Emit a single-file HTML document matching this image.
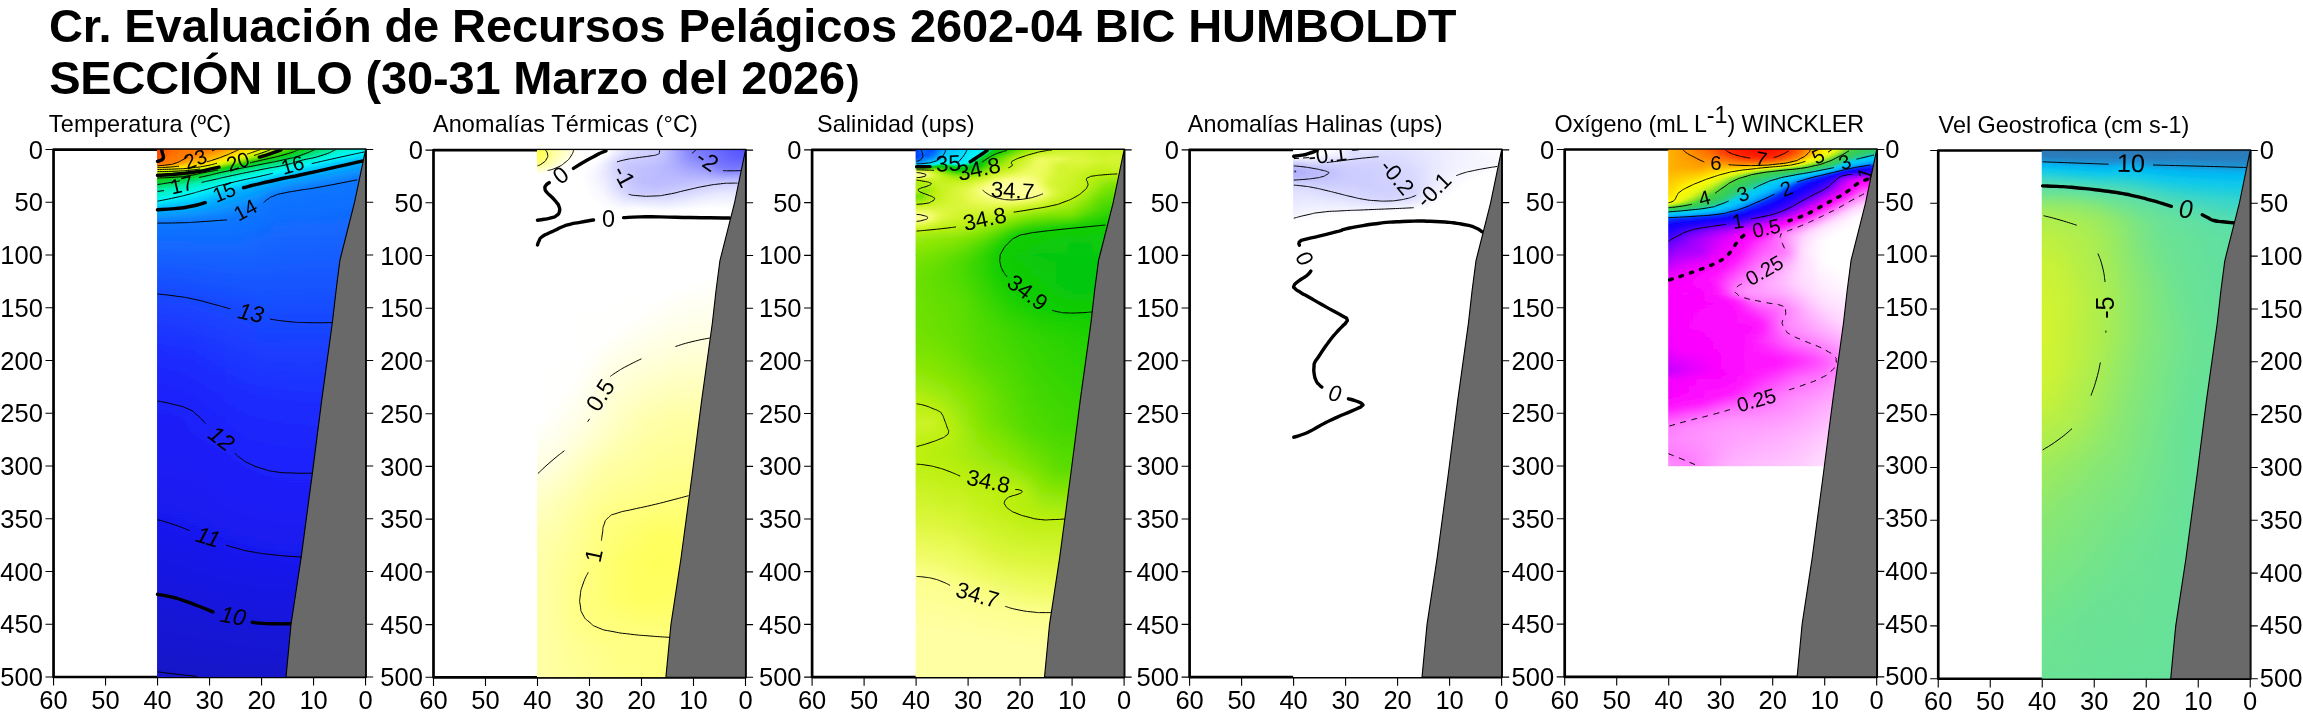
<!DOCTYPE html>
<html><head><meta charset="utf-8"><title>Sección Ilo</title>
<style>
html,body{margin:0;padding:0;background:#fff;}
svg{display:block;opacity:.9999;}
text{font-family:"Liberation Sans",sans-serif;fill:#000;}
.tl{font-size:25.5px;}
.lab{font-size:23.4px;}
.ttl{font-size:47px;font-weight:bold;}
.c0,.c1,.c2,.c3,.c4,.c5{text-anchor:middle;}
.c0{font-size:23px}.c1{font-size:23.4px}.c2{font-size:22.4px}.c3{font-size:22.4px}.c4{font-size:20.4px}.c5{font-size:25.3px}
.th{fill:none;stroke:#000;stroke-width:1;}
.tk{fill:none;stroke:#000;stroke-width:3.4;stroke-linecap:round;stroke-linejoin:round;}
</style></head>
<body>
<svg width="2303" height="718" viewBox="0 0 2303 718">
<rect width="2303" height="718" fill="#fff"/>

<text class="ttl" x="49.0" y="41.8" textLength="1407.5" lengthAdjust="spacing">Cr. Evaluación de Recursos Pelágicos 2602-04 BIC HUMBOLDT</text>
<text class="ttl" x="49.2" y="93.8"><tspan textLength="796" lengthAdjust="spacing">SECCIÓN ILO (30-31 Marzo del 2026</tspan><tspan font-size="40px" dx="1.2">)</tspan></text>
<text class="lab" x="48.8" y="132.3" textLength="182.3" lengthAdjust="spacing">Temperatura (ºC)</text>
<text class="lab" x="432.9" y="132.3" textLength="265.0" lengthAdjust="spacing">Anomalías Térmicas (°C)</text>
<text class="lab" x="817.0" y="132.3" textLength="157.5" lengthAdjust="spacing">Salinidad (ups)</text>
<text class="lab" x="1187.8" y="132.3" textLength="254.8" lengthAdjust="spacing">Anomalías Halinas (ups)</text>
<text class="lab" x="1938.6" y="133.0" textLength="250.6" lengthAdjust="spacing">Vel Geostrofica (cm s-1)</text>
<text class="lab" x="1554.6" y="132.2" textLength="309.5" lengthAdjust="spacing">Oxígeno (mL L<tspan dy="-9.5">-1</tspan><tspan dy="9.5">) WINCKLER</tspan></text>
<g id="p1">
<rect x="53.55" y="149.55" width="312.00" height="527.45" fill="#fff" stroke="#000" stroke-width="2.7" stroke-linejoin="round"/>
<defs><linearGradient id="g0a0" gradientUnits="userSpaceOnUse" x1="0" y1="149.55" x2="0" y2="238.80"><stop offset="0" stop-color="#ff3f00"/><stop offset=".112" stop-color="#ff4c00"/><stop offset=".146" stop-color="#ff6300"/><stop offset=".169" stop-color="#ff7800"/><stop offset=".18" stop-color="#ff8d00"/><stop offset=".191" stop-color="#ffb300"/><stop offset=".213" stop-color="#ffe800"/><stop offset=".225" stop-color="#f4f300"/><stop offset=".236" stop-color="#e1f400"/><stop offset=".281" stop-color="#8be300"/><stop offset=".315" stop-color="#19ca01"/><stop offset=".382" stop-color="#01d643"/><stop offset=".461" stop-color="#00efb2"/><stop offset=".573" stop-color="#00f9fa"/><stop offset=".674" stop-color="#00b2ff"/><stop offset=".82" stop-color="#0f76ff"/><stop offset="1" stop-color="#116cff"/></linearGradient><linearGradient id="g0a1" gradientUnits="userSpaceOnUse" x1="0" y1="149.55" x2="0" y2="238.80"><stop offset="0" stop-color="#ff3f00"/><stop offset=".112" stop-color="#ff4c00"/><stop offset=".146" stop-color="#ff6300"/><stop offset=".169" stop-color="#ff7800"/><stop offset=".18" stop-color="#ff8d00"/><stop offset=".191" stop-color="#ffb300"/><stop offset=".213" stop-color="#ffe800"/><stop offset=".225" stop-color="#f4f300"/><stop offset=".236" stop-color="#e1f400"/><stop offset=".281" stop-color="#8be300"/><stop offset=".315" stop-color="#19ca01"/><stop offset=".382" stop-color="#01d643"/><stop offset=".461" stop-color="#00efb2"/><stop offset=".573" stop-color="#00f9fa"/><stop offset=".674" stop-color="#00b2ff"/><stop offset=".82" stop-color="#0f76ff"/><stop offset="1" stop-color="#116cff"/></linearGradient><linearGradient id="g0a2" gradientUnits="userSpaceOnUse" x1="0" y1="149.55" x2="0" y2="238.80"><stop offset="0" stop-color="#ff3f00"/><stop offset=".112" stop-color="#ff4c00"/><stop offset=".146" stop-color="#ff6300"/><stop offset=".169" stop-color="#ff7800"/><stop offset=".18" stop-color="#ff8d00"/><stop offset=".191" stop-color="#ffb300"/><stop offset=".213" stop-color="#ffe800"/><stop offset=".225" stop-color="#f4f300"/><stop offset=".236" stop-color="#e1f400"/><stop offset=".281" stop-color="#8be300"/><stop offset=".315" stop-color="#19ca01"/><stop offset=".382" stop-color="#01d643"/><stop offset=".461" stop-color="#00efb2"/><stop offset=".573" stop-color="#00f9fa"/><stop offset=".674" stop-color="#00b2ff"/><stop offset=".82" stop-color="#0f76ff"/><stop offset="1" stop-color="#116cff"/></linearGradient><linearGradient id="g0a3" gradientUnits="userSpaceOnUse" x1="0" y1="149.55" x2="0" y2="238.80"><stop offset="0" stop-color="#ff4200"/><stop offset=".101" stop-color="#ff5100"/><stop offset=".169" stop-color="#ff7a00"/><stop offset=".18" stop-color="#ff9300"/><stop offset=".191" stop-color="#ffb700"/><stop offset=".202" stop-color="#ffd300"/><stop offset=".213" stop-color="#ffea00"/><stop offset=".236" stop-color="#dff400"/><stop offset=".281" stop-color="#89e200"/><stop offset=".303" stop-color="#38d100"/><stop offset=".315" stop-color="#18ca03"/><stop offset=".382" stop-color="#00d746"/><stop offset=".461" stop-color="#00f0b5"/><stop offset=".573" stop-color="#00f7fa"/><stop offset=".674" stop-color="#01b2ff"/><stop offset=".82" stop-color="#0f76ff"/><stop offset="1" stop-color="#116cff"/></linearGradient><linearGradient id="g0a4" gradientUnits="userSpaceOnUse" x1="0" y1="149.55" x2="0" y2="238.80"><stop offset="0" stop-color="#ff5000"/><stop offset=".09" stop-color="#ff6500"/><stop offset=".169" stop-color="#ff8100"/><stop offset=".191" stop-color="#ffc100"/><stop offset=".213" stop-color="#ffef00"/><stop offset=".236" stop-color="#dcf500"/><stop offset=".27" stop-color="#99e600"/><stop offset=".281" stop-color="#7fe000"/><stop offset=".303" stop-color="#2cce00"/><stop offset=".315" stop-color="#17cb06"/><stop offset=".371" stop-color="#02d642"/><stop offset=".449" stop-color="#00f0b2"/><stop offset=".562" stop-color="#00f8fa"/><stop offset=".663" stop-color="#00b5ff"/><stop offset=".82" stop-color="#0f76ff"/><stop offset="1" stop-color="#116cff"/></linearGradient><linearGradient id="g0a5" gradientUnits="userSpaceOnUse" x1="0" y1="149.55" x2="0" y2="238.80"><stop offset="0" stop-color="#ff5f00"/><stop offset=".157" stop-color="#ff7d00"/><stop offset=".169" stop-color="#ff8f00"/><stop offset=".191" stop-color="#ffc800"/><stop offset=".213" stop-color="#fef200"/><stop offset=".236" stop-color="#d8f500"/><stop offset=".27" stop-color="#94e500"/><stop offset=".281" stop-color="#74de00"/><stop offset=".303" stop-color="#20cb00"/><stop offset=".315" stop-color="#15cc0b"/><stop offset=".371" stop-color="#00d84b"/><stop offset=".438" stop-color="#00efaf"/><stop offset=".551" stop-color="#00f9fa"/><stop offset=".663" stop-color="#00b3ff"/><stop offset=".809" stop-color="#0e79ff"/><stop offset="1" stop-color="#116cff"/></linearGradient><linearGradient id="g0a6" gradientUnits="userSpaceOnUse" x1="0" y1="149.55" x2="0" y2="238.80"><stop offset="0" stop-color="#ff6700"/><stop offset=".157" stop-color="#ff8100"/><stop offset=".191" stop-color="#ffcd00"/><stop offset=".213" stop-color="#fbf200"/><stop offset=".236" stop-color="#d3f400"/><stop offset=".27" stop-color="#8ee400"/><stop offset=".303" stop-color="#18ca02"/><stop offset=".36" stop-color="#00d746"/><stop offset=".438" stop-color="#00f0b7"/><stop offset=".539" stop-color="#00f9f9"/><stop offset=".652" stop-color="#00b6ff"/><stop offset=".809" stop-color="#0e78ff"/><stop offset="1" stop-color="#116cff"/></linearGradient><linearGradient id="g0a7" gradientUnits="userSpaceOnUse" x1="0" y1="149.55" x2="0" y2="238.80"><stop offset="0" stop-color="#ff6b00"/><stop offset=".146" stop-color="#ff8000"/><stop offset=".202" stop-color="#ffe600"/><stop offset=".213" stop-color="#f7f300"/><stop offset=".236" stop-color="#cff300"/><stop offset=".27" stop-color="#87e200"/><stop offset=".292" stop-color="#31cf00"/><stop offset=".303" stop-color="#17cb07"/><stop offset=".348" stop-color="#02d641"/><stop offset=".427" stop-color="#00f0b6"/><stop offset=".528" stop-color="#00f9f9"/><stop offset=".652" stop-color="#00b4ff"/><stop offset=".809" stop-color="#0f78ff"/><stop offset="1" stop-color="#116cff"/></linearGradient><linearGradient id="g0a8" gradientUnits="userSpaceOnUse" x1="0" y1="149.55" x2="0" y2="238.80"><stop offset="0" stop-color="#ff7000"/><stop offset=".124" stop-color="#ff7e00"/><stop offset=".135" stop-color="#ff8600"/><stop offset=".202" stop-color="#ffea00"/><stop offset=".213" stop-color="#f4f300"/><stop offset=".225" stop-color="#e0f400"/><stop offset=".258" stop-color="#99e600"/><stop offset=".27" stop-color="#7bdf00"/><stop offset=".292" stop-color="#24cc00"/><stop offset=".303" stop-color="#15cc0c"/><stop offset=".348" stop-color="#00d84b"/><stop offset=".416" stop-color="#00f0b3"/><stop offset=".517" stop-color="#00faf8"/><stop offset=".652" stop-color="#01b2ff"/><stop offset=".809" stop-color="#0f77ff"/><stop offset="1" stop-color="#116cff"/></linearGradient><linearGradient id="g0a9" gradientUnits="userSpaceOnUse" x1="0" y1="149.55" x2="0" y2="238.80"><stop offset="0" stop-color="#ff7300"/><stop offset=".112" stop-color="#ff8200"/><stop offset=".169" stop-color="#ffc100"/><stop offset=".202" stop-color="#fe0"/><stop offset=".225" stop-color="#dcf500"/><stop offset=".258" stop-color="#8ce300"/><stop offset=".292" stop-color="#19ca01"/><stop offset=".337" stop-color="#01d746"/><stop offset=".404" stop-color="#00efb0"/><stop offset=".506" stop-color="#00faf7"/><stop offset=".64" stop-color="#00b5ff"/><stop offset=".809" stop-color="#0f76ff"/><stop offset="1" stop-color="#116cff"/></linearGradient><linearGradient id="g0a10" gradientUnits="userSpaceOnUse" x1="0" y1="149.55" x2="0" y2="238.80"><stop offset="0" stop-color="#ff7600"/><stop offset=".09" stop-color="#ff8000"/><stop offset=".169" stop-color="#ffc800"/><stop offset=".202" stop-color="#fff100"/><stop offset=".225" stop-color="#d8f500"/><stop offset=".258" stop-color="#7adf00"/><stop offset=".281" stop-color="#31cf00"/><stop offset=".292" stop-color="#17cb07"/><stop offset=".326" stop-color="#02d63f"/><stop offset=".393" stop-color="#00eeac"/><stop offset=".404" stop-color="#00f1b8"/><stop offset=".506" stop-color="#00f7fa"/><stop offset=".64" stop-color="#00b3ff"/><stop offset=".809" stop-color="#0f76ff"/><stop offset="1" stop-color="#116cff"/></linearGradient><linearGradient id="g0a11" gradientUnits="userSpaceOnUse" x1="0" y1="149.55" x2="0" y2="238.80"><stop offset="0" stop-color="#ff7800"/><stop offset=".079" stop-color="#ff8300"/><stop offset=".157" stop-color="#ffc300"/><stop offset=".202" stop-color="#fbf200"/><stop offset=".225" stop-color="#d0f300"/><stop offset=".281" stop-color="#1fcc01"/><stop offset=".292" stop-color="#13cd11"/><stop offset=".326" stop-color="#00d84c"/><stop offset=".393" stop-color="#00f0b7"/><stop offset=".494" stop-color="#00f7fa"/><stop offset=".629" stop-color="#00b5ff"/><stop offset=".809" stop-color="#0f76ff"/><stop offset="1" stop-color="#116cff"/></linearGradient><linearGradient id="g0a12" gradientUnits="userSpaceOnUse" x1="0" y1="149.55" x2="0" y2="238.80"><stop offset="0" stop-color="#ff7900"/><stop offset=".056" stop-color="#ff7e00"/><stop offset=".067" stop-color="#ff8400"/><stop offset=".157" stop-color="#ffc800"/><stop offset=".191" stop-color="#ffed00"/><stop offset=".213" stop-color="#dff400"/><stop offset=".225" stop-color="#c1f000"/><stop offset=".27" stop-color="#25cd00"/><stop offset=".281" stop-color="#14cc0d"/><stop offset=".315" stop-color="#00d748"/><stop offset=".382" stop-color="#00f0b7"/><stop offset=".483" stop-color="#00f7fa"/><stop offset=".618" stop-color="#00b5ff"/><stop offset=".798" stop-color="#0e78ff"/><stop offset="1" stop-color="#116cff"/></linearGradient><linearGradient id="g0a13" gradientUnits="userSpaceOnUse" x1="0" y1="149.55" x2="0" y2="238.80"><stop offset="0" stop-color="#ff7b00"/><stop offset=".045" stop-color="#ff7f00"/><stop offset=".056" stop-color="#ff8500"/><stop offset=".146" stop-color="#ffc300"/><stop offset=".191" stop-color="#fef100"/><stop offset=".213" stop-color="#d6f400"/><stop offset=".236" stop-color="#87e200"/><stop offset=".258" stop-color="#2ecf00"/><stop offset=".27" stop-color="#16cc0a"/><stop offset=".303" stop-color="#01d643"/><stop offset=".371" stop-color="#00f0b7"/><stop offset=".461" stop-color="#00f9f7"/><stop offset=".607" stop-color="#00b5ff"/><stop offset=".798" stop-color="#0f78ff"/><stop offset="1" stop-color="#116cff"/></linearGradient><linearGradient id="g0a14" gradientUnits="userSpaceOnUse" x1="0" y1="149.55" x2="0" y2="238.80"><stop offset="0" stop-color="#ff7c00"/><stop offset=".034" stop-color="#ff7f00"/><stop offset=".045" stop-color="#ff8600"/><stop offset=".146" stop-color="#ffc800"/><stop offset=".18" stop-color="#ffeb00"/><stop offset=".191" stop-color="#f7f300"/><stop offset=".202" stop-color="#e3f400"/><stop offset=".213" stop-color="#c6f100"/><stop offset=".247" stop-color="#39d100"/><stop offset=".258" stop-color="#17cb06"/><stop offset=".303" stop-color="#00da52"/><stop offset=".36" stop-color="#00f0b6"/><stop offset=".449" stop-color="#00f9f8"/><stop offset=".596" stop-color="#00b5ff"/><stop offset=".798" stop-color="#0f77ff"/><stop offset="1" stop-color="#116cff"/></linearGradient><linearGradient id="g0a15" gradientUnits="userSpaceOnUse" x1="0" y1="149.55" x2="0" y2="238.80"><stop offset="0" stop-color="#ff7d00"/><stop offset=".022" stop-color="#ff8000"/><stop offset=".124" stop-color="#ffc000"/><stop offset=".169" stop-color="#ffea00"/><stop offset=".18" stop-color="#f9f200"/><stop offset=".202" stop-color="#cef300"/><stop offset=".247" stop-color="#19cb04"/><stop offset=".292" stop-color="#00d94f"/><stop offset=".348" stop-color="#00f0b5"/><stop offset=".438" stop-color="#00f9f9"/><stop offset=".584" stop-color="#00b3ff"/><stop offset=".798" stop-color="#0f76ff"/><stop offset="1" stop-color="#116cff"/></linearGradient><linearGradient id="g0a16" gradientUnits="userSpaceOnUse" x1="0" y1="149.55" x2="0" y2="238.80"><stop offset="0" stop-color="#ff7e00"/><stop offset=".112" stop-color="#ffc300"/><stop offset=".157" stop-color="#ffed00"/><stop offset=".169" stop-color="#f6f300"/><stop offset=".191" stop-color="#cff300"/><stop offset=".213" stop-color="#7ce000"/><stop offset=".236" stop-color="#1ccb03"/><stop offset=".281" stop-color="#00d94d"/><stop offset=".337" stop-color="#00f0b4"/><stop offset=".427" stop-color="#00f9f9"/><stop offset=".562" stop-color="#00b5ff"/><stop offset=".787" stop-color="#0e78ff"/><stop offset="1" stop-color="#116cff"/></linearGradient><linearGradient id="g0a17" gradientUnits="userSpaceOnUse" x1="0" y1="149.55" x2="0" y2="238.80"><stop offset="0" stop-color="#ff8300"/><stop offset=".101" stop-color="#ffc600"/><stop offset=".146" stop-color="#feef00"/><stop offset=".157" stop-color="#f4f300"/><stop offset=".18" stop-color="#cff300"/><stop offset=".202" stop-color="#81e100"/><stop offset=".225" stop-color="#20cc01"/><stop offset=".236" stop-color="#13cd12"/><stop offset=".27" stop-color="#00d84b"/><stop offset=".326" stop-color="#00efb2"/><stop offset=".416" stop-color="#00f9f9"/><stop offset=".551" stop-color="#00b3ff"/><stop offset=".787" stop-color="#0f78ff"/><stop offset="1" stop-color="#116cff"/></linearGradient><linearGradient id="g0a18" gradientUnits="userSpaceOnUse" x1="0" y1="149.55" x2="0" y2="238.80"><stop offset="0" stop-color="#ff8d00"/><stop offset=".079" stop-color="#ffc100"/><stop offset=".135" stop-color="#fdf000"/><stop offset=".157" stop-color="#e3f400"/><stop offset=".169" stop-color="#cff300"/><stop offset=".191" stop-color="#86e200"/><stop offset=".213" stop-color="#25cd01"/><stop offset=".225" stop-color="#14cd0f"/><stop offset=".258" stop-color="#00d849"/><stop offset=".315" stop-color="#00efaf"/><stop offset=".404" stop-color="#00f8fa"/><stop offset=".528" stop-color="#00b5ff"/><stop offset=".787" stop-color="#0f77ff"/><stop offset="1" stop-color="#116cff"/></linearGradient><linearGradient id="g0a19" gradientUnits="userSpaceOnUse" x1="0" y1="149.55" x2="0" y2="238.80"><stop offset="0" stop-color="#ff9700"/><stop offset=".067" stop-color="#ffc400"/><stop offset=".124" stop-color="#fcf100"/><stop offset=".157" stop-color="#d0f300"/><stop offset=".18" stop-color="#8ae300"/><stop offset=".202" stop-color="#2ace00"/><stop offset=".213" stop-color="#14cc0d"/><stop offset=".247" stop-color="#01d748"/><stop offset=".303" stop-color="#00eead"/><stop offset=".393" stop-color="#00f8fa"/><stop offset=".506" stop-color="#00b7ff"/><stop offset=".528" stop-color="#01b0ff"/><stop offset=".787" stop-color="#0f76ff"/><stop offset="1" stop-color="#116cff"/></linearGradient><linearGradient id="g0a20" gradientUnits="userSpaceOnUse" x1="0" y1="149.55" x2="0" y2="238.80"><stop offset="0" stop-color="#ffa200"/><stop offset=".101" stop-color="#ffec00"/><stop offset=".112" stop-color="#faf200"/><stop offset=".135" stop-color="#e0f400"/><stop offset=".146" stop-color="#cdf200"/><stop offset=".169" stop-color="#8ee400"/><stop offset=".191" stop-color="#31cf00"/><stop offset=".202" stop-color="#15cc0a"/><stop offset=".236" stop-color="#01d746"/><stop offset=".292" stop-color="#0ea"/><stop offset=".303" stop-color="#00f1b9"/><stop offset=".382" stop-color="#00f7fa"/><stop offset=".506" stop-color="#01b1ff"/><stop offset=".787" stop-color="#0f76ff"/><stop offset="1" stop-color="#116cff"/></linearGradient><linearGradient id="g0a21" gradientUnits="userSpaceOnUse" x1="0" y1="149.55" x2="0" y2="238.80"><stop offset="0" stop-color="#ffaf00"/><stop offset=".09" stop-color="#fe0"/><stop offset=".101" stop-color="#f8f300"/><stop offset=".124" stop-color="#def500"/><stop offset=".135" stop-color="#c9f200"/><stop offset=".157" stop-color="#91e400"/><stop offset=".18" stop-color="#37d100"/><stop offset=".191" stop-color="#16cb07"/><stop offset=".225" stop-color="#01d643"/><stop offset=".292" stop-color="#00f1b8"/><stop offset=".371" stop-color="#00f7fa"/><stop offset=".483" stop-color="#00b3ff"/><stop offset=".775" stop-color="#0f76ff"/><stop offset="1" stop-color="#116cff"/></linearGradient><linearGradient id="g0a22" gradientUnits="userSpaceOnUse" x1="0" y1="149.55" x2="0" y2="238.80"><stop offset="0" stop-color="#ffbc00"/><stop offset=".079" stop-color="#fef000"/><stop offset=".09" stop-color="#f6f300"/><stop offset=".112" stop-color="#daf400"/><stop offset=".146" stop-color="#93e500"/><stop offset=".18" stop-color="#18cb05"/><stop offset=".213" stop-color="#03d63f"/><stop offset=".281" stop-color="#00f0b6"/><stop offset=".36" stop-color="#00f8fa"/><stop offset=".449" stop-color="#00baff"/><stop offset=".472" stop-color="#01b1ff"/><stop offset=".753" stop-color="#0f77ff"/><stop offset="1" stop-color="#116bff"/></linearGradient><linearGradient id="g0a23" gradientUnits="userSpaceOnUse" x1="0" y1="149.55" x2="0" y2="238.80"><stop offset="0" stop-color="#ffc900"/><stop offset=".067" stop-color="#fef100"/><stop offset=".09" stop-color="#e6f400"/><stop offset=".101" stop-color="#d7f400"/><stop offset=".135" stop-color="#94e500"/><stop offset=".146" stop-color="#72dd00"/><stop offset=".169" stop-color="#1acb03"/><stop offset=".213" stop-color="#00d94f"/><stop offset=".27" stop-color="#00f0b3"/><stop offset=".348" stop-color="#00f8fa"/><stop offset=".449" stop-color="#00b2ff"/><stop offset=".742" stop-color="#0f77ff"/><stop offset="1" stop-color="#116bff"/></linearGradient><linearGradient id="g0a24" gradientUnits="userSpaceOnUse" x1="0" y1="149.55" x2="0" y2="238.80"><stop offset="0" stop-color="#ffd200"/><stop offset=".056" stop-color="#fcf200"/><stop offset=".079" stop-color="#e3f400"/><stop offset=".09" stop-color="#d4f400"/><stop offset=".124" stop-color="#91e400"/><stop offset=".135" stop-color="#70dd00"/><stop offset=".157" stop-color="#1ecb02"/><stop offset=".202" stop-color="#00d84a"/><stop offset=".258" stop-color="#00efb0"/><stop offset=".337" stop-color="#00f9f9"/><stop offset=".416" stop-color="#0bf"/><stop offset=".438" stop-color="#01b1ff"/><stop offset=".73" stop-color="#0f77ff"/><stop offset="1" stop-color="#116bff"/></linearGradient><linearGradient id="g0a25" gradientUnits="userSpaceOnUse" x1="0" y1="149.55" x2="0" y2="238.80"><stop offset="0" stop-color="#ffdb00"/><stop offset=".045" stop-color="#faf200"/><stop offset=".067" stop-color="#e0f400"/><stop offset=".079" stop-color="#d0f300"/><stop offset=".112" stop-color="#8ee400"/><stop offset=".146" stop-color="#21cc01"/><stop offset=".157" stop-color="#14cd0f"/><stop offset=".191" stop-color="#01d746"/><stop offset=".247" stop-color="#00eead"/><stop offset=".326" stop-color="#00f9f9"/><stop offset=".404" stop-color="#00baff"/><stop offset=".427" stop-color="#01b1ff"/><stop offset=".708" stop-color="#0f77ff"/><stop offset="1" stop-color="#126aff"/></linearGradient><linearGradient id="g0a26" gradientUnits="userSpaceOnUse" x1="0" y1="149.55" x2="0" y2="238.80"><stop offset="0" stop-color="#ffe300"/><stop offset=".022" stop-color="#ffef00"/><stop offset=".034" stop-color="#f7f300"/><stop offset=".067" stop-color="#ccf200"/><stop offset=".101" stop-color="#8be300"/><stop offset=".135" stop-color="#24cc00"/><stop offset=".146" stop-color="#14cc0d"/><stop offset=".18" stop-color="#02d642"/><stop offset=".236" stop-color="#00eea9"/><stop offset=".247" stop-color="#00f1b9"/><stop offset=".315" stop-color="#00f9f8"/><stop offset=".404" stop-color="#00b3ff"/><stop offset=".674" stop-color="#0e78ff"/><stop offset="1" stop-color="#126aff"/></linearGradient><linearGradient id="g0a27" gradientUnits="userSpaceOnUse" x1="0" y1="149.55" x2="0" y2="238.80"><stop offset="0" stop-color="#ffeb00"/><stop offset=".011" stop-color="#fef100"/><stop offset=".022" stop-color="#f3f300"/><stop offset=".056" stop-color="#c7f100"/><stop offset=".09" stop-color="#88e200"/><stop offset=".124" stop-color="#27cd00"/><stop offset=".135" stop-color="#15cc0a"/><stop offset=".18" stop-color="#00da52"/><stop offset=".236" stop-color="#00f0b7"/><stop offset=".303" stop-color="#00f9f7"/><stop offset=".315" stop-color="#00f3fb"/><stop offset=".393" stop-color="#00b3ff"/><stop offset=".652" stop-color="#0f78ff"/><stop offset="1" stop-color="#1269ff"/></linearGradient><linearGradient id="g0a28" gradientUnits="userSpaceOnUse" x1="0" y1="149.55" x2="0" y2="238.80"><stop offset="0" stop-color="#fcf200"/><stop offset=".034" stop-color="#d6f400"/><stop offset=".067" stop-color="#9ae700"/><stop offset=".079" stop-color="#84e100"/><stop offset=".112" stop-color="#2ace00"/><stop offset=".124" stop-color="#16cb08"/><stop offset=".169" stop-color="#00d94e"/><stop offset=".225" stop-color="#00f0b5"/><stop offset=".292" stop-color="#00f9f6"/><stop offset=".303" stop-color="#00f4fa"/><stop offset=".382" stop-color="#00b3ff"/><stop offset=".618" stop-color="#0e78ff"/><stop offset="1" stop-color="#1268ff"/></linearGradient><linearGradient id="g0a29" gradientUnits="userSpaceOnUse" x1="0" y1="149.55" x2="0" y2="238.80"><stop offset="0" stop-color="#edf300"/><stop offset=".022" stop-color="#d1f300"/><stop offset=".056" stop-color="#93e500"/><stop offset=".101" stop-color="#2ace00"/><stop offset=".112" stop-color="#17cb06"/><stop offset=".157" stop-color="#00d84a"/><stop offset=".213" stop-color="#00efb2"/><stop offset=".281" stop-color="#00f9f5"/><stop offset=".292" stop-color="#00f4fa"/><stop offset=".371" stop-color="#00b3ff"/><stop offset=".584" stop-color="#0e79ff"/><stop offset="1" stop-color="#1267ff"/></linearGradient><linearGradient id="g0a30" gradientUnits="userSpaceOnUse" x1="0" y1="149.55" x2="0" y2="238.80"><stop offset="0" stop-color="#ddf500"/><stop offset=".034" stop-color="#a1e800"/><stop offset=".09" stop-color="#29cd00"/><stop offset=".101" stop-color="#17cb06"/><stop offset=".146" stop-color="#01d746"/><stop offset=".202" stop-color="#00efae"/><stop offset=".27" stop-color="#00f9f5"/><stop offset=".281" stop-color="#00f5fa"/><stop offset=".36" stop-color="#00b4ff"/><stop offset=".562" stop-color="#0f77ff"/><stop offset="1" stop-color="#1267ff"/></linearGradient><linearGradient id="g0a31" gradientUnits="userSpaceOnUse" x1="0" y1="149.55" x2="0" y2="238.80"><stop offset="0" stop-color="#c6f100"/><stop offset=".079" stop-color="#28cd00"/><stop offset=".09" stop-color="#17cb05"/><stop offset=".135" stop-color="#01d643"/><stop offset=".202" stop-color="#00f1b9"/><stop offset=".258" stop-color="#00f9f4"/><stop offset=".27" stop-color="#00f6fa"/><stop offset=".348" stop-color="#00b4ff"/><stop offset=".528" stop-color="#0f78ff"/><stop offset="1" stop-color="#1266ff"/></linearGradient><linearGradient id="g0a32" gradientUnits="userSpaceOnUse" x1="0" y1="149.55" x2="0" y2="238.80"><stop offset="0" stop-color="#a7ea00"/><stop offset=".067" stop-color="#28cd00"/><stop offset=".079" stop-color="#18cb04"/><stop offset=".124" stop-color="#02d640"/><stop offset=".191" stop-color="#00f0b7"/><stop offset=".247" stop-color="#00f9f4"/><stop offset=".258" stop-color="#00f6fa"/><stop offset=".337" stop-color="#00b5ff"/><stop offset=".517" stop-color="#0f76ff"/><stop offset="1" stop-color="#1366ff"/></linearGradient><linearGradient id="g0a33" gradientUnits="userSpaceOnUse" x1="0" y1="149.55" x2="0" y2="238.80"><stop offset="0" stop-color="#87e200"/><stop offset=".067" stop-color="#18cb04"/><stop offset=".124" stop-color="#00d94f"/><stop offset=".18" stop-color="#00f0b3"/><stop offset=".236" stop-color="#00f9f4"/><stop offset=".247" stop-color="#00f5fa"/><stop offset=".326" stop-color="#00b6ff"/><stop offset=".506" stop-color="#0f76ff"/><stop offset="1" stop-color="#1366ff"/></linearGradient><linearGradient id="g0a34" gradientUnits="userSpaceOnUse" x1="0" y1="149.55" x2="0" y2="238.80"><stop offset="0" stop-color="#6edd00"/><stop offset=".045" stop-color="#27cd00"/><stop offset=".056" stop-color="#19cb03"/><stop offset=".067" stop-color="#13cd11"/><stop offset=".112" stop-color="#00d84b"/><stop offset=".169" stop-color="#00efaf"/><stop offset=".225" stop-color="#00f9f4"/><stop offset=".236" stop-color="#00f5fa"/><stop offset=".315" stop-color="#00b7ff"/><stop offset=".494" stop-color="#0f76ff"/><stop offset="1" stop-color="#1366ff"/></linearGradient><linearGradient id="g0a35" gradientUnits="userSpaceOnUse" x1="0" y1="149.55" x2="0" y2="238.80"><stop offset="0" stop-color="#57d800"/><stop offset=".034" stop-color="#23cc00"/><stop offset=".045" stop-color="#17cb06"/><stop offset=".09" stop-color="#04d53c"/><stop offset=".157" stop-color="#00efaf"/><stop offset=".213" stop-color="#00f9f4"/><stop offset=".225" stop-color="#00f5fa"/><stop offset=".315" stop-color="#01b2ff"/><stop offset=".483" stop-color="#0f76ff"/><stop offset="1" stop-color="#1365ff"/></linearGradient><linearGradient id="g0a36" gradientUnits="userSpaceOnUse" x1="0" y1="149.55" x2="0" y2="238.80"><stop offset="0" stop-color="#3ed200"/><stop offset=".022" stop-color="#1dcb01"/><stop offset=".079" stop-color="#03d53d"/><stop offset=".09" stop-color="#00d84c"/><stop offset=".146" stop-color="#00efb2"/><stop offset=".202" stop-color="#00f9f4"/><stop offset=".213" stop-color="#00f5fa"/><stop offset=".303" stop-color="#00b3ff"/><stop offset=".472" stop-color="#0f76ff"/><stop offset="1" stop-color="#1365ff"/></linearGradient><linearGradient id="g0a37" gradientUnits="userSpaceOnUse" x1="0" y1="149.55" x2="0" y2="238.80"><stop offset="0" stop-color="#25cd00"/><stop offset=".011" stop-color="#18cb04"/><stop offset=".079" stop-color="#00d94e"/><stop offset=".135" stop-color="#00f0b4"/><stop offset=".191" stop-color="#00f9f5"/><stop offset=".202" stop-color="#00f5fa"/><stop offset=".292" stop-color="#00b4ff"/><stop offset=".461" stop-color="#0f76ff"/><stop offset="1" stop-color="#1365ff"/></linearGradient><linearGradient id="g0a38" gradientUnits="userSpaceOnUse" x1="0" y1="149.55" x2="0" y2="238.80"><stop offset="0" stop-color="#16cc08"/><stop offset=".067" stop-color="#00d950"/><stop offset=".124" stop-color="#00f0b6"/><stop offset=".18" stop-color="#00f9f5"/><stop offset=".191" stop-color="#00f5fa"/><stop offset=".281" stop-color="#00b5ff"/><stop offset=".449" stop-color="#0f78ff"/><stop offset="1" stop-color="#1365ff"/></linearGradient><linearGradient id="g0a39" gradientUnits="userSpaceOnUse" x1="0" y1="149.55" x2="0" y2="238.80"><stop offset="0" stop-color="#10cf18"/><stop offset=".045" stop-color="#01d747"/><stop offset=".112" stop-color="#00f0b6"/><stop offset=".169" stop-color="#00f9f5"/><stop offset=".18" stop-color="#00f6fa"/><stop offset=".27" stop-color="#00b6ff"/><stop offset=".449" stop-color="#0f76ff"/><stop offset="1" stop-color="#1365ff"/></linearGradient><linearGradient id="g0a40" gradientUnits="userSpaceOnUse" x1="0" y1="149.55" x2="0" y2="238.80"><stop offset="0" stop-color="#0ad22a"/><stop offset=".034" stop-color="#00d94f"/><stop offset=".101" stop-color="#00f0b6"/><stop offset=".157" stop-color="#00f9f4"/><stop offset=".169" stop-color="#00f6fa"/><stop offset=".258" stop-color="#00b6ff"/><stop offset=".438" stop-color="#0f76ff"/><stop offset="1" stop-color="#1365ff"/></linearGradient><linearGradient id="g0a41" gradientUnits="userSpaceOnUse" x1="0" y1="149.55" x2="0" y2="238.80"><stop offset="0" stop-color="#04d53c"/><stop offset=".09" stop-color="#00f0b5"/><stop offset=".157" stop-color="#00f7fa"/><stop offset=".258" stop-color="#01b2ff"/><stop offset=".427" stop-color="#0f77ff"/><stop offset="1" stop-color="#1365ff"/></linearGradient><linearGradient id="g0a42" gradientUnits="userSpaceOnUse" x1="0" y1="149.55" x2="0" y2="238.80"><stop offset="0" stop-color="#00d950"/><stop offset=".079" stop-color="#00f0b4"/><stop offset=".146" stop-color="#00f7fa"/><stop offset=".247" stop-color="#00b2ff"/><stop offset=".427" stop-color="#0f76ff"/><stop offset="1" stop-color="#1365ff"/></linearGradient><linearGradient id="g0a43" gradientUnits="userSpaceOnUse" x1="0" y1="149.55" x2="0" y2="238.80"><stop offset="0" stop-color="#00de63"/><stop offset=".067" stop-color="#00f0b4"/><stop offset=".135" stop-color="#00f8fa"/><stop offset=".236" stop-color="#00b3ff"/><stop offset=".416" stop-color="#0f76ff"/><stop offset="1" stop-color="#1364ff"/></linearGradient><linearGradient id="g0a44" gradientUnits="userSpaceOnUse" x1="0" y1="149.55" x2="0" y2="238.80"><stop offset="0" stop-color="#00e276"/><stop offset=".056" stop-color="#00f1b9"/><stop offset=".124" stop-color="#00f9f9"/><stop offset=".225" stop-color="#00b3ff"/><stop offset=".404" stop-color="#0f77ff"/><stop offset="1" stop-color="#1364ff"/></linearGradient><linearGradient id="g0a45" gradientUnits="userSpaceOnUse" x1="0" y1="149.55" x2="0" y2="238.80"><stop offset="0" stop-color="#00e78b"/><stop offset=".045" stop-color="#00f2bf"/><stop offset=".112" stop-color="#00f9f9"/><stop offset=".124" stop-color="#00f2fb"/><stop offset=".213" stop-color="#00b4ff"/><stop offset=".404" stop-color="#0f76ff"/><stop offset="1" stop-color="#1364ff"/></linearGradient><linearGradient id="g0a46" gradientUnits="userSpaceOnUse" x1="0" y1="149.55" x2="0" y2="238.80"><stop offset="0" stop-color="#00eca1"/><stop offset=".022" stop-color="#00f1ba"/><stop offset=".09" stop-color="#00f9f0"/><stop offset=".112" stop-color="#00f3fb"/><stop offset=".202" stop-color="#00b5ff"/><stop offset=".393" stop-color="#0f76ff"/><stop offset="1" stop-color="#1364ff"/></linearGradient><linearGradient id="g0a47" gradientUnits="userSpaceOnUse" x1="0" y1="149.55" x2="0" y2="238.80"><stop offset="0" stop-color="#00f0b6"/><stop offset=".09" stop-color="#00f9f8"/><stop offset=".101" stop-color="#00f3fa"/><stop offset=".191" stop-color="#00b5ff"/><stop offset=".382" stop-color="#0f76ff"/><stop offset="1" stop-color="#1364ff"/></linearGradient><linearGradient id="g0a48" gradientUnits="userSpaceOnUse" x1="0" y1="149.55" x2="0" y2="238.80"><stop offset="0" stop-color="#00f2c2"/><stop offset=".079" stop-color="#00faf8"/><stop offset=".09" stop-color="#00f4fa"/><stop offset=".18" stop-color="#00b6ff"/><stop offset=".371" stop-color="#0f77ff"/><stop offset="1" stop-color="#1364ff"/></linearGradient><linearGradient id="g0a49" gradientUnits="userSpaceOnUse" x1="0" y1="149.55" x2="0" y2="238.80"><stop offset="0" stop-color="#00f3cb"/><stop offset=".067" stop-color="#00faf7"/><stop offset=".079" stop-color="#00f5fa"/><stop offset=".18" stop-color="#01b2ff"/><stop offset=".371" stop-color="#0f76ff"/><stop offset="1" stop-color="#1363ff"/></linearGradient><linearGradient id="g0a50" gradientUnits="userSpaceOnUse" x1="0" y1="149.55" x2="0" y2="238.80"><stop offset="0" stop-color="#00f5d4"/><stop offset=".067" stop-color="#00f6fa"/><stop offset=".169" stop-color="#00b2ff"/><stop offset=".36" stop-color="#0f76ff"/><stop offset="1" stop-color="#1363ff"/></linearGradient><linearGradient id="g0a51" gradientUnits="userSpaceOnUse" x1="0" y1="149.55" x2="0" y2="238.80"><stop offset="0" stop-color="#00f6db"/><stop offset=".056" stop-color="#00f7fa"/><stop offset=".157" stop-color="#00b2ff"/><stop offset=".348" stop-color="#0f76ff"/><stop offset="1" stop-color="#1363ff"/></linearGradient><linearGradient id="g0a52" gradientUnits="userSpaceOnUse" x1="0" y1="149.55" x2="0" y2="238.80"><stop offset="0" stop-color="#00f7e2"/><stop offset=".045" stop-color="#00f8fa"/><stop offset=".146" stop-color="#00b3ff"/><stop offset=".337" stop-color="#0f77ff"/><stop offset="1" stop-color="#1363ff"/></linearGradient><linearGradient id="g0a53" gradientUnits="userSpaceOnUse" x1="0" y1="149.55" x2="0" y2="238.80"><stop offset="0" stop-color="#00f8e9"/><stop offset=".034" stop-color="#00f9fa"/><stop offset=".135" stop-color="#00b3ff"/><stop offset=".326" stop-color="#0f77ff"/><stop offset="1" stop-color="#1363ff"/></linearGradient><linearGradient id="g0a54" gradientUnits="userSpaceOnUse" x1="0" y1="149.55" x2="0" y2="238.80"><stop offset="0" stop-color="#00f8ef"/><stop offset=".022" stop-color="#00f9f9"/><stop offset=".124" stop-color="#00b4ff"/><stop offset=".326" stop-color="#0f76ff"/><stop offset="1" stop-color="#1363ff"/></linearGradient><linearGradient id="g0a55" gradientUnits="userSpaceOnUse" x1="0" y1="149.55" x2="0" y2="238.80"><stop offset="0" stop-color="#00f9f1"/><stop offset=".022" stop-color="#00f7fa"/><stop offset=".124" stop-color="#00b2ff"/><stop offset=".315" stop-color="#0f77ff"/><stop offset="1" stop-color="#1363ff"/></linearGradient><linearGradient id="g0a56" gradientUnits="userSpaceOnUse" x1="0" y1="149.55" x2="0" y2="238.80"><stop offset="0" stop-color="#00f9f1"/><stop offset=".022" stop-color="#00f7fa"/><stop offset=".124" stop-color="#00b2ff"/><stop offset=".315" stop-color="#0f77ff"/><stop offset="1" stop-color="#1363ff"/></linearGradient><linearGradient id="g0a57" gradientUnits="userSpaceOnUse" x1="0" y1="149.55" x2="0" y2="238.80"><stop offset="0" stop-color="#00f9f1"/><stop offset=".022" stop-color="#00f7fa"/><stop offset=".124" stop-color="#00b2ff"/><stop offset=".315" stop-color="#0f77ff"/><stop offset="1" stop-color="#1363ff"/></linearGradient><filter id="fb0a" x="-10%" y="-2%" width="120%" height="104%"><feGaussianBlur stdDeviation="2 0"/></filter><linearGradient id="g0b0" gradientUnits="userSpaceOnUse" x1="0" y1="238.80" x2="0" y2="677.00"><stop offset="0" stop-color="#116cff"/><stop offset=".126" stop-color="#1948ff"/><stop offset=".247" stop-color="#1d2dfe"/><stop offset=".371" stop-color="#1c20fa"/><stop offset=".643" stop-color="#1919ee"/><stop offset="1" stop-color="#1212c7"/></linearGradient><linearGradient id="g0b1" gradientUnits="userSpaceOnUse" x1="0" y1="238.80" x2="0" y2="677.00"><stop offset="0" stop-color="#116cff"/><stop offset=".126" stop-color="#1948ff"/><stop offset=".249" stop-color="#1d2dfe"/><stop offset=".371" stop-color="#1c20fa"/><stop offset=".645" stop-color="#1919ee"/><stop offset="1" stop-color="#1212c7"/></linearGradient><linearGradient id="g0b2" gradientUnits="userSpaceOnUse" x1="0" y1="238.80" x2="0" y2="677.00"><stop offset="0" stop-color="#116cff"/><stop offset=".13" stop-color="#1948ff"/><stop offset=".252" stop-color="#1d2efe"/><stop offset=".378" stop-color="#1c20fa"/><stop offset=".652" stop-color="#1919ee"/><stop offset="1" stop-color="#1212c7"/></linearGradient><linearGradient id="g0b3" gradientUnits="userSpaceOnUse" x1="0" y1="238.80" x2="0" y2="677.00"><stop offset="0" stop-color="#116cff"/><stop offset=".133" stop-color="#1948ff"/><stop offset=".256" stop-color="#1d2efe"/><stop offset=".382" stop-color="#1c20fa"/><stop offset=".661" stop-color="#1919ee"/><stop offset="1" stop-color="#1212c8"/></linearGradient><linearGradient id="g0b4" gradientUnits="userSpaceOnUse" x1="0" y1="238.80" x2="0" y2="677.00"><stop offset="0" stop-color="#116cff"/><stop offset=".137" stop-color="#1948ff"/><stop offset=".261" stop-color="#1d2efe"/><stop offset=".389" stop-color="#1c21fa"/><stop offset=".668" stop-color="#1919ee"/><stop offset="1" stop-color="#1212c8"/></linearGradient><linearGradient id="g0b5" gradientUnits="userSpaceOnUse" x1="0" y1="238.80" x2="0" y2="677.00"><stop offset="0" stop-color="#116cff"/><stop offset=".142" stop-color="#1948ff"/><stop offset=".272" stop-color="#1d2efe"/><stop offset=".405" stop-color="#1c21fa"/><stop offset=".677" stop-color="#1919ee"/><stop offset="1" stop-color="#1212c8"/></linearGradient><linearGradient id="g0b6" gradientUnits="userSpaceOnUse" x1="0" y1="238.80" x2="0" y2="677.00"><stop offset="0" stop-color="#116cff"/><stop offset=".149" stop-color="#1948ff"/><stop offset=".286" stop-color="#1d2efe"/><stop offset=".423" stop-color="#1c21fa"/><stop offset=".686" stop-color="#1919ee"/><stop offset="1" stop-color="#1212c9"/></linearGradient><linearGradient id="g0b7" gradientUnits="userSpaceOnUse" x1="0" y1="238.80" x2="0" y2="677.00"><stop offset="0" stop-color="#116cff"/><stop offset=".153" stop-color="#1948ff"/><stop offset=".311" stop-color="#1d2cfe"/><stop offset=".46" stop-color="#1c20fa"/><stop offset=".696" stop-color="#1919ee"/><stop offset="1" stop-color="#1212c9"/></linearGradient><linearGradient id="g0b8" gradientUnits="userSpaceOnUse" x1="0" y1="238.80" x2="0" y2="677.00"><stop offset="0" stop-color="#116cff"/><stop offset=".16" stop-color="#1948ff"/><stop offset=".325" stop-color="#1d2dfe"/><stop offset=".483" stop-color="#1c20fa"/><stop offset=".703" stop-color="#1919ee"/><stop offset="1" stop-color="#1212ca"/></linearGradient><linearGradient id="g0b9" gradientUnits="userSpaceOnUse" x1="0" y1="238.80" x2="0" y2="677.00"><stop offset="0" stop-color="#116bff"/><stop offset=".165" stop-color="#1948ff"/><stop offset=".336" stop-color="#1d2dfe"/><stop offset=".501" stop-color="#1c20fa"/><stop offset=".707" stop-color="#1919ee"/><stop offset="1" stop-color="#1212ca"/></linearGradient><linearGradient id="g0b10" gradientUnits="userSpaceOnUse" x1="0" y1="238.80" x2="0" y2="677.00"><stop offset="0" stop-color="#126aff"/><stop offset=".172" stop-color="#1948ff"/><stop offset=".346" stop-color="#1d2dfe"/><stop offset=".515" stop-color="#1c20fa"/><stop offset=".714" stop-color="#1919ee"/><stop offset="1" stop-color="#1212ca"/></linearGradient><linearGradient id="g0b11" gradientUnits="userSpaceOnUse" x1="0" y1="238.80" x2="0" y2="677.00"><stop offset="0" stop-color="#1268ff"/><stop offset=".352" stop-color="#1d2dfe"/><stop offset=".522" stop-color="#1c20fa"/><stop offset=".719" stop-color="#1919ee"/><stop offset="1" stop-color="#1212cb"/></linearGradient><linearGradient id="g0b12" gradientUnits="userSpaceOnUse" x1="0" y1="238.80" x2="0" y2="677.00"><stop offset="0" stop-color="#1266ff"/><stop offset=".357" stop-color="#1d2dfe"/><stop offset=".529" stop-color="#1c20fa"/><stop offset=".721" stop-color="#1919ee"/><stop offset="1" stop-color="#1212cb"/></linearGradient><linearGradient id="g0b13" gradientUnits="userSpaceOnUse" x1="0" y1="238.80" x2="0" y2="677.00"><stop offset="0" stop-color="#1366ff"/><stop offset=".359" stop-color="#1d2dfe"/><stop offset=".533" stop-color="#1c20fa"/><stop offset=".723" stop-color="#1919ee"/><stop offset="1" stop-color="#1212cb"/></linearGradient><linearGradient id="g0b14" gradientUnits="userSpaceOnUse" x1="0" y1="238.80" x2="0" y2="677.00"><stop offset="0" stop-color="#1365ff"/><stop offset=".362" stop-color="#1d2dfe"/><stop offset=".533" stop-color="#1c20fa"/><stop offset=".725" stop-color="#1919ee"/><stop offset="1" stop-color="#1212cb"/></linearGradient><linearGradient id="g0b15" gradientUnits="userSpaceOnUse" x1="0" y1="238.80" x2="0" y2="677.00"><stop offset="0" stop-color="#1365ff"/><stop offset=".364" stop-color="#1d2dfe"/><stop offset=".535" stop-color="#1c20fa"/><stop offset=".728" stop-color="#1919ee"/><stop offset="1" stop-color="#1212cb"/></linearGradient><linearGradient id="g0b16" gradientUnits="userSpaceOnUse" x1="0" y1="238.80" x2="0" y2="677.00"><stop offset="0" stop-color="#1365ff"/><stop offset=".364" stop-color="#1d2dfe"/><stop offset=".535" stop-color="#1c20fa"/><stop offset=".728" stop-color="#1919ee"/><stop offset="1" stop-color="#1212cb"/></linearGradient><linearGradient id="g0b17" gradientUnits="userSpaceOnUse" x1="0" y1="238.80" x2="0" y2="677.00"><stop offset="0" stop-color="#1364ff"/><stop offset=".364" stop-color="#1d2dfe"/><stop offset=".535" stop-color="#1c20fa"/><stop offset=".728" stop-color="#1919ee"/><stop offset="1" stop-color="#1212cc"/></linearGradient><linearGradient id="g0b18" gradientUnits="userSpaceOnUse" x1="0" y1="238.80" x2="0" y2="677.00"><stop offset="0" stop-color="#1364ff"/><stop offset=".364" stop-color="#1d2dfe"/><stop offset=".535" stop-color="#1c20fa"/><stop offset=".728" stop-color="#1919ee"/><stop offset="1" stop-color="#1212cc"/></linearGradient><linearGradient id="g0b19" gradientUnits="userSpaceOnUse" x1="0" y1="238.80" x2="0" y2="677.00"><stop offset="0" stop-color="#1364ff"/><stop offset=".364" stop-color="#1d2dfe"/><stop offset=".535" stop-color="#1c20fa"/><stop offset=".728" stop-color="#1919ee"/><stop offset="1" stop-color="#1212cc"/></linearGradient><linearGradient id="g0b20" gradientUnits="userSpaceOnUse" x1="0" y1="238.80" x2="0" y2="677.00"><stop offset="0" stop-color="#1363ff"/><stop offset=".364" stop-color="#1d2dfe"/><stop offset=".535" stop-color="#1c20fa"/><stop offset=".73" stop-color="#1919ee"/><stop offset="1" stop-color="#1212cc"/></linearGradient><linearGradient id="g0b21" gradientUnits="userSpaceOnUse" x1="0" y1="238.80" x2="0" y2="677.00"><stop offset="0" stop-color="#1363ff"/><stop offset=".364" stop-color="#1d2dfe"/><stop offset=".535" stop-color="#1c20fa"/><stop offset=".73" stop-color="#1919ee"/><stop offset="1" stop-color="#1212cc"/></linearGradient><linearGradient id="g0b22" gradientUnits="userSpaceOnUse" x1="0" y1="238.80" x2="0" y2="677.00"><stop offset="0" stop-color="#1363ff"/><stop offset=".364" stop-color="#1d2dfe"/><stop offset=".535" stop-color="#1c20fa"/><stop offset=".73" stop-color="#1919ee"/><stop offset="1" stop-color="#1212cc"/></linearGradient><linearGradient id="g0b23" gradientUnits="userSpaceOnUse" x1="0" y1="238.80" x2="0" y2="677.00"><stop offset="0" stop-color="#1363ff"/><stop offset=".364" stop-color="#1d2dfe"/><stop offset=".535" stop-color="#1c20fa"/><stop offset=".73" stop-color="#1919ee"/><stop offset="1" stop-color="#1212cc"/></linearGradient><filter id="fb0b" x="-10%" y="-2%" width="120%" height="104%"><feGaussianBlur stdDeviation="5 0"/></filter><clipPath id="fc0"><rect x="157.05" y="149.55" width="208.5" height="527.45"/></clipPath></defs><g clip-path="url(#fc0)"><g filter="url(#fb0a)"><rect x="145.6" y="149.55" width="4.6" height="90.05" fill="url(#g0a0)"/><rect x="149.6" y="149.55" width="4.6" height="90.05" fill="url(#g0a1)"/><rect x="153.6" y="149.55" width="4.6" height="90.05" fill="url(#g0a2)"/><rect x="157.6" y="149.55" width="4.6" height="90.05" fill="url(#g0a3)"/><rect x="161.6" y="149.55" width="4.6" height="90.05" fill="url(#g0a4)"/><rect x="165.6" y="149.55" width="4.6" height="90.05" fill="url(#g0a5)"/><rect x="169.6" y="149.55" width="4.6" height="90.05" fill="url(#g0a6)"/><rect x="173.6" y="149.55" width="4.6" height="90.05" fill="url(#g0a7)"/><rect x="177.6" y="149.55" width="4.6" height="90.05" fill="url(#g0a8)"/><rect x="181.6" y="149.55" width="4.6" height="90.05" fill="url(#g0a9)"/><rect x="185.6" y="149.55" width="4.6" height="90.05" fill="url(#g0a10)"/><rect x="189.6" y="149.55" width="4.6" height="90.05" fill="url(#g0a11)"/><rect x="193.6" y="149.55" width="4.6" height="90.05" fill="url(#g0a12)"/><rect x="197.6" y="149.55" width="4.6" height="90.05" fill="url(#g0a13)"/><rect x="201.6" y="149.55" width="4.6" height="90.05" fill="url(#g0a14)"/><rect x="205.6" y="149.55" width="4.6" height="90.05" fill="url(#g0a15)"/><rect x="209.6" y="149.55" width="4.6" height="90.05" fill="url(#g0a16)"/><rect x="213.6" y="149.55" width="4.6" height="90.05" fill="url(#g0a17)"/><rect x="217.6" y="149.55" width="4.6" height="90.05" fill="url(#g0a18)"/><rect x="221.6" y="149.55" width="4.6" height="90.05" fill="url(#g0a19)"/><rect x="225.6" y="149.55" width="4.6" height="90.05" fill="url(#g0a20)"/><rect x="229.6" y="149.55" width="4.6" height="90.05" fill="url(#g0a21)"/><rect x="233.6" y="149.55" width="4.6" height="90.05" fill="url(#g0a22)"/><rect x="237.6" y="149.55" width="4.6" height="90.05" fill="url(#g0a23)"/><rect x="241.6" y="149.55" width="4.6" height="90.05" fill="url(#g0a24)"/><rect x="245.6" y="149.55" width="4.6" height="90.05" fill="url(#g0a25)"/><rect x="249.6" y="149.55" width="4.6" height="90.05" fill="url(#g0a26)"/><rect x="253.6" y="149.55" width="4.6" height="90.05" fill="url(#g0a27)"/><rect x="257.6" y="149.55" width="4.6" height="90.05" fill="url(#g0a28)"/><rect x="261.6" y="149.55" width="4.6" height="90.05" fill="url(#g0a29)"/><rect x="265.6" y="149.55" width="4.6" height="90.05" fill="url(#g0a30)"/><rect x="269.6" y="149.55" width="4.6" height="90.05" fill="url(#g0a31)"/><rect x="273.6" y="149.55" width="4.6" height="90.05" fill="url(#g0a32)"/><rect x="277.6" y="149.55" width="4.6" height="90.05" fill="url(#g0a33)"/><rect x="281.6" y="149.55" width="4.6" height="90.05" fill="url(#g0a34)"/><rect x="285.6" y="149.55" width="4.6" height="90.05" fill="url(#g0a35)"/><rect x="289.6" y="149.55" width="4.6" height="90.05" fill="url(#g0a36)"/><rect x="293.6" y="149.55" width="4.6" height="90.05" fill="url(#g0a37)"/><rect x="297.6" y="149.55" width="4.6" height="90.05" fill="url(#g0a38)"/><rect x="301.6" y="149.55" width="4.6" height="90.05" fill="url(#g0a39)"/><rect x="305.6" y="149.55" width="4.6" height="90.05" fill="url(#g0a40)"/><rect x="309.6" y="149.55" width="4.6" height="90.05" fill="url(#g0a41)"/><rect x="313.6" y="149.55" width="4.6" height="90.05" fill="url(#g0a42)"/><rect x="317.6" y="149.55" width="4.6" height="90.05" fill="url(#g0a43)"/><rect x="321.6" y="149.55" width="4.6" height="90.05" fill="url(#g0a44)"/><rect x="325.6" y="149.55" width="4.6" height="90.05" fill="url(#g0a45)"/><rect x="329.6" y="149.55" width="4.6" height="90.05" fill="url(#g0a46)"/><rect x="333.6" y="149.55" width="4.6" height="90.05" fill="url(#g0a47)"/><rect x="337.6" y="149.55" width="4.6" height="90.05" fill="url(#g0a48)"/><rect x="341.6" y="149.55" width="4.6" height="90.05" fill="url(#g0a49)"/><rect x="345.6" y="149.55" width="4.6" height="90.05" fill="url(#g0a50)"/><rect x="349.6" y="149.55" width="4.6" height="90.05" fill="url(#g0a51)"/><rect x="353.6" y="149.55" width="4.6" height="90.05" fill="url(#g0a52)"/><rect x="357.6" y="149.55" width="4.6" height="90.05" fill="url(#g0a53)"/><rect x="361.6" y="149.55" width="4.6" height="90.05" fill="url(#g0a54)"/><rect x="365.6" y="149.55" width="4.6" height="90.05" fill="url(#g0a55)"/><rect x="369.6" y="149.55" width="4.6" height="90.05" fill="url(#g0a56)"/><rect x="373.6" y="149.55" width="4.6" height="90.05" fill="url(#g0a57)"/></g><g filter="url(#fb0b)"><rect x="145.6" y="238.80" width="10.6" height="438.20" fill="url(#g0b0)"/><rect x="155.6" y="238.80" width="10.6" height="438.20" fill="url(#g0b1)"/><rect x="165.6" y="238.80" width="10.6" height="438.20" fill="url(#g0b2)"/><rect x="175.6" y="238.80" width="10.6" height="438.20" fill="url(#g0b3)"/><rect x="185.6" y="238.80" width="10.6" height="438.20" fill="url(#g0b4)"/><rect x="195.6" y="238.80" width="10.6" height="438.20" fill="url(#g0b5)"/><rect x="205.6" y="238.80" width="10.6" height="438.20" fill="url(#g0b6)"/><rect x="215.6" y="238.80" width="10.6" height="438.20" fill="url(#g0b7)"/><rect x="225.6" y="238.80" width="10.6" height="438.20" fill="url(#g0b8)"/><rect x="235.6" y="238.80" width="10.6" height="438.20" fill="url(#g0b9)"/><rect x="245.6" y="238.80" width="10.6" height="438.20" fill="url(#g0b10)"/><rect x="255.6" y="238.80" width="10.6" height="438.20" fill="url(#g0b11)"/><rect x="265.6" y="238.80" width="10.6" height="438.20" fill="url(#g0b12)"/><rect x="275.6" y="238.80" width="10.6" height="438.20" fill="url(#g0b13)"/><rect x="285.6" y="238.80" width="10.6" height="438.20" fill="url(#g0b14)"/><rect x="295.6" y="238.80" width="10.6" height="438.20" fill="url(#g0b15)"/><rect x="305.6" y="238.80" width="10.6" height="438.20" fill="url(#g0b16)"/><rect x="315.6" y="238.80" width="10.6" height="438.20" fill="url(#g0b17)"/><rect x="325.6" y="238.80" width="10.6" height="438.20" fill="url(#g0b18)"/><rect x="335.6" y="238.80" width="10.6" height="438.20" fill="url(#g0b19)"/><rect x="345.6" y="238.80" width="10.6" height="438.20" fill="url(#g0b20)"/><rect x="355.6" y="238.80" width="10.6" height="438.20" fill="url(#g0b21)"/><rect x="365.6" y="238.80" width="10.6" height="438.20" fill="url(#g0b22)"/><rect x="375.6" y="238.80" width="2.6" height="438.20" fill="url(#g0b23)"/></g></g>
<clipPath id="cc0"><rect x="53.5" y="149.6" width="312.0" height="527.5"/></clipPath>
<g clip-path="url(#cc0)">
<path class="th" d="M157.5 165.8C161.0 165.5 162.2 165.6 168.0 164.8C173.8 164.0 170.0 165.0 175.0 163.3C180.0 161.6 178.7 161.9 183.0 159.6C187.3 157.3 186.3 157.5 188.0 156.5M212.0 150.8L215.5 149.5M157.5 167.6C161.0 167.5 160.8 167.7 168.0 167.2C175.2 166.7 175.3 166.5 179.0 166.2M207.0 161.8C209.7 161.0 209.0 161.3 215.0 159.3C221.0 157.3 219.3 157.9 225.0 155.7C230.7 153.5 227.3 154.8 232.0 152.7C236.7 150.6 236.7 150.6 239.1 149.5M157.5 169.5C163.3 169.3 164.2 169.5 175.0 169.0C185.8 168.5 180.0 169.0 190.0 168.0C200.0 167.0 196.0 167.6 205.0 166.0C214.0 164.4 213.0 164.1 217.0 163.2M247.0 154.2C249.3 153.4 249.4 153.4 254.0 151.8C258.6 150.2 258.5 150.3 260.7 149.5M157.5 171.6C163.3 171.5 164.2 171.7 175.0 171.2C185.8 170.7 181.7 170.9 190.0 170.2C198.3 169.5 196.7 169.4 200.0 169.0M254.0 155.5C257.0 154.5 257.3 154.5 263.0 152.5C268.7 150.5 268.3 150.5 271.0 149.5M157.5 178.0C163.3 177.7 164.2 178.0 175.0 177.2C185.8 176.4 180.0 177.1 190.0 175.5C200.0 173.9 195.7 174.2 205.0 172.4C214.3 170.6 213.7 170.8 218.0 170.0M250.0 162.8C253.3 162.0 248.3 163.3 260.0 160.5C271.7 157.7 272.0 158.2 285.0 154.5C298.0 150.8 294.3 151.2 299.0 149.5M157.5 184.5C161.7 183.9 162.5 183.8 170.0 182.6C177.5 181.4 176.7 181.4 180.0 180.8M200.0 177.2C201.7 176.9 195.0 178.4 205.0 176.2C215.0 174.0 211.7 174.4 230.0 170.5C248.3 166.6 241.7 168.3 260.0 164.6C278.3 160.9 271.7 162.5 285.0 159.5C298.3 156.5 290.0 158.8 300.0 155.5C310.0 152.2 310.0 151.5 315.0 149.5M157.5 191.4L164.0 190.6M201.6 182.4C206.1 181.4 205.5 181.5 215.0 179.4C224.5 177.3 215.0 179.2 230.0 176.0C245.0 172.8 241.7 173.5 260.0 169.8C278.3 166.1 271.7 168.0 285.0 165.0C298.3 162.0 288.2 163.8 300.0 160.7C311.8 157.6 308.5 159.5 320.5 155.8C332.5 152.1 330.8 151.6 336.0 149.5M157.5 201.2C163.3 200.0 164.2 200.0 175.0 197.6C185.8 195.2 180.0 196.6 190.0 194.0C200.0 191.4 191.7 193.5 205.0 189.8C218.3 186.1 211.7 187.5 230.0 183.0C248.3 178.5 245.8 179.5 260.0 176.3C274.2 173.1 268.5 174.3 272.7 173.3M311.7 163.6C321.1 161.5 322.4 161.1 340.0 157.2C357.6 153.3 356.3 153.7 364.4 151.9M157.5 223.1C165.0 223.0 165.8 223.2 180.0 222.8C194.2 222.4 184.4 222.8 200.0 221.8C215.6 220.8 217.9 220.5 226.9 219.9M263.7 202.7C265.1 201.5 264.7 201.2 268.0 199.0C271.3 196.8 268.7 197.9 273.7 196.0C278.7 194.1 274.2 195.1 283.0 193.2C291.8 191.3 287.7 192.3 300.0 190.2C312.3 188.1 300.9 190.5 320.0 187.0C339.1 183.5 344.9 182.2 357.3 179.8M157.5 294.0C163.3 294.7 162.9 294.3 175.0 296.0C187.1 297.7 181.6 296.6 193.9 299.2C206.2 301.8 199.8 300.6 212.0 303.8C224.2 307.0 224.3 307.2 230.4 308.9M269.9 319.1C275.9 319.9 275.3 320.3 288.0 321.5C300.7 322.7 293.2 322.2 307.9 322.6C322.6 323.0 324.0 322.6 332.0 322.6M157.5 401.0C162.3 402.0 161.8 401.4 172.0 404.0C182.2 406.6 179.7 405.2 188.0 408.9C196.3 412.6 191.1 410.1 197.0 415.0C202.9 419.9 202.7 420.7 205.6 423.5M234.8 453.3C236.9 455.0 236.1 455.1 241.0 458.5C245.9 461.9 242.4 460.3 249.4 463.6C256.4 466.9 253.2 465.8 262.0 468.5C270.8 471.2 265.7 470.3 275.7 471.8C285.7 473.3 279.9 472.5 292.0 473.0C304.1 473.5 305.3 473.1 312.0 473.2M157.5 519.7C162.3 521.1 161.3 520.4 172.0 524.0C182.7 527.6 183.7 528.3 189.5 530.5M226.0 545.1C230.0 546.3 229.2 546.3 238.0 548.6C246.8 550.9 240.0 549.8 252.3 551.9C264.6 554.0 258.6 553.3 275.0 555.0C291.4 556.7 292.7 556.4 301.5 557.1M157.5 671.8C163.3 672.5 161.9 672.5 175.0 674.0C188.1 675.5 189.5 675.6 196.8 676.4"/>
<path class="tk" d="M161.6 149.5C161.9 150.7 161.8 150.8 162.4 153.2C163.0 155.6 163.3 154.6 163.4 156.6C163.5 158.6 163.7 157.9 162.6 159.2C161.5 160.5 161.7 159.9 160.0 160.6C158.3 161.3 158.3 161.1 157.5 161.3M157.5 175.3C161.0 175.1 160.7 175.3 168.0 174.8C175.3 174.3 170.5 174.7 179.5 173.8C188.5 172.9 186.5 173.2 195.0 172.0C203.5 170.8 197.0 171.9 205.0 170.3C213.0 168.7 214.3 168.2 218.9 167.2M259.3 157.1C262.9 156.0 262.8 156.2 270.0 153.8C277.2 151.4 277.3 151.3 281.0 150.0M157.5 209.8C163.3 209.4 164.2 209.7 175.0 208.6C185.8 207.5 179.9 208.5 190.0 206.5C200.1 204.5 200.1 204.0 205.2 202.7M243.6 187.7C249.1 186.3 246.2 186.8 260.0 183.6C273.8 180.4 271.7 180.9 285.0 178.0C298.3 175.1 281.7 178.9 300.0 175.0C318.3 171.1 319.0 170.9 340.0 166.2C361.0 161.5 355.4 162.7 363.1 160.9M157.5 594.3C161.7 595.1 161.8 594.7 170.0 596.6C178.2 598.5 173.2 597.1 182.2 600.1C191.2 603.1 186.8 601.6 197.0 605.5C207.2 609.4 207.6 609.7 212.9 611.8M252.3 622.3C255.9 622.7 255.2 622.9 263.0 623.4C270.8 623.9 265.9 623.7 275.7 623.8C285.5 623.9 286.8 623.8 292.4 623.8"/>
<text class="c0" style="font-size:20.6px" transform="translate(195.3 158.8) rotate(-20)" y="7.4">23</text>
<text class="c0" style="font-size:20.6px" transform="translate(237.8 161.5) rotate(-18)" y="7.4">20</text>
<text class="c0" style="font-size:20.6px" transform="translate(181.6 184.6) rotate(-13)" y="7.4">17</text>
<text class="c0" style="font-size:20.6px" transform="translate(292.5 164.6) rotate(-16)" y="7.4">16</text>
<text class="c0" style="font-size:20.6px" transform="translate(224.0 191.8) rotate(-22)" y="7.4">15</text>
<text class="c0" style="font-size:20.6px" transform="translate(245.2 209.8) rotate(-28)" y="7.4">14</text>
<text class="c0" font-style="italic" transform="translate(250.9 312.6) rotate(12)" y="8.2">13</text>
<text class="c0" font-style="italic" transform="translate(221.6 438.2) rotate(37)" y="8.2">12</text>
<text class="c0" font-style="italic" transform="translate(208.3 536.6) rotate(17)" y="8.2">11</text>
<text class="c0" font-style="italic" transform="translate(233.2 615.6) rotate(10)" y="8.2">10</text>
</g>
<polygon points="365.6,149.6 354.4,203.0 341.2,255.2 339.9,260.3 336.1,290.3 332.4,322.3 321.7,400.4 312.4,473.1 301.1,557.9 291.0,624.5 286.0,677.0 365.6,677.0" fill="#696969" stroke="#000" stroke-width="1.1" stroke-linejoin="miter"/>
<path d="M45.5 149.55H53.5M365.6 149.55h7.6M45.5 202.30H53.5M365.6 202.30h7.6M45.5 255.04H53.5M365.6 255.04h7.6M45.5 307.79H53.5M365.6 307.79h7.6M45.5 360.53H53.5M365.6 360.53h7.6M45.5 413.28H53.5M365.6 413.28h7.6M45.5 466.02H53.5M365.6 466.02h7.6M45.5 518.77H53.5M365.6 518.77h7.6M45.5 571.51H53.5M365.6 571.51h7.6M45.5 624.26H53.5M365.6 624.26h7.6M45.5 677.00H53.5M365.6 677.00h7.6M53.55 677.0v8.6M105.55 677.0v8.6M157.55 677.0v8.6M209.55 677.0v8.6M261.55 677.0v8.6M313.55 677.0v8.6M365.55 677.0v8.6" stroke="#000" stroke-width="1.1" fill="none"/>
<text class="tl" x="42.9" y="158.7" text-anchor="end">0</text>
<text class="tl" x="42.9" y="211.4" text-anchor="end">50</text>
<text class="tl" x="42.9" y="264.1" text-anchor="end">100</text>
<text class="tl" x="42.9" y="316.9" text-anchor="end">150</text>
<text class="tl" x="42.9" y="369.6" text-anchor="end">200</text>
<text class="tl" x="42.9" y="422.4" text-anchor="end">250</text>
<text class="tl" x="42.9" y="475.1" text-anchor="end">300</text>
<text class="tl" x="42.9" y="527.9" text-anchor="end">350</text>
<text class="tl" x="42.9" y="580.6" text-anchor="end">400</text>
<text class="tl" x="42.9" y="633.4" text-anchor="end">450</text>
<text class="tl" x="42.9" y="686.1" text-anchor="end">500</text>
<text class="tl" x="53.5" y="709.0" text-anchor="middle">60</text>
<text class="tl" x="105.5" y="709.0" text-anchor="middle">50</text>
<text class="tl" x="157.6" y="709.0" text-anchor="middle">40</text>
<text class="tl" x="209.6" y="709.0" text-anchor="middle">30</text>
<text class="tl" x="261.6" y="709.0" text-anchor="middle">20</text>
<text class="tl" x="313.6" y="709.0" text-anchor="middle">10</text>
<text class="tl" x="365.6" y="709.0" text-anchor="middle">0</text>
</g>
<g id="p2">
<rect x="433.50" y="150.10" width="312.00" height="527.20" fill="#fff" stroke="#000" stroke-width="2.7" stroke-linejoin="round"/>
<defs><linearGradient id="g1a0" gradientUnits="userSpaceOnUse" x1="0" y1="150.10" x2="0" y2="255.34"><stop offset="0" stop-color="#ffff41"/><stop offset=".038" stop-color="#ffff48"/><stop offset=".076" stop-color="#ffff57"/><stop offset=".133" stop-color="#ffff80"/><stop offset=".21" stop-color="#ffffe4"/><stop offset=".229" stop-color="#fffff9"/><stop offset=".238" stop-color="#fff"/><stop offset="1" stop-color="#fff"/></linearGradient><linearGradient id="g1a1" gradientUnits="userSpaceOnUse" x1="0" y1="150.10" x2="0" y2="255.34"><stop offset="0" stop-color="#ffff41"/><stop offset=".038" stop-color="#ffff48"/><stop offset=".076" stop-color="#ffff57"/><stop offset=".133" stop-color="#ffff80"/><stop offset=".21" stop-color="#ffffe4"/><stop offset=".229" stop-color="#fffff9"/><stop offset=".238" stop-color="#fff"/><stop offset="1" stop-color="#fff"/></linearGradient><linearGradient id="g1a2" gradientUnits="userSpaceOnUse" x1="0" y1="150.10" x2="0" y2="255.34"><stop offset="0" stop-color="#ffff41"/><stop offset=".038" stop-color="#ffff48"/><stop offset=".076" stop-color="#ffff57"/><stop offset=".133" stop-color="#ffff80"/><stop offset=".21" stop-color="#ffffe4"/><stop offset=".229" stop-color="#fffff9"/><stop offset=".238" stop-color="#fff"/><stop offset="1" stop-color="#fff"/></linearGradient><linearGradient id="g1a3" gradientUnits="userSpaceOnUse" x1="0" y1="150.10" x2="0" y2="255.34"><stop offset="0" stop-color="#ffff46"/><stop offset=".029" stop-color="#ffff4a"/><stop offset=".067" stop-color="#ffff56"/><stop offset=".086" stop-color="#ffff60"/><stop offset=".124" stop-color="#ffff7b"/><stop offset=".143" stop-color="#ffff90"/><stop offset=".21" stop-color="#ffffe6"/><stop offset=".229" stop-color="#fffffa"/><stop offset=".238" stop-color="#fff"/><stop offset="1" stop-color="#fff"/></linearGradient><linearGradient id="g1a4" gradientUnits="userSpaceOnUse" x1="0" y1="150.10" x2="0" y2="255.34"><stop offset="0" stop-color="#ffff5d"/><stop offset=".057" stop-color="#ffff65"/><stop offset=".105" stop-color="#ffff7c"/><stop offset=".133" stop-color="#ffff95"/><stop offset=".2" stop-color="#ffffe1"/><stop offset=".229" stop-color="#fffffe"/><stop offset="1" stop-color="#fff"/></linearGradient><linearGradient id="g1a5" gradientUnits="userSpaceOnUse" x1="0" y1="150.10" x2="0" y2="255.34"><stop offset="0" stop-color="#ffff7c"/><stop offset=".057" stop-color="#ffff7f"/><stop offset=".095" stop-color="#ffff8e"/><stop offset=".143" stop-color="#ffffb2"/><stop offset=".219" stop-color="#fffffc"/><stop offset=".229" stop-color="#fff"/><stop offset="1" stop-color="#fff"/></linearGradient><linearGradient id="g1a6" gradientUnits="userSpaceOnUse" x1="0" y1="150.10" x2="0" y2="255.34"><stop offset="0" stop-color="#ffff94"/><stop offset=".057" stop-color="#ffff9a"/><stop offset=".105" stop-color="#ffffab"/><stop offset=".143" stop-color="#ffffc3"/><stop offset=".21" stop-color="#fffffb"/><stop offset=".219" stop-color="#fff"/><stop offset="1" stop-color="#fff"/></linearGradient><linearGradient id="g1a7" gradientUnits="userSpaceOnUse" x1="0" y1="150.10" x2="0" y2="255.34"><stop offset="0" stop-color="#ffffa5"/><stop offset=".048" stop-color="#ffa"/><stop offset=".095" stop-color="#ffffb9"/><stop offset=".133" stop-color="#ffc"/><stop offset=".2" stop-color="#fffffc"/><stop offset=".21" stop-color="#fff"/><stop offset="1" stop-color="#fff"/></linearGradient><linearGradient id="g1a8" gradientUnits="userSpaceOnUse" x1="0" y1="150.10" x2="0" y2="255.34"><stop offset="0" stop-color="#ffffb3"/><stop offset=".048" stop-color="#ffffb9"/><stop offset=".095" stop-color="#ffffc8"/><stop offset=".19" stop-color="#fffffe"/><stop offset="1" stop-color="#fff"/></linearGradient><linearGradient id="g1a9" gradientUnits="userSpaceOnUse" x1="0" y1="150.10" x2="0" y2="255.34"><stop offset="0" stop-color="#ffffc0"/><stop offset=".038" stop-color="#ffffc5"/><stop offset=".076" stop-color="#ffffd0"/><stop offset=".114" stop-color="#ffffe1"/><stop offset=".152" stop-color="#fffff8"/><stop offset=".171" stop-color="#fff"/><stop offset="1" stop-color="#fff"/></linearGradient><linearGradient id="g1a10" gradientUnits="userSpaceOnUse" x1="0" y1="150.10" x2="0" y2="255.34"><stop offset="0" stop-color="#ffffce"/><stop offset=".057" stop-color="#ffffd9"/><stop offset=".143" stop-color="#fff"/><stop offset="1" stop-color="#fff"/></linearGradient><linearGradient id="g1a11" gradientUnits="userSpaceOnUse" x1="0" y1="150.10" x2="0" y2="255.34"><stop offset="0" stop-color="#ffd"/><stop offset=".038" stop-color="#ffffe3"/><stop offset=".095" stop-color="#fffffb"/><stop offset=".114" stop-color="#fff"/><stop offset="1" stop-color="#fff"/></linearGradient><linearGradient id="g1a12" gradientUnits="userSpaceOnUse" x1="0" y1="150.10" x2="0" y2="255.34"><stop offset="0" stop-color="#ffffec"/><stop offset=".086" stop-color="#fff"/><stop offset="1" stop-color="#fff"/></linearGradient><linearGradient id="g1a13" gradientUnits="userSpaceOnUse" x1="0" y1="150.10" x2="0" y2="255.34"><stop offset="0" stop-color="#fffffb"/><stop offset=".048" stop-color="#fff"/><stop offset="1" stop-color="#fff"/></linearGradient><linearGradient id="g1a14" gradientUnits="userSpaceOnUse" x1="0" y1="150.10" x2="0" y2="255.34"><stop offset="0" stop-color="#fff"/><stop offset="1" stop-color="#fff"/></linearGradient><linearGradient id="g1a15" gradientUnits="userSpaceOnUse" x1="0" y1="150.10" x2="0" y2="255.34"><stop offset="0" stop-color="#fff"/><stop offset=".267" stop-color="#fbfbff"/><stop offset=".438" stop-color="#fff"/><stop offset="1" stop-color="#fff"/></linearGradient><linearGradient id="g1a16" gradientUnits="userSpaceOnUse" x1="0" y1="150.10" x2="0" y2="255.34"><stop offset="0" stop-color="#fff"/><stop offset=".133" stop-color="#fff"/><stop offset=".257" stop-color="#f8f8ff"/><stop offset=".476" stop-color="#fff"/><stop offset="1" stop-color="#fff"/></linearGradient><linearGradient id="g1a17" gradientUnits="userSpaceOnUse" x1="0" y1="150.10" x2="0" y2="255.34"><stop offset="0" stop-color="#fff"/><stop offset=".105" stop-color="#fff"/><stop offset=".181" stop-color="#f6f6ff"/><stop offset=".248" stop-color="#f4f4ff"/><stop offset=".505" stop-color="#fff"/><stop offset="1" stop-color="#fff"/></linearGradient><linearGradient id="g1a18" gradientUnits="userSpaceOnUse" x1="0" y1="150.10" x2="0" y2="255.34"><stop offset="0" stop-color="#fff"/><stop offset=".076" stop-color="#fff"/><stop offset=".162" stop-color="#f2f2ff"/><stop offset=".238" stop-color="#efefff"/><stop offset=".524" stop-color="#fff"/><stop offset="1" stop-color="#fff"/></linearGradient><linearGradient id="g1a19" gradientUnits="userSpaceOnUse" x1="0" y1="150.10" x2="0" y2="255.34"><stop offset="0" stop-color="#fff"/><stop offset=".048" stop-color="#fff"/><stop offset=".133" stop-color="#efefff"/><stop offset=".219" stop-color="#eaeaff"/><stop offset=".543" stop-color="#fff"/><stop offset="1" stop-color="#fff"/></linearGradient><linearGradient id="g1a20" gradientUnits="userSpaceOnUse" x1="0" y1="150.10" x2="0" y2="255.34"><stop offset="0" stop-color="#fff"/><stop offset=".038" stop-color="#fcfcff"/><stop offset=".133" stop-color="#e7e7ff"/><stop offset=".21" stop-color="#e3e3ff"/><stop offset=".305" stop-color="#e7e7ff"/><stop offset=".552" stop-color="#fff"/><stop offset="1" stop-color="#fff"/></linearGradient><linearGradient id="g1a21" gradientUnits="userSpaceOnUse" x1="0" y1="150.10" x2="0" y2="255.34"><stop offset="0" stop-color="#fafaff"/><stop offset=".029" stop-color="#f6f6ff"/><stop offset=".124" stop-color="#dfdfff"/><stop offset=".19" stop-color="#dbdbff"/><stop offset=".343" stop-color="#e4e4ff"/><stop offset=".562" stop-color="#fff"/><stop offset="1" stop-color="#fff"/></linearGradient><linearGradient id="g1a22" gradientUnits="userSpaceOnUse" x1="0" y1="150.10" x2="0" y2="255.34"><stop offset="0" stop-color="#f2f2ff"/><stop offset=".038" stop-color="#ececff"/><stop offset=".114" stop-color="#d7d7ff"/><stop offset=".171" stop-color="#d4d4ff"/><stop offset=".371" stop-color="#e0e0ff"/><stop offset=".571" stop-color="#fff"/><stop offset="1" stop-color="#fff"/></linearGradient><linearGradient id="g1a23" gradientUnits="userSpaceOnUse" x1="0" y1="150.10" x2="0" y2="255.34"><stop offset="0" stop-color="#eaeaff"/><stop offset=".029" stop-color="#e7e7ff"/><stop offset=".105" stop-color="#d2d2ff"/><stop offset=".171" stop-color="#ceceff"/><stop offset=".381" stop-color="#dadaff"/><stop offset=".571" stop-color="#fff"/><stop offset="1" stop-color="#fff"/></linearGradient><linearGradient id="g1a24" gradientUnits="userSpaceOnUse" x1="0" y1="150.10" x2="0" y2="255.34"><stop offset="0" stop-color="#e4e4ff"/><stop offset=".114" stop-color="#ccf"/><stop offset=".2" stop-color="#cacaff"/><stop offset=".4" stop-color="#d6d6ff"/><stop offset=".571" stop-color="#fff"/><stop offset="1" stop-color="#fff"/></linearGradient><linearGradient id="g1a25" gradientUnits="userSpaceOnUse" x1="0" y1="150.10" x2="0" y2="255.34"><stop offset="0" stop-color="#dfdfff"/><stop offset=".133" stop-color="#c8c8ff"/><stop offset=".257" stop-color="#c7c7ff"/><stop offset=".41" stop-color="#d2d2ff"/><stop offset=".571" stop-color="#fff"/><stop offset="1" stop-color="#fff"/></linearGradient><linearGradient id="g1a26" gradientUnits="userSpaceOnUse" x1="0" y1="150.10" x2="0" y2="255.34"><stop offset="0" stop-color="#dbdbff"/><stop offset=".152" stop-color="#c5c5ff"/><stop offset=".295" stop-color="#c5c5ff"/><stop offset=".41" stop-color="#cfcfff"/><stop offset=".514" stop-color="#f1f1ff"/><stop offset=".571" stop-color="#fff"/><stop offset="1" stop-color="#fff"/></linearGradient><linearGradient id="g1a27" gradientUnits="userSpaceOnUse" x1="0" y1="150.10" x2="0" y2="255.34"><stop offset="0" stop-color="#d8d8ff"/><stop offset=".162" stop-color="#c3c3ff"/><stop offset=".305" stop-color="#c2c2ff"/><stop offset=".41" stop-color="#ccf"/><stop offset=".524" stop-color="#f4f4ff"/><stop offset=".571" stop-color="#fff"/><stop offset="1" stop-color="#fff"/></linearGradient><linearGradient id="g1a28" gradientUnits="userSpaceOnUse" x1="0" y1="150.10" x2="0" y2="255.34"><stop offset="0" stop-color="#d5d5ff"/><stop offset=".171" stop-color="#c1c1ff"/><stop offset=".305" stop-color="#c0c0ff"/><stop offset=".41" stop-color="#cbcbff"/><stop offset=".562" stop-color="#fefeff"/><stop offset="1" stop-color="#fff"/></linearGradient><linearGradient id="g1a29" gradientUnits="userSpaceOnUse" x1="0" y1="150.10" x2="0" y2="255.34"><stop offset="0" stop-color="#d4d4ff"/><stop offset=".181" stop-color="#bfbfff"/><stop offset=".305" stop-color="#bebeff"/><stop offset=".41" stop-color="#cacaff"/><stop offset=".524" stop-color="#f3f3ff"/><stop offset=".571" stop-color="#fff"/><stop offset="1" stop-color="#fff"/></linearGradient><linearGradient id="g1a30" gradientUnits="userSpaceOnUse" x1="0" y1="150.10" x2="0" y2="255.34"><stop offset="0" stop-color="#d2d2ff"/><stop offset=".181" stop-color="#bebeff"/><stop offset=".305" stop-color="#bdbdff"/><stop offset=".41" stop-color="#cacaff"/><stop offset=".571" stop-color="#fff"/><stop offset="1" stop-color="#fff"/></linearGradient><linearGradient id="g1a31" gradientUnits="userSpaceOnUse" x1="0" y1="150.10" x2="0" y2="255.34"><stop offset="0" stop-color="#d1d1ff"/><stop offset=".171" stop-color="#bebeff"/><stop offset=".295" stop-color="#bcbcff"/><stop offset=".362" stop-color="#c2c2ff"/><stop offset=".41" stop-color="#cacaff"/><stop offset=".524" stop-color="#f1f1ff"/><stop offset=".581" stop-color="#fff"/><stop offset="1" stop-color="#fff"/></linearGradient><linearGradient id="g1a32" gradientUnits="userSpaceOnUse" x1="0" y1="150.10" x2="0" y2="255.34"><stop offset="0" stop-color="#cfcfff"/><stop offset=".171" stop-color="#bcbcff"/><stop offset=".286" stop-color="#bbf"/><stop offset=".352" stop-color="#c0c0ff"/><stop offset=".41" stop-color="#cacaff"/><stop offset=".505" stop-color="#eaeaff"/><stop offset=".581" stop-color="#fff"/><stop offset="1" stop-color="#fff"/></linearGradient><linearGradient id="g1a33" gradientUnits="userSpaceOnUse" x1="0" y1="150.10" x2="0" y2="255.34"><stop offset="0" stop-color="#cbcbff"/><stop offset=".162" stop-color="#babaff"/><stop offset=".276" stop-color="#babaff"/><stop offset=".343" stop-color="#c0c0ff"/><stop offset=".4" stop-color="#c9c9ff"/><stop offset=".581" stop-color="#fff"/><stop offset="1" stop-color="#fff"/></linearGradient><linearGradient id="g1a34" gradientUnits="userSpaceOnUse" x1="0" y1="150.10" x2="0" y2="255.34"><stop offset="0" stop-color="#c4c4ff"/><stop offset=".152" stop-color="#b8b8ff"/><stop offset=".267" stop-color="#b9b9ff"/><stop offset=".343" stop-color="#c0c0ff"/><stop offset=".4" stop-color="#cacaff"/><stop offset=".581" stop-color="#fff"/><stop offset="1" stop-color="#fff"/></linearGradient><linearGradient id="g1a35" gradientUnits="userSpaceOnUse" x1="0" y1="150.10" x2="0" y2="255.34"><stop offset="0" stop-color="#bbf"/><stop offset=".171" stop-color="#b4b4ff"/><stop offset=".314" stop-color="#bdbdff"/><stop offset=".41" stop-color="#ceceff"/><stop offset=".581" stop-color="#fff"/><stop offset="1" stop-color="#fff"/></linearGradient><linearGradient id="g1a36" gradientUnits="userSpaceOnUse" x1="0" y1="150.10" x2="0" y2="255.34"><stop offset="0" stop-color="#b2b2ff"/><stop offset=".162" stop-color="#b1b1ff"/><stop offset=".314" stop-color="#bebeff"/><stop offset=".41" stop-color="#cfcfff"/><stop offset=".581" stop-color="#fff"/><stop offset="1" stop-color="#fff"/></linearGradient><linearGradient id="g1a37" gradientUnits="userSpaceOnUse" x1="0" y1="150.10" x2="0" y2="255.34"><stop offset="0" stop-color="#a8a8ff"/><stop offset=".143" stop-color="#acacff"/><stop offset=".314" stop-color="#bebeff"/><stop offset=".4" stop-color="#cfcfff"/><stop offset=".495" stop-color="#ebebff"/><stop offset=".581" stop-color="#fff"/><stop offset="1" stop-color="#fff"/></linearGradient><linearGradient id="g1a38" gradientUnits="userSpaceOnUse" x1="0" y1="150.10" x2="0" y2="255.34"><stop offset="0" stop-color="#9e9eff"/><stop offset=".105" stop-color="#a3a3ff"/><stop offset=".314" stop-color="#bfbfff"/><stop offset=".4" stop-color="#d1d1ff"/><stop offset=".571" stop-color="#fefeff"/><stop offset="1" stop-color="#fff"/></linearGradient><linearGradient id="g1a39" gradientUnits="userSpaceOnUse" x1="0" y1="150.10" x2="0" y2="255.34"><stop offset="0" stop-color="#9494ff"/><stop offset=".086" stop-color="#9a9aff"/><stop offset=".314" stop-color="#c0c0ff"/><stop offset=".571" stop-color="#fff"/><stop offset="1" stop-color="#fff"/></linearGradient><linearGradient id="g1a40" gradientUnits="userSpaceOnUse" x1="0" y1="150.10" x2="0" y2="255.34"><stop offset="0" stop-color="#8a8aff"/><stop offset=".067" stop-color="#9090ff"/><stop offset=".305" stop-color="#bfbfff"/><stop offset=".571" stop-color="#fff"/><stop offset="1" stop-color="#fff"/></linearGradient><linearGradient id="g1a41" gradientUnits="userSpaceOnUse" x1="0" y1="150.10" x2="0" y2="255.34"><stop offset="0" stop-color="#8282ff"/><stop offset=".076" stop-color="#8b8bff"/><stop offset=".562" stop-color="#fefeff"/><stop offset="1" stop-color="#fff"/></linearGradient><linearGradient id="g1a42" gradientUnits="userSpaceOnUse" x1="0" y1="150.10" x2="0" y2="255.34"><stop offset="0" stop-color="#7d7dff"/><stop offset=".067" stop-color="#8484ff"/><stop offset=".457" stop-color="#e9e9ff"/><stop offset=".562" stop-color="#fff"/><stop offset="1" stop-color="#fff"/></linearGradient><linearGradient id="g1a43" gradientUnits="userSpaceOnUse" x1="0" y1="150.10" x2="0" y2="255.34"><stop offset="0" stop-color="#7a7aff"/><stop offset=".076" stop-color="#8282ff"/><stop offset=".448" stop-color="#e8e8ff"/><stop offset=".562" stop-color="#fff"/><stop offset="1" stop-color="#fff"/></linearGradient><linearGradient id="g1a44" gradientUnits="userSpaceOnUse" x1="0" y1="150.10" x2="0" y2="255.34"><stop offset="0" stop-color="#77f"/><stop offset=".086" stop-color="#8080ff"/><stop offset=".362" stop-color="#d4d4ff"/><stop offset=".448" stop-color="#eaeaff"/><stop offset=".552" stop-color="#fefeff"/><stop offset="1" stop-color="#fff"/></linearGradient><linearGradient id="g1a45" gradientUnits="userSpaceOnUse" x1="0" y1="150.10" x2="0" y2="255.34"><stop offset="0" stop-color="#7474ff"/><stop offset=".057" stop-color="#77f"/><stop offset=".105" stop-color="#7f7fff"/><stop offset=".352" stop-color="#d3d3ff"/><stop offset=".438" stop-color="#e9e9ff"/><stop offset=".552" stop-color="#fff"/><stop offset="1" stop-color="#fff"/></linearGradient><linearGradient id="g1a46" gradientUnits="userSpaceOnUse" x1="0" y1="150.10" x2="0" y2="255.34"><stop offset="0" stop-color="#7070ff"/><stop offset=".057" stop-color="#7474ff"/><stop offset=".124" stop-color="#7e7eff"/><stop offset=".181" stop-color="#9191ff"/><stop offset=".343" stop-color="#d2d2ff"/><stop offset=".438" stop-color="#ebebff"/><stop offset=".552" stop-color="#fff"/><stop offset="1" stop-color="#fff"/></linearGradient><linearGradient id="g1a47" gradientUnits="userSpaceOnUse" x1="0" y1="150.10" x2="0" y2="255.34"><stop offset="0" stop-color="#6c6cff"/><stop offset=".067" stop-color="#7171ff"/><stop offset=".143" stop-color="#7d7dff"/><stop offset=".19" stop-color="#8e8eff"/><stop offset=".286" stop-color="#bdbdff"/><stop offset=".343" stop-color="#d3d3ff"/><stop offset=".429" stop-color="#eaeaff"/><stop offset=".543" stop-color="#fefeff"/><stop offset="1" stop-color="#fff"/></linearGradient><linearGradient id="g1a48" gradientUnits="userSpaceOnUse" x1="0" y1="150.10" x2="0" y2="255.34"><stop offset="0" stop-color="#6868ff"/><stop offset=".076" stop-color="#6e6eff"/><stop offset=".162" stop-color="#7c7cff"/><stop offset=".2" stop-color="#8c8cff"/><stop offset=".286" stop-color="#bdbdff"/><stop offset=".333" stop-color="#d2d2ff"/><stop offset=".419" stop-color="#e9e9ff"/><stop offset=".543" stop-color="#fefeff"/><stop offset="1" stop-color="#fff"/></linearGradient><linearGradient id="g1a49" gradientUnits="userSpaceOnUse" x1="0" y1="150.10" x2="0" y2="255.34"><stop offset="0" stop-color="#6464ff"/><stop offset=".086" stop-color="#6b6bff"/><stop offset=".171" stop-color="#7b7bff"/><stop offset=".2" stop-color="#88f"/><stop offset=".286" stop-color="#bdbdff"/><stop offset=".333" stop-color="#d3d3ff"/><stop offset=".419" stop-color="#e9e9ff"/><stop offset=".524" stop-color="#fbfbff"/><stop offset=".552" stop-color="#fff"/><stop offset="1" stop-color="#fff"/></linearGradient><linearGradient id="g1a50" gradientUnits="userSpaceOnUse" x1="0" y1="150.10" x2="0" y2="255.34"><stop offset="0" stop-color="#6060ff"/><stop offset=".095" stop-color="#6a6aff"/><stop offset=".181" stop-color="#7c7cff"/><stop offset=".21" stop-color="#8b8bff"/><stop offset=".276" stop-color="#b8b8ff"/><stop offset=".324" stop-color="#d0d0ff"/><stop offset=".39" stop-color="#e3e3ff"/><stop offset=".467" stop-color="#f1f1ff"/><stop offset=".562" stop-color="#fff"/><stop offset="1" stop-color="#fff"/></linearGradient><linearGradient id="g1a51" gradientUnits="userSpaceOnUse" x1="0" y1="150.10" x2="0" y2="255.34"><stop offset="0" stop-color="#5c5cff"/><stop offset=".095" stop-color="#6767ff"/><stop offset=".181" stop-color="#7b7bff"/><stop offset=".21" stop-color="#8b8bff"/><stop offset=".276" stop-color="#b8b8ff"/><stop offset=".314" stop-color="#ccf"/><stop offset=".362" stop-color="#dcdcff"/><stop offset=".429" stop-color="#ebebff"/><stop offset=".562" stop-color="#fff"/><stop offset="1" stop-color="#fff"/></linearGradient><linearGradient id="g1a52" gradientUnits="userSpaceOnUse" x1="0" y1="150.10" x2="0" y2="255.34"><stop offset="0" stop-color="#5959ff"/><stop offset=".086" stop-color="#6464ff"/><stop offset=".181" stop-color="#7b7bff"/><stop offset=".276" stop-color="#b7b7ff"/><stop offset=".314" stop-color="#ccf"/><stop offset=".362" stop-color="#dbdbff"/><stop offset=".438" stop-color="#ebebff"/><stop offset=".571" stop-color="#fff"/><stop offset="1" stop-color="#fff"/></linearGradient><linearGradient id="g1a53" gradientUnits="userSpaceOnUse" x1="0" y1="150.10" x2="0" y2="255.34"><stop offset="0" stop-color="#5656ff"/><stop offset=".076" stop-color="#6161ff"/><stop offset=".181" stop-color="#7b7bff"/><stop offset=".276" stop-color="#b6b6ff"/><stop offset=".314" stop-color="#c9c9ff"/><stop offset=".362" stop-color="#d9d9ff"/><stop offset=".438" stop-color="#eaeaff"/><stop offset=".59" stop-color="#fff"/><stop offset="1" stop-color="#fff"/></linearGradient><linearGradient id="g1a54" gradientUnits="userSpaceOnUse" x1="0" y1="150.10" x2="0" y2="255.34"><stop offset="0" stop-color="#5454ff"/><stop offset=".067" stop-color="#5e5eff"/><stop offset=".181" stop-color="#7c7cff"/><stop offset=".267" stop-color="#afafff"/><stop offset=".314" stop-color="#c7c7ff"/><stop offset=".362" stop-color="#d6d6ff"/><stop offset=".448" stop-color="#eaeaff"/><stop offset=".6" stop-color="#fff"/><stop offset="1" stop-color="#fff"/></linearGradient><linearGradient id="g1a55" gradientUnits="userSpaceOnUse" x1="0" y1="150.10" x2="0" y2="255.34"><stop offset="0" stop-color="#5454ff"/><stop offset=".067" stop-color="#5e5eff"/><stop offset=".181" stop-color="#7c7cff"/><stop offset=".276" stop-color="#b3b3ff"/><stop offset=".324" stop-color="#cacaff"/><stop offset=".371" stop-color="#d8d8ff"/><stop offset=".457" stop-color="#ebebff"/><stop offset=".6" stop-color="#fff"/><stop offset="1" stop-color="#fff"/></linearGradient><linearGradient id="g1a56" gradientUnits="userSpaceOnUse" x1="0" y1="150.10" x2="0" y2="255.34"><stop offset="0" stop-color="#5454ff"/><stop offset=".067" stop-color="#5e5eff"/><stop offset=".181" stop-color="#7c7cff"/><stop offset=".276" stop-color="#b3b3ff"/><stop offset=".324" stop-color="#cacaff"/><stop offset=".371" stop-color="#d8d8ff"/><stop offset=".457" stop-color="#ebebff"/><stop offset=".6" stop-color="#fff"/><stop offset="1" stop-color="#fff"/></linearGradient><linearGradient id="g1a57" gradientUnits="userSpaceOnUse" x1="0" y1="150.10" x2="0" y2="255.34"><stop offset="0" stop-color="#5454ff"/><stop offset=".067" stop-color="#5e5eff"/><stop offset=".181" stop-color="#7c7cff"/><stop offset=".276" stop-color="#b3b3ff"/><stop offset=".324" stop-color="#cacaff"/><stop offset=".371" stop-color="#d8d8ff"/><stop offset=".457" stop-color="#ebebff"/><stop offset=".6" stop-color="#fff"/><stop offset="1" stop-color="#fff"/></linearGradient><filter id="fb1a" x="-10%" y="-2%" width="120%" height="104%"><feGaussianBlur stdDeviation="2 0"/></filter><linearGradient id="g1b0" gradientUnits="userSpaceOnUse" x1="0" y1="255.34" x2="0" y2="677.30"><stop offset="0" stop-color="#fff"/><stop offset=".394" stop-color="#fff"/><stop offset=".513" stop-color="#ffffe0"/><stop offset=".601" stop-color="#ffffbf"/><stop offset=".672" stop-color="#ffffaf"/><stop offset=".767" stop-color="#ffffa7"/><stop offset="1" stop-color="#ffffa6"/></linearGradient><linearGradient id="g1b1" gradientUnits="userSpaceOnUse" x1="0" y1="255.34" x2="0" y2="677.30"><stop offset="0" stop-color="#fff"/><stop offset=".394" stop-color="#fff"/><stop offset=".511" stop-color="#ffffe0"/><stop offset=".599" stop-color="#ffffbf"/><stop offset=".672" stop-color="#ffffaf"/><stop offset=".767" stop-color="#ffffa7"/><stop offset="1" stop-color="#ffffa6"/></linearGradient><linearGradient id="g1b2" gradientUnits="userSpaceOnUse" x1="0" y1="255.34" x2="0" y2="677.30"><stop offset="0" stop-color="#fff"/><stop offset=".385" stop-color="#fffffe"/><stop offset=".504" stop-color="#ffffdf"/><stop offset=".599" stop-color="#ffffbc"/><stop offset=".675" stop-color="#ffffab"/><stop offset=".767" stop-color="#ffffa3"/><stop offset="1" stop-color="#ffffa4"/></linearGradient><linearGradient id="g1b3" gradientUnits="userSpaceOnUse" x1="0" y1="255.34" x2="0" y2="677.30"><stop offset="0" stop-color="#fff"/><stop offset=".356" stop-color="#fffffe"/><stop offset=".458" stop-color="#ffffe8"/><stop offset=".589" stop-color="#ffffb9"/><stop offset=".677" stop-color="#ffffa6"/><stop offset=".77" stop-color="#ffff9e"/><stop offset="1" stop-color="#ffffa1"/></linearGradient><linearGradient id="g1b4" gradientUnits="userSpaceOnUse" x1="0" y1="255.34" x2="0" y2="677.30"><stop offset="0" stop-color="#fff"/><stop offset=".33" stop-color="#fffffe"/><stop offset=".456" stop-color="#ffffe4"/><stop offset=".587" stop-color="#ffffb4"/><stop offset=".679" stop-color="#ffffa0"/><stop offset=".762" stop-color="#ffff97"/><stop offset=".855" stop-color="#ffff96"/><stop offset="1" stop-color="#ffff9e"/></linearGradient><linearGradient id="g1b5" gradientUnits="userSpaceOnUse" x1="0" y1="255.34" x2="0" y2="677.30"><stop offset="0" stop-color="#fff"/><stop offset=".311" stop-color="#fffffe"/><stop offset=".449" stop-color="#ffffdf"/><stop offset=".539" stop-color="#ffffbd"/><stop offset=".608" stop-color="#ffffa7"/><stop offset=".724" stop-color="#ffff93"/><stop offset=".848" stop-color="#ffff8e"/><stop offset="1" stop-color="#ffff9b"/></linearGradient><linearGradient id="g1b6" gradientUnits="userSpaceOnUse" x1="0" y1="255.34" x2="0" y2="677.30"><stop offset="0" stop-color="#fff"/><stop offset=".252" stop-color="#fff"/><stop offset=".29" stop-color="#fffffb"/><stop offset=".416" stop-color="#ffffe2"/><stop offset=".527" stop-color="#ffffb9"/><stop offset=".62" stop-color="#ffff9d"/><stop offset=".781" stop-color="#ffff86"/><stop offset=".841" stop-color="#ffff85"/><stop offset=".929" stop-color="#ffff93"/><stop offset="1" stop-color="#ffff98"/></linearGradient><linearGradient id="g1b7" gradientUnits="userSpaceOnUse" x1="0" y1="255.34" x2="0" y2="677.30"><stop offset="0" stop-color="#fff"/><stop offset=".245" stop-color="#fffffd"/><stop offset=".394" stop-color="#ffffe1"/><stop offset=".449" stop-color="#ffffd0"/><stop offset=".515" stop-color="#ffffb5"/><stop offset=".608" stop-color="#ff9"/><stop offset=".727" stop-color="#ffff84"/><stop offset=".834" stop-color="#ffff7d"/><stop offset=".929" stop-color="#ffff90"/><stop offset="1" stop-color="#ffff95"/></linearGradient><linearGradient id="g1b8" gradientUnits="userSpaceOnUse" x1="0" y1="255.34" x2="0" y2="677.30"><stop offset="0" stop-color="#fff"/><stop offset=".221" stop-color="#fffffe"/><stop offset=".392" stop-color="#ffffdb"/><stop offset=".449" stop-color="#ffffc8"/><stop offset=".515" stop-color="#ffffac"/><stop offset=".627" stop-color="#ffff8d"/><stop offset=".72" stop-color="#ffff7e"/><stop offset=".827" stop-color="#ffff79"/><stop offset=".872" stop-color="#ffff7f"/><stop offset=".929" stop-color="#ffff8d"/><stop offset="1" stop-color="#ffff92"/></linearGradient><linearGradient id="g1b9" gradientUnits="userSpaceOnUse" x1="0" y1="255.34" x2="0" y2="677.30"><stop offset="0" stop-color="#fff"/><stop offset=".204" stop-color="#fffffe"/><stop offset=".285" stop-color="#ffffe8"/><stop offset=".401" stop-color="#ffffd1"/><stop offset=".454" stop-color="#ffffbf"/><stop offset=".508" stop-color="#ffffa7"/><stop offset=".565" stop-color="#ffff9a"/><stop offset=".627" stop-color="#ffff85"/><stop offset=".722" stop-color="#ff7"/><stop offset=".819" stop-color="#ffff74"/><stop offset=".929" stop-color="#ffff8a"/><stop offset="1" stop-color="#ffff8f"/></linearGradient><linearGradient id="g1b10" gradientUnits="userSpaceOnUse" x1="0" y1="255.34" x2="0" y2="677.30"><stop offset="0" stop-color="#fff"/><stop offset=".19" stop-color="#fffffe"/><stop offset=".285" stop-color="#ffffe2"/><stop offset=".411" stop-color="#ffffc6"/><stop offset=".506" stop-color="#ffffa4"/><stop offset=".57" stop-color="#ffff94"/><stop offset=".622" stop-color="#ffff80"/><stop offset=".724" stop-color="#ffff71"/><stop offset=".815" stop-color="#ffff6f"/><stop offset=".924" stop-color="#ff8"/><stop offset="1" stop-color="#ffff8c"/></linearGradient><linearGradient id="g1b11" gradientUnits="userSpaceOnUse" x1="0" y1="255.34" x2="0" y2="677.30"><stop offset="0" stop-color="#fff"/><stop offset=".176" stop-color="#fffffe"/><stop offset=".287" stop-color="#ffd"/><stop offset=".425" stop-color="#ffb"/><stop offset=".508" stop-color="#ffffa0"/><stop offset=".575" stop-color="#ffff8f"/><stop offset=".618" stop-color="#ffff7f"/><stop offset=".724" stop-color="#ffff6a"/><stop offset=".81" stop-color="#ffff6a"/><stop offset=".917" stop-color="#ffff85"/><stop offset="1" stop-color="#ffff89"/></linearGradient><linearGradient id="g1b12" gradientUnits="userSpaceOnUse" x1="0" y1="255.34" x2="0" y2="677.30"><stop offset="0" stop-color="#fff"/><stop offset=".164" stop-color="#fffffe"/><stop offset=".29" stop-color="#ffffd8"/><stop offset=".568" stop-color="#ffff8e"/><stop offset=".634" stop-color="#ffff78"/><stop offset=".722" stop-color="#ff6"/><stop offset=".81" stop-color="#ff6"/><stop offset=".914" stop-color="#ffff84"/><stop offset="1" stop-color="#ffff86"/></linearGradient><linearGradient id="g1b13" gradientUnits="userSpaceOnUse" x1="0" y1="255.34" x2="0" y2="677.30"><stop offset="0" stop-color="#fff"/><stop offset=".15" stop-color="#fffffe"/><stop offset=".387" stop-color="#ffffb8"/><stop offset=".57" stop-color="#ffff8c"/><stop offset=".651" stop-color="#ffff70"/><stop offset=".722" stop-color="#ffff62"/><stop offset=".812" stop-color="#ffff62"/><stop offset=".912" stop-color="#ffff83"/><stop offset="1" stop-color="#ffff84"/></linearGradient><linearGradient id="g1b14" gradientUnits="userSpaceOnUse" x1="0" y1="255.34" x2="0" y2="677.30"><stop offset="0" stop-color="#fff"/><stop offset=".135" stop-color="#fffffe"/><stop offset=".223" stop-color="#ffffe7"/><stop offset=".39" stop-color="#ffffb1"/><stop offset=".561" stop-color="#ffff8c"/><stop offset=".653" stop-color="#ffff6b"/><stop offset=".722" stop-color="#ffff5e"/><stop offset=".815" stop-color="#ffff5f"/><stop offset=".886" stop-color="#ffff7b"/><stop offset=".917" stop-color="#ffff83"/><stop offset="1" stop-color="#ffff82"/></linearGradient><linearGradient id="g1b15" gradientUnits="userSpaceOnUse" x1="0" y1="255.34" x2="0" y2="677.30"><stop offset="0" stop-color="#fff"/><stop offset=".109" stop-color="#fff"/><stop offset=".145" stop-color="#fffff8"/><stop offset=".235" stop-color="#ffffe0"/><stop offset=".39" stop-color="#ffffac"/><stop offset=".561" stop-color="#ffff8b"/><stop offset=".653" stop-color="#ffff67"/><stop offset=".717" stop-color="#ffff5c"/><stop offset=".812" stop-color="#ffff5f"/><stop offset=".888" stop-color="#ffff7b"/><stop offset=".917" stop-color="#ffff82"/><stop offset="1" stop-color="#ffff80"/></linearGradient><linearGradient id="g1b16" gradientUnits="userSpaceOnUse" x1="0" y1="255.34" x2="0" y2="677.30"><stop offset="0" stop-color="#fff"/><stop offset=".1" stop-color="#fff"/><stop offset=".169" stop-color="#fffff0"/><stop offset=".238" stop-color="#ffd"/><stop offset=".39" stop-color="#ffffa9"/><stop offset=".57" stop-color="#ffff86"/><stop offset=".648" stop-color="#ff6"/><stop offset=".667" stop-color="#ffff61"/><stop offset=".729" stop-color="#ffff5b"/><stop offset=".781" stop-color="#ffff5d"/><stop offset=".822" stop-color="#ffff63"/><stop offset=".912" stop-color="#ffff81"/><stop offset="1" stop-color="#ffff7e"/></linearGradient><linearGradient id="g1b17" gradientUnits="userSpaceOnUse" x1="0" y1="255.34" x2="0" y2="677.30"><stop offset="0" stop-color="#fff"/><stop offset=".09" stop-color="#fff"/><stop offset=".181" stop-color="#ffffeb"/><stop offset=".242" stop-color="#ffffda"/><stop offset=".385" stop-color="#ffffa8"/><stop offset=".561" stop-color="#ffff87"/><stop offset=".648" stop-color="#ffff65"/><stop offset=".667" stop-color="#ffff61"/><stop offset=".722" stop-color="#ffff5c"/><stop offset=".772" stop-color="#ffff5d"/><stop offset=".822" stop-color="#ffff64"/><stop offset=".912" stop-color="#ffff80"/><stop offset="1" stop-color="#ffff7e"/></linearGradient><linearGradient id="g1b18" gradientUnits="userSpaceOnUse" x1="0" y1="255.34" x2="0" y2="677.30"><stop offset="0" stop-color="#fff"/><stop offset=".081" stop-color="#fff"/><stop offset=".19" stop-color="#ffffe7"/><stop offset=".387" stop-color="#ffffa6"/><stop offset=".556" stop-color="#ffff87"/><stop offset=".646" stop-color="#ffff67"/><stop offset=".677" stop-color="#ffff60"/><stop offset=".727" stop-color="#ffff5c"/><stop offset=".772" stop-color="#ffff5e"/><stop offset=".822" stop-color="#ff6"/><stop offset=".907" stop-color="#ffff7f"/><stop offset="1" stop-color="#ffff7e"/></linearGradient><linearGradient id="g1b19" gradientUnits="userSpaceOnUse" x1="0" y1="255.34" x2="0" y2="677.30"><stop offset="0" stop-color="#fff"/><stop offset=".071" stop-color="#fff"/><stop offset=".195" stop-color="#ffffe4"/><stop offset=".39" stop-color="#ffffa4"/><stop offset=".546" stop-color="#ff8"/><stop offset=".646" stop-color="#ffff69"/><stop offset=".682" stop-color="#ffff61"/><stop offset=".772" stop-color="#ffff5f"/><stop offset=".819" stop-color="#ffff67"/><stop offset=".91" stop-color="#ffff7d"/><stop offset="1" stop-color="#ffff7e"/></linearGradient><linearGradient id="g1b20" gradientUnits="userSpaceOnUse" x1="0" y1="255.34" x2="0" y2="677.30"><stop offset="0" stop-color="#fff"/><stop offset=".067" stop-color="#fff"/><stop offset=".195" stop-color="#ffffe3"/><stop offset=".39" stop-color="#ffffa4"/><stop offset=".532" stop-color="#ffff8a"/><stop offset=".684" stop-color="#ffff63"/><stop offset=".772" stop-color="#ffff61"/><stop offset=".91" stop-color="#ffff7c"/><stop offset="1" stop-color="#ffff7e"/></linearGradient><linearGradient id="g1b21" gradientUnits="userSpaceOnUse" x1="0" y1="255.34" x2="0" y2="677.30"><stop offset="0" stop-color="#fff"/><stop offset=".059" stop-color="#fff"/><stop offset=".195" stop-color="#ffffe2"/><stop offset=".392" stop-color="#ffffa3"/><stop offset=".523" stop-color="#ffff8b"/><stop offset=".682" stop-color="#ffff65"/><stop offset=".772" stop-color="#ffff63"/><stop offset=".91" stop-color="#ffff7b"/><stop offset="1" stop-color="#ffff7f"/></linearGradient><linearGradient id="g1b22" gradientUnits="userSpaceOnUse" x1="0" y1="255.34" x2="0" y2="677.30"><stop offset="0" stop-color="#fff"/><stop offset=".057" stop-color="#fff"/><stop offset=".176" stop-color="#ffffe5"/><stop offset=".249" stop-color="#ffffd2"/><stop offset=".394" stop-color="#ffffa4"/><stop offset=".682" stop-color="#ffff67"/><stop offset=".772" stop-color="#ffff65"/><stop offset=".912" stop-color="#ffff7a"/><stop offset="1" stop-color="#ffff7f"/></linearGradient><linearGradient id="g1b23" gradientUnits="userSpaceOnUse" x1="0" y1="255.34" x2="0" y2="677.30"><stop offset="0" stop-color="#fff"/><stop offset=".055" stop-color="#fff"/><stop offset=".086" stop-color="#fffff6"/><stop offset=".169" stop-color="#ffffe7"/><stop offset=".247" stop-color="#ffffd3"/><stop offset=".397" stop-color="#ffffa5"/><stop offset=".677" stop-color="#ffff6a"/><stop offset=".772" stop-color="#ffff67"/><stop offset=".914" stop-color="#ffff7a"/><stop offset="1" stop-color="#ffff7f"/></linearGradient><linearGradient id="g1b24" gradientUnits="userSpaceOnUse" x1="0" y1="255.34" x2="0" y2="677.30"><stop offset="0" stop-color="#fff"/><stop offset=".057" stop-color="#fff"/><stop offset=".166" stop-color="#ffffe8"/><stop offset=".245" stop-color="#ffffd4"/><stop offset=".401" stop-color="#ffffa5"/><stop offset=".568" stop-color="#ffff80"/><stop offset=".672" stop-color="#ffff6d"/><stop offset=".772" stop-color="#ffff69"/><stop offset=".917" stop-color="#ffff7a"/><stop offset="1" stop-color="#ffff7f"/></linearGradient><linearGradient id="g1b25" gradientUnits="userSpaceOnUse" x1="0" y1="255.34" x2="0" y2="677.30"><stop offset="0" stop-color="#fff"/><stop offset=".067" stop-color="#fff"/><stop offset=".216" stop-color="#ffd"/><stop offset=".411" stop-color="#ffffa5"/><stop offset=".572" stop-color="#ffff80"/><stop offset=".667" stop-color="#ffff70"/><stop offset=".772" stop-color="#ffff6c"/><stop offset="1" stop-color="#ffff7f"/></linearGradient><linearGradient id="g1b26" gradientUnits="userSpaceOnUse" x1="0" y1="255.34" x2="0" y2="677.30"><stop offset="0" stop-color="#fff"/><stop offset=".083" stop-color="#fffffe"/><stop offset=".214" stop-color="#ffffdf"/><stop offset=".416" stop-color="#ffffa6"/><stop offset=".577" stop-color="#ffff80"/><stop offset=".66" stop-color="#ffff73"/><stop offset=".77" stop-color="#ffff6e"/><stop offset="1" stop-color="#ffff7f"/></linearGradient><linearGradient id="g1b27" gradientUnits="userSpaceOnUse" x1="0" y1="255.34" x2="0" y2="677.30"><stop offset="0" stop-color="#fff"/><stop offset=".09" stop-color="#fffffe"/><stop offset=".216" stop-color="#ffffe0"/><stop offset=".416" stop-color="#ffffa7"/><stop offset=".58" stop-color="#ffff80"/><stop offset=".656" stop-color="#ffff75"/><stop offset=".77" stop-color="#ffff6f"/><stop offset="1" stop-color="#ffff80"/></linearGradient><linearGradient id="g1b28" gradientUnits="userSpaceOnUse" x1="0" y1="255.34" x2="0" y2="677.30"><stop offset="0" stop-color="#fff"/><stop offset=".09" stop-color="#fff"/><stop offset=".216" stop-color="#ffffe0"/><stop offset=".416" stop-color="#ffffa7"/><stop offset=".582" stop-color="#ffff80"/><stop offset=".656" stop-color="#ffff75"/><stop offset=".77" stop-color="#ffff6f"/><stop offset="1" stop-color="#ffff80"/></linearGradient><filter id="fb1b" x="-10%" y="-2%" width="120%" height="104%"><feGaussianBlur stdDeviation="4 0"/></filter><clipPath id="fc1"><rect x="537.00" y="150.10" width="208.5" height="527.20"/></clipPath></defs><g clip-path="url(#fc1)"><g filter="url(#fb1a)"><rect x="525.5" y="150.10" width="4.6" height="106.04" fill="url(#g1a0)"/><rect x="529.5" y="150.10" width="4.6" height="106.04" fill="url(#g1a1)"/><rect x="533.5" y="150.10" width="4.6" height="106.04" fill="url(#g1a2)"/><rect x="537.5" y="150.10" width="4.6" height="106.04" fill="url(#g1a3)"/><rect x="541.5" y="150.10" width="4.6" height="106.04" fill="url(#g1a4)"/><rect x="545.5" y="150.10" width="4.6" height="106.04" fill="url(#g1a5)"/><rect x="549.5" y="150.10" width="4.6" height="106.04" fill="url(#g1a6)"/><rect x="553.5" y="150.10" width="4.6" height="106.04" fill="url(#g1a7)"/><rect x="557.5" y="150.10" width="4.6" height="106.04" fill="url(#g1a8)"/><rect x="561.5" y="150.10" width="4.6" height="106.04" fill="url(#g1a9)"/><rect x="565.5" y="150.10" width="4.6" height="106.04" fill="url(#g1a10)"/><rect x="569.5" y="150.10" width="4.6" height="106.04" fill="url(#g1a11)"/><rect x="573.5" y="150.10" width="4.6" height="106.04" fill="url(#g1a12)"/><rect x="577.5" y="150.10" width="4.6" height="106.04" fill="url(#g1a13)"/><rect x="581.5" y="150.10" width="4.6" height="106.04" fill="url(#g1a14)"/><rect x="585.5" y="150.10" width="4.6" height="106.04" fill="url(#g1a15)"/><rect x="589.5" y="150.10" width="4.6" height="106.04" fill="url(#g1a16)"/><rect x="593.5" y="150.10" width="4.6" height="106.04" fill="url(#g1a17)"/><rect x="597.5" y="150.10" width="4.6" height="106.04" fill="url(#g1a18)"/><rect x="601.5" y="150.10" width="4.6" height="106.04" fill="url(#g1a19)"/><rect x="605.5" y="150.10" width="4.6" height="106.04" fill="url(#g1a20)"/><rect x="609.5" y="150.10" width="4.6" height="106.04" fill="url(#g1a21)"/><rect x="613.5" y="150.10" width="4.6" height="106.04" fill="url(#g1a22)"/><rect x="617.5" y="150.10" width="4.6" height="106.04" fill="url(#g1a23)"/><rect x="621.5" y="150.10" width="4.6" height="106.04" fill="url(#g1a24)"/><rect x="625.5" y="150.10" width="4.6" height="106.04" fill="url(#g1a25)"/><rect x="629.5" y="150.10" width="4.6" height="106.04" fill="url(#g1a26)"/><rect x="633.5" y="150.10" width="4.6" height="106.04" fill="url(#g1a27)"/><rect x="637.5" y="150.10" width="4.6" height="106.04" fill="url(#g1a28)"/><rect x="641.5" y="150.10" width="4.6" height="106.04" fill="url(#g1a29)"/><rect x="645.5" y="150.10" width="4.6" height="106.04" fill="url(#g1a30)"/><rect x="649.5" y="150.10" width="4.6" height="106.04" fill="url(#g1a31)"/><rect x="653.5" y="150.10" width="4.6" height="106.04" fill="url(#g1a32)"/><rect x="657.5" y="150.10" width="4.6" height="106.04" fill="url(#g1a33)"/><rect x="661.5" y="150.10" width="4.6" height="106.04" fill="url(#g1a34)"/><rect x="665.5" y="150.10" width="4.6" height="106.04" fill="url(#g1a35)"/><rect x="669.5" y="150.10" width="4.6" height="106.04" fill="url(#g1a36)"/><rect x="673.5" y="150.10" width="4.6" height="106.04" fill="url(#g1a37)"/><rect x="677.5" y="150.10" width="4.6" height="106.04" fill="url(#g1a38)"/><rect x="681.5" y="150.10" width="4.6" height="106.04" fill="url(#g1a39)"/><rect x="685.5" y="150.10" width="4.6" height="106.04" fill="url(#g1a40)"/><rect x="689.5" y="150.10" width="4.6" height="106.04" fill="url(#g1a41)"/><rect x="693.5" y="150.10" width="4.6" height="106.04" fill="url(#g1a42)"/><rect x="697.5" y="150.10" width="4.6" height="106.04" fill="url(#g1a43)"/><rect x="701.5" y="150.10" width="4.6" height="106.04" fill="url(#g1a44)"/><rect x="705.5" y="150.10" width="4.6" height="106.04" fill="url(#g1a45)"/><rect x="709.5" y="150.10" width="4.6" height="106.04" fill="url(#g1a46)"/><rect x="713.5" y="150.10" width="4.6" height="106.04" fill="url(#g1a47)"/><rect x="717.5" y="150.10" width="4.6" height="106.04" fill="url(#g1a48)"/><rect x="721.5" y="150.10" width="4.6" height="106.04" fill="url(#g1a49)"/><rect x="725.5" y="150.10" width="4.6" height="106.04" fill="url(#g1a50)"/><rect x="729.5" y="150.10" width="4.6" height="106.04" fill="url(#g1a51)"/><rect x="733.5" y="150.10" width="4.6" height="106.04" fill="url(#g1a52)"/><rect x="737.5" y="150.10" width="4.6" height="106.04" fill="url(#g1a53)"/><rect x="741.5" y="150.10" width="4.6" height="106.04" fill="url(#g1a54)"/><rect x="745.5" y="150.10" width="4.6" height="106.04" fill="url(#g1a55)"/><rect x="749.5" y="150.10" width="4.6" height="106.04" fill="url(#g1a56)"/><rect x="753.5" y="150.10" width="4.6" height="106.04" fill="url(#g1a57)"/></g><g filter="url(#fb1b)"><rect x="525.5" y="255.34" width="8.6" height="421.96" fill="url(#g1b0)"/><rect x="533.5" y="255.34" width="8.6" height="421.96" fill="url(#g1b1)"/><rect x="541.5" y="255.34" width="8.6" height="421.96" fill="url(#g1b2)"/><rect x="549.5" y="255.34" width="8.6" height="421.96" fill="url(#g1b3)"/><rect x="557.5" y="255.34" width="8.6" height="421.96" fill="url(#g1b4)"/><rect x="565.5" y="255.34" width="8.6" height="421.96" fill="url(#g1b5)"/><rect x="573.5" y="255.34" width="8.6" height="421.96" fill="url(#g1b6)"/><rect x="581.5" y="255.34" width="8.6" height="421.96" fill="url(#g1b7)"/><rect x="589.5" y="255.34" width="8.6" height="421.96" fill="url(#g1b8)"/><rect x="597.5" y="255.34" width="8.6" height="421.96" fill="url(#g1b9)"/><rect x="605.5" y="255.34" width="8.6" height="421.96" fill="url(#g1b10)"/><rect x="613.5" y="255.34" width="8.6" height="421.96" fill="url(#g1b11)"/><rect x="621.5" y="255.34" width="8.6" height="421.96" fill="url(#g1b12)"/><rect x="629.5" y="255.34" width="8.6" height="421.96" fill="url(#g1b13)"/><rect x="637.5" y="255.34" width="8.6" height="421.96" fill="url(#g1b14)"/><rect x="645.5" y="255.34" width="8.6" height="421.96" fill="url(#g1b15)"/><rect x="653.5" y="255.34" width="8.6" height="421.96" fill="url(#g1b16)"/><rect x="661.5" y="255.34" width="8.6" height="421.96" fill="url(#g1b17)"/><rect x="669.5" y="255.34" width="8.6" height="421.96" fill="url(#g1b18)"/><rect x="677.5" y="255.34" width="8.6" height="421.96" fill="url(#g1b19)"/><rect x="685.5" y="255.34" width="8.6" height="421.96" fill="url(#g1b20)"/><rect x="693.5" y="255.34" width="8.6" height="421.96" fill="url(#g1b21)"/><rect x="701.5" y="255.34" width="8.6" height="421.96" fill="url(#g1b22)"/><rect x="709.5" y="255.34" width="8.6" height="421.96" fill="url(#g1b23)"/><rect x="717.5" y="255.34" width="8.6" height="421.96" fill="url(#g1b24)"/><rect x="725.5" y="255.34" width="8.6" height="421.96" fill="url(#g1b25)"/><rect x="733.5" y="255.34" width="8.6" height="421.96" fill="url(#g1b26)"/><rect x="741.5" y="255.34" width="8.6" height="421.96" fill="url(#g1b27)"/><rect x="749.5" y="255.34" width="8.6" height="421.96" fill="url(#g1b28)"/></g></g>
<clipPath id="cc1"><rect x="433.5" y="150.1" width="312.0" height="527.2"/></clipPath>
<g clip-path="url(#cc1)">
<path class="th" d="M545.0 149.5C545.8 151.0 547.0 150.8 547.5 154.0C548.0 157.2 548.2 155.9 546.5 159.0C544.8 162.1 545.5 160.9 542.5 163.2C539.5 165.5 539.2 165.0 537.5 165.9M573.8 149.5C572.9 151.7 573.9 151.7 571.0 156.0C568.1 160.3 569.7 158.7 565.0 162.5C560.3 166.3 562.8 164.8 557.0 167.5C551.2 170.2 550.7 169.6 547.6 170.6M658.9 149.5C659.1 150.3 660.0 150.4 659.5 152.0C659.0 153.6 660.7 153.1 657.5 154.4C654.3 155.7 656.8 154.9 650.0 156.0C643.2 157.1 645.0 156.6 637.0 157.8C629.0 159.0 632.7 158.2 626.0 159.6C619.3 161.0 620.0 161.1 617.0 161.9M628.6 194.3C631.7 194.8 629.6 195.1 638.0 195.7C646.4 196.3 643.7 196.5 653.7 196.0C663.7 195.5 656.9 196.3 668.0 194.3C679.1 192.3 675.0 192.7 687.0 190.0C699.0 187.3 692.8 188.4 704.0 186.3C715.2 184.2 711.9 184.8 720.6 183.8C729.3 182.8 724.4 183.4 730.0 183.2C735.6 183.0 735.0 183.1 737.5 183.1M696.5 149.5C695.8 150.2 695.8 150.2 694.3 151.5C692.8 152.8 692.8 152.8 692.0 153.4M723.0 170.6C725.7 170.7 725.0 170.8 731.0 170.8C737.0 170.8 737.7 170.7 741.0 170.6M688.6 495.7C682.4 497.3 682.3 497.4 670.0 500.6C657.7 503.8 663.9 502.3 651.6 505.2C639.3 508.1 644.4 506.7 633.0 509.3C621.6 511.9 625.5 510.4 617.3 513.1C609.1 515.8 612.9 513.6 608.5 517.5C604.1 521.4 606.0 519.5 604.0 524.7C602.0 529.9 603.4 527.7 602.5 533.0C601.6 538.3 601.8 538.1 601.4 540.6M588.2 572.3C586.5 576.2 585.7 576.1 583.0 584.0C580.3 591.9 581.1 588.8 580.2 596.1C579.3 603.4 579.5 599.8 580.4 606.0C581.3 612.2 580.0 609.3 582.9 614.6C585.8 619.9 583.7 617.4 589.0 621.8C594.3 626.2 590.7 624.6 598.7 627.9C606.7 631.2 602.4 629.5 613.0 631.6C623.6 633.7 618.2 632.7 630.5 634.2C642.8 635.7 636.8 634.9 650.0 636.0C663.2 637.1 663.4 636.9 670.1 637.4M709.8 338.0C703.9 339.2 703.5 338.9 692.0 341.7C680.5 344.5 680.9 344.9 675.4 346.5M641.4 358.8C636.6 361.2 635.1 361.7 627.0 366.0C618.9 370.3 622.6 368.3 617.0 371.8C611.4 375.3 612.5 374.9 610.3 376.4M589.6 418.8L587.6 421.8M564.4 450.7C559.9 454.3 559.8 453.9 551.0 461.5C542.2 469.1 542.3 469.5 537.9 473.5"/>
<path class="tk" d="M606.0 150.9C604.0 151.7 604.2 151.4 600.0 153.3C595.8 155.2 599.2 153.6 593.5 156.7C587.8 159.8 589.7 158.6 583.0 162.5C576.3 166.4 576.7 166.4 573.5 168.4M549.2 182.6C548.1 183.5 547.4 183.3 546.0 185.3C544.6 187.3 544.7 186.1 545.0 188.5C545.3 190.9 544.7 189.6 547.0 192.5C549.3 195.4 549.0 194.2 552.0 197.3C555.0 200.4 553.7 198.7 556.0 201.8C558.3 204.9 557.9 203.1 559.0 206.5C560.1 209.9 560.1 208.9 559.3 211.9C558.5 214.9 559.0 213.6 556.5 215.5C554.0 217.4 556.0 216.4 551.8 217.7C547.6 219.0 548.8 218.5 544.0 219.3C539.2 220.1 539.7 219.9 537.5 220.2M537.5 245.0C538.0 243.7 537.6 243.7 539.0 241.0C540.4 238.3 538.7 239.5 541.7 237.0C544.7 234.5 543.6 235.7 548.0 233.5C552.4 231.3 550.4 232.5 555.0 230.3C559.6 228.1 556.8 229.0 561.8 227.0C566.8 225.0 563.9 225.9 570.0 224.3C576.1 222.7 572.2 223.7 580.0 222.3C587.8 220.9 589.0 220.8 593.5 220.0M623.6 217.6C629.1 217.4 627.9 217.1 640.0 216.9C652.1 216.7 643.3 216.7 660.0 216.9C676.7 217.1 673.3 217.2 690.0 217.5C706.7 217.8 696.8 217.6 710.0 217.8C723.2 218.0 723.0 217.9 729.5 218.0"/>
<text class="c1" transform="translate(560.4 174.8) rotate(-37)" y="8.4">0</text>
<text class="c1" transform="translate(608.6 218.2) rotate(0)" y="8.4">0</text>
<text class="c1" transform="translate(624.3 176.2) rotate(62)" y="8.4">-1</text>
<text class="c1" transform="translate(707.6 160.2) rotate(35)" y="8.4">-2</text>
<text class="c1" transform="translate(600.0 395.0) rotate(-57)" y="8.4">0.5</text>
<text class="c1" transform="translate(593.5 555.5) rotate(-78)" y="8.4">1</text>
</g>
<polygon points="745.5,150.1 734.4,203.5 721.2,255.7 719.9,260.8 716.0,290.8 712.4,322.8 701.6,400.8 692.3,473.5 681.0,558.3 670.9,624.8 665.9,677.3 745.5,677.3" fill="#696969" stroke="#000" stroke-width="1.1" stroke-linejoin="miter"/>
<path d="M425.5 150.10H433.5M745.5 150.10h7.6M425.5 202.82H433.5M745.5 202.82h7.6M425.5 255.54H433.5M745.5 255.54h7.6M425.5 308.26H433.5M745.5 308.26h7.6M425.5 360.98H433.5M745.5 360.98h7.6M425.5 413.70H433.5M745.5 413.70h7.6M425.5 466.42H433.5M745.5 466.42h7.6M425.5 519.14H433.5M745.5 519.14h7.6M425.5 571.86H433.5M745.5 571.86h7.6M425.5 624.58H433.5M745.5 624.58h7.6M425.5 677.30H433.5M745.5 677.30h7.6M433.50 677.3v8.6M485.50 677.3v8.6M537.50 677.3v8.6M589.50 677.3v8.6M641.50 677.3v8.6M693.50 677.3v8.6M745.50 677.3v8.6" stroke="#000" stroke-width="1.1" fill="none"/>
<text class="tl" x="422.9" y="159.2" text-anchor="end">0</text>
<text class="tl" x="422.9" y="211.9" text-anchor="end">50</text>
<text class="tl" x="422.9" y="264.6" text-anchor="end">100</text>
<text class="tl" x="422.9" y="317.4" text-anchor="end">150</text>
<text class="tl" x="422.9" y="370.1" text-anchor="end">200</text>
<text class="tl" x="422.9" y="422.8" text-anchor="end">250</text>
<text class="tl" x="422.9" y="475.5" text-anchor="end">300</text>
<text class="tl" x="422.9" y="528.2" text-anchor="end">350</text>
<text class="tl" x="422.9" y="581.0" text-anchor="end">400</text>
<text class="tl" x="422.9" y="633.7" text-anchor="end">450</text>
<text class="tl" x="422.9" y="686.4" text-anchor="end">500</text>
<text class="tl" x="433.5" y="709.0" text-anchor="middle">60</text>
<text class="tl" x="485.5" y="709.0" text-anchor="middle">50</text>
<text class="tl" x="537.5" y="709.0" text-anchor="middle">40</text>
<text class="tl" x="589.5" y="709.0" text-anchor="middle">30</text>
<text class="tl" x="641.5" y="709.0" text-anchor="middle">20</text>
<text class="tl" x="693.5" y="709.0" text-anchor="middle">10</text>
<text class="tl" x="745.5" y="709.0" text-anchor="middle">0</text>
</g>
<g id="p3">
<rect x="812.10" y="149.90" width="312.00" height="527.20" fill="#fff" stroke="#000" stroke-width="2.7" stroke-linejoin="round"/>
<defs><linearGradient id="g2a0" gradientUnits="userSpaceOnUse" x1="0" y1="149.90" x2="0" y2="255.14"><stop offset="0" stop-color="#002cff"/><stop offset=".029" stop-color="#0038ff"/><stop offset=".067" stop-color="#002eff"/><stop offset=".076" stop-color="#0038ff"/><stop offset=".086" stop-color="#004aff"/><stop offset=".105" stop-color="#007dff"/><stop offset=".124" stop-color="#00a8ff"/><stop offset=".152" stop-color="#00f5fa"/><stop offset=".162" stop-color="#05ce13"/><stop offset=".171" stop-color="#1bd004"/><stop offset=".181" stop-color="#87e605"/><stop offset=".19" stop-color="#c6f21d"/><stop offset=".2" stop-color="#e1f844"/><stop offset=".21" stop-color="#f3fc6c"/><stop offset=".219" stop-color="#fcff8c"/><stop offset=".248" stop-color="#fcff8e"/><stop offset=".257" stop-color="#f6fd78"/><stop offset=".276" stop-color="#d5f531"/><stop offset=".286" stop-color="#c4f21b"/><stop offset=".295" stop-color="#b8ef0e"/><stop offset=".305" stop-color="#aced0c"/><stop offset=".324" stop-color="#a4eb0a"/><stop offset=".362" stop-color="#b3ee0d"/><stop offset=".381" stop-color="#b4ee0d"/><stop offset=".4" stop-color="#a5ec0b"/><stop offset=".429" stop-color="#7fe403"/><stop offset=".448" stop-color="#78e302"/><stop offset=".467" stop-color="#85e504"/><stop offset=".514" stop-color="#bdf011"/><stop offset=".562" stop-color="#dff73f"/><stop offset=".61" stop-color="#fbff89"/><stop offset=".648" stop-color="#fdff93"/><stop offset=".676" stop-color="#fbff88"/><stop offset=".695" stop-color="#f0fc64"/><stop offset=".724" stop-color="#dcf73b"/><stop offset=".771" stop-color="#bdf010"/><stop offset=".8" stop-color="#aced0c"/><stop offset=".857" stop-color="#98e908"/><stop offset="1" stop-color="#7be302"/></linearGradient><linearGradient id="g2a1" gradientUnits="userSpaceOnUse" x1="0" y1="149.90" x2="0" y2="255.14"><stop offset="0" stop-color="#002cff"/><stop offset=".029" stop-color="#0038ff"/><stop offset=".067" stop-color="#002eff"/><stop offset=".076" stop-color="#0038ff"/><stop offset=".086" stop-color="#004aff"/><stop offset=".105" stop-color="#007dff"/><stop offset=".124" stop-color="#00a8ff"/><stop offset=".152" stop-color="#00f5fa"/><stop offset=".162" stop-color="#05ce13"/><stop offset=".171" stop-color="#1bd004"/><stop offset=".181" stop-color="#87e605"/><stop offset=".19" stop-color="#c6f21d"/><stop offset=".2" stop-color="#e1f844"/><stop offset=".21" stop-color="#f3fc6c"/><stop offset=".219" stop-color="#fcff8c"/><stop offset=".248" stop-color="#fcff8e"/><stop offset=".257" stop-color="#f6fd78"/><stop offset=".276" stop-color="#d5f531"/><stop offset=".286" stop-color="#c4f21b"/><stop offset=".295" stop-color="#b8ef0e"/><stop offset=".305" stop-color="#aced0c"/><stop offset=".324" stop-color="#a4eb0a"/><stop offset=".362" stop-color="#b3ee0d"/><stop offset=".381" stop-color="#b4ee0d"/><stop offset=".4" stop-color="#a5ec0b"/><stop offset=".429" stop-color="#7fe403"/><stop offset=".448" stop-color="#78e302"/><stop offset=".467" stop-color="#85e504"/><stop offset=".514" stop-color="#bdf011"/><stop offset=".562" stop-color="#dff73f"/><stop offset=".61" stop-color="#fbff89"/><stop offset=".648" stop-color="#fdff93"/><stop offset=".676" stop-color="#fbff88"/><stop offset=".695" stop-color="#f0fc64"/><stop offset=".724" stop-color="#dcf73b"/><stop offset=".771" stop-color="#bdf010"/><stop offset=".8" stop-color="#aced0c"/><stop offset=".857" stop-color="#98e908"/><stop offset="1" stop-color="#7be302"/></linearGradient><linearGradient id="g2a2" gradientUnits="userSpaceOnUse" x1="0" y1="149.90" x2="0" y2="255.14"><stop offset="0" stop-color="#002cff"/><stop offset=".029" stop-color="#0038ff"/><stop offset=".067" stop-color="#002eff"/><stop offset=".076" stop-color="#0038ff"/><stop offset=".086" stop-color="#004aff"/><stop offset=".105" stop-color="#007dff"/><stop offset=".124" stop-color="#00a8ff"/><stop offset=".152" stop-color="#00f5fa"/><stop offset=".162" stop-color="#05ce13"/><stop offset=".171" stop-color="#1bd004"/><stop offset=".181" stop-color="#87e605"/><stop offset=".19" stop-color="#c6f21d"/><stop offset=".2" stop-color="#e1f844"/><stop offset=".21" stop-color="#f3fc6c"/><stop offset=".219" stop-color="#fcff8c"/><stop offset=".248" stop-color="#fcff8e"/><stop offset=".257" stop-color="#f6fd78"/><stop offset=".276" stop-color="#d5f531"/><stop offset=".286" stop-color="#c4f21b"/><stop offset=".295" stop-color="#b8ef0e"/><stop offset=".305" stop-color="#aced0c"/><stop offset=".324" stop-color="#a4eb0a"/><stop offset=".362" stop-color="#b3ee0d"/><stop offset=".381" stop-color="#b4ee0d"/><stop offset=".4" stop-color="#a5ec0b"/><stop offset=".429" stop-color="#7fe403"/><stop offset=".448" stop-color="#78e302"/><stop offset=".467" stop-color="#85e504"/><stop offset=".514" stop-color="#bdf011"/><stop offset=".562" stop-color="#dff73f"/><stop offset=".61" stop-color="#fbff89"/><stop offset=".648" stop-color="#fdff93"/><stop offset=".676" stop-color="#fbff88"/><stop offset=".695" stop-color="#f0fc64"/><stop offset=".724" stop-color="#dcf73b"/><stop offset=".771" stop-color="#bdf010"/><stop offset=".8" stop-color="#aced0c"/><stop offset=".857" stop-color="#98e908"/><stop offset="1" stop-color="#7be302"/></linearGradient><linearGradient id="g2a3" gradientUnits="userSpaceOnUse" x1="0" y1="149.90" x2="0" y2="255.14"><stop offset="0" stop-color="#003dff"/><stop offset=".029" stop-color="#04f"/><stop offset=".057" stop-color="#003bff"/><stop offset=".076" stop-color="#04f"/><stop offset=".095" stop-color="#006bff"/><stop offset=".124" stop-color="#09f"/><stop offset=".152" stop-color="#00f1fb"/><stop offset=".162" stop-color="#05cf14"/><stop offset=".171" stop-color="#17cf04"/><stop offset=".181" stop-color="#85e504"/><stop offset=".19" stop-color="#c5f21c"/><stop offset=".2" stop-color="#e0f843"/><stop offset=".21" stop-color="#f2fc6b"/><stop offset=".219" stop-color="#fcff8d"/><stop offset=".229" stop-color="#fdff92"/><stop offset=".248" stop-color="#fcff8f"/><stop offset=".257" stop-color="#f6fd78"/><stop offset=".276" stop-color="#d7f634"/><stop offset=".286" stop-color="#c7f21e"/><stop offset=".295" stop-color="#bcf010"/><stop offset=".305" stop-color="#afed0c"/><stop offset=".324" stop-color="#a5eb0a"/><stop offset=".362" stop-color="#b4ee0d"/><stop offset=".381" stop-color="#b4ee0d"/><stop offset=".4" stop-color="#a7ec0b"/><stop offset=".429" stop-color="#7ae302"/><stop offset=".438" stop-color="#73e101"/><stop offset=".448" stop-color="#73e201"/><stop offset=".467" stop-color="#84e504"/><stop offset=".514" stop-color="#bef011"/><stop offset=".562" stop-color="#dff740"/><stop offset=".61" stop-color="#fbff89"/><stop offset=".648" stop-color="#fdff93"/><stop offset=".676" stop-color="#faff87"/><stop offset=".695" stop-color="#f0fc64"/><stop offset=".724" stop-color="#dcf63b"/><stop offset=".771" stop-color="#bdf010"/><stop offset=".81" stop-color="#a7ec0b"/><stop offset=".857" stop-color="#97e908"/><stop offset="1" stop-color="#7be302"/></linearGradient><linearGradient id="g2a4" gradientUnits="userSpaceOnUse" x1="0" y1="149.90" x2="0" y2="255.14"><stop offset="0" stop-color="#0071ff"/><stop offset=".029" stop-color="#006aff"/><stop offset=".048" stop-color="#005bff"/><stop offset=".057" stop-color="#005aff"/><stop offset=".086" stop-color="#007bff"/><stop offset=".114" stop-color="#008aff"/><stop offset=".124" stop-color="#0098ff"/><stop offset=".133" stop-color="#00b1ff"/><stop offset=".152" stop-color="#00effb"/><stop offset=".162" stop-color="#05d016"/><stop offset=".171" stop-color="#0fce05"/><stop offset=".181" stop-color="#7ce302"/><stop offset=".19" stop-color="#c1f115"/><stop offset=".2" stop-color="#dbf63a"/><stop offset=".219" stop-color="#f9fe80"/><stop offset=".229" stop-color="#fcff8e"/><stop offset=".248" stop-color="#fbff89"/><stop offset=".276" stop-color="#daf638"/><stop offset=".295" stop-color="#c1f116"/><stop offset=".305" stop-color="#b7ef0e"/><stop offset=".324" stop-color="#aced0c"/><stop offset=".352" stop-color="#aced0c"/><stop offset=".381" stop-color="#9ae908"/><stop offset=".4" stop-color="#97e908"/><stop offset=".438" stop-color="#72e101"/><stop offset=".457" stop-color="#7de403"/><stop offset=".514" stop-color="#c0f114"/><stop offset=".562" stop-color="#e0f741"/><stop offset=".619" stop-color="#fcff8c"/><stop offset=".648" stop-color="#fdff90"/><stop offset=".667" stop-color="#fbff8a"/><stop offset=".724" stop-color="#daf638"/><stop offset=".771" stop-color="#bdf010"/><stop offset=".8" stop-color="#aaec0b"/><stop offset=".848" stop-color="#98e908"/><stop offset="1" stop-color="#79e302"/></linearGradient><linearGradient id="g2a5" gradientUnits="userSpaceOnUse" x1="0" y1="149.90" x2="0" y2="255.14"><stop offset="0" stop-color="#005dff"/><stop offset=".019" stop-color="#005fff"/><stop offset=".048" stop-color="#0053ff"/><stop offset=".057" stop-color="#05f"/><stop offset=".143" stop-color="#00e4fc"/><stop offset=".152" stop-color="#00f6e7"/><stop offset=".162" stop-color="#05cd12"/><stop offset=".171" stop-color="#11ce05"/><stop offset=".181" stop-color="#76e201"/><stop offset=".19" stop-color="#b8ef0f"/><stop offset=".2" stop-color="#d2f52e"/><stop offset=".219" stop-color="#effb62"/><stop offset=".229" stop-color="#f5fd73"/><stop offset=".238" stop-color="#f6fd77"/><stop offset=".248" stop-color="#f3fd6e"/><stop offset=".257" stop-color="#ecfb5c"/><stop offset=".286" stop-color="#ccf326"/><stop offset=".305" stop-color="#bdf011"/><stop offset=".314" stop-color="#b8ef0e"/><stop offset=".343" stop-color="#b1ee0d"/><stop offset=".381" stop-color="#8ae605"/><stop offset=".39" stop-color="#89e605"/><stop offset=".419" stop-color="#9ae908"/><stop offset=".448" stop-color="#98e908"/><stop offset=".467" stop-color="#9dea09"/><stop offset=".505" stop-color="#bdf010"/><stop offset=".562" stop-color="#dff741"/><stop offset=".59" stop-color="#eefb60"/><stop offset=".619" stop-color="#f9fe80"/><stop offset=".638" stop-color="#fbff8a"/><stop offset=".657" stop-color="#f9fe83"/><stop offset=".714" stop-color="#dcf73b"/><stop offset=".771" stop-color="#baf00f"/><stop offset=".8" stop-color="#a7ec0b"/><stop offset=".848" stop-color="#95e807"/><stop offset="1" stop-color="#78e201"/></linearGradient><linearGradient id="g2a6" gradientUnits="userSpaceOnUse" x1="0" y1="149.90" x2="0" y2="255.14"><stop offset="0" stop-color="#004aff"/><stop offset=".057" stop-color="#0067ff"/><stop offset=".076" stop-color="#007fff"/><stop offset=".143" stop-color="#00eefb"/><stop offset=".152" stop-color="#00ecaa"/><stop offset=".162" stop-color="#06cb10"/><stop offset=".171" stop-color="#0fce05"/><stop offset=".181" stop-color="#6be000"/><stop offset=".19" stop-color="#a8ec0b"/><stop offset=".2" stop-color="#c8f220"/><stop offset=".219" stop-color="#e1f845"/><stop offset=".229" stop-color="#e6f94f"/><stop offset=".248" stop-color="#e6f950"/><stop offset=".295" stop-color="#c6f21d"/><stop offset=".314" stop-color="#bef011"/><stop offset=".343" stop-color="#b7ef0e"/><stop offset=".381" stop-color="#a4eb0a"/><stop offset=".429" stop-color="#b6ef0e"/><stop offset=".457" stop-color="#b0ee0d"/><stop offset=".476" stop-color="#b4ee0d"/><stop offset=".514" stop-color="#c6f21d"/><stop offset=".581" stop-color="#e7f951"/><stop offset=".619" stop-color="#f3fd6e"/><stop offset=".638" stop-color="#f5fd74"/><stop offset=".657" stop-color="#f2fc6b"/><stop offset=".676" stop-color="#ebfb5a"/><stop offset=".705" stop-color="#ddf73c"/><stop offset=".762" stop-color="#bbf00f"/><stop offset=".8" stop-color="#a4eb0a"/><stop offset=".848" stop-color="#93e807"/><stop offset="1" stop-color="#75e201"/></linearGradient><linearGradient id="g2a7" gradientUnits="userSpaceOnUse" x1="0" y1="149.90" x2="0" y2="255.14"><stop offset="0" stop-color="#0059ff"/><stop offset=".029" stop-color="#006aff"/><stop offset=".067" stop-color="#008cff"/><stop offset=".133" stop-color="#00ebfb"/><stop offset=".143" stop-color="#00f3dc"/><stop offset=".152" stop-color="#04d427"/><stop offset=".162" stop-color="#07c708"/><stop offset=".171" stop-color="#26d203"/><stop offset=".181" stop-color="#72e100"/><stop offset=".19" stop-color="#a4eb0a"/><stop offset=".2" stop-color="#c1f116"/><stop offset=".219" stop-color="#d3f52f"/><stop offset=".238" stop-color="#daf638"/><stop offset=".257" stop-color="#d8f636"/><stop offset=".305" stop-color="#c5f21c"/><stop offset=".343" stop-color="#bef012"/><stop offset=".381" stop-color="#b9ef0f"/><stop offset=".467" stop-color="#bdf011"/><stop offset=".505" stop-color="#c6f21d"/><stop offset=".61" stop-color="#ebfa59"/><stop offset=".648" stop-color="#ebfb5a"/><stop offset=".686" stop-color="#e0f742"/><stop offset=".762" stop-color="#b7ef0e"/><stop offset=".8" stop-color="#a2eb0a"/><stop offset=".848" stop-color="#91e807"/><stop offset="1" stop-color="#73e201"/></linearGradient><linearGradient id="g2a8" gradientUnits="userSpaceOnUse" x1="0" y1="149.90" x2="0" y2="255.14"><stop offset="0" stop-color="#007dff"/><stop offset=".029" stop-color="#008bff"/><stop offset=".057" stop-color="#00a2ff"/><stop offset=".105" stop-color="#00d3fe"/><stop offset=".133" stop-color="#00f7f8"/><stop offset=".143" stop-color="#02e16c"/><stop offset=".152" stop-color="#05cd12"/><stop offset=".162" stop-color="#08c807"/><stop offset=".171" stop-color="#1fd103"/><stop offset=".181" stop-color="#58dc00"/><stop offset=".19" stop-color="#84e504"/><stop offset=".2" stop-color="#a2eb0a"/><stop offset=".21" stop-color="#b7ef10"/><stop offset=".219" stop-color="#c2f118"/><stop offset=".238" stop-color="#cbf324"/><stop offset=".267" stop-color="#cdf427"/><stop offset=".371" stop-color="#c2f117"/><stop offset=".467" stop-color="#c4f21a"/><stop offset=".571" stop-color="#dff740"/><stop offset=".619" stop-color="#e6f94e"/><stop offset=".657" stop-color="#e2f846"/><stop offset=".752" stop-color="#bbf00f"/><stop offset=".79" stop-color="#a4eb0a"/><stop offset=".848" stop-color="#8fe706"/><stop offset="1" stop-color="#71e100"/></linearGradient><linearGradient id="g2a9" gradientUnits="userSpaceOnUse" x1="0" y1="149.90" x2="0" y2="255.14"><stop offset="0" stop-color="#00a5ff"/><stop offset=".067" stop-color="#00c4ff"/><stop offset=".124" stop-color="#00f3fb"/><stop offset=".133" stop-color="#00f2cb"/><stop offset=".143" stop-color="#03d941"/><stop offset=".152" stop-color="#05cc11"/><stop offset=".162" stop-color="#07c708"/><stop offset=".171" stop-color="#0dcd05"/><stop offset=".181" stop-color="#33d502"/><stop offset=".19" stop-color="#5bdd00"/><stop offset=".2" stop-color="#7be302"/><stop offset=".21" stop-color="#91e807"/><stop offset=".229" stop-color="#b2ee0e"/><stop offset=".248" stop-color="#c1f116"/><stop offset=".286" stop-color="#c7f21f"/><stop offset=".467" stop-color="#caf322"/><stop offset=".59" stop-color="#dff741"/><stop offset=".619" stop-color="#e0f843"/><stop offset=".657" stop-color="#dcf63b"/><stop offset=".752" stop-color="#b8ef0e"/><stop offset=".79" stop-color="#a3eb0a"/><stop offset=".848" stop-color="#8de706"/><stop offset="1" stop-color="#6de000"/></linearGradient><linearGradient id="g2a10" gradientUnits="userSpaceOnUse" x1="0" y1="149.90" x2="0" y2="255.14"><stop offset="0" stop-color="#00bfff"/><stop offset=".076" stop-color="#00d4fd"/><stop offset=".124" stop-color="#00f5fa"/><stop offset=".133" stop-color="#00f0c0"/><stop offset=".143" stop-color="#03db4c"/><stop offset=".152" stop-color="#05ce14"/><stop offset=".162" stop-color="#06c80a"/><stop offset=".181" stop-color="#13ce04"/><stop offset=".19" stop-color="#35d502"/><stop offset=".21" stop-color="#71e101"/><stop offset=".219" stop-color="#85e504"/><stop offset=".248" stop-color="#b0ee0d"/><stop offset=".267" stop-color="#bef112"/><stop offset=".324" stop-color="#c9f321"/><stop offset=".467" stop-color="#cff429"/><stop offset=".581" stop-color="#dcf73b"/><stop offset=".648" stop-color="#d8f636"/><stop offset=".743" stop-color="#bbf00f"/><stop offset=".79" stop-color="#a1eb0a"/><stop offset=".848" stop-color="#8ce605"/><stop offset="1" stop-color="#6ae000"/></linearGradient><linearGradient id="g2a11" gradientUnits="userSpaceOnUse" x1="0" y1="149.90" x2="0" y2="255.14"><stop offset="0" stop-color="#00c0ff"/><stop offset=".086" stop-color="#00dcfd"/><stop offset=".124" stop-color="#00f4fb"/><stop offset=".133" stop-color="#00f6e4"/><stop offset=".143" stop-color="#01e379"/><stop offset=".152" stop-color="#05d21b"/><stop offset=".171" stop-color="#06c708"/><stop offset=".181" stop-color="#0aca06"/><stop offset=".19" stop-color="#16cf04"/><stop offset=".219" stop-color="#6ce000"/><stop offset=".238" stop-color="#8fe706"/><stop offset=".257" stop-color="#aaec0b"/><stop offset=".276" stop-color="#bdf010"/><stop offset=".343" stop-color="#cef427"/><stop offset=".571" stop-color="#daf638"/><stop offset=".638" stop-color="#d6f532"/><stop offset=".743" stop-color="#b9ef0e"/><stop offset=".848" stop-color="#8ae605"/><stop offset="1" stop-color="#66df00"/></linearGradient><linearGradient id="g2a12" gradientUnits="userSpaceOnUse" x1="0" y1="149.90" x2="0" y2="255.14"><stop offset="0" stop-color="#00c4ff"/><stop offset=".095" stop-color="#00defd"/><stop offset=".133" stop-color="#00f7fa"/><stop offset=".143" stop-color="#00edb4"/><stop offset=".152" stop-color="#03da48"/><stop offset=".162" stop-color="#05cf14"/><stop offset=".181" stop-color="#08c807"/><stop offset=".19" stop-color="#0bcc06"/><stop offset=".2" stop-color="#1ed103"/><stop offset=".219" stop-color="#56dc00"/><stop offset=".238" stop-color="#80e403"/><stop offset=".276" stop-color="#b8ef0e"/><stop offset=".314" stop-color="#caf322"/><stop offset=".362" stop-color="#d4f530"/><stop offset=".562" stop-color="#d9f637"/><stop offset=".648" stop-color="#d1f42c"/><stop offset=".733" stop-color="#bbf00f"/><stop offset=".848" stop-color="#87e605"/><stop offset="1" stop-color="#61de00"/></linearGradient><linearGradient id="g2a13" gradientUnits="userSpaceOnUse" x1="0" y1="149.90" x2="0" y2="255.14"><stop offset="0" stop-color="#00ccfe"/><stop offset=".105" stop-color="#00e0fc"/><stop offset=".133" stop-color="#00f4fb"/><stop offset=".143" stop-color="#00f3d5"/><stop offset=".152" stop-color="#02e067"/><stop offset=".162" stop-color="#05d117"/><stop offset=".181" stop-color="#06c608"/><stop offset=".2" stop-color="#11ce05"/><stop offset=".219" stop-color="#49d900"/><stop offset=".238" stop-color="#78e302"/><stop offset=".276" stop-color="#b4ef0e"/><stop offset=".314" stop-color="#ccf325"/><stop offset=".371" stop-color="#d9f637"/><stop offset=".552" stop-color="#d9f637"/><stop offset=".648" stop-color="#cef428"/><stop offset=".733" stop-color="#b7ef0e"/><stop offset=".848" stop-color="#84e504"/><stop offset="1" stop-color="#5cdd00"/></linearGradient><linearGradient id="g2a14" gradientUnits="userSpaceOnUse" x1="0" y1="149.90" x2="0" y2="255.14"><stop offset="0" stop-color="#00d4fd"/><stop offset=".095" stop-color="#00e4fc"/><stop offset=".133" stop-color="#00f8f9"/><stop offset=".143" stop-color="#00edb4"/><stop offset=".152" stop-color="#03dd55"/><stop offset=".162" stop-color="#05d016"/><stop offset=".181" stop-color="#06c608"/><stop offset=".2" stop-color="#0dcd05"/><stop offset=".238" stop-color="#75e201"/><stop offset=".276" stop-color="#b5ef0e"/><stop offset=".286" stop-color="#bff113"/><stop offset=".324" stop-color="#d2f52d"/><stop offset=".381" stop-color="#def73e"/><stop offset=".429" stop-color="#dff741"/><stop offset=".552" stop-color="#d9f638"/><stop offset=".667" stop-color="#c8f21f"/><stop offset=".714" stop-color="#bdf010"/><stop offset=".771" stop-color="#a0eb0a"/><stop offset=".867" stop-color="#7ae302"/><stop offset="1" stop-color="#57dc00"/></linearGradient><linearGradient id="g2a15" gradientUnits="userSpaceOnUse" x1="0" y1="149.90" x2="0" y2="255.14"><stop offset="0" stop-color="#00defd"/><stop offset=".076" stop-color="#00e7fc"/><stop offset=".114" stop-color="#00f4fb"/><stop offset=".124" stop-color="#00f7f2"/><stop offset=".133" stop-color="#00efbd"/><stop offset=".152" stop-color="#05d425"/><stop offset=".162" stop-color="#05ce13"/><stop offset=".181" stop-color="#07c708"/><stop offset=".2" stop-color="#12ce05"/><stop offset=".238" stop-color="#77e201"/><stop offset=".276" stop-color="#b8ef0e"/><stop offset=".324" stop-color="#d5f531"/><stop offset=".381" stop-color="#e2f847"/><stop offset=".438" stop-color="#e3f849"/><stop offset=".552" stop-color="#daf639"/><stop offset=".695" stop-color="#bff114"/><stop offset=".838" stop-color="#80e403"/><stop offset="1" stop-color="#51db00"/></linearGradient><linearGradient id="g2a16" gradientUnits="userSpaceOnUse" x1="0" y1="149.90" x2="0" y2="255.14"><stop offset="0" stop-color="#00e6fc"/><stop offset=".095" stop-color="#00f5fa"/><stop offset=".105" stop-color="#00f7f2"/><stop offset=".114" stop-color="#00f3d5"/><stop offset=".124" stop-color="#00eaa1"/><stop offset=".143" stop-color="#04d52b"/><stop offset=".152" stop-color="#05cf15"/><stop offset=".171" stop-color="#06c709"/><stop offset=".19" stop-color="#0bcc05"/><stop offset=".2" stop-color="#1ed103"/><stop offset=".229" stop-color="#6be000"/><stop offset=".257" stop-color="#a1eb0a"/><stop offset=".276" stop-color="#bef011"/><stop offset=".314" stop-color="#d4f530"/><stop offset=".352" stop-color="#e2f847"/><stop offset=".39" stop-color="#e8fa54"/><stop offset=".476" stop-color="#e5f94c"/><stop offset=".581" stop-color="#d6f533"/><stop offset=".695" stop-color="#bdf011"/><stop offset=".838" stop-color="#7be302"/><stop offset=".924" stop-color="#5cdd00"/><stop offset="1" stop-color="#4ad900"/></linearGradient><linearGradient id="g2a17" gradientUnits="userSpaceOnUse" x1="0" y1="149.90" x2="0" y2="255.14"><stop offset="0" stop-color="#00edfb"/><stop offset=".067" stop-color="#00f5fa"/><stop offset=".076" stop-color="#00f7f4"/><stop offset=".086" stop-color="#00f4dd"/><stop offset=".114" stop-color="#02df60"/><stop offset=".133" stop-color="#05d21f"/><stop offset=".162" stop-color="#06c70a"/><stop offset=".181" stop-color="#0bcb06"/><stop offset=".19" stop-color="#18cf04"/><stop offset=".229" stop-color="#79e302"/><stop offset=".267" stop-color="#bbf010"/><stop offset=".305" stop-color="#d4f531"/><stop offset=".343" stop-color="#e5f94d"/><stop offset=".39" stop-color="#eefb60"/><stop offset=".467" stop-color="#eafa56"/><stop offset=".686" stop-color="#bdf011"/><stop offset=".79" stop-color="#89e605"/><stop offset=".886" stop-color="#62de00"/><stop offset="1" stop-color="#43d800"/></linearGradient><linearGradient id="g2a18" gradientUnits="userSpaceOnUse" x1="0" y1="149.90" x2="0" y2="255.14"><stop offset="0" stop-color="#00f1fb"/><stop offset=".038" stop-color="#00f6fa"/><stop offset=".048" stop-color="#00f7f4"/><stop offset=".057" stop-color="#00f4de"/><stop offset=".067" stop-color="#00eeb8"/><stop offset=".086" stop-color="#03db4f"/><stop offset=".095" stop-color="#04d42b"/><stop offset=".105" stop-color="#05cf18"/><stop offset=".114" stop-color="#05cc11"/><stop offset=".152" stop-color="#07c808"/><stop offset=".171" stop-color="#0dcc05"/><stop offset=".181" stop-color="#1cd004"/><stop offset=".219" stop-color="#79e302"/><stop offset=".257" stop-color="#baf010"/><stop offset=".314" stop-color="#e0f741"/><stop offset=".343" stop-color="#ebfb5a"/><stop offset=".381" stop-color="#f4fd6f"/><stop offset=".429" stop-color="#f2fc6a"/><stop offset=".543" stop-color="#dff73f"/><stop offset=".686" stop-color="#baf00f"/><stop offset=".771" stop-color="#8ce706"/><stop offset=".876" stop-color="#5edd00"/><stop offset="1" stop-color="#3cd701"/></linearGradient><linearGradient id="g2a19" gradientUnits="userSpaceOnUse" x1="0" y1="149.90" x2="0" y2="255.14"><stop offset="0" stop-color="#00f5fa"/><stop offset=".019" stop-color="#00f7f6"/><stop offset=".029" stop-color="#00f5e5"/><stop offset=".038" stop-color="#00f0c0"/><stop offset=".057" stop-color="#03dc55"/><stop offset=".067" stop-color="#04d530"/><stop offset=".076" stop-color="#05d019"/><stop offset=".105" stop-color="#07c808"/><stop offset=".143" stop-color="#0fcc05"/><stop offset=".162" stop-color="#1fd103"/><stop offset=".2" stop-color="#6de000"/><stop offset=".248" stop-color="#bcf011"/><stop offset=".314" stop-color="#e6f94f"/><stop offset=".362" stop-color="#f7fe7b"/><stop offset=".381" stop-color="#fafe84"/><stop offset=".41" stop-color="#f8fe7f"/><stop offset=".495" stop-color="#eafa58"/><stop offset=".552" stop-color="#ddf73c"/><stop offset=".676" stop-color="#baf00f"/><stop offset=".762" stop-color="#8be605"/><stop offset=".876" stop-color="#55dc00"/><stop offset=".933" stop-color="#42d801"/><stop offset="1" stop-color="#34d502"/></linearGradient><linearGradient id="g2a20" gradientUnits="userSpaceOnUse" x1="0" y1="149.90" x2="0" y2="255.14"><stop offset="0" stop-color="#00f4db"/><stop offset=".01" stop-color="#00f0c0"/><stop offset=".029" stop-color="#03dc54"/><stop offset=".038" stop-color="#04d42b"/><stop offset=".048" stop-color="#05ce13"/><stop offset=".067" stop-color="#07c90a"/><stop offset=".095" stop-color="#09ca06"/><stop offset=".114" stop-color="#13ce05"/><stop offset=".152" stop-color="#42d801"/><stop offset=".181" stop-color="#6ce000"/><stop offset=".229" stop-color="#b4ee0d"/><stop offset=".248" stop-color="#c6f21c"/><stop offset=".305" stop-color="#e8fa54"/><stop offset=".352" stop-color="#fafe84"/><stop offset=".371" stop-color="#fcff8d"/><stop offset=".419" stop-color="#faff86"/><stop offset=".552" stop-color="#ddf73c"/><stop offset=".667" stop-color="#baf00f"/><stop offset=".8" stop-color="#71e100"/><stop offset=".867" stop-color="#50db00"/><stop offset=".933" stop-color="#39d601"/><stop offset="1" stop-color="#2cd302"/></linearGradient><linearGradient id="g2a21" gradientUnits="userSpaceOnUse" x1="0" y1="149.90" x2="0" y2="255.14"><stop offset="0" stop-color="#04d73c"/><stop offset=".019" stop-color="#05cf16"/><stop offset=".038" stop-color="#06c80a"/><stop offset=".067" stop-color="#0fcd05"/><stop offset=".114" stop-color="#3bd601"/><stop offset=".181" stop-color="#89e605"/><stop offset=".229" stop-color="#c2f117"/><stop offset=".305" stop-color="#f0fc63"/><stop offset=".333" stop-color="#fafe85"/><stop offset=".352" stop-color="#fcff8f"/><stop offset=".429" stop-color="#fcff8b"/><stop offset=".552" stop-color="#ddf73c"/><stop offset=".657" stop-color="#baf00f"/><stop offset=".781" stop-color="#72e101"/><stop offset=".857" stop-color="#4ad900"/><stop offset=".924" stop-color="#32d502"/><stop offset="1" stop-color="#23d203"/></linearGradient><linearGradient id="g2a22" gradientUnits="userSpaceOnUse" x1="0" y1="149.90" x2="0" y2="255.14"><stop offset="0" stop-color="#06c90c"/><stop offset=".038" stop-color="#0bcb06"/><stop offset=".048" stop-color="#12ce05"/><stop offset=".076" stop-color="#39d601"/><stop offset=".133" stop-color="#71e101"/><stop offset=".2" stop-color="#b6ef0e"/><stop offset=".257" stop-color="#dcf73c"/><stop offset=".314" stop-color="#fafe84"/><stop offset=".324" stop-color="#fcff8d"/><stop offset=".352" stop-color="#fdff94"/><stop offset=".4" stop-color="#fdff94"/><stop offset=".448" stop-color="#fbff89"/><stop offset=".543" stop-color="#dff741"/><stop offset=".648" stop-color="#baf00f"/><stop offset=".771" stop-color="#6fe100"/><stop offset=".857" stop-color="#3fd701"/><stop offset=".924" stop-color="#28d303"/><stop offset="1" stop-color="#1ad004"/></linearGradient><linearGradient id="g2a23" gradientUnits="userSpaceOnUse" x1="0" y1="149.90" x2="0" y2="255.14"><stop offset="0" stop-color="#09c907"/><stop offset=".029" stop-color="#10ce05"/><stop offset=".057" stop-color="#3cd701"/><stop offset=".086" stop-color="#5fde00"/><stop offset=".152" stop-color="#95e807"/><stop offset=".19" stop-color="#bbf010"/><stop offset=".248" stop-color="#ddf73e"/><stop offset=".276" stop-color="#eefb5f"/><stop offset=".305" stop-color="#fbff8a"/><stop offset=".352" stop-color="#feff9a"/><stop offset=".4" stop-color="#feff97"/><stop offset=".457" stop-color="#fbff8a"/><stop offset=".543" stop-color="#dff73f"/><stop offset=".638" stop-color="#b9ef0e"/><stop offset=".752" stop-color="#70e100"/><stop offset=".848" stop-color="#38d601"/><stop offset=".924" stop-color="#1dd004"/><stop offset="1" stop-color="#12ce05"/></linearGradient><linearGradient id="g2a24" gradientUnits="userSpaceOnUse" x1="0" y1="149.90" x2="0" y2="255.14"><stop offset="0" stop-color="#0bcc06"/><stop offset=".01" stop-color="#0dcd05"/><stop offset=".019" stop-color="#16cf04"/><stop offset=".057" stop-color="#53db00"/><stop offset=".086" stop-color="#75e201"/><stop offset=".181" stop-color="#bdf011"/><stop offset=".238" stop-color="#def73e"/><stop offset=".276" stop-color="#f3fc6b"/><stop offset=".295" stop-color="#fbff89"/><stop offset=".333" stop-color="#feff9a"/><stop offset=".362" stop-color="#feff9e"/><stop offset=".457" stop-color="#fcff8e"/><stop offset=".543" stop-color="#ddf73d"/><stop offset=".629" stop-color="#b9ef0e"/><stop offset=".743" stop-color="#6ce000"/><stop offset=".848" stop-color="#2cd302"/><stop offset=".924" stop-color="#13ce04"/><stop offset="1" stop-color="#0ccd05"/></linearGradient><linearGradient id="g2a25" gradientUnits="userSpaceOnUse" x1="0" y1="149.90" x2="0" y2="255.14"><stop offset="0" stop-color="#13ce04"/><stop offset=".01" stop-color="#1dd004"/><stop offset=".067" stop-color="#76e201"/><stop offset=".105" stop-color="#97e908"/><stop offset=".162" stop-color="#b7ef0e"/><stop offset=".181" stop-color="#c2f118"/><stop offset=".229" stop-color="#ddf73d"/><stop offset=".267" stop-color="#f1fc68"/><stop offset=".286" stop-color="#fafe85"/><stop offset=".295" stop-color="#fcff8e"/><stop offset=".324" stop-color="#feff98"/><stop offset=".381" stop-color="#ffff9f"/><stop offset=".467" stop-color="#fcff8c"/><stop offset=".533" stop-color="#e0f842"/><stop offset=".581" stop-color="#c9f321"/><stop offset=".619" stop-color="#b7ef0e"/><stop offset=".724" stop-color="#6fe100"/><stop offset=".79" stop-color="#3fd701"/><stop offset=".848" stop-color="#20d103"/><stop offset=".905" stop-color="#0ecd05"/><stop offset="1" stop-color="#0bcc06"/></linearGradient><linearGradient id="g2a26" gradientUnits="userSpaceOnUse" x1="0" y1="149.90" x2="0" y2="255.14"><stop offset="0" stop-color="#2ed402"/><stop offset=".01" stop-color="#37d601"/><stop offset=".057" stop-color="#7fe403"/><stop offset=".105" stop-color="#aced0c"/><stop offset=".152" stop-color="#bbf010"/><stop offset=".181" stop-color="#c8f21f"/><stop offset=".219" stop-color="#ddf73c"/><stop offset=".257" stop-color="#f0fc64"/><stop offset=".286" stop-color="#fcff8b"/><stop offset=".295" stop-color="#fcff8f"/><stop offset=".362" stop-color="#ffffa0"/><stop offset=".429" stop-color="#feff99"/><stop offset=".467" stop-color="#fcff8d"/><stop offset=".533" stop-color="#def73e"/><stop offset=".6" stop-color="#bcf010"/><stop offset=".714" stop-color="#6ce000"/><stop offset=".781" stop-color="#3ad601"/><stop offset=".838" stop-color="#19d004"/><stop offset=".876" stop-color="#0ccd05"/><stop offset="1" stop-color="#0acb06"/></linearGradient><linearGradient id="g2a27" gradientUnits="userSpaceOnUse" x1="0" y1="149.90" x2="0" y2="255.14"><stop offset="0" stop-color="#4bda00"/><stop offset=".076" stop-color="#a9ec0b"/><stop offset=".105" stop-color="#bdf012"/><stop offset=".152" stop-color="#c5f21b"/><stop offset=".2" stop-color="#d9f637"/><stop offset=".248" stop-color="#effb61"/><stop offset=".276" stop-color="#fafe85"/><stop offset=".295" stop-color="#fdff91"/><stop offset=".381" stop-color="#ffffa1"/><stop offset=".467" stop-color="#fcff8d"/><stop offset=".495" stop-color="#f1fc65"/><stop offset=".533" stop-color="#dbf63b"/><stop offset=".59" stop-color="#bbf00f"/><stop offset=".695" stop-color="#71e100"/><stop offset=".781" stop-color="#2fd402"/><stop offset=".829" stop-color="#12ce04"/><stop offset=".857" stop-color="#0ccd05"/><stop offset="1" stop-color="#0aca06"/></linearGradient><linearGradient id="g2a28" gradientUnits="userSpaceOnUse" x1="0" y1="149.90" x2="0" y2="255.14"><stop offset="0" stop-color="#66df00"/><stop offset=".076" stop-color="#b9ef0f"/><stop offset=".095" stop-color="#c2f118"/><stop offset=".19" stop-color="#dcf63b"/><stop offset=".238" stop-color="#eefb5f"/><stop offset=".286" stop-color="#fcff8e"/><stop offset=".343" stop-color="#feff9d"/><stop offset=".381" stop-color="#ffffa0"/><stop offset=".467" stop-color="#fcff8c"/><stop offset=".524" stop-color="#dff73f"/><stop offset=".571" stop-color="#c2f118"/><stop offset=".59" stop-color="#b5ef0e"/><stop offset=".686" stop-color="#70e100"/><stop offset=".771" stop-color="#2cd302"/><stop offset=".819" stop-color="#0ecd05"/><stop offset="1" stop-color="#09c907"/></linearGradient><linearGradient id="g2a29" gradientUnits="userSpaceOnUse" x1="0" y1="149.90" x2="0" y2="255.14"><stop offset="0" stop-color="#7ae302"/><stop offset=".067" stop-color="#bef012"/><stop offset=".105" stop-color="#cdf326"/><stop offset=".19" stop-color="#e2f846"/><stop offset=".238" stop-color="#f0fc65"/><stop offset=".286" stop-color="#fcff8e"/><stop offset=".371" stop-color="#feff9e"/><stop offset=".457" stop-color="#fcff8e"/><stop offset=".467" stop-color="#faff87"/><stop offset=".486" stop-color="#f2fc69"/><stop offset=".524" stop-color="#dcf73b"/><stop offset=".581" stop-color="#b8ef0e"/><stop offset=".619" stop-color="#97e908"/><stop offset=".676" stop-color="#6fe100"/><stop offset=".762" stop-color="#2bd302"/><stop offset=".81" stop-color="#0dcd05"/><stop offset="1" stop-color="#08c907"/></linearGradient><linearGradient id="g2a30" gradientUnits="userSpaceOnUse" x1="0" y1="149.90" x2="0" y2="255.14"><stop offset="0" stop-color="#8ae605"/><stop offset=".048" stop-color="#bbf010"/><stop offset=".086" stop-color="#cef428"/><stop offset=".219" stop-color="#edfb5d"/><stop offset=".286" stop-color="#fcff8d"/><stop offset=".371" stop-color="#feff9d"/><stop offset=".457" stop-color="#fcff8c"/><stop offset=".514" stop-color="#def73f"/><stop offset=".562" stop-color="#c1f116"/><stop offset=".581" stop-color="#b2ee0d"/><stop offset=".667" stop-color="#70e100"/><stop offset=".752" stop-color="#2bd302"/><stop offset=".8" stop-color="#0ccd05"/><stop offset="1" stop-color="#08c807"/></linearGradient><linearGradient id="g2a31" gradientUnits="userSpaceOnUse" x1="0" y1="149.90" x2="0" y2="255.14"><stop offset="0" stop-color="#98e908"/><stop offset=".038" stop-color="#bdf012"/><stop offset=".076" stop-color="#d3f52f"/><stop offset=".114" stop-color="#e0f842"/><stop offset=".229" stop-color="#f0fc64"/><stop offset=".305" stop-color="#fcff8e"/><stop offset=".371" stop-color="#feff99"/><stop offset=".448" stop-color="#fcff8d"/><stop offset=".514" stop-color="#dbf639"/><stop offset=".571" stop-color="#b6ef0e"/><stop offset=".657" stop-color="#72e100"/><stop offset=".733" stop-color="#34d502"/><stop offset=".79" stop-color="#0ccd05"/><stop offset="1" stop-color="#07c707"/></linearGradient><linearGradient id="g2a32" gradientUnits="userSpaceOnUse" x1="0" y1="149.90" x2="0" y2="255.14"><stop offset="0" stop-color="#a4eb0a"/><stop offset=".029" stop-color="#bef012"/><stop offset=".076" stop-color="#ddf73e"/><stop offset=".105" stop-color="#e7f950"/><stop offset=".238" stop-color="#f0fc64"/><stop offset=".333" stop-color="#fcff8f"/><stop offset=".39" stop-color="#fdff94"/><stop offset=".438" stop-color="#fcff8c"/><stop offset=".505" stop-color="#dcf73c"/><stop offset=".562" stop-color="#baf00f"/><stop offset=".6" stop-color="#97e908"/><stop offset=".657" stop-color="#6de000"/><stop offset=".724" stop-color="#36d502"/><stop offset=".781" stop-color="#0ecd05"/><stop offset="1" stop-color="#07c708"/></linearGradient><linearGradient id="g2a33" gradientUnits="userSpaceOnUse" x1="0" y1="149.90" x2="0" y2="255.14"><stop offset="0" stop-color="#b0ee0d"/><stop offset=".019" stop-color="#bff113"/><stop offset=".067" stop-color="#e1f845"/><stop offset=".095" stop-color="#eefb5f"/><stop offset=".238" stop-color="#edfb5e"/><stop offset=".295" stop-color="#f2fc6a"/><stop offset=".371" stop-color="#fcff8c"/><stop offset=".4" stop-color="#fcff8f"/><stop offset=".429" stop-color="#fbff8a"/><stop offset=".495" stop-color="#ddf73d"/><stop offset=".543" stop-color="#c1f116"/><stop offset=".562" stop-color="#b3ee0d"/><stop offset=".648" stop-color="#71e100"/><stop offset=".733" stop-color="#2bd302"/><stop offset=".781" stop-color="#0ccd05"/><stop offset="1" stop-color="#06c608"/></linearGradient><linearGradient id="g2a34" gradientUnits="userSpaceOnUse" x1="0" y1="149.90" x2="0" y2="255.14"><stop offset="0" stop-color="#b9ef0e"/><stop offset=".019" stop-color="#c3f219"/><stop offset=".076" stop-color="#eafa58"/><stop offset=".095" stop-color="#f0fc65"/><stop offset=".2" stop-color="#e9fa56"/><stop offset=".286" stop-color="#eafa56"/><stop offset=".333" stop-color="#eefb60"/><stop offset=".4" stop-color="#fafe85"/><stop offset=".419" stop-color="#f9fe83"/><stop offset=".486" stop-color="#ddf73d"/><stop offset=".552" stop-color="#b6ef0e"/><stop offset=".648" stop-color="#6de000"/><stop offset=".771" stop-color="#0dcd05"/><stop offset="1" stop-color="#06c608"/></linearGradient><linearGradient id="g2a35" gradientUnits="userSpaceOnUse" x1="0" y1="149.90" x2="0" y2="255.14"><stop offset="0" stop-color="#bef012"/><stop offset=".019" stop-color="#c7f21e"/><stop offset=".067" stop-color="#e4f94a"/><stop offset=".095" stop-color="#ecfb5c"/><stop offset=".314" stop-color="#e1f845"/><stop offset=".343" stop-color="#e4f94c"/><stop offset=".4" stop-color="#f1fc68"/><stop offset=".419" stop-color="#f1fc67"/><stop offset=".467" stop-color="#e0f843"/><stop offset=".543" stop-color="#b9ef0e"/><stop offset=".648" stop-color="#6ae000"/><stop offset=".724" stop-color="#2bd302"/><stop offset=".771" stop-color="#0ccd05"/><stop offset="1" stop-color="#06c609"/></linearGradient><linearGradient id="g2a36" gradientUnits="userSpaceOnUse" x1="0" y1="149.90" x2="0" y2="255.14"><stop offset="0" stop-color="#c1f116"/><stop offset=".057" stop-color="#dff740"/><stop offset=".095" stop-color="#e9fa55"/><stop offset=".324" stop-color="#d7f635"/><stop offset=".39" stop-color="#e5f94d"/><stop offset=".429" stop-color="#e4f94a"/><stop offset=".533" stop-color="#baf00f"/><stop offset=".638" stop-color="#70e100"/><stop offset=".762" stop-color="#0ecd05"/><stop offset="1" stop-color="#06c709"/></linearGradient><linearGradient id="g2a37" gradientUnits="userSpaceOnUse" x1="0" y1="149.90" x2="0" y2="255.14"><stop offset="0" stop-color="#c4f21a"/><stop offset=".067" stop-color="#e3f849"/><stop offset=".095" stop-color="#e8fa52"/><stop offset=".152" stop-color="#def73e"/><stop offset=".314" stop-color="#d3f52f"/><stop offset=".4" stop-color="#dcf73c"/><stop offset=".438" stop-color="#d9f636"/><stop offset=".533" stop-color="#b3ee0d"/><stop offset=".638" stop-color="#6fe100"/><stop offset=".714" stop-color="#2ed402"/><stop offset=".762" stop-color="#0ccd05"/><stop offset="1" stop-color="#06c70a"/></linearGradient><linearGradient id="g2a38" gradientUnits="userSpaceOnUse" x1="0" y1="149.90" x2="0" y2="255.14"><stop offset="0" stop-color="#c9f320"/><stop offset=".086" stop-color="#e9fa55"/><stop offset=".105" stop-color="#e6f94f"/><stop offset=".133" stop-color="#daf638"/><stop offset=".152" stop-color="#d6f533"/><stop offset=".324" stop-color="#d1f42c"/><stop offset=".4" stop-color="#d5f531"/><stop offset=".438" stop-color="#d1f42c"/><stop offset=".505" stop-color="#bef011"/><stop offset=".61" stop-color="#81e403"/><stop offset=".638" stop-color="#6ee100"/><stop offset=".752" stop-color="#0fce05"/><stop offset="1" stop-color="#06c80a"/></linearGradient><linearGradient id="g2a39" gradientUnits="userSpaceOnUse" x1="0" y1="149.90" x2="0" y2="255.14"><stop offset="0" stop-color="#ccf325"/><stop offset=".086" stop-color="#e7f951"/><stop offset=".105" stop-color="#e4f84a"/><stop offset=".133" stop-color="#d7f634"/><stop offset=".152" stop-color="#d3f52f"/><stop offset=".39" stop-color="#cff42a"/><stop offset=".448" stop-color="#c9f321"/><stop offset=".495" stop-color="#bdf010"/><stop offset=".619" stop-color="#7be302"/><stop offset=".752" stop-color="#0ccd05"/><stop offset="1" stop-color="#06c80b"/></linearGradient><linearGradient id="g2a40" gradientUnits="userSpaceOnUse" x1="0" y1="149.90" x2="0" y2="255.14"><stop offset="0" stop-color="#cef427"/><stop offset=".086" stop-color="#e2f847"/><stop offset=".162" stop-color="#d4f530"/><stop offset=".39" stop-color="#cbf324"/><stop offset=".457" stop-color="#c2f117"/><stop offset=".486" stop-color="#bbf00f"/><stop offset=".619" stop-color="#7be302"/><stop offset=".714" stop-color="#26d203"/><stop offset=".752" stop-color="#0ccd05"/><stop offset="1" stop-color="#06c80b"/></linearGradient><linearGradient id="g2a41" gradientUnits="userSpaceOnUse" x1="0" y1="149.90" x2="0" y2="255.14"><stop offset="0" stop-color="#cef428"/><stop offset=".086" stop-color="#dff740"/><stop offset=".19" stop-color="#d2f42d"/><stop offset=".381" stop-color="#c8f220"/><stop offset=".457" stop-color="#bef012"/><stop offset=".619" stop-color="#7ae302"/><stop offset=".743" stop-color="#0ecd05"/><stop offset=".895" stop-color="#06c608"/><stop offset="1" stop-color="#06c90c"/></linearGradient><linearGradient id="g2a42" gradientUnits="userSpaceOnUse" x1="0" y1="149.90" x2="0" y2="255.14"><stop offset="0" stop-color="#cff429"/><stop offset=".057" stop-color="#dbf639"/><stop offset=".095" stop-color="#ddf73d"/><stop offset=".219" stop-color="#cef427"/><stop offset=".362" stop-color="#c6f21d"/><stop offset=".438" stop-color="#bef011"/><stop offset=".619" stop-color="#72e100"/><stop offset=".743" stop-color="#0ccd05"/><stop offset=".895" stop-color="#06c608"/><stop offset="1" stop-color="#06c90c"/></linearGradient><linearGradient id="g2a43" gradientUnits="userSpaceOnUse" x1="0" y1="149.90" x2="0" y2="255.14"><stop offset="0" stop-color="#cff429"/><stop offset=".067" stop-color="#dbf63a"/><stop offset=".105" stop-color="#dcf73c"/><stop offset=".238" stop-color="#c9f321"/><stop offset=".419" stop-color="#bcf010"/><stop offset=".61" stop-color="#6de000"/><stop offset=".714" stop-color="#1cd004"/><stop offset=".743" stop-color="#0ccd05"/><stop offset=".895" stop-color="#06c608"/><stop offset="1" stop-color="#06c90c"/></linearGradient><linearGradient id="g2a44" gradientUnits="userSpaceOnUse" x1="0" y1="149.90" x2="0" y2="255.14"><stop offset="0" stop-color="#cff429"/><stop offset=".105" stop-color="#ddf73c"/><stop offset=".248" stop-color="#c5f21b"/><stop offset=".39" stop-color="#bcf010"/><stop offset=".59" stop-color="#6ce000"/><stop offset=".733" stop-color="#0ccd05"/><stop offset=".895" stop-color="#06c608"/><stop offset="1" stop-color="#06c90d"/></linearGradient><linearGradient id="g2a45" gradientUnits="userSpaceOnUse" x1="0" y1="149.90" x2="0" y2="255.14"><stop offset="0" stop-color="#cef428"/><stop offset=".105" stop-color="#dcf73b"/><stop offset=".257" stop-color="#bff113"/><stop offset=".362" stop-color="#baf00f"/><stop offset=".571" stop-color="#6ae000"/><stop offset=".733" stop-color="#0ccd05"/><stop offset=".895" stop-color="#06c608"/><stop offset="1" stop-color="#06c90d"/></linearGradient><linearGradient id="g2a46" gradientUnits="userSpaceOnUse" x1="0" y1="149.90" x2="0" y2="255.14"><stop offset="0" stop-color="#cdf427"/><stop offset=".105" stop-color="#d8f636"/><stop offset=".257" stop-color="#bbf00f"/><stop offset=".362" stop-color="#aded0c"/><stop offset=".581" stop-color="#5add00"/><stop offset=".724" stop-color="#0dcd05"/><stop offset=".905" stop-color="#06c608"/><stop offset="1" stop-color="#06c90c"/></linearGradient><linearGradient id="g2a47" gradientUnits="userSpaceOnUse" x1="0" y1="149.90" x2="0" y2="255.14"><stop offset="0" stop-color="#ccf326"/><stop offset=".067" stop-color="#d4f531"/><stop offset=".114" stop-color="#d4f530"/><stop offset=".248" stop-color="#baf00f"/><stop offset=".352" stop-color="#a2eb0a"/><stop offset=".581" stop-color="#50db00"/><stop offset=".724" stop-color="#0ccd05"/><stop offset="1" stop-color="#06c80b"/></linearGradient><linearGradient id="g2a48" gradientUnits="userSpaceOnUse" x1="0" y1="149.90" x2="0" y2="255.14"><stop offset="0" stop-color="#cbf324"/><stop offset=".105" stop-color="#d3f52e"/><stop offset=".238" stop-color="#bbf00f"/><stop offset=".39" stop-color="#8ae605"/><stop offset=".457" stop-color="#6de000"/><stop offset=".59" stop-color="#44d800"/><stop offset=".714" stop-color="#0ecd05"/><stop offset="1" stop-color="#06c80b"/></linearGradient><linearGradient id="g2a49" gradientUnits="userSpaceOnUse" x1="0" y1="149.90" x2="0" y2="255.14"><stop offset="0" stop-color="#caf323"/><stop offset=".105" stop-color="#d2f42d"/><stop offset=".229" stop-color="#bdf010"/><stop offset=".314" stop-color="#98e908"/><stop offset=".438" stop-color="#6de000"/><stop offset=".476" stop-color="#5add00"/><stop offset=".581" stop-color="#40d701"/><stop offset=".714" stop-color="#0ccd05"/><stop offset="1" stop-color="#06c70a"/></linearGradient><linearGradient id="g2a50" gradientUnits="userSpaceOnUse" x1="0" y1="149.90" x2="0" y2="255.14"><stop offset="0" stop-color="#caf322"/><stop offset=".105" stop-color="#d2f52e"/><stop offset=".229" stop-color="#bcf00f"/><stop offset=".333" stop-color="#88e605"/><stop offset=".524" stop-color="#4ad900"/><stop offset=".714" stop-color="#0ccd05"/><stop offset="1" stop-color="#06c709"/></linearGradient><linearGradient id="g2a51" gradientUnits="userSpaceOnUse" x1="0" y1="149.90" x2="0" y2="255.14"><stop offset="0" stop-color="#caf322"/><stop offset=".095" stop-color="#d4f530"/><stop offset=".152" stop-color="#cdf427"/><stop offset=".219" stop-color="#bef012"/><stop offset=".333" stop-color="#81e403"/><stop offset=".514" stop-color="#48d900"/><stop offset=".714" stop-color="#0ccd05"/><stop offset="1" stop-color="#06c608"/></linearGradient><linearGradient id="g2a52" gradientUnits="userSpaceOnUse" x1="0" y1="149.90" x2="0" y2="255.14"><stop offset="0" stop-color="#caf323"/><stop offset=".076" stop-color="#d6f533"/><stop offset=".133" stop-color="#d2f52e"/><stop offset=".181" stop-color="#c9f320"/><stop offset=".229" stop-color="#baf00f"/><stop offset=".324" stop-color="#84e504"/><stop offset=".381" stop-color="#72e100"/><stop offset=".714" stop-color="#0ccd05"/><stop offset="1" stop-color="#06c608"/></linearGradient><linearGradient id="g2a53" gradientUnits="userSpaceOnUse" x1="0" y1="149.90" x2="0" y2="255.14"><stop offset="0" stop-color="#caf323"/><stop offset=".076" stop-color="#d4f531"/><stop offset=".162" stop-color="#cff429"/><stop offset=".229" stop-color="#baf00f"/><stop offset=".305" stop-color="#8fe706"/><stop offset=".352" stop-color="#7be302"/><stop offset=".486" stop-color="#4eda00"/><stop offset=".714" stop-color="#0ccd05"/><stop offset="1" stop-color="#07c708"/></linearGradient><linearGradient id="g2a54" gradientUnits="userSpaceOnUse" x1="0" y1="149.90" x2="0" y2="255.14"><stop offset="0" stop-color="#c9f321"/><stop offset=".086" stop-color="#d3f52e"/><stop offset=".162" stop-color="#cef428"/><stop offset=".229" stop-color="#baf00f"/><stop offset=".305" stop-color="#90e706"/><stop offset=".371" stop-color="#75e201"/><stop offset=".495" stop-color="#4bda00"/><stop offset=".714" stop-color="#0dcd05"/><stop offset="1" stop-color="#07c708"/></linearGradient><linearGradient id="g2a55" gradientUnits="userSpaceOnUse" x1="0" y1="149.90" x2="0" y2="255.14"><stop offset="0" stop-color="#c9f321"/><stop offset=".105" stop-color="#d2f52e"/><stop offset=".171" stop-color="#cbf324"/><stop offset=".229" stop-color="#baf00f"/><stop offset=".314" stop-color="#8ce605"/><stop offset=".381" stop-color="#72e100"/><stop offset=".495" stop-color="#4bda00"/><stop offset=".714" stop-color="#0dcd05"/><stop offset="1" stop-color="#07c707"/></linearGradient><linearGradient id="g2a56" gradientUnits="userSpaceOnUse" x1="0" y1="149.90" x2="0" y2="255.14"><stop offset="0" stop-color="#c9f321"/><stop offset=".105" stop-color="#d2f52e"/><stop offset=".171" stop-color="#cbf324"/><stop offset=".229" stop-color="#baf00f"/><stop offset=".314" stop-color="#8ce605"/><stop offset=".381" stop-color="#72e100"/><stop offset=".495" stop-color="#4bda00"/><stop offset=".714" stop-color="#0dcd05"/><stop offset="1" stop-color="#07c707"/></linearGradient><linearGradient id="g2a57" gradientUnits="userSpaceOnUse" x1="0" y1="149.90" x2="0" y2="255.14"><stop offset="0" stop-color="#c9f321"/><stop offset=".105" stop-color="#d2f52e"/><stop offset=".171" stop-color="#cbf324"/><stop offset=".229" stop-color="#baf00f"/><stop offset=".314" stop-color="#8ce605"/><stop offset=".381" stop-color="#72e100"/><stop offset=".495" stop-color="#4bda00"/><stop offset=".714" stop-color="#0dcd05"/><stop offset="1" stop-color="#07c707"/></linearGradient><filter id="fb2a" x="-10%" y="-2%" width="120%" height="104%"><feGaussianBlur stdDeviation="2 0"/></filter><linearGradient id="g2b0" gradientUnits="userSpaceOnUse" x1="0" y1="255.14" x2="0" y2="677.10"><stop offset="0" stop-color="#7be302"/><stop offset=".059" stop-color="#69e000"/><stop offset=".162" stop-color="#6fe100"/><stop offset=".209" stop-color="#77e201"/><stop offset=".254" stop-color="#85e504"/><stop offset=".304" stop-color="#9dea09"/><stop offset=".352" stop-color="#bbf00f"/><stop offset=".392" stop-color="#c9f321"/><stop offset=".409" stop-color="#caf322"/><stop offset=".454" stop-color="#bcf00f"/><stop offset=".496" stop-color="#bcf00f"/><stop offset=".634" stop-color="#def73e"/><stop offset=".71" stop-color="#f1fc66"/><stop offset=".762" stop-color="#fcff8c"/><stop offset=".888" stop-color="#ffffa2"/><stop offset="1" stop-color="#ffffa3"/></linearGradient><linearGradient id="g2b1" gradientUnits="userSpaceOnUse" x1="0" y1="255.14" x2="0" y2="677.10"><stop offset="0" stop-color="#7be302"/><stop offset=".059" stop-color="#69e000"/><stop offset=".162" stop-color="#6fe100"/><stop offset=".209" stop-color="#76e201"/><stop offset=".257" stop-color="#86e504"/><stop offset=".306" stop-color="#9eea09"/><stop offset=".352" stop-color="#bbf00f"/><stop offset=".392" stop-color="#c9f321"/><stop offset=".409" stop-color="#caf322"/><stop offset=".454" stop-color="#bcf00f"/><stop offset=".496" stop-color="#bcf00f"/><stop offset=".634" stop-color="#def73e"/><stop offset=".71" stop-color="#f1fc66"/><stop offset=".762" stop-color="#fcff8c"/><stop offset=".886" stop-color="#ffffa2"/><stop offset="1" stop-color="#ffffa3"/></linearGradient><linearGradient id="g2b2" gradientUnits="userSpaceOnUse" x1="0" y1="255.14" x2="0" y2="677.10"><stop offset="0" stop-color="#78e302"/><stop offset=".033" stop-color="#6ae000"/><stop offset=".057" stop-color="#66df00"/><stop offset=".173" stop-color="#6ee100"/><stop offset=".216" stop-color="#76e201"/><stop offset=".266" stop-color="#87e605"/><stop offset=".311" stop-color="#9dea09"/><stop offset=".354" stop-color="#baf00f"/><stop offset=".397" stop-color="#cbf324"/><stop offset=".406" stop-color="#cbf324"/><stop offset=".449" stop-color="#bcf00f"/><stop offset=".499" stop-color="#bcf00f"/><stop offset=".637" stop-color="#def73e"/><stop offset=".713" stop-color="#f1fc66"/><stop offset=".765" stop-color="#fcff8c"/><stop offset=".886" stop-color="#ffffa2"/><stop offset="1" stop-color="#ffffa3"/></linearGradient><linearGradient id="g2b3" gradientUnits="userSpaceOnUse" x1="0" y1="255.14" x2="0" y2="677.10"><stop offset="0" stop-color="#74e201"/><stop offset=".031" stop-color="#66df00"/><stop offset=".055" stop-color="#62de00"/><stop offset=".188" stop-color="#6de000"/><stop offset=".276" stop-color="#87e605"/><stop offset=".321" stop-color="#9eea09"/><stop offset=".359" stop-color="#b9ef0e"/><stop offset=".394" stop-color="#c9f322"/><stop offset=".406" stop-color="#c9f321"/><stop offset=".444" stop-color="#bcf00f"/><stop offset=".47" stop-color="#b7ef0e"/><stop offset=".501" stop-color="#bcf00f"/><stop offset=".641" stop-color="#def73e"/><stop offset=".717" stop-color="#f1fc67"/><stop offset=".77" stop-color="#fcff8c"/><stop offset=".886" stop-color="#ffffa2"/><stop offset="1" stop-color="#ffffa3"/></linearGradient><linearGradient id="g2b4" gradientUnits="userSpaceOnUse" x1="0" y1="255.14" x2="0" y2="677.10"><stop offset="0" stop-color="#6fe100"/><stop offset=".026" stop-color="#62de00"/><stop offset=".052" stop-color="#5ddd00"/><stop offset=".192" stop-color="#6ae000"/><stop offset=".28" stop-color="#84e504"/><stop offset=".325" stop-color="#9bea09"/><stop offset=".366" stop-color="#b6ef0e"/><stop offset=".392" stop-color="#c2f117"/><stop offset=".416" stop-color="#c1f116"/><stop offset=".463" stop-color="#b5ef0e"/><stop offset=".506" stop-color="#bcf00f"/><stop offset=".575" stop-color="#caf323"/><stop offset=".644" stop-color="#def73d"/><stop offset=".722" stop-color="#f1fc67"/><stop offset=".774" stop-color="#fcff8c"/><stop offset=".888" stop-color="#ffffa2"/><stop offset="1" stop-color="#ffffa3"/></linearGradient><linearGradient id="g2b5" gradientUnits="userSpaceOnUse" x1="0" y1="255.14" x2="0" y2="677.10"><stop offset="0" stop-color="#68df00"/><stop offset=".024" stop-color="#5bdd00"/><stop offset=".05" stop-color="#57dc00"/><stop offset=".109" stop-color="#61de00"/><stop offset=".197" stop-color="#67df00"/><stop offset=".278" stop-color="#7ee403"/><stop offset=".399" stop-color="#b9ef0f"/><stop offset=".42" stop-color="#bbf00f"/><stop offset=".468" stop-color="#b1ee0d"/><stop offset=".513" stop-color="#bcf00f"/><stop offset=".587" stop-color="#ccf325"/><stop offset=".648" stop-color="#def73d"/><stop offset=".727" stop-color="#f1fc66"/><stop offset=".784" stop-color="#fcff8c"/><stop offset=".891" stop-color="#ffffa2"/><stop offset="1" stop-color="#ffffa3"/></linearGradient><linearGradient id="g2b6" gradientUnits="userSpaceOnUse" x1="0" y1="255.14" x2="0" y2="677.10"><stop offset="0" stop-color="#5edd00"/><stop offset=".021" stop-color="#53db00"/><stop offset=".048" stop-color="#50db00"/><stop offset=".107" stop-color="#5ddd00"/><stop offset=".209" stop-color="#64df00"/><stop offset=".273" stop-color="#77e201"/><stop offset=".399" stop-color="#abed0c"/><stop offset=".42" stop-color="#afed0c"/><stop offset=".473" stop-color="#aded0c"/><stop offset=".52" stop-color="#bcf00f"/><stop offset=".644" stop-color="#daf639"/><stop offset=".677" stop-color="#e5f94d"/><stop offset=".734" stop-color="#f0fc65"/><stop offset=".791" stop-color="#fcff8c"/><stop offset=".895" stop-color="#ffffa2"/><stop offset="1" stop-color="#ffffa3"/></linearGradient><linearGradient id="g2b7" gradientUnits="userSpaceOnUse" x1="0" y1="255.14" x2="0" y2="677.10"><stop offset="0" stop-color="#54db00"/><stop offset=".021" stop-color="#49d900"/><stop offset=".048" stop-color="#47d900"/><stop offset=".107" stop-color="#57dc00"/><stop offset=".228" stop-color="#62de00"/><stop offset=".368" stop-color="#94e807"/><stop offset=".418" stop-color="#a2eb0a"/><stop offset=".477" stop-color="#a9ec0b"/><stop offset=".527" stop-color="#bcf00f"/><stop offset=".646" stop-color="#d8f636"/><stop offset=".741" stop-color="#f0fc64"/><stop offset=".798" stop-color="#fcff8c"/><stop offset=".898" stop-color="#ffffa2"/><stop offset="1" stop-color="#ffffa3"/></linearGradient><linearGradient id="g2b8" gradientUnits="userSpaceOnUse" x1="0" y1="255.14" x2="0" y2="677.10"><stop offset="0" stop-color="#47d900"/><stop offset=".021" stop-color="#3dd701"/><stop offset=".045" stop-color="#3cd701"/><stop offset=".112" stop-color="#4fda00"/><stop offset=".242" stop-color="#5edd00"/><stop offset=".34" stop-color="#81e403"/><stop offset=".48" stop-color="#a5eb0a"/><stop offset=".534" stop-color="#bbf00f"/><stop offset=".615" stop-color="#ccf326"/><stop offset=".705" stop-color="#e5f94d"/><stop offset=".753" stop-color="#f1fc66"/><stop offset=".805" stop-color="#fcff8c"/><stop offset=".903" stop-color="#ffffa2"/><stop offset="1" stop-color="#ffffa3"/></linearGradient><linearGradient id="g2b9" gradientUnits="userSpaceOnUse" x1="0" y1="255.14" x2="0" y2="677.10"><stop offset="0" stop-color="#38d601"/><stop offset=".019" stop-color="#31d402"/><stop offset=".04" stop-color="#30d402"/><stop offset=".128" stop-color="#49d900"/><stop offset=".247" stop-color="#58dc00"/><stop offset=".318" stop-color="#73e201"/><stop offset=".394" stop-color="#81e403"/><stop offset=".482" stop-color="#a0ea09"/><stop offset=".542" stop-color="#bbf00f"/><stop offset=".61" stop-color="#c8f320"/><stop offset=".696" stop-color="#e0f741"/><stop offset=".76" stop-color="#f1fc65"/><stop offset=".812" stop-color="#fcff8c"/><stop offset=".905" stop-color="#ffffa2"/><stop offset="1" stop-color="#ffffa3"/></linearGradient><linearGradient id="g2b10" gradientUnits="userSpaceOnUse" x1="0" y1="255.14" x2="0" y2="677.10"><stop offset="0" stop-color="#27d203"/><stop offset=".04" stop-color="#24d203"/><stop offset=".147" stop-color="#45d800"/><stop offset=".247" stop-color="#53db00"/><stop offset=".33" stop-color="#6ee100"/><stop offset=".392" stop-color="#76e201"/><stop offset=".482" stop-color="#99e908"/><stop offset=".549" stop-color="#bcf00f"/><stop offset=".608" stop-color="#c5f21b"/><stop offset=".703" stop-color="#def73e"/><stop offset=".77" stop-color="#f1fc67"/><stop offset=".819" stop-color="#fcff8c"/><stop offset=".91" stop-color="#ffffa2"/><stop offset="1" stop-color="#ffffa3"/></linearGradient><linearGradient id="g2b11" gradientUnits="userSpaceOnUse" x1="0" y1="255.14" x2="0" y2="677.10"><stop offset="0" stop-color="#16cf04"/><stop offset=".038" stop-color="#17cf04"/><stop offset=".173" stop-color="#46d900"/><stop offset=".247" stop-color="#4fda00"/><stop offset=".33" stop-color="#65df00"/><stop offset=".392" stop-color="#6ee100"/><stop offset=".477" stop-color="#91e706"/><stop offset=".553" stop-color="#bbf00f"/><stop offset=".591" stop-color="#bff113"/><stop offset=".71" stop-color="#ddf73c"/><stop offset=".827" stop-color="#fcff8c"/><stop offset=".912" stop-color="#ffffa2"/><stop offset="1" stop-color="#ffffa3"/></linearGradient><linearGradient id="g2b12" gradientUnits="userSpaceOnUse" x1="0" y1="255.14" x2="0" y2="677.10"><stop offset="0" stop-color="#0bcc05"/><stop offset=".048" stop-color="#0fce05"/><stop offset=".176" stop-color="#40d701"/><stop offset=".394" stop-color="#67df00"/><stop offset=".482" stop-color="#8ce706"/><stop offset=".553" stop-color="#baf00f"/><stop offset=".596" stop-color="#bdf010"/><stop offset=".717" stop-color="#ddf73d"/><stop offset=".834" stop-color="#fcff8c"/><stop offset=".914" stop-color="#ffffa2"/><stop offset="1" stop-color="#ffffa4"/></linearGradient><linearGradient id="g2b13" gradientUnits="userSpaceOnUse" x1="0" y1="255.14" x2="0" y2="677.10"><stop offset="0" stop-color="#0acb06"/><stop offset=".069" stop-color="#0dcd05"/><stop offset=".178" stop-color="#3bd601"/><stop offset=".401" stop-color="#61de00"/><stop offset=".494" stop-color="#8be605"/><stop offset=".556" stop-color="#bbf00f"/><stop offset=".606" stop-color="#bcf00f"/><stop offset=".722" stop-color="#ddf73d"/><stop offset=".838" stop-color="#fcff8c"/><stop offset=".919" stop-color="#ffffa2"/><stop offset="1" stop-color="#ffffa4"/></linearGradient><linearGradient id="g2b14" gradientUnits="userSpaceOnUse" x1="0" y1="255.14" x2="0" y2="677.10"><stop offset="0" stop-color="#09c907"/><stop offset=".088" stop-color="#0ccd05"/><stop offset=".147" stop-color="#2ad302"/><stop offset=".185" stop-color="#37d601"/><stop offset=".409" stop-color="#5bdd00"/><stop offset=".504" stop-color="#89e605"/><stop offset=".558" stop-color="#baf00f"/><stop offset=".591" stop-color="#b6ef0e"/><stop offset=".613" stop-color="#bbf00f"/><stop offset=".727" stop-color="#def73e"/><stop offset=".793" stop-color="#f1fc67"/><stop offset=".843" stop-color="#fcff8c"/><stop offset=".924" stop-color="#ffffa2"/><stop offset="1" stop-color="#ffffa3"/></linearGradient><linearGradient id="g2b15" gradientUnits="userSpaceOnUse" x1="0" y1="255.14" x2="0" y2="677.10"><stop offset="0" stop-color="#08c807"/><stop offset=".102" stop-color="#0ccd05"/><stop offset=".154" stop-color="#28d303"/><stop offset=".192" stop-color="#34d502"/><stop offset=".413" stop-color="#54db00"/><stop offset=".504" stop-color="#81e403"/><stop offset=".561" stop-color="#aced0c"/><stop offset=".62" stop-color="#bbf00f"/><stop offset=".729" stop-color="#def73e"/><stop offset=".796" stop-color="#f1fc66"/><stop offset=".846" stop-color="#fcff8c"/><stop offset=".926" stop-color="#ffffa2"/><stop offset="1" stop-color="#ffffa3"/></linearGradient><linearGradient id="g2b16" gradientUnits="userSpaceOnUse" x1="0" y1="255.14" x2="0" y2="677.10"><stop offset="0" stop-color="#07c708"/><stop offset=".114" stop-color="#0ccd05"/><stop offset=".159" stop-color="#25d203"/><stop offset=".197" stop-color="#32d502"/><stop offset=".413" stop-color="#4eda00"/><stop offset=".492" stop-color="#72e100"/><stop offset=".575" stop-color="#a4eb0a"/><stop offset=".625" stop-color="#bcf00f"/><stop offset=".732" stop-color="#def73e"/><stop offset=".8" stop-color="#f1fc67"/><stop offset=".848" stop-color="#fcff8c"/><stop offset=".931" stop-color="#ffffa2"/><stop offset="1" stop-color="#ffffa3"/></linearGradient><linearGradient id="g2b17" gradientUnits="userSpaceOnUse" x1="0" y1="255.14" x2="0" y2="677.10"><stop offset="0" stop-color="#06c608"/><stop offset=".121" stop-color="#0ccd05"/><stop offset=".162" stop-color="#22d103"/><stop offset=".2" stop-color="#2fd402"/><stop offset=".416" stop-color="#4bda00"/><stop offset=".504" stop-color="#6fe100"/><stop offset=".556" stop-color="#8be605"/><stop offset=".627" stop-color="#bcf00f"/><stop offset=".734" stop-color="#def73e"/><stop offset=".803" stop-color="#f1fc67"/><stop offset=".848" stop-color="#fcff8c"/><stop offset=".936" stop-color="#ffffa2"/><stop offset="1" stop-color="#ffffa3"/></linearGradient><linearGradient id="g2b18" gradientUnits="userSpaceOnUse" x1="0" y1="255.14" x2="0" y2="677.10"><stop offset="0" stop-color="#06c70a"/><stop offset=".128" stop-color="#0ccd05"/><stop offset=".164" stop-color="#20d103"/><stop offset=".202" stop-color="#2cd302"/><stop offset=".423" stop-color="#4ad900"/><stop offset=".508" stop-color="#66df00"/><stop offset=".627" stop-color="#bcf00f"/><stop offset=".736" stop-color="#def73e"/><stop offset=".805" stop-color="#f1fc67"/><stop offset=".85" stop-color="#fcff8c"/><stop offset=".941" stop-color="#ffffa2"/><stop offset="1" stop-color="#ffffa3"/></linearGradient><linearGradient id="g2b19" gradientUnits="userSpaceOnUse" x1="0" y1="255.14" x2="0" y2="677.10"><stop offset="0" stop-color="#06c80b"/><stop offset=".067" stop-color="#06c608"/><stop offset=".133" stop-color="#0ccd05"/><stop offset=".164" stop-color="#1ed104"/><stop offset=".202" stop-color="#2ad303"/><stop offset=".409" stop-color="#43d800"/><stop offset=".508" stop-color="#5ddd00"/><stop offset=".558" stop-color="#86e504"/><stop offset=".627" stop-color="#bcf00f"/><stop offset=".739" stop-color="#def73e"/><stop offset=".805" stop-color="#f1fc65"/><stop offset=".853" stop-color="#fcff8c"/><stop offset=".945" stop-color="#ffffa1"/><stop offset="1" stop-color="#ffffa3"/></linearGradient><linearGradient id="g2b20" gradientUnits="userSpaceOnUse" x1="0" y1="255.14" x2="0" y2="677.10"><stop offset="0" stop-color="#06c90c"/><stop offset=".078" stop-color="#06c608"/><stop offset=".135" stop-color="#0ccd05"/><stop offset=".164" stop-color="#1cd004"/><stop offset=".202" stop-color="#27d203"/><stop offset=".406" stop-color="#41d801"/><stop offset=".506" stop-color="#5bdd00"/><stop offset=".553" stop-color="#80e403"/><stop offset=".627" stop-color="#bcf00f"/><stop offset=".741" stop-color="#def73e"/><stop offset=".808" stop-color="#f1fc65"/><stop offset=".855" stop-color="#fcff8c"/><stop offset=".952" stop-color="#ffffa2"/><stop offset="1" stop-color="#ffffa3"/></linearGradient><linearGradient id="g2b21" gradientUnits="userSpaceOnUse" x1="0" y1="255.14" x2="0" y2="677.10"><stop offset="0" stop-color="#06c90c"/><stop offset=".09" stop-color="#06c608"/><stop offset=".135" stop-color="#0ccd05"/><stop offset=".164" stop-color="#1ad004"/><stop offset=".202" stop-color="#25d203"/><stop offset=".401" stop-color="#3ed701"/><stop offset=".499" stop-color="#59dc00"/><stop offset=".556" stop-color="#81e403"/><stop offset=".629" stop-color="#bcf00f"/><stop offset=".743" stop-color="#def73e"/><stop offset=".81" stop-color="#f1fc65"/><stop offset=".857" stop-color="#fcff8c"/><stop offset=".96" stop-color="#ffffa1"/><stop offset="1" stop-color="#ffffa3"/></linearGradient><linearGradient id="g2b22" gradientUnits="userSpaceOnUse" x1="0" y1="255.14" x2="0" y2="677.10"><stop offset="0" stop-color="#06c90d"/><stop offset=".09" stop-color="#06c608"/><stop offset=".135" stop-color="#0ccd05"/><stop offset=".202" stop-color="#23d203"/><stop offset=".342" stop-color="#31d402"/><stop offset=".401" stop-color="#3dd701"/><stop offset=".496" stop-color="#5add00"/><stop offset=".565" stop-color="#88e605"/><stop offset=".632" stop-color="#bcf00f"/><stop offset=".743" stop-color="#def73d"/><stop offset=".812" stop-color="#f1fc65"/><stop offset=".862" stop-color="#fcff8c"/><stop offset=".962" stop-color="#ffffa1"/><stop offset="1" stop-color="#ffffa2"/></linearGradient><linearGradient id="g2b23" gradientUnits="userSpaceOnUse" x1="0" y1="255.14" x2="0" y2="677.10"><stop offset="0" stop-color="#06c90c"/><stop offset=".083" stop-color="#06c608"/><stop offset=".135" stop-color="#0ccd05"/><stop offset=".2" stop-color="#20d103"/><stop offset=".344" stop-color="#30d402"/><stop offset=".437" stop-color="#46d900"/><stop offset=".508" stop-color="#62de00"/><stop offset=".632" stop-color="#baf00f"/><stop offset=".748" stop-color="#def73f"/><stop offset=".817" stop-color="#f1fc66"/><stop offset=".865" stop-color="#fcff8c"/><stop offset="1" stop-color="#ffffa2"/></linearGradient><linearGradient id="g2b24" gradientUnits="userSpaceOnUse" x1="0" y1="255.14" x2="0" y2="677.10"><stop offset="0" stop-color="#06c80a"/><stop offset=".074" stop-color="#06c608"/><stop offset=".138" stop-color="#0ccd05"/><stop offset=".202" stop-color="#1fd103"/><stop offset=".344" stop-color="#30d402"/><stop offset=".428" stop-color="#44d800"/><stop offset=".504" stop-color="#62de00"/><stop offset=".634" stop-color="#bbf00f"/><stop offset=".751" stop-color="#def73f"/><stop offset=".819" stop-color="#f1fc66"/><stop offset=".869" stop-color="#fcff8c"/><stop offset="1" stop-color="#ffffa2"/></linearGradient><linearGradient id="g2b25" gradientUnits="userSpaceOnUse" x1="0" y1="255.14" x2="0" y2="677.10"><stop offset="0" stop-color="#06c609"/><stop offset=".145" stop-color="#0ccd05"/><stop offset=".204" stop-color="#1ed103"/><stop offset=".344" stop-color="#31d402"/><stop offset=".418" stop-color="#42d800"/><stop offset=".501" stop-color="#63de00"/><stop offset=".637" stop-color="#bcf00f"/><stop offset=".751" stop-color="#def73e"/><stop offset=".822" stop-color="#f1fc66"/><stop offset=".872" stop-color="#fcff8b"/><stop offset="1" stop-color="#ffffa2"/></linearGradient><linearGradient id="g2b26" gradientUnits="userSpaceOnUse" x1="0" y1="255.14" x2="0" y2="677.10"><stop offset="0" stop-color="#06c708"/><stop offset=".15" stop-color="#0ccd05"/><stop offset=".209" stop-color="#1ed103"/><stop offset=".342" stop-color="#32d502"/><stop offset=".411" stop-color="#42d801"/><stop offset=".496" stop-color="#63de00"/><stop offset=".637" stop-color="#bbf00f"/><stop offset=".753" stop-color="#def73e"/><stop offset=".824" stop-color="#f1fc65"/><stop offset=".876" stop-color="#fcff8c"/><stop offset="1" stop-color="#ffffa0"/></linearGradient><linearGradient id="g2b27" gradientUnits="userSpaceOnUse" x1="0" y1="255.14" x2="0" y2="677.10"><stop offset="0" stop-color="#07c708"/><stop offset=".152" stop-color="#0ccd05"/><stop offset=".209" stop-color="#1ed104"/><stop offset=".404" stop-color="#41d801"/><stop offset=".492" stop-color="#62de00"/><stop offset=".558" stop-color="#88e605"/><stop offset=".637" stop-color="#bbf00f"/><stop offset=".755" stop-color="#def73f"/><stop offset=".827" stop-color="#f1fc65"/><stop offset=".881" stop-color="#fcff8c"/><stop offset="1" stop-color="#ffffa0"/></linearGradient><linearGradient id="g2b28" gradientUnits="userSpaceOnUse" x1="0" y1="255.14" x2="0" y2="677.10"><stop offset="0" stop-color="#07c707"/><stop offset=".152" stop-color="#0ccd05"/><stop offset=".211" stop-color="#1ed103"/><stop offset=".404" stop-color="#41d801"/><stop offset=".492" stop-color="#63de00"/><stop offset=".558" stop-color="#88e605"/><stop offset=".637" stop-color="#bbf00f"/><stop offset=".755" stop-color="#def73e"/><stop offset=".827" stop-color="#f1fc65"/><stop offset=".881" stop-color="#fcff8c"/><stop offset="1" stop-color="#ffff9f"/></linearGradient><filter id="fb2b" x="-10%" y="-2%" width="120%" height="104%"><feGaussianBlur stdDeviation="4 0"/></filter><clipPath id="fc2"><rect x="915.60" y="149.90" width="208.5" height="527.20"/></clipPath></defs><g clip-path="url(#fc2)"><g filter="url(#fb2a)"><rect x="904.1" y="149.90" width="4.6" height="106.04" fill="url(#g2a0)"/><rect x="908.1" y="149.90" width="4.6" height="106.04" fill="url(#g2a1)"/><rect x="912.1" y="149.90" width="4.6" height="106.04" fill="url(#g2a2)"/><rect x="916.1" y="149.90" width="4.6" height="106.04" fill="url(#g2a3)"/><rect x="920.1" y="149.90" width="4.6" height="106.04" fill="url(#g2a4)"/><rect x="924.1" y="149.90" width="4.6" height="106.04" fill="url(#g2a5)"/><rect x="928.1" y="149.90" width="4.6" height="106.04" fill="url(#g2a6)"/><rect x="932.1" y="149.90" width="4.6" height="106.04" fill="url(#g2a7)"/><rect x="936.1" y="149.90" width="4.6" height="106.04" fill="url(#g2a8)"/><rect x="940.1" y="149.90" width="4.6" height="106.04" fill="url(#g2a9)"/><rect x="944.1" y="149.90" width="4.6" height="106.04" fill="url(#g2a10)"/><rect x="948.1" y="149.90" width="4.6" height="106.04" fill="url(#g2a11)"/><rect x="952.1" y="149.90" width="4.6" height="106.04" fill="url(#g2a12)"/><rect x="956.1" y="149.90" width="4.6" height="106.04" fill="url(#g2a13)"/><rect x="960.1" y="149.90" width="4.6" height="106.04" fill="url(#g2a14)"/><rect x="964.1" y="149.90" width="4.6" height="106.04" fill="url(#g2a15)"/><rect x="968.1" y="149.90" width="4.6" height="106.04" fill="url(#g2a16)"/><rect x="972.1" y="149.90" width="4.6" height="106.04" fill="url(#g2a17)"/><rect x="976.1" y="149.90" width="4.6" height="106.04" fill="url(#g2a18)"/><rect x="980.1" y="149.90" width="4.6" height="106.04" fill="url(#g2a19)"/><rect x="984.1" y="149.90" width="4.6" height="106.04" fill="url(#g2a20)"/><rect x="988.1" y="149.90" width="4.6" height="106.04" fill="url(#g2a21)"/><rect x="992.1" y="149.90" width="4.6" height="106.04" fill="url(#g2a22)"/><rect x="996.1" y="149.90" width="4.6" height="106.04" fill="url(#g2a23)"/><rect x="1000.1" y="149.90" width="4.6" height="106.04" fill="url(#g2a24)"/><rect x="1004.1" y="149.90" width="4.6" height="106.04" fill="url(#g2a25)"/><rect x="1008.1" y="149.90" width="4.6" height="106.04" fill="url(#g2a26)"/><rect x="1012.1" y="149.90" width="4.6" height="106.04" fill="url(#g2a27)"/><rect x="1016.1" y="149.90" width="4.6" height="106.04" fill="url(#g2a28)"/><rect x="1020.1" y="149.90" width="4.6" height="106.04" fill="url(#g2a29)"/><rect x="1024.1" y="149.90" width="4.6" height="106.04" fill="url(#g2a30)"/><rect x="1028.1" y="149.90" width="4.6" height="106.04" fill="url(#g2a31)"/><rect x="1032.1" y="149.90" width="4.6" height="106.04" fill="url(#g2a32)"/><rect x="1036.1" y="149.90" width="4.6" height="106.04" fill="url(#g2a33)"/><rect x="1040.1" y="149.90" width="4.6" height="106.04" fill="url(#g2a34)"/><rect x="1044.1" y="149.90" width="4.6" height="106.04" fill="url(#g2a35)"/><rect x="1048.1" y="149.90" width="4.6" height="106.04" fill="url(#g2a36)"/><rect x="1052.1" y="149.90" width="4.6" height="106.04" fill="url(#g2a37)"/><rect x="1056.1" y="149.90" width="4.6" height="106.04" fill="url(#g2a38)"/><rect x="1060.1" y="149.90" width="4.6" height="106.04" fill="url(#g2a39)"/><rect x="1064.1" y="149.90" width="4.6" height="106.04" fill="url(#g2a40)"/><rect x="1068.1" y="149.90" width="4.6" height="106.04" fill="url(#g2a41)"/><rect x="1072.1" y="149.90" width="4.6" height="106.04" fill="url(#g2a42)"/><rect x="1076.1" y="149.90" width="4.6" height="106.04" fill="url(#g2a43)"/><rect x="1080.1" y="149.90" width="4.6" height="106.04" fill="url(#g2a44)"/><rect x="1084.1" y="149.90" width="4.6" height="106.04" fill="url(#g2a45)"/><rect x="1088.1" y="149.90" width="4.6" height="106.04" fill="url(#g2a46)"/><rect x="1092.1" y="149.90" width="4.6" height="106.04" fill="url(#g2a47)"/><rect x="1096.1" y="149.90" width="4.6" height="106.04" fill="url(#g2a48)"/><rect x="1100.1" y="149.90" width="4.6" height="106.04" fill="url(#g2a49)"/><rect x="1104.1" y="149.90" width="4.6" height="106.04" fill="url(#g2a50)"/><rect x="1108.1" y="149.90" width="4.6" height="106.04" fill="url(#g2a51)"/><rect x="1112.1" y="149.90" width="4.6" height="106.04" fill="url(#g2a52)"/><rect x="1116.1" y="149.90" width="4.6" height="106.04" fill="url(#g2a53)"/><rect x="1120.1" y="149.90" width="4.6" height="106.04" fill="url(#g2a54)"/><rect x="1124.1" y="149.90" width="4.6" height="106.04" fill="url(#g2a55)"/><rect x="1128.1" y="149.90" width="4.6" height="106.04" fill="url(#g2a56)"/><rect x="1132.1" y="149.90" width="4.6" height="106.04" fill="url(#g2a57)"/></g><g filter="url(#fb2b)"><rect x="904.1" y="255.14" width="8.6" height="421.96" fill="url(#g2b0)"/><rect x="912.1" y="255.14" width="8.6" height="421.96" fill="url(#g2b1)"/><rect x="920.1" y="255.14" width="8.6" height="421.96" fill="url(#g2b2)"/><rect x="928.1" y="255.14" width="8.6" height="421.96" fill="url(#g2b3)"/><rect x="936.1" y="255.14" width="8.6" height="421.96" fill="url(#g2b4)"/><rect x="944.1" y="255.14" width="8.6" height="421.96" fill="url(#g2b5)"/><rect x="952.1" y="255.14" width="8.6" height="421.96" fill="url(#g2b6)"/><rect x="960.1" y="255.14" width="8.6" height="421.96" fill="url(#g2b7)"/><rect x="968.1" y="255.14" width="8.6" height="421.96" fill="url(#g2b8)"/><rect x="976.1" y="255.14" width="8.6" height="421.96" fill="url(#g2b9)"/><rect x="984.1" y="255.14" width="8.6" height="421.96" fill="url(#g2b10)"/><rect x="992.1" y="255.14" width="8.6" height="421.96" fill="url(#g2b11)"/><rect x="1000.1" y="255.14" width="8.6" height="421.96" fill="url(#g2b12)"/><rect x="1008.1" y="255.14" width="8.6" height="421.96" fill="url(#g2b13)"/><rect x="1016.1" y="255.14" width="8.6" height="421.96" fill="url(#g2b14)"/><rect x="1024.1" y="255.14" width="8.6" height="421.96" fill="url(#g2b15)"/><rect x="1032.1" y="255.14" width="8.6" height="421.96" fill="url(#g2b16)"/><rect x="1040.1" y="255.14" width="8.6" height="421.96" fill="url(#g2b17)"/><rect x="1048.1" y="255.14" width="8.6" height="421.96" fill="url(#g2b18)"/><rect x="1056.1" y="255.14" width="8.6" height="421.96" fill="url(#g2b19)"/><rect x="1064.1" y="255.14" width="8.6" height="421.96" fill="url(#g2b20)"/><rect x="1072.1" y="255.14" width="8.6" height="421.96" fill="url(#g2b21)"/><rect x="1080.1" y="255.14" width="8.6" height="421.96" fill="url(#g2b22)"/><rect x="1088.1" y="255.14" width="8.6" height="421.96" fill="url(#g2b23)"/><rect x="1096.1" y="255.14" width="8.6" height="421.96" fill="url(#g2b24)"/><rect x="1104.1" y="255.14" width="8.6" height="421.96" fill="url(#g2b25)"/><rect x="1112.1" y="255.14" width="8.6" height="421.96" fill="url(#g2b26)"/><rect x="1120.1" y="255.14" width="8.6" height="421.96" fill="url(#g2b27)"/><rect x="1128.1" y="255.14" width="8.6" height="421.96" fill="url(#g2b28)"/></g></g>
<clipPath id="cc2"><rect x="812.1" y="149.9" width="312.0" height="527.2"/></clipPath>
<g clip-path="url(#cc2)">
<path class="th" d="M921.0 150.0C921.5 151.3 922.2 151.3 922.5 154.0C922.8 156.7 923.2 155.8 922.0 158.0C920.8 160.2 920.8 159.4 919.0 160.5C917.2 161.6 917.4 161.0 916.6 161.3M916.6 163.8C919.4 163.6 919.4 164.0 925.0 163.3C930.6 162.6 928.4 163.4 933.4 161.8C938.4 160.2 936.5 161.1 940.0 158.5C943.5 155.9 942.2 156.8 944.0 154.0C945.8 151.2 945.0 151.3 945.5 150.0M966.9 150.0C966.1 151.5 966.5 151.5 964.5 154.5C962.5 157.5 963.2 156.4 961.0 159.0C958.8 161.6 959.0 161.2 958.0 162.3M1007.0 150.4C1004.7 151.1 1004.5 151.0 1000.0 152.5C995.5 154.0 997.9 152.9 993.6 155.0C989.3 157.1 990.9 156.4 987.0 158.8C983.1 161.2 983.7 161.1 982.0 162.2M1052.0 150.0C1049.0 150.4 1049.1 150.1 1043.0 151.2C1036.9 152.3 1040.7 151.5 1033.7 153.4C1026.7 155.3 1028.4 154.8 1022.0 157.0C1015.6 159.2 1018.0 158.2 1014.5 160.0C1011.0 161.8 1012.2 160.8 1011.5 162.5C1010.8 164.2 1012.6 163.6 1012.3 165.0C1012.0 166.4 1011.8 165.9 1010.5 166.8C1009.2 167.7 1009.0 167.5 1008.3 167.8M916.6 169.8C919.4 169.9 919.2 169.8 925.0 170.0C930.8 170.2 931.0 170.2 934.0 170.3M916.6 172.6C918.4 172.8 918.9 172.5 922.0 173.3C925.1 174.1 925.9 173.9 925.9 175.1C925.9 176.3 925.1 176.2 922.0 177.0C918.9 177.8 918.4 177.4 916.6 177.6M916.6 180.1C919.1 180.5 919.7 180.5 924.0 181.3C928.3 182.1 927.2 181.6 929.5 182.6C931.8 183.6 931.7 183.0 930.9 184.2C930.1 185.4 930.5 184.8 927.0 186.2C923.5 187.6 923.4 187.0 920.5 188.3C917.6 189.6 918.2 188.8 918.4 190.1C918.6 191.4 917.8 190.7 921.0 192.3C924.2 193.9 923.9 193.3 928.0 195.0C932.1 196.7 931.2 195.9 933.3 197.3C935.4 198.7 934.9 197.9 934.3 199.3C933.7 200.7 934.0 200.2 931.5 201.5C929.0 202.8 931.7 202.4 926.7 203.3C921.7 204.2 920.0 204.0 916.6 204.3M916.6 214.4C918.7 214.7 919.3 214.3 923.0 215.4C926.7 216.5 927.6 216.1 927.6 217.7C927.6 219.3 926.7 219.0 923.0 220.2C919.3 221.4 918.7 221.0 916.6 221.4M982.7 190.1C984.3 191.3 983.9 191.6 987.5 193.8C991.1 196.0 989.1 195.1 993.6 196.8C998.1 198.5 996.0 197.8 1001.0 198.8C1006.0 199.8 1002.9 199.5 1008.6 199.8C1014.3 200.1 1011.9 200.0 1018.0 199.6C1024.1 199.2 1021.2 199.5 1027.0 198.5C1032.8 197.5 1030.2 198.1 1035.5 196.5C1040.8 194.9 1040.4 194.7 1042.9 193.8M916.6 231.1C921.1 230.7 920.5 230.8 930.0 229.9C939.5 229.0 936.3 229.3 945.0 228.3C953.7 227.3 952.3 227.4 956.0 226.9M1013.7 212.2C1019.1 211.3 1017.8 211.7 1030.0 209.6C1042.2 207.5 1039.1 208.5 1050.4 206.0C1061.7 203.5 1055.6 205.1 1064.0 202.0C1072.4 198.9 1069.2 200.3 1075.5 196.8C1081.8 193.3 1079.1 194.8 1083.0 191.5C1086.9 188.2 1085.7 189.8 1087.2 186.8C1088.7 183.8 1087.9 185.0 1087.6 182.5C1087.3 180.0 1085.9 181.1 1086.4 179.3C1086.9 177.5 1086.5 178.3 1089.0 177.2C1091.5 176.1 1088.6 176.7 1093.9 175.9C1099.2 175.1 1097.2 175.4 1105.0 174.7C1112.8 174.0 1113.2 174.2 1117.3 173.9M1105.5 225.0C1098.7 225.7 1100.2 225.5 1085.0 227.0C1069.8 228.5 1074.9 227.9 1060.0 229.5C1045.1 231.1 1051.4 230.3 1040.4 231.7C1029.4 233.1 1034.8 232.1 1027.0 233.8C1019.2 235.5 1023.3 233.5 1017.0 236.7C1010.7 239.9 1013.0 238.5 1008.0 243.5C1003.0 248.5 1004.6 247.0 1001.9 251.8C999.2 256.6 1000.5 254.1 1000.0 258.0C999.5 261.9 999.5 259.4 1000.3 263.4C1001.1 267.4 1000.3 265.5 1002.5 270.0C1004.7 274.5 1005.5 274.5 1007.0 276.8M1052.0 310.2C1054.3 310.8 1054.0 311.1 1059.0 312.0C1064.0 312.9 1060.0 312.6 1067.0 312.9C1074.0 313.2 1071.6 313.1 1080.0 312.8C1088.4 312.5 1088.1 312.2 1092.2 311.9M916.6 403.8C919.4 404.4 919.4 403.9 925.0 405.6C930.6 407.3 928.9 407.0 933.4 408.8C937.9 410.6 935.7 409.3 938.5 411.0C941.3 412.7 939.8 410.9 941.8 413.9C943.8 416.9 942.8 415.6 944.5 420.0C946.2 424.4 945.7 422.9 947.0 427.0C948.3 431.1 949.0 429.2 948.5 432.2C948.0 435.2 948.3 433.8 945.5 436.0C942.7 438.2 945.6 436.6 940.1 438.9C934.6 441.2 936.8 440.4 929.0 443.0C921.2 445.6 920.7 445.4 916.6 446.6M916.6 464.1C920.1 464.5 920.3 464.2 927.0 465.3C933.7 466.4 929.8 465.5 936.8 467.4C943.8 469.3 940.2 468.1 948.0 471.0C955.8 473.9 956.1 474.4 960.2 476.1M1015.3 489.5C1016.7 489.7 1017.3 489.2 1019.5 490.0C1021.7 490.8 1022.5 490.4 1022.0 491.8C1021.5 493.2 1021.7 492.7 1018.0 494.2C1014.3 495.7 1014.7 494.9 1011.0 496.3C1007.3 497.7 1009.1 496.7 1007.0 498.5C1004.9 500.3 1005.2 499.6 1004.6 501.8C1004.0 504.0 1003.7 502.6 1005.3 505.2C1006.9 507.8 1005.6 506.8 1009.5 509.6C1013.4 512.4 1010.8 511.0 1017.0 513.5C1023.2 516.0 1020.2 515.0 1028.0 517.0C1035.8 519.0 1032.1 518.6 1040.4 519.5C1048.7 520.4 1044.6 519.8 1053.0 519.6C1061.4 519.4 1061.4 519.1 1065.6 518.9M916.6 576.4C919.4 576.7 919.4 576.4 925.0 577.2C930.6 578.0 927.7 577.2 933.4 578.7C939.1 580.2 936.4 579.4 942.0 581.6C947.6 583.8 947.4 584.1 950.1 585.4M1005.3 606.4C1009.5 607.5 1008.5 607.9 1018.0 609.8C1027.5 611.7 1025.4 611.2 1033.7 612.1C1042.0 613.0 1036.6 612.5 1043.0 612.6C1049.4 612.7 1049.7 612.5 1053.0 612.5"/>
<path class="tk" d="M916.6 166.7C918.7 166.7 918.5 166.8 923.0 166.8C927.5 166.8 927.7 166.7 930.0 166.6M970.2 161.7C972.1 160.5 972.1 160.6 976.0 158.0C979.9 155.4 978.3 156.5 982.0 154.0C985.7 151.5 985.3 151.6 987.0 150.4"/>
<text class="c2" transform="translate(948.3 163.0) rotate(-3)" y="8.0">35</text>
<text class="c2" transform="translate(978.8 168.6) rotate(-12)" y="8.0">34.8</text>
<text class="c2" transform="translate(1012.6 190.2) rotate(3)" y="8.0">34.7</text>
<text class="c2" transform="translate(984.6 218.6) rotate(-12)" y="8.0">34.8</text>
<text class="c2" transform="translate(1027.8 292.2) rotate(37)" y="8.0">34.9</text>
<text class="c2" transform="translate(988.5 481.0) rotate(12)" y="8.0">34.8</text>
<text class="c2" transform="translate(977.6 594.6) rotate(16)" y="8.0">34.7</text>
</g>
<polygon points="1124.1,149.9 1113.0,203.3 1099.8,255.5 1098.5,260.6 1094.6,290.6 1091.0,322.6 1080.2,400.6 1070.9,473.3 1059.6,558.1 1049.5,624.6 1044.5,677.1 1124.1,677.1" fill="#696969" stroke="#000" stroke-width="1.1" stroke-linejoin="miter"/>
<path d="M804.1 149.90H812.1M1124.1 149.90h7.6M804.1 202.62H812.1M1124.1 202.62h7.6M804.1 255.34H812.1M1124.1 255.34h7.6M804.1 308.06H812.1M1124.1 308.06h7.6M804.1 360.78H812.1M1124.1 360.78h7.6M804.1 413.50H812.1M1124.1 413.50h7.6M804.1 466.22H812.1M1124.1 466.22h7.6M804.1 518.94H812.1M1124.1 518.94h7.6M804.1 571.66H812.1M1124.1 571.66h7.6M804.1 624.38H812.1M1124.1 624.38h7.6M804.1 677.10H812.1M1124.1 677.10h7.6M812.10 677.1v8.6M864.10 677.1v8.6M916.10 677.1v8.6M968.10 677.1v8.6M1020.10 677.1v8.6M1072.10 677.1v8.6M1124.10 677.1v8.6" stroke="#000" stroke-width="1.1" fill="none"/>
<text class="tl" x="801.5" y="159.0" text-anchor="end">0</text>
<text class="tl" x="801.5" y="211.7" text-anchor="end">50</text>
<text class="tl" x="801.5" y="264.4" text-anchor="end">100</text>
<text class="tl" x="801.5" y="317.2" text-anchor="end">150</text>
<text class="tl" x="801.5" y="369.9" text-anchor="end">200</text>
<text class="tl" x="801.5" y="422.6" text-anchor="end">250</text>
<text class="tl" x="801.5" y="475.3" text-anchor="end">300</text>
<text class="tl" x="801.5" y="528.0" text-anchor="end">350</text>
<text class="tl" x="801.5" y="580.8" text-anchor="end">400</text>
<text class="tl" x="801.5" y="633.5" text-anchor="end">450</text>
<text class="tl" x="801.5" y="686.2" text-anchor="end">500</text>
<text class="tl" x="812.1" y="709.0" text-anchor="middle">60</text>
<text class="tl" x="864.1" y="709.0" text-anchor="middle">50</text>
<text class="tl" x="916.1" y="709.0" text-anchor="middle">40</text>
<text class="tl" x="968.1" y="709.0" text-anchor="middle">30</text>
<text class="tl" x="1020.1" y="709.0" text-anchor="middle">20</text>
<text class="tl" x="1072.1" y="709.0" text-anchor="middle">10</text>
<text class="tl" x="1124.1" y="709.0" text-anchor="middle">0</text>
</g>
<g id="p4">
<rect x="1189.60" y="149.90" width="312.00" height="527.20" fill="#fff" stroke="#000" stroke-width="2.7" stroke-linejoin="round"/>
<defs><linearGradient id="g3a0" gradientUnits="userSpaceOnUse" x1="0" y1="149.90" x2="0" y2="255.14"><stop offset="0" stop-color="#fff"/><stop offset=".067" stop-color="#fff"/><stop offset=".114" stop-color="#d7d7ff"/><stop offset=".143" stop-color="#c5c5fe"/><stop offset=".181" stop-color="#b5b5fc"/><stop offset=".21" stop-color="#b1b1fc"/><stop offset=".257" stop-color="#b8b8fd"/><stop offset=".333" stop-color="#d5d5ff"/><stop offset=".371" stop-color="#ddf"/><stop offset=".619" stop-color="#f4f4ff"/><stop offset=".695" stop-color="#fefeff"/><stop offset="1" stop-color="#fff"/></linearGradient><linearGradient id="g3a1" gradientUnits="userSpaceOnUse" x1="0" y1="149.90" x2="0" y2="255.14"><stop offset="0" stop-color="#fff"/><stop offset=".067" stop-color="#fff"/><stop offset=".114" stop-color="#d7d7ff"/><stop offset=".143" stop-color="#c5c5fe"/><stop offset=".181" stop-color="#b5b5fc"/><stop offset=".21" stop-color="#b1b1fc"/><stop offset=".257" stop-color="#b8b8fd"/><stop offset=".333" stop-color="#d5d5ff"/><stop offset=".371" stop-color="#ddf"/><stop offset=".619" stop-color="#f4f4ff"/><stop offset=".695" stop-color="#fefeff"/><stop offset="1" stop-color="#fff"/></linearGradient><linearGradient id="g3a2" gradientUnits="userSpaceOnUse" x1="0" y1="149.90" x2="0" y2="255.14"><stop offset="0" stop-color="#fff"/><stop offset=".067" stop-color="#fff"/><stop offset=".114" stop-color="#d7d7ff"/><stop offset=".143" stop-color="#c5c5fe"/><stop offset=".181" stop-color="#b5b5fc"/><stop offset=".21" stop-color="#b1b1fc"/><stop offset=".257" stop-color="#b8b8fd"/><stop offset=".333" stop-color="#d5d5ff"/><stop offset=".371" stop-color="#ddf"/><stop offset=".619" stop-color="#f4f4ff"/><stop offset=".695" stop-color="#fefeff"/><stop offset="1" stop-color="#fff"/></linearGradient><linearGradient id="g3a3" gradientUnits="userSpaceOnUse" x1="0" y1="149.90" x2="0" y2="255.14"><stop offset="0" stop-color="#fff"/><stop offset=".067" stop-color="#fff"/><stop offset=".114" stop-color="#d7d7ff"/><stop offset=".143" stop-color="#c5c5fe"/><stop offset=".181" stop-color="#b5b5fc"/><stop offset=".21" stop-color="#b1b1fc"/><stop offset=".257" stop-color="#b8b8fd"/><stop offset=".333" stop-color="#d5d5ff"/><stop offset=".371" stop-color="#ddf"/><stop offset=".619" stop-color="#f4f4ff"/><stop offset=".695" stop-color="#fefeff"/><stop offset="1" stop-color="#fff"/></linearGradient><linearGradient id="g3a4" gradientUnits="userSpaceOnUse" x1="0" y1="149.90" x2="0" y2="255.14"><stop offset="0" stop-color="#fff"/><stop offset=".067" stop-color="#fdfdff"/><stop offset=".114" stop-color="#d7d7ff"/><stop offset=".143" stop-color="#c6c6fe"/><stop offset=".181" stop-color="#b6b6fc"/><stop offset=".21" stop-color="#b1b1fc"/><stop offset=".257" stop-color="#b8b8fd"/><stop offset=".333" stop-color="#d4d4ff"/><stop offset=".371" stop-color="#ddf"/><stop offset=".6" stop-color="#f3f3ff"/><stop offset=".695" stop-color="#fff"/><stop offset="1" stop-color="#fff"/></linearGradient><linearGradient id="g3a5" gradientUnits="userSpaceOnUse" x1="0" y1="149.90" x2="0" y2="255.14"><stop offset="0" stop-color="#fff"/><stop offset=".057" stop-color="#fff"/><stop offset=".067" stop-color="#fcfcff"/><stop offset=".114" stop-color="#dadaff"/><stop offset=".152" stop-color="#c4c4fd"/><stop offset=".19" stop-color="#b6b6fc"/><stop offset=".219" stop-color="#b3b3fc"/><stop offset=".257" stop-color="#b9b9fd"/><stop offset=".333" stop-color="#d3d3ff"/><stop offset=".371" stop-color="#ddf"/><stop offset=".686" stop-color="#fff"/><stop offset="1" stop-color="#fff"/></linearGradient><linearGradient id="g3a6" gradientUnits="userSpaceOnUse" x1="0" y1="149.90" x2="0" y2="255.14"><stop offset="0" stop-color="#fff"/><stop offset=".057" stop-color="#fff"/><stop offset=".162" stop-color="#c3c3fd"/><stop offset=".19" stop-color="#b9b9fd"/><stop offset=".219" stop-color="#b6b6fc"/><stop offset=".257" stop-color="#bbbbfd"/><stop offset=".333" stop-color="#d3d3ff"/><stop offset=".381" stop-color="#ddf"/><stop offset=".676" stop-color="#fefeff"/><stop offset="1" stop-color="#fff"/></linearGradient><linearGradient id="g3a7" gradientUnits="userSpaceOnUse" x1="0" y1="149.90" x2="0" y2="255.14"><stop offset="0" stop-color="#fff"/><stop offset=".057" stop-color="#fff"/><stop offset=".162" stop-color="#c5c5fe"/><stop offset=".19" stop-color="#bbbbfd"/><stop offset=".219" stop-color="#b8b8fd"/><stop offset=".257" stop-color="#bdbdfd"/><stop offset=".343" stop-color="#d4d4ff"/><stop offset=".39" stop-color="#dedeff"/><stop offset=".667" stop-color="#fefeff"/><stop offset="1" stop-color="#fff"/></linearGradient><linearGradient id="g3a8" gradientUnits="userSpaceOnUse" x1="0" y1="149.90" x2="0" y2="255.14"><stop offset="0" stop-color="#fff"/><stop offset=".048" stop-color="#fff"/><stop offset=".162" stop-color="#c6c6fe"/><stop offset=".19" stop-color="#bdbdfd"/><stop offset=".219" stop-color="#babafd"/><stop offset=".267" stop-color="#c0c0fd"/><stop offset=".39" stop-color="#dcdcff"/><stop offset=".667" stop-color="#fff"/><stop offset="1" stop-color="#fff"/></linearGradient><linearGradient id="g3a9" gradientUnits="userSpaceOnUse" x1="0" y1="149.90" x2="0" y2="255.14"><stop offset="0" stop-color="#fff"/><stop offset=".038" stop-color="#fff"/><stop offset=".048" stop-color="#fcfcff"/><stop offset=".162" stop-color="#c7c7fe"/><stop offset=".19" stop-color="#bfbffd"/><stop offset=".219" stop-color="#bcbcfd"/><stop offset=".267" stop-color="#c1c1fd"/><stop offset=".41" stop-color="#dedeff"/><stop offset=".657" stop-color="#fff"/><stop offset="1" stop-color="#fff"/></linearGradient><linearGradient id="g3a10" gradientUnits="userSpaceOnUse" x1="0" y1="149.90" x2="0" y2="255.14"><stop offset="0" stop-color="#fff"/><stop offset=".038" stop-color="#fbfbff"/><stop offset=".152" stop-color="#cbcbfe"/><stop offset=".19" stop-color="#c1c1fd"/><stop offset=".219" stop-color="#bebefd"/><stop offset=".267" stop-color="#c2c2fd"/><stop offset=".41" stop-color="#ddf"/><stop offset=".648" stop-color="#fff"/><stop offset="1" stop-color="#fff"/></linearGradient><linearGradient id="g3a11" gradientUnits="userSpaceOnUse" x1="0" y1="149.90" x2="0" y2="255.14"><stop offset="0" stop-color="#fff"/><stop offset=".019" stop-color="#fdfdff"/><stop offset=".048" stop-color="#f5f5ff"/><stop offset=".124" stop-color="#d5d5ff"/><stop offset=".162" stop-color="#c9c9fe"/><stop offset=".219" stop-color="#c0c0fd"/><stop offset=".276" stop-color="#c5c5fe"/><stop offset=".638" stop-color="#fefeff"/><stop offset="1" stop-color="#fff"/></linearGradient><linearGradient id="g3a12" gradientUnits="userSpaceOnUse" x1="0" y1="149.90" x2="0" y2="255.14"><stop offset="0" stop-color="#fcfcff"/><stop offset=".048" stop-color="#f3f3ff"/><stop offset=".114" stop-color="#d8d8ff"/><stop offset=".152" stop-color="#ccccfe"/><stop offset=".19" stop-color="#c5c5fe"/><stop offset=".229" stop-color="#c2c2fd"/><stop offset=".305" stop-color="#cacafe"/><stop offset=".638" stop-color="#fff"/><stop offset="1" stop-color="#fff"/></linearGradient><linearGradient id="g3a13" gradientUnits="userSpaceOnUse" x1="0" y1="149.90" x2="0" y2="255.14"><stop offset="0" stop-color="#fafaff"/><stop offset=".048" stop-color="#f1f1ff"/><stop offset=".114" stop-color="#d7d7ff"/><stop offset=".143" stop-color="#cfcffe"/><stop offset=".19" stop-color="#c7c7fe"/><stop offset=".229" stop-color="#c5c5fe"/><stop offset=".295" stop-color="#cacafe"/><stop offset=".4" stop-color="#d7d7ff"/><stop offset=".629" stop-color="#fff"/><stop offset="1" stop-color="#fff"/></linearGradient><linearGradient id="g3a14" gradientUnits="userSpaceOnUse" x1="0" y1="149.90" x2="0" y2="255.14"><stop offset="0" stop-color="#f7f7ff"/><stop offset=".048" stop-color="#f0f0ff"/><stop offset=".105" stop-color="#d9d9ff"/><stop offset=".143" stop-color="#cfcffe"/><stop offset=".181" stop-color="#cacafe"/><stop offset=".229" stop-color="#c8c8fe"/><stop offset=".305" stop-color="#ccccfe"/><stop offset=".41" stop-color="#d8d8ff"/><stop offset=".629" stop-color="#fff"/><stop offset="1" stop-color="#fff"/></linearGradient><linearGradient id="g3a15" gradientUnits="userSpaceOnUse" x1="0" y1="149.90" x2="0" y2="255.14"><stop offset="0" stop-color="#f0f0ff"/><stop offset=".057" stop-color="#ebebff"/><stop offset=".105" stop-color="#d8d8ff"/><stop offset=".143" stop-color="#d0d0fe"/><stop offset=".19" stop-color="#cbcbfe"/><stop offset=".248" stop-color="#cacafe"/><stop offset=".324" stop-color="#cecefe"/><stop offset=".419" stop-color="#d8d8ff"/><stop offset=".619" stop-color="#fefeff"/><stop offset="1" stop-color="#fff"/></linearGradient><linearGradient id="g3a16" gradientUnits="userSpaceOnUse" x1="0" y1="149.90" x2="0" y2="255.14"><stop offset="0" stop-color="#e7e7ff"/><stop offset=".057" stop-color="#e5e5ff"/><stop offset=".105" stop-color="#d7d7ff"/><stop offset=".152" stop-color="#cecefe"/><stop offset=".257" stop-color="#cbcbfe"/><stop offset=".343" stop-color="#cfcffe"/><stop offset=".429" stop-color="#d8d8ff"/><stop offset=".619" stop-color="#fff"/><stop offset="1" stop-color="#fff"/></linearGradient><linearGradient id="g3a17" gradientUnits="userSpaceOnUse" x1="0" y1="149.90" x2="0" y2="255.14"><stop offset="0" stop-color="#dedeff"/><stop offset=".057" stop-color="#dfdfff"/><stop offset=".124" stop-color="#d2d2ff"/><stop offset=".171" stop-color="#cdcdfe"/><stop offset=".286" stop-color="#ccccfe"/><stop offset=".438" stop-color="#d8d8ff"/><stop offset=".619" stop-color="#fff"/><stop offset="1" stop-color="#fff"/></linearGradient><linearGradient id="g3a18" gradientUnits="userSpaceOnUse" x1="0" y1="149.90" x2="0" y2="255.14"><stop offset="0" stop-color="#dcdcff"/><stop offset=".048" stop-color="#ddf"/><stop offset=".181" stop-color="#cdcdfe"/><stop offset=".314" stop-color="#cecefe"/><stop offset=".448" stop-color="#d9d9ff"/><stop offset=".61" stop-color="#fff"/><stop offset="1" stop-color="#fff"/></linearGradient><linearGradient id="g3a19" gradientUnits="userSpaceOnUse" x1="0" y1="149.90" x2="0" y2="255.14"><stop offset="0" stop-color="#e3e3ff"/><stop offset=".162" stop-color="#cfcffe"/><stop offset=".324" stop-color="#cecefe"/><stop offset=".448" stop-color="#d7d7ff"/><stop offset=".61" stop-color="#fff"/><stop offset="1" stop-color="#fff"/></linearGradient><linearGradient id="g3a20" gradientUnits="userSpaceOnUse" x1="0" y1="149.90" x2="0" y2="255.14"><stop offset="0" stop-color="#e9e9ff"/><stop offset=".086" stop-color="#d7d7ff"/><stop offset=".133" stop-color="#d2d2ff"/><stop offset=".21" stop-color="#cecefe"/><stop offset=".324" stop-color="#cecefe"/><stop offset=".4" stop-color="#d1d1fe"/><stop offset=".457" stop-color="#d8d8ff"/><stop offset=".61" stop-color="#fff"/><stop offset="1" stop-color="#fff"/></linearGradient><linearGradient id="g3a21" gradientUnits="userSpaceOnUse" x1="0" y1="149.90" x2="0" y2="255.14"><stop offset="0" stop-color="#e8e8ff"/><stop offset=".076" stop-color="#d8d8ff"/><stop offset=".133" stop-color="#d2d2ff"/><stop offset=".219" stop-color="#cecefe"/><stop offset=".343" stop-color="#cecefe"/><stop offset=".457" stop-color="#d7d7ff"/><stop offset=".6" stop-color="#fff"/><stop offset="1" stop-color="#fff"/></linearGradient><linearGradient id="g3a22" gradientUnits="userSpaceOnUse" x1="0" y1="149.90" x2="0" y2="255.14"><stop offset="0" stop-color="#e5e5ff"/><stop offset=".076" stop-color="#d8d8ff"/><stop offset=".143" stop-color="#d1d1fe"/><stop offset=".238" stop-color="#cecefe"/><stop offset=".352" stop-color="#cfcffe"/><stop offset=".419" stop-color="#d2d2ff"/><stop offset=".467" stop-color="#d8d8ff"/><stop offset=".6" stop-color="#fff"/><stop offset="1" stop-color="#fff"/></linearGradient><linearGradient id="g3a23" gradientUnits="userSpaceOnUse" x1="0" y1="149.90" x2="0" y2="255.14"><stop offset="0" stop-color="#e2e2ff"/><stop offset=".086" stop-color="#d6d6ff"/><stop offset=".152" stop-color="#d1d1fe"/><stop offset=".371" stop-color="#cfcffe"/><stop offset=".467" stop-color="#d7d7ff"/><stop offset=".6" stop-color="#fff"/><stop offset="1" stop-color="#fff"/></linearGradient><linearGradient id="g3a24" gradientUnits="userSpaceOnUse" x1="0" y1="149.90" x2="0" y2="255.14"><stop offset="0" stop-color="#e1e1ff"/><stop offset=".086" stop-color="#d6d6ff"/><stop offset=".162" stop-color="#d1d1fe"/><stop offset=".381" stop-color="#cfcffe"/><stop offset=".467" stop-color="#d7d7ff"/><stop offset=".571" stop-color="#f8f8ff"/><stop offset=".6" stop-color="#fff"/><stop offset="1" stop-color="#fff"/></linearGradient><linearGradient id="g3a25" gradientUnits="userSpaceOnUse" x1="0" y1="149.90" x2="0" y2="255.14"><stop offset="0" stop-color="#e0e0ff"/><stop offset=".086" stop-color="#d7d7ff"/><stop offset=".171" stop-color="#d2d2ff"/><stop offset=".39" stop-color="#d0d0fe"/><stop offset=".438" stop-color="#d3d3ff"/><stop offset=".476" stop-color="#d9d9ff"/><stop offset=".59" stop-color="#fefeff"/><stop offset="1" stop-color="#fff"/></linearGradient><linearGradient id="g3a26" gradientUnits="userSpaceOnUse" x1="0" y1="149.90" x2="0" y2="255.14"><stop offset="0" stop-color="#e0e0ff"/><stop offset=".171" stop-color="#d3d3ff"/><stop offset=".39" stop-color="#d0d0fe"/><stop offset=".438" stop-color="#d3d3ff"/><stop offset=".476" stop-color="#d9d9ff"/><stop offset=".59" stop-color="#fff"/><stop offset="1" stop-color="#fff"/></linearGradient><linearGradient id="g3a27" gradientUnits="userSpaceOnUse" x1="0" y1="149.90" x2="0" y2="255.14"><stop offset="0" stop-color="#e0e0ff"/><stop offset=".181" stop-color="#d3d3ff"/><stop offset=".4" stop-color="#d0d0fe"/><stop offset=".448" stop-color="#d4d4ff"/><stop offset=".476" stop-color="#d9d9ff"/><stop offset=".59" stop-color="#fff"/><stop offset="1" stop-color="#fff"/></linearGradient><linearGradient id="g3a28" gradientUnits="userSpaceOnUse" x1="0" y1="149.90" x2="0" y2="255.14"><stop offset="0" stop-color="#e1e1ff"/><stop offset=".181" stop-color="#d4d4ff"/><stop offset=".4" stop-color="#d1d1fe"/><stop offset=".467" stop-color="#d8d8ff"/><stop offset=".543" stop-color="#f2f2ff"/><stop offset=".59" stop-color="#fff"/><stop offset="1" stop-color="#fff"/></linearGradient><linearGradient id="g3a29" gradientUnits="userSpaceOnUse" x1="0" y1="149.90" x2="0" y2="255.14"><stop offset="0" stop-color="#e1e1ff"/><stop offset=".181" stop-color="#d5d5ff"/><stop offset=".4" stop-color="#d2d2ff"/><stop offset=".467" stop-color="#d9d9ff"/><stop offset=".543" stop-color="#f3f3ff"/><stop offset=".59" stop-color="#fff"/><stop offset="1" stop-color="#fff"/></linearGradient><linearGradient id="g3a30" gradientUnits="userSpaceOnUse" x1="0" y1="149.90" x2="0" y2="255.14"><stop offset="0" stop-color="#e2e2ff"/><stop offset=".181" stop-color="#d7d7ff"/><stop offset=".4" stop-color="#d3d3ff"/><stop offset=".457" stop-color="#d8d8ff"/><stop offset=".543" stop-color="#f4f4ff"/><stop offset=".59" stop-color="#fff"/><stop offset="1" stop-color="#fff"/></linearGradient><linearGradient id="g3a31" gradientUnits="userSpaceOnUse" x1="0" y1="149.90" x2="0" y2="255.14"><stop offset="0" stop-color="#e3e3ff"/><stop offset=".19" stop-color="#d8d8ff"/><stop offset=".4" stop-color="#d4d4ff"/><stop offset=".457" stop-color="#dadaff"/><stop offset=".581" stop-color="#fff"/><stop offset="1" stop-color="#fff"/></linearGradient><linearGradient id="g3a32" gradientUnits="userSpaceOnUse" x1="0" y1="149.90" x2="0" y2="255.14"><stop offset="0" stop-color="#e4e4ff"/><stop offset=".21" stop-color="#d9d9ff"/><stop offset=".4" stop-color="#d6d6ff"/><stop offset=".457" stop-color="#dcdcff"/><stop offset=".581" stop-color="#fff"/><stop offset="1" stop-color="#fff"/></linearGradient><linearGradient id="g3a33" gradientUnits="userSpaceOnUse" x1="0" y1="149.90" x2="0" y2="255.14"><stop offset="0" stop-color="#e5e5ff"/><stop offset=".2" stop-color="#dcdcff"/><stop offset=".4" stop-color="#d8d8ff"/><stop offset=".448" stop-color="#dedeff"/><stop offset=".581" stop-color="#fff"/><stop offset="1" stop-color="#fff"/></linearGradient><linearGradient id="g3a34" gradientUnits="userSpaceOnUse" x1="0" y1="149.90" x2="0" y2="255.14"><stop offset="0" stop-color="#e6e6ff"/><stop offset=".19" stop-color="#dedeff"/><stop offset=".381" stop-color="#dcdcff"/><stop offset=".448" stop-color="#e2e2ff"/><stop offset=".571" stop-color="#fff"/><stop offset="1" stop-color="#fff"/></linearGradient><linearGradient id="g3a35" gradientUnits="userSpaceOnUse" x1="0" y1="149.90" x2="0" y2="255.14"><stop offset="0" stop-color="#e7e7ff"/><stop offset=".181" stop-color="#e1e1ff"/><stop offset=".352" stop-color="#e0e0ff"/><stop offset=".429" stop-color="#e5e5ff"/><stop offset=".571" stop-color="#fff"/><stop offset="1" stop-color="#fff"/></linearGradient><linearGradient id="g3a36" gradientUnits="userSpaceOnUse" x1="0" y1="149.90" x2="0" y2="255.14"><stop offset="0" stop-color="#e8e8ff"/><stop offset=".171" stop-color="#e3e3ff"/><stop offset=".324" stop-color="#e3e3ff"/><stop offset=".429" stop-color="#eaeaff"/><stop offset=".562" stop-color="#fff"/><stop offset="1" stop-color="#fff"/></linearGradient><linearGradient id="g3a37" gradientUnits="userSpaceOnUse" x1="0" y1="149.90" x2="0" y2="255.14"><stop offset="0" stop-color="#e9e9ff"/><stop offset=".171" stop-color="#e6e6ff"/><stop offset=".333" stop-color="#e8e8ff"/><stop offset=".419" stop-color="#eef"/><stop offset=".543" stop-color="#fff"/><stop offset="1" stop-color="#fff"/></linearGradient><linearGradient id="g3a38" gradientUnits="userSpaceOnUse" x1="0" y1="149.90" x2="0" y2="255.14"><stop offset="0" stop-color="#eaeaff"/><stop offset=".162" stop-color="#e8e8ff"/><stop offset=".314" stop-color="#ebebff"/><stop offset=".4" stop-color="#f0f0ff"/><stop offset=".524" stop-color="#fff"/><stop offset="1" stop-color="#fff"/></linearGradient><linearGradient id="g3a39" gradientUnits="userSpaceOnUse" x1="0" y1="149.90" x2="0" y2="255.14"><stop offset="0" stop-color="#ececff"/><stop offset=".143" stop-color="#eaeaff"/><stop offset=".295" stop-color="#ededff"/><stop offset=".381" stop-color="#f2f2ff"/><stop offset=".495" stop-color="#fff"/><stop offset="1" stop-color="#fff"/></linearGradient><linearGradient id="g3a40" gradientUnits="userSpaceOnUse" x1="0" y1="149.90" x2="0" y2="255.14"><stop offset="0" stop-color="#ededff"/><stop offset=".133" stop-color="#ececff"/><stop offset=".276" stop-color="#efefff"/><stop offset=".371" stop-color="#f5f5ff"/><stop offset=".476" stop-color="#fff"/><stop offset="1" stop-color="#fff"/></linearGradient><linearGradient id="g3a41" gradientUnits="userSpaceOnUse" x1="0" y1="149.90" x2="0" y2="255.14"><stop offset="0" stop-color="#eef"/><stop offset=".2" stop-color="#efefff"/><stop offset=".333" stop-color="#f5f5ff"/><stop offset=".457" stop-color="#fff"/><stop offset="1" stop-color="#fff"/></linearGradient><linearGradient id="g3a42" gradientUnits="userSpaceOnUse" x1="0" y1="149.90" x2="0" y2="255.14"><stop offset="0" stop-color="#efefff"/><stop offset=".171" stop-color="#f0f0ff"/><stop offset=".429" stop-color="#fff"/><stop offset="1" stop-color="#fff"/></linearGradient><linearGradient id="g3a43" gradientUnits="userSpaceOnUse" x1="0" y1="149.90" x2="0" y2="255.14"><stop offset="0" stop-color="#f0f0ff"/><stop offset=".162" stop-color="#f1f1ff"/><stop offset=".41" stop-color="#fff"/><stop offset="1" stop-color="#fff"/></linearGradient><linearGradient id="g3a44" gradientUnits="userSpaceOnUse" x1="0" y1="149.90" x2="0" y2="255.14"><stop offset="0" stop-color="#f1f1ff"/><stop offset=".152" stop-color="#f2f2ff"/><stop offset=".371" stop-color="#fff"/><stop offset="1" stop-color="#fff"/></linearGradient><linearGradient id="g3a45" gradientUnits="userSpaceOnUse" x1="0" y1="149.90" x2="0" y2="255.14"><stop offset="0" stop-color="#f2f2ff"/><stop offset=".152" stop-color="#f3f3ff"/><stop offset=".343" stop-color="#fff"/><stop offset="1" stop-color="#fff"/></linearGradient><linearGradient id="g3a46" gradientUnits="userSpaceOnUse" x1="0" y1="149.90" x2="0" y2="255.14"><stop offset="0" stop-color="#f3f3ff"/><stop offset=".162" stop-color="#f4f4ff"/><stop offset=".314" stop-color="#fff"/><stop offset="1" stop-color="#fff"/></linearGradient><linearGradient id="g3a47" gradientUnits="userSpaceOnUse" x1="0" y1="149.90" x2="0" y2="255.14"><stop offset="0" stop-color="#f4f4ff"/><stop offset=".162" stop-color="#f5f5ff"/><stop offset=".295" stop-color="#fff"/><stop offset="1" stop-color="#fff"/></linearGradient><linearGradient id="g3a48" gradientUnits="userSpaceOnUse" x1="0" y1="149.90" x2="0" y2="255.14"><stop offset="0" stop-color="#f5f5ff"/><stop offset=".152" stop-color="#f5f5ff"/><stop offset=".276" stop-color="#fff"/><stop offset="1" stop-color="#fff"/></linearGradient><linearGradient id="g3a49" gradientUnits="userSpaceOnUse" x1="0" y1="149.90" x2="0" y2="255.14"><stop offset="0" stop-color="#f7f7ff"/><stop offset=".152" stop-color="#f5f5ff"/><stop offset=".257" stop-color="#fff"/><stop offset="1" stop-color="#fff"/></linearGradient><linearGradient id="g3a50" gradientUnits="userSpaceOnUse" x1="0" y1="149.90" x2="0" y2="255.14"><stop offset="0" stop-color="#f8f8ff"/><stop offset=".152" stop-color="#f6f6ff"/><stop offset=".248" stop-color="#fff"/><stop offset="1" stop-color="#fff"/></linearGradient><linearGradient id="g3a51" gradientUnits="userSpaceOnUse" x1="0" y1="149.90" x2="0" y2="255.14"><stop offset="0" stop-color="#f9f9ff"/><stop offset=".143" stop-color="#f6f6ff"/><stop offset=".238" stop-color="#fff"/><stop offset="1" stop-color="#fff"/></linearGradient><linearGradient id="g3a52" gradientUnits="userSpaceOnUse" x1="0" y1="149.90" x2="0" y2="255.14"><stop offset="0" stop-color="#fafaff"/><stop offset=".133" stop-color="#f6f6ff"/><stop offset=".229" stop-color="#fff"/><stop offset="1" stop-color="#fff"/></linearGradient><linearGradient id="g3a53" gradientUnits="userSpaceOnUse" x1="0" y1="149.90" x2="0" y2="255.14"><stop offset="0" stop-color="#fbfbff"/><stop offset=".133" stop-color="#f7f7ff"/><stop offset=".229" stop-color="#fff"/><stop offset="1" stop-color="#fff"/></linearGradient><linearGradient id="g3a54" gradientUnits="userSpaceOnUse" x1="0" y1="149.90" x2="0" y2="255.14"><stop offset="0" stop-color="#fcfcff"/><stop offset=".133" stop-color="#f8f8ff"/><stop offset=".229" stop-color="#fff"/><stop offset="1" stop-color="#fff"/></linearGradient><linearGradient id="g3a55" gradientUnits="userSpaceOnUse" x1="0" y1="149.90" x2="0" y2="255.14"><stop offset="0" stop-color="#fcfcff"/><stop offset=".133" stop-color="#f8f8ff"/><stop offset=".229" stop-color="#fff"/><stop offset="1" stop-color="#fff"/></linearGradient><linearGradient id="g3a56" gradientUnits="userSpaceOnUse" x1="0" y1="149.90" x2="0" y2="255.14"><stop offset="0" stop-color="#fcfcff"/><stop offset=".133" stop-color="#f8f8ff"/><stop offset=".229" stop-color="#fff"/><stop offset="1" stop-color="#fff"/></linearGradient><linearGradient id="g3a57" gradientUnits="userSpaceOnUse" x1="0" y1="149.90" x2="0" y2="255.14"><stop offset="0" stop-color="#fcfcff"/><stop offset=".133" stop-color="#f8f8ff"/><stop offset=".229" stop-color="#fff"/><stop offset="1" stop-color="#fff"/></linearGradient><filter id="fb3a" x="-10%" y="-2%" width="120%" height="104%"><feGaussianBlur stdDeviation="2 0"/></filter><linearGradient id="g3b0" gradientUnits="userSpaceOnUse" x1="0" y1="255.14" x2="0" y2="677.10"><stop offset="0" stop-color="#fff"/><stop offset="1" stop-color="#fff"/></linearGradient><linearGradient id="g3b1" gradientUnits="userSpaceOnUse" x1="0" y1="255.14" x2="0" y2="677.10"><stop offset="0" stop-color="#fff"/><stop offset="1" stop-color="#fff"/></linearGradient><linearGradient id="g3b2" gradientUnits="userSpaceOnUse" x1="0" y1="255.14" x2="0" y2="677.10"><stop offset="0" stop-color="#fff"/><stop offset="1" stop-color="#fff"/></linearGradient><linearGradient id="g3b3" gradientUnits="userSpaceOnUse" x1="0" y1="255.14" x2="0" y2="677.10"><stop offset="0" stop-color="#fff"/><stop offset="1" stop-color="#fff"/></linearGradient><filter id="fb3b" x="-10%" y="-2%" width="120%" height="104%"><feGaussianBlur stdDeviation="0.1 0"/></filter><clipPath id="fc3"><rect x="1293.10" y="149.90" width="208.5" height="527.20"/></clipPath></defs><g clip-path="url(#fc3)"><g filter="url(#fb3a)"><rect x="1281.6" y="149.90" width="4.6" height="106.04" fill="url(#g3a0)"/><rect x="1285.6" y="149.90" width="4.6" height="106.04" fill="url(#g3a1)"/><rect x="1289.6" y="149.90" width="4.6" height="106.04" fill="url(#g3a2)"/><rect x="1293.6" y="149.90" width="4.6" height="106.04" fill="url(#g3a3)"/><rect x="1297.6" y="149.90" width="4.6" height="106.04" fill="url(#g3a4)"/><rect x="1301.6" y="149.90" width="4.6" height="106.04" fill="url(#g3a5)"/><rect x="1305.6" y="149.90" width="4.6" height="106.04" fill="url(#g3a6)"/><rect x="1309.6" y="149.90" width="4.6" height="106.04" fill="url(#g3a7)"/><rect x="1313.6" y="149.90" width="4.6" height="106.04" fill="url(#g3a8)"/><rect x="1317.6" y="149.90" width="4.6" height="106.04" fill="url(#g3a9)"/><rect x="1321.6" y="149.90" width="4.6" height="106.04" fill="url(#g3a10)"/><rect x="1325.6" y="149.90" width="4.6" height="106.04" fill="url(#g3a11)"/><rect x="1329.6" y="149.90" width="4.6" height="106.04" fill="url(#g3a12)"/><rect x="1333.6" y="149.90" width="4.6" height="106.04" fill="url(#g3a13)"/><rect x="1337.6" y="149.90" width="4.6" height="106.04" fill="url(#g3a14)"/><rect x="1341.6" y="149.90" width="4.6" height="106.04" fill="url(#g3a15)"/><rect x="1345.6" y="149.90" width="4.6" height="106.04" fill="url(#g3a16)"/><rect x="1349.6" y="149.90" width="4.6" height="106.04" fill="url(#g3a17)"/><rect x="1353.6" y="149.90" width="4.6" height="106.04" fill="url(#g3a18)"/><rect x="1357.6" y="149.90" width="4.6" height="106.04" fill="url(#g3a19)"/><rect x="1361.6" y="149.90" width="4.6" height="106.04" fill="url(#g3a20)"/><rect x="1365.6" y="149.90" width="4.6" height="106.04" fill="url(#g3a21)"/><rect x="1369.6" y="149.90" width="4.6" height="106.04" fill="url(#g3a22)"/><rect x="1373.6" y="149.90" width="4.6" height="106.04" fill="url(#g3a23)"/><rect x="1377.6" y="149.90" width="4.6" height="106.04" fill="url(#g3a24)"/><rect x="1381.6" y="149.90" width="4.6" height="106.04" fill="url(#g3a25)"/><rect x="1385.6" y="149.90" width="4.6" height="106.04" fill="url(#g3a26)"/><rect x="1389.6" y="149.90" width="4.6" height="106.04" fill="url(#g3a27)"/><rect x="1393.6" y="149.90" width="4.6" height="106.04" fill="url(#g3a28)"/><rect x="1397.6" y="149.90" width="4.6" height="106.04" fill="url(#g3a29)"/><rect x="1401.6" y="149.90" width="4.6" height="106.04" fill="url(#g3a30)"/><rect x="1405.6" y="149.90" width="4.6" height="106.04" fill="url(#g3a31)"/><rect x="1409.6" y="149.90" width="4.6" height="106.04" fill="url(#g3a32)"/><rect x="1413.6" y="149.90" width="4.6" height="106.04" fill="url(#g3a33)"/><rect x="1417.6" y="149.90" width="4.6" height="106.04" fill="url(#g3a34)"/><rect x="1421.6" y="149.90" width="4.6" height="106.04" fill="url(#g3a35)"/><rect x="1425.6" y="149.90" width="4.6" height="106.04" fill="url(#g3a36)"/><rect x="1429.6" y="149.90" width="4.6" height="106.04" fill="url(#g3a37)"/><rect x="1433.6" y="149.90" width="4.6" height="106.04" fill="url(#g3a38)"/><rect x="1437.6" y="149.90" width="4.6" height="106.04" fill="url(#g3a39)"/><rect x="1441.6" y="149.90" width="4.6" height="106.04" fill="url(#g3a40)"/><rect x="1445.6" y="149.90" width="4.6" height="106.04" fill="url(#g3a41)"/><rect x="1449.6" y="149.90" width="4.6" height="106.04" fill="url(#g3a42)"/><rect x="1453.6" y="149.90" width="4.6" height="106.04" fill="url(#g3a43)"/><rect x="1457.6" y="149.90" width="4.6" height="106.04" fill="url(#g3a44)"/><rect x="1461.6" y="149.90" width="4.6" height="106.04" fill="url(#g3a45)"/><rect x="1465.6" y="149.90" width="4.6" height="106.04" fill="url(#g3a46)"/><rect x="1469.6" y="149.90" width="4.6" height="106.04" fill="url(#g3a47)"/><rect x="1473.6" y="149.90" width="4.6" height="106.04" fill="url(#g3a48)"/><rect x="1477.6" y="149.90" width="4.6" height="106.04" fill="url(#g3a49)"/><rect x="1481.6" y="149.90" width="4.6" height="106.04" fill="url(#g3a50)"/><rect x="1485.6" y="149.90" width="4.6" height="106.04" fill="url(#g3a51)"/><rect x="1489.6" y="149.90" width="4.6" height="106.04" fill="url(#g3a52)"/><rect x="1493.6" y="149.90" width="4.6" height="106.04" fill="url(#g3a53)"/><rect x="1497.6" y="149.90" width="4.6" height="106.04" fill="url(#g3a54)"/><rect x="1501.6" y="149.90" width="4.6" height="106.04" fill="url(#g3a55)"/><rect x="1505.6" y="149.90" width="4.6" height="106.04" fill="url(#g3a56)"/><rect x="1509.6" y="149.90" width="4.6" height="106.04" fill="url(#g3a57)"/></g><g filter="url(#fb3b)"><rect x="1281.6" y="255.14" width="60.6" height="421.96" fill="url(#g3b0)"/><rect x="1341.6" y="255.14" width="60.6" height="421.96" fill="url(#g3b1)"/><rect x="1401.6" y="255.14" width="60.6" height="421.96" fill="url(#g3b2)"/><rect x="1461.6" y="255.14" width="52.6" height="421.96" fill="url(#g3b3)"/></g></g>
<clipPath id="cc3"><rect x="1189.6" y="149.9" width="312.0" height="527.2"/></clipPath>
<g clip-path="url(#cc3)">
<path class="th" d="M1326.8 162.6C1331.2 162.0 1330.6 162.1 1340.0 160.9C1349.4 159.7 1345.7 160.1 1355.0 159.0C1364.3 157.9 1360.1 158.4 1368.0 157.6C1375.9 156.8 1375.1 157.0 1378.6 156.7M1351.9 150.6C1352.9 150.5 1352.8 150.4 1355.0 150.2C1357.2 150.0 1357.4 150.1 1358.6 150.0M1293.8 165.9C1296.9 166.2 1296.5 166.0 1303.0 166.8C1309.5 167.6 1307.1 167.3 1313.4 168.4C1319.7 169.5 1317.3 169.1 1322.0 170.2C1326.7 171.3 1325.3 170.8 1327.5 171.8C1329.7 172.8 1329.0 172.1 1328.5 173.2C1328.0 174.3 1328.2 173.8 1326.0 175.0C1323.8 176.2 1325.8 175.7 1321.8 176.8C1317.8 177.9 1319.6 177.5 1314.0 178.3C1308.4 179.1 1311.7 178.7 1305.0 179.3C1298.3 179.9 1297.5 179.8 1293.8 180.1M1294.5 171.0C1295.0 171.1 1296.0 171.1 1296.0 171.4C1296.0 171.7 1295.0 171.8 1294.5 172.0M1293.8 185.1C1296.9 185.4 1296.5 185.2 1303.0 186.0C1309.5 186.8 1305.7 186.1 1313.4 187.6C1321.1 189.1 1317.6 188.4 1326.0 190.4C1334.4 192.4 1330.2 191.4 1338.5 193.5C1346.8 195.6 1342.6 194.7 1351.0 196.6C1359.4 198.5 1355.3 197.9 1363.6 199.3C1371.9 200.7 1367.7 200.1 1376.0 200.7C1384.3 201.3 1381.3 201.2 1388.6 201.0C1395.9 200.8 1391.9 201.0 1398.0 200.2C1404.1 199.4 1402.2 199.6 1407.0 198.5C1411.8 197.4 1409.4 197.9 1412.5 196.8C1415.6 195.7 1415.0 195.7 1416.2 195.2M1293.8 218.2C1298.2 217.1 1297.7 216.9 1307.0 214.9C1316.3 212.9 1310.1 213.6 1321.8 212.2C1333.5 210.8 1328.1 211.6 1342.0 210.8C1355.9 210.0 1347.6 210.6 1363.6 209.9C1379.6 209.2 1373.3 209.5 1390.0 208.8C1406.7 208.1 1405.8 208.1 1413.7 207.7M1456.3 175.6C1458.9 174.7 1458.7 174.5 1464.0 172.9C1469.3 171.3 1465.2 172.4 1472.2 170.9C1479.2 169.4 1476.6 169.9 1485.0 168.4C1493.4 166.9 1493.2 167.1 1497.3 166.4M1293.8 158.6L1299.0 158.3M1303.0 158.0L1309.0 157.6"/>
<path class="tk" d="M1293.8 156.2C1296.5 155.9 1296.9 156.1 1302.0 155.2C1307.1 154.3 1304.3 154.8 1309.0 153.4C1313.7 152.0 1313.7 151.7 1316.0 150.9M1482.2 231.9C1480.1 230.6 1481.0 230.2 1476.0 228.0C1471.0 225.8 1473.5 226.7 1467.2 225.2C1460.9 223.7 1463.7 224.4 1457.0 223.4C1450.3 222.4 1456.1 222.9 1447.1 222.2C1438.1 221.5 1441.1 221.7 1430.0 221.3C1418.9 220.9 1424.7 220.9 1413.7 221.1C1402.7 221.3 1408.1 221.1 1397.0 221.8C1385.9 222.5 1391.6 221.8 1380.3 223.1C1369.0 224.4 1374.1 223.8 1363.0 225.6C1351.9 227.4 1355.6 226.6 1346.9 228.6C1338.2 230.6 1345.8 229.3 1336.8 231.7C1327.8 234.1 1330.6 233.2 1320.0 235.8C1309.4 238.4 1311.5 237.7 1305.0 239.4C1298.5 241.1 1302.5 239.8 1300.5 241.0C1298.5 242.2 1299.4 241.6 1299.0 243.0C1298.6 244.4 1299.3 244.5 1299.4 245.2M1310.8 271.1C1310.0 272.1 1310.4 272.1 1308.5 274.0C1306.6 275.9 1308.5 274.3 1305.0 276.8C1301.5 279.3 1301.7 278.5 1298.0 281.5C1294.3 284.5 1294.8 283.3 1294.0 285.8C1293.2 288.3 1293.2 286.7 1295.5 289.0C1297.8 291.3 1296.2 289.8 1301.0 292.7C1305.8 295.6 1303.7 294.2 1310.0 297.8C1316.3 301.4 1312.3 299.2 1320.0 303.5C1327.7 307.8 1325.3 306.6 1333.0 310.8C1340.7 315.0 1338.4 313.5 1343.0 316.2C1347.6 318.9 1345.8 316.9 1346.8 319.0C1347.8 321.1 1347.7 319.9 1346.0 322.5C1344.3 325.1 1345.1 323.4 1341.8 326.9C1338.5 330.4 1339.9 328.5 1336.0 333.0C1332.1 337.5 1334.0 335.1 1330.0 340.3C1326.0 345.5 1327.9 342.9 1324.0 348.5C1320.1 354.1 1321.4 352.5 1318.4 357.0C1315.4 361.5 1316.5 358.7 1315.0 362.0C1313.5 365.3 1314.3 363.0 1314.0 367.0C1313.7 371.0 1313.5 369.5 1314.2 374.0C1314.9 378.5 1314.6 377.1 1316.0 380.4C1317.4 383.7 1316.6 381.8 1318.5 384.0C1320.4 386.2 1320.7 386.0 1321.8 387.0M1348.5 398.8C1351.0 399.5 1351.5 399.3 1356.0 401.0C1360.5 402.7 1360.1 402.0 1361.9 403.8C1363.7 405.6 1363.2 404.6 1361.5 406.3C1359.8 408.0 1362.7 406.1 1356.9 408.8C1351.1 411.5 1353.0 410.4 1344.0 414.3C1335.0 418.2 1338.3 416.5 1330.0 420.5C1321.7 424.5 1325.7 422.7 1319.0 426.3C1312.3 429.9 1316.0 428.3 1310.0 431.2C1304.0 434.1 1306.4 433.0 1301.0 435.0C1295.6 437.0 1296.2 436.5 1293.8 437.2"/>
<text class="c3" transform="translate(1327.5 154.3) rotate(-7)" y="8.0">-0.1</text>
<text class="c3" transform="translate(1397.4 176.8) rotate(50)" y="8.0">-0.2</text>
<text class="c3" transform="translate(1433.6 189.6) rotate(-45)" y="8.0">-0.1</text>
<text class="c3" font-style="italic" transform="translate(1304.7 257.9) rotate(55)" y="8.0">0</text>
<text class="c3" font-style="italic" transform="translate(1334.9 393.0) rotate(9)" y="8.0">0</text>
</g>
<polygon points="1501.6,149.9 1490.5,203.3 1477.3,255.5 1476.0,260.6 1472.1,290.6 1468.5,322.6 1457.7,400.6 1448.4,473.3 1437.1,558.1 1427.0,624.6 1422.0,677.1 1501.6,677.1" fill="#696969" stroke="#000" stroke-width="1.1" stroke-linejoin="miter"/>
<path d="M1181.6 149.90H1189.6M1501.6 149.90h7.6M1181.6 202.62H1189.6M1501.6 202.62h7.6M1181.6 255.34H1189.6M1501.6 255.34h7.6M1181.6 308.06H1189.6M1501.6 308.06h7.6M1181.6 360.78H1189.6M1501.6 360.78h7.6M1181.6 413.50H1189.6M1501.6 413.50h7.6M1181.6 466.22H1189.6M1501.6 466.22h7.6M1181.6 518.94H1189.6M1501.6 518.94h7.6M1181.6 571.66H1189.6M1501.6 571.66h7.6M1181.6 624.38H1189.6M1501.6 624.38h7.6M1181.6 677.10H1189.6M1501.6 677.10h7.6M1189.60 677.1v8.6M1241.60 677.1v8.6M1293.60 677.1v8.6M1345.60 677.1v8.6M1397.60 677.1v8.6M1449.60 677.1v8.6M1501.60 677.1v8.6" stroke="#000" stroke-width="1.1" fill="none"/>
<text class="tl" x="1179.0" y="159.0" text-anchor="end">0</text>
<text class="tl" x="1179.0" y="211.7" text-anchor="end">50</text>
<text class="tl" x="1179.0" y="264.4" text-anchor="end">100</text>
<text class="tl" x="1179.0" y="317.2" text-anchor="end">150</text>
<text class="tl" x="1179.0" y="369.9" text-anchor="end">200</text>
<text class="tl" x="1179.0" y="422.6" text-anchor="end">250</text>
<text class="tl" x="1179.0" y="475.3" text-anchor="end">300</text>
<text class="tl" x="1179.0" y="528.0" text-anchor="end">350</text>
<text class="tl" x="1179.0" y="580.8" text-anchor="end">400</text>
<text class="tl" x="1179.0" y="633.5" text-anchor="end">450</text>
<text class="tl" x="1179.0" y="686.2" text-anchor="end">500</text>
<text class="tl" x="1189.6" y="709.0" text-anchor="middle">60</text>
<text class="tl" x="1241.6" y="709.0" text-anchor="middle">50</text>
<text class="tl" x="1293.6" y="709.0" text-anchor="middle">40</text>
<text class="tl" x="1345.6" y="709.0" text-anchor="middle">30</text>
<text class="tl" x="1397.6" y="709.0" text-anchor="middle">20</text>
<text class="tl" x="1449.6" y="709.0" text-anchor="middle">10</text>
<text class="tl" x="1501.6" y="709.0" text-anchor="middle">0</text>
</g>
<g id="p5">
<rect x="1564.70" y="149.50" width="312.00" height="527.40" fill="#fff" stroke="#000" stroke-width="2.7" stroke-linejoin="round"/>
<defs><linearGradient id="g4a0" gradientUnits="userSpaceOnUse" x1="0" y1="149.50" x2="0" y2="292.37"><stop offset="0" stop-color="#ffb000"/><stop offset=".092" stop-color="#ffae00"/><stop offset=".148" stop-color="#ffb500"/><stop offset=".324" stop-color="#ffe400"/><stop offset=".366" stop-color="#fdfa02"/><stop offset=".38" stop-color="#eaf80f"/><stop offset=".387" stop-color="#cff318"/><stop offset=".401" stop-color="#65da32"/><stop offset=".408" stop-color="#41d144"/><stop offset=".423" stop-color="#30cd65"/><stop offset=".43" stop-color="#2bcd80"/><stop offset=".437" stop-color="#11cdc2"/><stop offset=".444" stop-color="#00ccf1"/><stop offset=".458" stop-color="#00bfff"/><stop offset=".472" stop-color="#09f"/><stop offset=".486" stop-color="#003dff"/><stop offset=".507" stop-color="#081dff"/><stop offset=".535" stop-color="#1000ff"/><stop offset=".577" stop-color="#2400ff"/><stop offset=".662" stop-color="#6700ff"/><stop offset=".866" stop-color="#e300ff"/><stop offset=".915" stop-color="#f900ff"/><stop offset="1" stop-color="#fa01ff"/></linearGradient><linearGradient id="g4a1" gradientUnits="userSpaceOnUse" x1="0" y1="149.50" x2="0" y2="292.37"><stop offset="0" stop-color="#ffb000"/><stop offset=".092" stop-color="#ffae00"/><stop offset=".148" stop-color="#ffb500"/><stop offset=".324" stop-color="#ffe400"/><stop offset=".366" stop-color="#fdfa02"/><stop offset=".38" stop-color="#eaf80f"/><stop offset=".387" stop-color="#cff318"/><stop offset=".401" stop-color="#65da32"/><stop offset=".408" stop-color="#41d144"/><stop offset=".423" stop-color="#30cd65"/><stop offset=".43" stop-color="#2bcd80"/><stop offset=".437" stop-color="#11cdc2"/><stop offset=".444" stop-color="#00ccf1"/><stop offset=".458" stop-color="#00bfff"/><stop offset=".472" stop-color="#09f"/><stop offset=".486" stop-color="#003dff"/><stop offset=".507" stop-color="#081dff"/><stop offset=".535" stop-color="#1000ff"/><stop offset=".577" stop-color="#2400ff"/><stop offset=".662" stop-color="#6700ff"/><stop offset=".866" stop-color="#e300ff"/><stop offset=".915" stop-color="#f900ff"/><stop offset="1" stop-color="#fa01ff"/></linearGradient><linearGradient id="g4a2" gradientUnits="userSpaceOnUse" x1="0" y1="149.50" x2="0" y2="292.37"><stop offset="0" stop-color="#ffb000"/><stop offset=".092" stop-color="#ffae00"/><stop offset=".148" stop-color="#ffb500"/><stop offset=".324" stop-color="#ffe400"/><stop offset=".366" stop-color="#fdfa02"/><stop offset=".38" stop-color="#eaf80f"/><stop offset=".387" stop-color="#cff318"/><stop offset=".401" stop-color="#65da32"/><stop offset=".408" stop-color="#41d144"/><stop offset=".423" stop-color="#30cd65"/><stop offset=".43" stop-color="#2bcd80"/><stop offset=".437" stop-color="#11cdc2"/><stop offset=".444" stop-color="#00ccf1"/><stop offset=".458" stop-color="#00bfff"/><stop offset=".472" stop-color="#09f"/><stop offset=".486" stop-color="#003dff"/><stop offset=".507" stop-color="#081dff"/><stop offset=".535" stop-color="#1000ff"/><stop offset=".577" stop-color="#2400ff"/><stop offset=".662" stop-color="#6700ff"/><stop offset=".866" stop-color="#e300ff"/><stop offset=".915" stop-color="#f900ff"/><stop offset="1" stop-color="#fa01ff"/></linearGradient><linearGradient id="g4a3" gradientUnits="userSpaceOnUse" x1="0" y1="149.50" x2="0" y2="292.37"><stop offset="0" stop-color="#ffae00"/><stop offset=".141" stop-color="#ffb300"/><stop offset=".331" stop-color="#ffe800"/><stop offset=".359" stop-color="#fff800"/><stop offset=".38" stop-color="#e8f811"/><stop offset=".387" stop-color="#c9f21a"/><stop offset=".401" stop-color="#5fd834"/><stop offset=".408" stop-color="#40d145"/><stop offset=".423" stop-color="#30cd67"/><stop offset=".43" stop-color="#2acd82"/><stop offset=".437" stop-color="#0ecdc9"/><stop offset=".444" stop-color="#00cbf1"/><stop offset=".458" stop-color="#00bdff"/><stop offset=".472" stop-color="#0098ff"/><stop offset=".486" stop-color="#003bff"/><stop offset=".528" stop-color="#0f02ff"/><stop offset=".57" stop-color="#20f"/><stop offset=".662" stop-color="#6a00ff"/><stop offset=".859" stop-color="#e200ff"/><stop offset=".915" stop-color="#fa00ff"/><stop offset="1" stop-color="#fa02ff"/></linearGradient><linearGradient id="g4a4" gradientUnits="userSpaceOnUse" x1="0" y1="149.50" x2="0" y2="292.37"><stop offset="0" stop-color="#ffa700"/><stop offset=".134" stop-color="#ffb000"/><stop offset=".352" stop-color="#fcf903"/><stop offset=".373" stop-color="#e9f810"/><stop offset=".38" stop-color="#d5f417"/><stop offset=".394" stop-color="#7ee02a"/><stop offset=".401" stop-color="#47d23d"/><stop offset=".415" stop-color="#34ce59"/><stop offset=".43" stop-color="#28cd8b"/><stop offset=".437" stop-color="#03cde4"/><stop offset=".444" stop-color="#00cbf4"/><stop offset=".451" stop-color="#00c8fd"/><stop offset=".472" stop-color="#008bff"/><stop offset=".479" stop-color="#0056ff"/><stop offset=".486" stop-color="#0235ff"/><stop offset=".521" stop-color="#0f01ff"/><stop offset=".563" stop-color="#2700ff"/><stop offset=".655" stop-color="#7300ff"/><stop offset=".845" stop-color="#e100ff"/><stop offset=".908" stop-color="#fa01ff"/><stop offset="1" stop-color="#fb05ff"/></linearGradient><linearGradient id="g4a5" gradientUnits="userSpaceOnUse" x1="0" y1="149.50" x2="0" y2="292.37"><stop offset="0" stop-color="#ffa000"/><stop offset=".12" stop-color="#fa0"/><stop offset=".183" stop-color="#ffc000"/><stop offset=".296" stop-color="#fff500"/><stop offset=".352" stop-color="#f1f90b"/><stop offset=".366" stop-color="#e4f813"/><stop offset=".373" stop-color="#cff318"/><stop offset=".387" stop-color="#8be326"/><stop offset=".394" stop-color="#5ad735"/><stop offset=".401" stop-color="#41d144"/><stop offset=".415" stop-color="#31cd61"/><stop offset=".423" stop-color="#2ccd7b"/><stop offset=".43" stop-color="#1ccda9"/><stop offset=".437" stop-color="#0ce"/><stop offset=".451" stop-color="#00c6ff"/><stop offset=".465" stop-color="#00a0ff"/><stop offset=".472" stop-color="#007dff"/><stop offset=".479" stop-color="#0048ff"/><stop offset=".486" stop-color="#0330ff"/><stop offset=".514" stop-color="#0f02ff"/><stop offset=".549" stop-color="#2400ff"/><stop offset=".648" stop-color="#7c00ff"/><stop offset=".831" stop-color="#e000ff"/><stop offset=".894" stop-color="#f900ff"/><stop offset="1" stop-color="#fb06ff"/></linearGradient><linearGradient id="g4a6" gradientUnits="userSpaceOnUse" x1="0" y1="149.50" x2="0" y2="292.37"><stop offset="0" stop-color="#f90"/><stop offset=".12" stop-color="#ffa800"/><stop offset=".282" stop-color="#fff800"/><stop offset=".345" stop-color="#eaf80f"/><stop offset=".359" stop-color="#d9f516"/><stop offset=".366" stop-color="#c4f01b"/><stop offset=".38" stop-color="#8be326"/><stop offset=".394" stop-color="#44d140"/><stop offset=".408" stop-color="#35ce58"/><stop offset=".423" stop-color="#2acd84"/><stop offset=".43" stop-color="#0fcdc8"/><stop offset=".437" stop-color="#00ccf1"/><stop offset=".451" stop-color="#00c1ff"/><stop offset=".465" stop-color="#009cff"/><stop offset=".479" stop-color="#003dff"/><stop offset=".5" stop-color="#0b11ff"/><stop offset=".514" stop-color="#10f"/><stop offset=".542" stop-color="#2500ff"/><stop offset=".634" stop-color="#7e00ff"/><stop offset=".739" stop-color="#b000ff"/><stop offset=".824" stop-color="#e200ff"/><stop offset=".887" stop-color="#fa00ff"/><stop offset="1" stop-color="#fb07ff"/></linearGradient><linearGradient id="g4a7" gradientUnits="userSpaceOnUse" x1="0" y1="149.50" x2="0" y2="292.37"><stop offset="0" stop-color="#ff9100"/><stop offset=".134" stop-color="#ffac00"/><stop offset=".268" stop-color="#fef901"/><stop offset=".338" stop-color="#e4f813"/><stop offset=".359" stop-color="#b8ee1d"/><stop offset=".373" stop-color="#8ae327"/><stop offset=".387" stop-color="#46d23e"/><stop offset=".408" stop-color="#31cd61"/><stop offset=".423" stop-color="#24cd95"/><stop offset=".43" stop-color="#02cde7"/><stop offset=".437" stop-color="#00cbf4"/><stop offset=".444" stop-color="#00c9fc"/><stop offset=".465" stop-color="#0098ff"/><stop offset=".479" stop-color="#0138ff"/><stop offset=".507" stop-color="#0f01ff"/><stop offset=".535" stop-color="#2300ff"/><stop offset=".599" stop-color="#6d00ff"/><stop offset=".627" stop-color="#8500ff"/><stop offset=".732" stop-color="#b100ff"/><stop offset=".81" stop-color="#df00ff"/><stop offset=".88" stop-color="#fa01ff"/><stop offset="1" stop-color="#fb07ff"/></linearGradient><linearGradient id="g4a8" gradientUnits="userSpaceOnUse" x1="0" y1="149.50" x2="0" y2="292.37"><stop offset="0" stop-color="#ff8a00"/><stop offset=".134" stop-color="#ffab00"/><stop offset=".254" stop-color="#fef901"/><stop offset=".324" stop-color="#e0f715"/><stop offset=".338" stop-color="#c9f21a"/><stop offset=".359" stop-color="#99e623"/><stop offset=".366" stop-color="#85e228"/><stop offset=".38" stop-color="#4bd33b"/><stop offset=".401" stop-color="#34cd59"/><stop offset=".408" stop-color="#2fcd6c"/><stop offset=".415" stop-color="#2acd82"/><stop offset=".43" stop-color="#0ce"/><stop offset=".444" stop-color="#00c8fe"/><stop offset=".458" stop-color="#00a4ff"/><stop offset=".465" stop-color="#008dff"/><stop offset=".472" stop-color="#05f"/><stop offset=".479" stop-color="#0234ff"/><stop offset=".507" stop-color="#10f"/><stop offset=".528" stop-color="#2100ff"/><stop offset=".599" stop-color="#7a00ff"/><stop offset=".641" stop-color="#9700ff"/><stop offset=".725" stop-color="#b000ff"/><stop offset=".803" stop-color="#e000ff"/><stop offset=".866" stop-color="#fa00ff"/><stop offset="1" stop-color="#fb06ff"/></linearGradient><linearGradient id="g4a9" gradientUnits="userSpaceOnUse" x1="0" y1="149.50" x2="0" y2="292.37"><stop offset="0" stop-color="#ff8200"/><stop offset=".127" stop-color="#ffa600"/><stop offset=".246" stop-color="#fcfa02"/><stop offset=".303" stop-color="#e3f813"/><stop offset=".324" stop-color="#c3f01b"/><stop offset=".352" stop-color="#88e227"/><stop offset=".373" stop-color="#47d23e"/><stop offset=".401" stop-color="#30cd65"/><stop offset=".415" stop-color="#25cd93"/><stop offset=".423" stop-color="#06cdde"/><stop offset=".43" stop-color="#00cbf2"/><stop offset=".444" stop-color="#00c2ff"/><stop offset=".458" stop-color="#009fff"/><stop offset=".465" stop-color="#007dff"/><stop offset=".472" stop-color="#0047ff"/><stop offset=".479" stop-color="#032fff"/><stop offset=".5" stop-color="#0e04ff"/><stop offset=".507" stop-color="#1300ff"/><stop offset=".528" stop-color="#2600ff"/><stop offset=".592" stop-color="#7e00ff"/><stop offset=".634" stop-color="#9d00ff"/><stop offset=".718" stop-color="#af00ff"/><stop offset=".796" stop-color="#e000ff"/><stop offset=".852" stop-color="#f800ff"/><stop offset=".915" stop-color="#fc08ff"/><stop offset="1" stop-color="#fb05ff"/></linearGradient><linearGradient id="g4a10" gradientUnits="userSpaceOnUse" x1="0" y1="149.50" x2="0" y2="292.37"><stop offset="0" stop-color="#ff7900"/><stop offset=".127" stop-color="#ffa400"/><stop offset=".232" stop-color="#fdfa01"/><stop offset=".289" stop-color="#e1f714"/><stop offset=".317" stop-color="#b2ec1e"/><stop offset=".338" stop-color="#86e228"/><stop offset=".359" stop-color="#4ad33c"/><stop offset=".394" stop-color="#30cd64"/><stop offset=".408" stop-color="#29cd87"/><stop offset=".423" stop-color="#0ce"/><stop offset=".437" stop-color="#00c9fd"/><stop offset=".458" stop-color="#09f"/><stop offset=".472" stop-color="#003aff"/><stop offset=".5" stop-color="#0f01ff"/><stop offset=".521" stop-color="#2100ff"/><stop offset=".585" stop-color="#8100ff"/><stop offset=".627" stop-color="#a300ff"/><stop offset=".662" stop-color="#ad00ff"/><stop offset=".718" stop-color="#b000ff"/><stop offset=".789" stop-color="#e100ff"/><stop offset=".845" stop-color="#f900ff"/><stop offset=".915" stop-color="#fc0aff"/><stop offset="1" stop-color="#fb04ff"/></linearGradient><linearGradient id="g4a11" gradientUnits="userSpaceOnUse" x1="0" y1="149.50" x2="0" y2="292.37"><stop offset="0" stop-color="#ff7000"/><stop offset=".127" stop-color="#ffa700"/><stop offset=".218" stop-color="#fef901"/><stop offset=".275" stop-color="#dff715"/><stop offset=".324" stop-color="#84e128"/><stop offset=".345" stop-color="#4cd33b"/><stop offset=".387" stop-color="#30cd63"/><stop offset=".401" stop-color="#2acd81"/><stop offset=".408" stop-color="#1fcda2"/><stop offset=".415" stop-color="#03cde3"/><stop offset=".423" stop-color="#00cbf1"/><stop offset=".437" stop-color="#00c6ff"/><stop offset=".451" stop-color="#00a4ff"/><stop offset=".458" stop-color="#008fff"/><stop offset=".465" stop-color="#0059ff"/><stop offset=".472" stop-color="#0235ff"/><stop offset=".5" stop-color="#1200ff"/><stop offset=".521" stop-color="#2500ff"/><stop offset=".585" stop-color="#8b00ff"/><stop offset=".627" stop-color="#ac00ff"/><stop offset=".662" stop-color="#b600ff"/><stop offset=".718" stop-color="#b900ff"/><stop offset=".782" stop-color="#e100ff"/><stop offset=".838" stop-color="#fa01ff"/><stop offset=".908" stop-color="#fc0cff"/><stop offset="1" stop-color="#fb06ff"/></linearGradient><linearGradient id="g4a12" gradientUnits="userSpaceOnUse" x1="0" y1="149.50" x2="0" y2="292.37"><stop offset="0" stop-color="#ff6700"/><stop offset=".12" stop-color="#ffa700"/><stop offset=".211" stop-color="#fdfa02"/><stop offset=".261" stop-color="#ddf615"/><stop offset=".31" stop-color="#83e128"/><stop offset=".331" stop-color="#4dd43a"/><stop offset=".338" stop-color="#44d13f"/><stop offset=".373" stop-color="#33cd5a"/><stop offset=".387" stop-color="#2ecd71"/><stop offset=".401" stop-color="#26cd90"/><stop offset=".408" stop-color="#0fcdc7"/><stop offset=".415" stop-color="#0ce"/><stop offset=".43" stop-color="#00c9fb"/><stop offset=".451" stop-color="#009fff"/><stop offset=".458" stop-color="#007dff"/><stop offset=".465" stop-color="#0048ff"/><stop offset=".472" stop-color="#0330ff"/><stop offset=".493" stop-color="#0e04ff"/><stop offset=".5" stop-color="#1400ff"/><stop offset=".521" stop-color="#2c00ff"/><stop offset=".577" stop-color="#8b00ff"/><stop offset=".627" stop-color="#b500ff"/><stop offset=".718" stop-color="#c600ff"/><stop offset=".824" stop-color="#f900ff"/><stop offset=".908" stop-color="#fd10ff"/><stop offset="1" stop-color="#fc09ff"/></linearGradient><linearGradient id="g4a13" gradientUnits="userSpaceOnUse" x1="0" y1="149.50" x2="0" y2="292.37"><stop offset="0" stop-color="#ff5c00"/><stop offset=".106" stop-color="#ff9f00"/><stop offset=".197" stop-color="#fef901"/><stop offset=".239" stop-color="#e4f813"/><stop offset=".296" stop-color="#81e129"/><stop offset=".317" stop-color="#4ed43a"/><stop offset=".324" stop-color="#44d23f"/><stop offset=".366" stop-color="#32cd5d"/><stop offset=".387" stop-color="#2bcd7e"/><stop offset=".394" stop-color="#27cd8e"/><stop offset=".408" stop-color="#01cde9"/><stop offset=".415" stop-color="#00cbf2"/><stop offset=".43" stop-color="#00c7fe"/><stop offset=".451" stop-color="#09f"/><stop offset=".465" stop-color="#003bff"/><stop offset=".493" stop-color="#1000ff"/><stop offset=".514" stop-color="#2400ff"/><stop offset=".577" stop-color="#9400ff"/><stop offset=".627" stop-color="#be00ff"/><stop offset=".718" stop-color="#d300ff"/><stop offset=".817" stop-color="#fa01ff"/><stop offset=".901" stop-color="#fe13ff"/><stop offset="1" stop-color="#fd0dff"/></linearGradient><linearGradient id="g4a14" gradientUnits="userSpaceOnUse" x1="0" y1="149.50" x2="0" y2="292.37"><stop offset="0" stop-color="#ff5000"/><stop offset=".092" stop-color="#ff9200"/><stop offset=".19" stop-color="#fdfa02"/><stop offset=".225" stop-color="#e4f813"/><stop offset=".282" stop-color="#7bdf2b"/><stop offset=".303" stop-color="#4dd43a"/><stop offset=".31" stop-color="#45d23f"/><stop offset=".352" stop-color="#33cd5a"/><stop offset=".38" stop-color="#2acd81"/><stop offset=".387" stop-color="#25cd92"/><stop offset=".401" stop-color="#02cde8"/><stop offset=".408" stop-color="#00cbf1"/><stop offset=".423" stop-color="#00c9fd"/><stop offset=".444" stop-color="#00a1ff"/><stop offset=".451" stop-color="#008bff"/><stop offset=".458" stop-color="#0058ff"/><stop offset=".465" stop-color="#0235ff"/><stop offset=".486" stop-color="#0d07ff"/><stop offset=".493" stop-color="#1200ff"/><stop offset=".514" stop-color="#2b00ff"/><stop offset=".57" stop-color="#9400ff"/><stop offset=".599" stop-color="#b400ff"/><stop offset=".627" stop-color="#c700ff"/><stop offset=".803" stop-color="#fa01ff"/><stop offset=".908" stop-color="#ff18ff"/><stop offset="1" stop-color="#fe12ff"/></linearGradient><linearGradient id="g4a15" gradientUnits="userSpaceOnUse" x1="0" y1="149.50" x2="0" y2="292.37"><stop offset="0" stop-color="#ff4300"/><stop offset=".021" stop-color="#ff4f00"/><stop offset=".077" stop-color="#ff8000"/><stop offset=".176" stop-color="#fff700"/><stop offset=".183" stop-color="#fbfa03"/><stop offset=".218" stop-color="#daf616"/><stop offset=".289" stop-color="#48d23d"/><stop offset=".345" stop-color="#31cd5f"/><stop offset=".373" stop-color="#29cd85"/><stop offset=".38" stop-color="#21cd9b"/><stop offset=".394" stop-color="#01cdea"/><stop offset=".401" stop-color="#00cbf1"/><stop offset=".423" stop-color="#00c2ff"/><stop offset=".444" stop-color="#0098ff"/><stop offset=".458" stop-color="#0041ff"/><stop offset=".486" stop-color="#0f02ff"/><stop offset=".507" stop-color="#2400ff"/><stop offset=".57" stop-color="#9c00ff"/><stop offset=".599" stop-color="#bc00ff"/><stop offset=".634" stop-color="#d300ff"/><stop offset=".789" stop-color="#fa02ff"/><stop offset=".923" stop-color="#ff26ff"/><stop offset=".958" stop-color="#ff25ff"/><stop offset="1" stop-color="#ff18ff"/></linearGradient><linearGradient id="g4a16" gradientUnits="userSpaceOnUse" x1="0" y1="149.50" x2="0" y2="292.37"><stop offset="0" stop-color="#ff3700"/><stop offset=".028" stop-color="#ff4800"/><stop offset=".085" stop-color="#ff8300"/><stop offset=".169" stop-color="#fff800"/><stop offset=".204" stop-color="#dcf615"/><stop offset=".268" stop-color="#4ad33c"/><stop offset=".331" stop-color="#31cd5f"/><stop offset=".366" stop-color="#26cd8f"/><stop offset=".38" stop-color="#09cdd6"/><stop offset=".387" stop-color="#00cced"/><stop offset=".415" stop-color="#00c3ff"/><stop offset=".437" stop-color="#009cff"/><stop offset=".444" stop-color="#007dff"/><stop offset=".451" stop-color="#004fff"/><stop offset=".458" stop-color="#0233ff"/><stop offset=".486" stop-color="#1200ff"/><stop offset=".507" stop-color="#2a00ff"/><stop offset=".528" stop-color="#5100ff"/><stop offset=".549" stop-color="#8200ff"/><stop offset=".57" stop-color="#a400ff"/><stop offset=".599" stop-color="#c500ff"/><stop offset=".634" stop-color="#dc00ff"/><stop offset=".768" stop-color="#f901ff"/><stop offset=".937" stop-color="#ff36ff"/><stop offset=".972" stop-color="#ff34ff"/><stop offset="1" stop-color="#ff28ff"/></linearGradient><linearGradient id="g4a17" gradientUnits="userSpaceOnUse" x1="0" y1="149.50" x2="0" y2="292.37"><stop offset="0" stop-color="#ff2a00"/><stop offset=".028" stop-color="#ff3c00"/><stop offset=".077" stop-color="#ff7500"/><stop offset=".162" stop-color="#fff800"/><stop offset=".169" stop-color="#f9fa05"/><stop offset=".19" stop-color="#e2f714"/><stop offset=".239" stop-color="#5dd834"/><stop offset=".254" stop-color="#45d23f"/><stop offset=".31" stop-color="#33cd5c"/><stop offset=".345" stop-color="#2acd80"/><stop offset=".352" stop-color="#28cd8b"/><stop offset=".359" stop-color="#1fcda2"/><stop offset=".373" stop-color="#03cde5"/><stop offset=".401" stop-color="#00c8fd"/><stop offset=".43" stop-color="#009dff"/><stop offset=".437" stop-color="#0083ff"/><stop offset=".444" stop-color="#0057ff"/><stop offset=".451" stop-color="#0137ff"/><stop offset=".479" stop-color="#0f01ff"/><stop offset=".5" stop-color="#2400ff"/><stop offset=".549" stop-color="#8a00ff"/><stop offset=".57" stop-color="#ad00ff"/><stop offset=".599" stop-color="#ce00ff"/><stop offset=".627" stop-color="#e100ff"/><stop offset=".754" stop-color="#fb03ff"/><stop offset=".824" stop-color="#ff17ff"/><stop offset=".894" stop-color="#ff3aff"/><stop offset=".944" stop-color="#ff48ff"/><stop offset=".972" stop-color="#ff49ff"/><stop offset="1" stop-color="#ff3eff"/></linearGradient><linearGradient id="g4a18" gradientUnits="userSpaceOnUse" x1="0" y1="149.50" x2="0" y2="292.37"><stop offset="0" stop-color="#fe2300"/><stop offset=".021" stop-color="#ff2900"/><stop offset=".056" stop-color="#ff5200"/><stop offset=".099" stop-color="#ff8e00"/><stop offset=".155" stop-color="#fff700"/><stop offset=".162" stop-color="#f9fa05"/><stop offset=".183" stop-color="#ddf615"/><stop offset=".218" stop-color="#6bdb30"/><stop offset=".232" stop-color="#49d33c"/><stop offset=".296" stop-color="#32cd5f"/><stop offset=".331" stop-color="#2acd82"/><stop offset=".338" stop-color="#27cd8c"/><stop offset=".345" stop-color="#1fcda2"/><stop offset=".359" stop-color="#05cddf"/><stop offset=".366" stop-color="#0ce"/><stop offset=".394" stop-color="#00c7fe"/><stop offset=".423" stop-color="#009cff"/><stop offset=".43" stop-color="#0083ff"/><stop offset=".437" stop-color="#005aff"/><stop offset=".444" stop-color="#0139ff"/><stop offset=".472" stop-color="#0e03ff"/><stop offset=".5" stop-color="#2c00ff"/><stop offset=".521" stop-color="#5100ff"/><stop offset=".549" stop-color="#9200ff"/><stop offset=".57" stop-color="#b600ff"/><stop offset=".599" stop-color="#d700ff"/><stop offset=".62" stop-color="#e500ff"/><stop offset=".732" stop-color="#fb04ff"/><stop offset=".81" stop-color="#ff19ff"/><stop offset=".873" stop-color="#ff3dff"/><stop offset=".937" stop-color="#ff57ff"/><stop offset=".972" stop-color="#ff5eff"/><stop offset="1" stop-color="#ff56ff"/></linearGradient><linearGradient id="g4a19" gradientUnits="userSpaceOnUse" x1="0" y1="149.50" x2="0" y2="292.37"><stop offset="0" stop-color="#fe1e00"/><stop offset=".028" stop-color="#ff2700"/><stop offset=".056" stop-color="#ff4800"/><stop offset=".099" stop-color="#ff8b00"/><stop offset=".148" stop-color="#fff300"/><stop offset=".155" stop-color="#fafa04"/><stop offset=".176" stop-color="#d9f516"/><stop offset=".211" stop-color="#57d636"/><stop offset=".218" stop-color="#47d23d"/><stop offset=".275" stop-color="#33cd5c"/><stop offset=".317" stop-color="#2acd84"/><stop offset=".324" stop-color="#26cd91"/><stop offset=".345" stop-color="#05cde0"/><stop offset=".352" stop-color="#0ce"/><stop offset=".38" stop-color="#00c9fc"/><stop offset=".415" stop-color="#009bff"/><stop offset=".423" stop-color="#0080ff"/><stop offset=".43" stop-color="#0059ff"/><stop offset=".437" stop-color="#0139ff"/><stop offset=".465" stop-color="#0e05ff"/><stop offset=".472" stop-color="#1300ff"/><stop offset=".493" stop-color="#2700ff"/><stop offset=".514" stop-color="#4c00ff"/><stop offset=".542" stop-color="#8e00ff"/><stop offset=".57" stop-color="#c000ff"/><stop offset=".592" stop-color="#db00ff"/><stop offset=".62" stop-color="#ed00ff"/><stop offset=".669" stop-color="#f901ff"/><stop offset=".782" stop-color="#ff17ff"/><stop offset=".915" stop-color="#ff5dff"/><stop offset=".972" stop-color="#ff72ff"/><stop offset="1" stop-color="#ff6fff"/></linearGradient><linearGradient id="g4a20" gradientUnits="userSpaceOnUse" x1="0" y1="149.50" x2="0" y2="292.37"><stop offset="0" stop-color="#fd1900"/><stop offset=".035" stop-color="#ff2600"/><stop offset=".056" stop-color="#ff3f00"/><stop offset=".099" stop-color="#ff8700"/><stop offset=".148" stop-color="#fefa01"/><stop offset=".169" stop-color="#d9f516"/><stop offset=".204" stop-color="#4dd43a"/><stop offset=".211" stop-color="#43d140"/><stop offset=".261" stop-color="#32cd5e"/><stop offset=".303" stop-color="#29cd86"/><stop offset=".31" stop-color="#24cd95"/><stop offset=".331" stop-color="#04cde2"/><stop offset=".338" stop-color="#0ce"/><stop offset=".373" stop-color="#00c6fe"/><stop offset=".408" stop-color="#0096ff"/><stop offset=".423" stop-color="#0054ff"/><stop offset=".43" stop-color="#0138ff"/><stop offset=".458" stop-color="#0e06ff"/><stop offset=".465" stop-color="#1200ff"/><stop offset=".486" stop-color="#2600ff"/><stop offset=".507" stop-color="#4a00ff"/><stop offset=".542" stop-color="#90f"/><stop offset=".57" stop-color="#cb00ff"/><stop offset=".592" stop-color="#e400ff"/><stop offset=".613" stop-color="#f200ff"/><stop offset=".648" stop-color="#fb03ff"/><stop offset=".761" stop-color="#ff19ff"/><stop offset=".887" stop-color="#ff5dff"/><stop offset=".972" stop-color="#ff80ff"/><stop offset="1" stop-color="#ff82ff"/></linearGradient><linearGradient id="g4a21" gradientUnits="userSpaceOnUse" x1="0" y1="149.50" x2="0" y2="292.37"><stop offset="0" stop-color="#fd1400"/><stop offset=".042" stop-color="#ff2500"/><stop offset=".056" stop-color="#ff3600"/><stop offset=".099" stop-color="#ff8400"/><stop offset=".141" stop-color="#fff100"/><stop offset=".148" stop-color="#f9fa05"/><stop offset=".162" stop-color="#dff715"/><stop offset=".19" stop-color="#5cd835"/><stop offset=".197" stop-color="#47d23d"/><stop offset=".246" stop-color="#32cd5f"/><stop offset=".289" stop-color="#29cd88"/><stop offset=".296" stop-color="#23cd98"/><stop offset=".317" stop-color="#03cde5"/><stop offset=".324" stop-color="#0ce"/><stop offset=".359" stop-color="#00c7fe"/><stop offset=".394" stop-color="#009dff"/><stop offset=".401" stop-color="#008cff"/><stop offset=".408" stop-color="#006dff"/><stop offset=".415" stop-color="#004bff"/><stop offset=".423" stop-color="#0235ff"/><stop offset=".451" stop-color="#0e05ff"/><stop offset=".458" stop-color="#1300ff"/><stop offset=".479" stop-color="#2600ff"/><stop offset=".5" stop-color="#4a00ff"/><stop offset=".535" stop-color="#9800ff"/><stop offset=".57" stop-color="#d700ff"/><stop offset=".606" stop-color="#f700ff"/><stop offset=".732" stop-color="#ff1bff"/><stop offset=".887" stop-color="#ff68ff"/><stop offset=".972" stop-color="#ff89ff"/><stop offset="1" stop-color="#ff8cff"/></linearGradient><linearGradient id="g4a22" gradientUnits="userSpaceOnUse" x1="0" y1="149.50" x2="0" y2="292.37"><stop offset="0" stop-color="#fc1000"/><stop offset=".035" stop-color="#fe1e00"/><stop offset=".056" stop-color="#ff2f00"/><stop offset=".099" stop-color="#ff8200"/><stop offset=".141" stop-color="#fef901"/><stop offset=".155" stop-color="#e5f812"/><stop offset=".183" stop-color="#59d736"/><stop offset=".19" stop-color="#44d23f"/><stop offset=".232" stop-color="#32cd5e"/><stop offset=".275" stop-color="#29cd87"/><stop offset=".282" stop-color="#23cd97"/><stop offset=".303" stop-color="#03cde5"/><stop offset=".31" stop-color="#0ce"/><stop offset=".345" stop-color="#00c7fe"/><stop offset=".387" stop-color="#0093ff"/><stop offset=".401" stop-color="#005aff"/><stop offset=".408" stop-color="#013eff"/><stop offset=".415" stop-color="#0330ff"/><stop offset=".444" stop-color="#0f03ff"/><stop offset=".451" stop-color="#1400ff"/><stop offset=".472" stop-color="#2800ff"/><stop offset=".493" stop-color="#4b00ff"/><stop offset=".528" stop-color="#9800ff"/><stop offset=".563" stop-color="#d700ff"/><stop offset=".599" stop-color="#fa01ff"/><stop offset=".711" stop-color="#ff21ff"/><stop offset=".908" stop-color="#ff7bff"/><stop offset=".972" stop-color="#ff90ff"/><stop offset="1" stop-color="#ff92ff"/></linearGradient><linearGradient id="g4a23" gradientUnits="userSpaceOnUse" x1="0" y1="149.50" x2="0" y2="292.37"><stop offset="0" stop-color="#fc0d00"/><stop offset=".056" stop-color="#ff2900"/><stop offset=".099" stop-color="#ff8100"/><stop offset=".134" stop-color="#fff100"/><stop offset=".141" stop-color="#f7f906"/><stop offset=".148" stop-color="#eaf810"/><stop offset=".155" stop-color="#cef319"/><stop offset=".176" stop-color="#5cd835"/><stop offset=".183" stop-color="#44d23f"/><stop offset=".218" stop-color="#33cd5b"/><stop offset=".261" stop-color="#29cd86"/><stop offset=".268" stop-color="#25cd92"/><stop offset=".289" stop-color="#04cde2"/><stop offset=".296" stop-color="#0ce"/><stop offset=".338" stop-color="#00c3ff"/><stop offset=".373" stop-color="#0098ff"/><stop offset=".387" stop-color="#0065ff"/><stop offset=".394" stop-color="#0048ff"/><stop offset=".401" stop-color="#0235ff"/><stop offset=".437" stop-color="#0f02ff"/><stop offset=".465" stop-color="#2900ff"/><stop offset=".486" stop-color="#4e00ff"/><stop offset=".521" stop-color="#9a00ff"/><stop offset=".556" stop-color="#d700ff"/><stop offset=".592" stop-color="#fa01ff"/><stop offset=".894" stop-color="#ff7fff"/><stop offset=".965" stop-color="#ff95ff"/><stop offset="1" stop-color="#ff96ff"/></linearGradient><linearGradient id="g4a24" gradientUnits="userSpaceOnUse" x1="0" y1="149.50" x2="0" y2="292.37"><stop offset="0" stop-color="#fb0a00"/><stop offset=".035" stop-color="#fd1800"/><stop offset=".063" stop-color="#ff3000"/><stop offset=".099" stop-color="#ff8100"/><stop offset=".134" stop-color="#fef901"/><stop offset=".148" stop-color="#dcf616"/><stop offset=".169" stop-color="#5fd834"/><stop offset=".176" stop-color="#44d23f"/><stop offset=".211" stop-color="#32cd5e"/><stop offset=".246" stop-color="#29cd85"/><stop offset=".254" stop-color="#26cd91"/><stop offset=".275" stop-color="#06cddd"/><stop offset=".282" stop-color="#00ccec"/><stop offset=".317" stop-color="#00c8fd"/><stop offset=".359" stop-color="#009bff"/><stop offset=".366" stop-color="#008bff"/><stop offset=".38" stop-color="#0052ff"/><stop offset=".387" stop-color="#013bff"/><stop offset=".43" stop-color="#1101ff"/><stop offset=".451" stop-color="#2100ff"/><stop offset=".479" stop-color="#4d00ff"/><stop offset=".514" stop-color="#9a00ff"/><stop offset=".549" stop-color="#d800ff"/><stop offset=".585" stop-color="#fa02ff"/><stop offset=".669" stop-color="#ff2fff"/><stop offset=".88" stop-color="#ff83ff"/><stop offset=".951" stop-color="#ff97ff"/><stop offset="1" stop-color="#f9f"/></linearGradient><linearGradient id="g4a25" gradientUnits="userSpaceOnUse" x1="0" y1="149.50" x2="0" y2="292.37"><stop offset="0" stop-color="#fb0900"/><stop offset=".035" stop-color="#fd1700"/><stop offset=".063" stop-color="#ff2e00"/><stop offset=".099" stop-color="#ff8200"/><stop offset=".127" stop-color="#ffea00"/><stop offset=".134" stop-color="#f8f905"/><stop offset=".141" stop-color="#e8f811"/><stop offset=".162" stop-color="#66da31"/><stop offset=".169" stop-color="#45d23e"/><stop offset=".204" stop-color="#31cd61"/><stop offset=".239" stop-color="#27cd8e"/><stop offset=".261" stop-color="#06cdde"/><stop offset=".268" stop-color="#00ccec"/><stop offset=".31" stop-color="#00c4ff"/><stop offset=".345" stop-color="#009dff"/><stop offset=".352" stop-color="#0090ff"/><stop offset=".366" stop-color="#005bff"/><stop offset=".373" stop-color="#0042ff"/><stop offset=".38" stop-color="#0233ff"/><stop offset=".423" stop-color="#1200ff"/><stop offset=".444" stop-color="#2100ff"/><stop offset=".472" stop-color="#4b00ff"/><stop offset=".507" stop-color="#90f"/><stop offset=".542" stop-color="#d900ff"/><stop offset=".577" stop-color="#fb04ff"/><stop offset=".662" stop-color="#ff39ff"/><stop offset=".866" stop-color="#ff87ff"/><stop offset=".944" stop-color="#ff9cff"/><stop offset="1" stop-color="#ff9bff"/></linearGradient><linearGradient id="g4a26" gradientUnits="userSpaceOnUse" x1="0" y1="149.50" x2="0" y2="292.37"><stop offset="0" stop-color="#fb0900"/><stop offset=".035" stop-color="#fd1700"/><stop offset=".063" stop-color="#ff2f00"/><stop offset=".099" stop-color="#f80"/><stop offset=".127" stop-color="#fff400"/><stop offset=".134" stop-color="#f1f90a"/><stop offset=".141" stop-color="#dbf616"/><stop offset=".162" stop-color="#4cd33a"/><stop offset=".169" stop-color="#41d144"/><stop offset=".225" stop-color="#29cd89"/><stop offset=".232" stop-color="#21cd9d"/><stop offset=".246" stop-color="#07cddb"/><stop offset=".254" stop-color="#01cdec"/><stop offset=".289" stop-color="#00c9fd"/><stop offset=".303" stop-color="#00beff"/><stop offset=".338" stop-color="#0093ff"/><stop offset=".352" stop-color="#0061ff"/><stop offset=".366" stop-color="#0137ff"/><stop offset=".408" stop-color="#0f02ff"/><stop offset=".437" stop-color="#20f"/><stop offset=".465" stop-color="#4a00ff"/><stop offset=".528" stop-color="#ce00ff"/><stop offset=".563" stop-color="#f901ff"/><stop offset=".648" stop-color="#ff40ff"/><stop offset=".852" stop-color="#ff8bff"/><stop offset=".937" stop-color="#ffa0ff"/><stop offset="1" stop-color="#ff9eff"/></linearGradient><linearGradient id="g4a27" gradientUnits="userSpaceOnUse" x1="0" y1="149.50" x2="0" y2="292.37"><stop offset="0" stop-color="#fb0b00"/><stop offset=".042" stop-color="#fe1d00"/><stop offset=".063" stop-color="#ff3200"/><stop offset=".099" stop-color="#ff8d00"/><stop offset=".127" stop-color="#fcfa02"/><stop offset=".134" stop-color="#eaf80f"/><stop offset=".141" stop-color="#c3f01b"/><stop offset=".155" stop-color="#60d933"/><stop offset=".162" stop-color="#43d141"/><stop offset=".19" stop-color="#31cd63"/><stop offset=".218" stop-color="#25cd92"/><stop offset=".232" stop-color="#0acdd3"/><stop offset=".239" stop-color="#01cde9"/><stop offset=".275" stop-color="#00c9fd"/><stop offset=".289" stop-color="#00beff"/><stop offset=".324" stop-color="#0096ff"/><stop offset=".338" stop-color="#06f"/><stop offset=".352" stop-color="#013aff"/><stop offset=".401" stop-color="#10f"/><stop offset=".43" stop-color="#2300ff"/><stop offset=".458" stop-color="#4a00ff"/><stop offset=".521" stop-color="#ce00ff"/><stop offset=".556" stop-color="#fa02ff"/><stop offset=".62" stop-color="#ff3cff"/><stop offset=".655" stop-color="#ff4fff"/><stop offset=".894" stop-color="#ff9fff"/><stop offset=".951" stop-color="#ffa6ff"/><stop offset="1" stop-color="#ffa0ff"/></linearGradient><linearGradient id="g4a28" gradientUnits="userSpaceOnUse" x1="0" y1="149.50" x2="0" y2="292.37"><stop offset="0" stop-color="#fc0e00"/><stop offset=".056" stop-color="#ff2a00"/><stop offset=".07" stop-color="#ff4600"/><stop offset=".092" stop-color="#ff7e00"/><stop offset=".12" stop-color="#ffec00"/><stop offset=".127" stop-color="#f6f907"/><stop offset=".134" stop-color="#e3f814"/><stop offset=".155" stop-color="#49d33b"/><stop offset=".162" stop-color="#40d046"/><stop offset=".204" stop-color="#29cd85"/><stop offset=".211" stop-color="#21cd9c"/><stop offset=".225" stop-color="#04cde3"/><stop offset=".232" stop-color="#0ce"/><stop offset=".268" stop-color="#00c5ff"/><stop offset=".303" stop-color="#00a0ff"/><stop offset=".317" stop-color="#0085ff"/><stop offset=".331" stop-color="#0050ff"/><stop offset=".345" stop-color="#0332ff"/><stop offset=".387" stop-color="#0f02ff"/><stop offset=".423" stop-color="#2500ff"/><stop offset=".458" stop-color="#5600ff"/><stop offset=".521" stop-color="#dc00ff"/><stop offset=".549" stop-color="#fb04ff"/><stop offset=".57" stop-color="#fe16ff"/><stop offset=".606" stop-color="#ff42ff"/><stop offset=".641" stop-color="#ff57ff"/><stop offset=".725" stop-color="#ff69ff"/><stop offset=".887" stop-color="#ffa4ff"/><stop offset=".944" stop-color="#ffabff"/><stop offset="1" stop-color="#ffa3ff"/></linearGradient><linearGradient id="g4a29" gradientUnits="userSpaceOnUse" x1="0" y1="149.50" x2="0" y2="292.37"><stop offset="0" stop-color="#fc1200"/><stop offset=".042" stop-color="#fe2300"/><stop offset=".056" stop-color="#ff3200"/><stop offset=".07" stop-color="#ff4e00"/><stop offset=".092" stop-color="#ff8500"/><stop offset=".12" stop-color="#fff700"/><stop offset=".127" stop-color="#eef90d"/><stop offset=".134" stop-color="#ccf219"/><stop offset=".148" stop-color="#61d933"/><stop offset=".155" stop-color="#43d141"/><stop offset=".176" stop-color="#32cd5e"/><stop offset=".197" stop-color="#29cd86"/><stop offset=".204" stop-color="#1fcda2"/><stop offset=".211" stop-color="#0ccdce"/><stop offset=".218" stop-color="#01cdeb"/><stop offset=".254" stop-color="#00c6fe"/><stop offset=".289" stop-color="#00a0ff"/><stop offset=".303" stop-color="#0085ff"/><stop offset=".317" stop-color="#0053ff"/><stop offset=".331" stop-color="#0233ff"/><stop offset=".373" stop-color="#0f03ff"/><stop offset=".415" stop-color="#2900ff"/><stop offset=".451" stop-color="#5800ff"/><stop offset=".514" stop-color="#de00ff"/><stop offset=".542" stop-color="#fb07ff"/><stop offset=".563" stop-color="#ff1dff"/><stop offset=".599" stop-color="#ff51ff"/><stop offset=".627" stop-color="#ff62ff"/><stop offset=".725" stop-color="#ff6fff"/><stop offset=".824" stop-color="#f9f"/><stop offset=".887" stop-color="#ffabff"/><stop offset=".944" stop-color="#ffb0ff"/><stop offset="1" stop-color="#ffa6ff"/></linearGradient><linearGradient id="g4a30" gradientUnits="userSpaceOnUse" x1="0" y1="149.50" x2="0" y2="292.37"><stop offset="0" stop-color="#fd1700"/><stop offset=".042" stop-color="#ff2900"/><stop offset=".063" stop-color="#ff4a00"/><stop offset=".092" stop-color="#ff9000"/><stop offset=".12" stop-color="#fafa03"/><stop offset=".127" stop-color="#e8f811"/><stop offset=".148" stop-color="#48d33c"/><stop offset=".169" stop-color="#33cd5a"/><stop offset=".19" stop-color="#2acd84"/><stop offset=".197" stop-color="#1fcda1"/><stop offset=".204" stop-color="#0bcdd2"/><stop offset=".211" stop-color="#00cced"/><stop offset=".239" stop-color="#00c7fe"/><stop offset=".275" stop-color="#009fff"/><stop offset=".282" stop-color="#0094ff"/><stop offset=".296" stop-color="#0068ff"/><stop offset=".31" stop-color="#013dff"/><stop offset=".359" stop-color="#0e04ff"/><stop offset=".401" stop-color="#2600ff"/><stop offset=".437" stop-color="#5100ff"/><stop offset=".5" stop-color="#d400ff"/><stop offset=".528" stop-color="#fa03ff"/><stop offset=".549" stop-color="#ff19ff"/><stop offset=".585" stop-color="#ff59ff"/><stop offset=".613" stop-color="#ff6fff"/><stop offset=".718" stop-color="#ff72ff"/><stop offset=".824" stop-color="#ffa2ff"/><stop offset=".887" stop-color="#ffb2ff"/><stop offset=".944" stop-color="#ffb5ff"/><stop offset="1" stop-color="#faf"/></linearGradient><linearGradient id="g4a31" gradientUnits="userSpaceOnUse" x1="0" y1="149.50" x2="0" y2="292.37"><stop offset="0" stop-color="#fe1e00"/><stop offset=".035" stop-color="#ff2d00"/><stop offset=".063" stop-color="#ff5700"/><stop offset=".085" stop-color="#ff8700"/><stop offset=".113" stop-color="#fff200"/><stop offset=".12" stop-color="#f2f90a"/><stop offset=".127" stop-color="#d7f517"/><stop offset=".141" stop-color="#64da32"/><stop offset=".148" stop-color="#42d142"/><stop offset=".169" stop-color="#31cd63"/><stop offset=".183" stop-color="#2acd82"/><stop offset=".19" stop-color="#21cd9b"/><stop offset=".197" stop-color="#0bcdd0"/><stop offset=".204" stop-color="#0ce"/><stop offset=".232" stop-color="#00c4ff"/><stop offset=".261" stop-color="#009fff"/><stop offset=".268" stop-color="#0092ff"/><stop offset=".282" stop-color="#0062ff"/><stop offset=".296" stop-color="#013aff"/><stop offset=".345" stop-color="#0e04ff"/><stop offset=".394" stop-color="#2c00ff"/><stop offset=".43" stop-color="#5700ff"/><stop offset=".493" stop-color="#d800ff"/><stop offset=".521" stop-color="#fb05ff"/><stop offset=".542" stop-color="#ff20ff"/><stop offset=".577" stop-color="#ff67ff"/><stop offset=".606" stop-color="#ff80ff"/><stop offset=".718" stop-color="#f7f"/><stop offset=".817" stop-color="#ffa8ff"/><stop offset=".887" stop-color="#ffbaff"/><stop offset=".944" stop-color="#fbf"/><stop offset="1" stop-color="#ffafff"/></linearGradient><linearGradient id="g4a32" gradientUnits="userSpaceOnUse" x1="0" y1="149.50" x2="0" y2="292.37"><stop offset="0" stop-color="#ff2400"/><stop offset=".021" stop-color="#ff2c00"/><stop offset=".035" stop-color="#ff3a00"/><stop offset=".07" stop-color="#ff7100"/><stop offset=".085" stop-color="#ff9400"/><stop offset=".113" stop-color="#fcfa02"/><stop offset=".12" stop-color="#eaf80f"/><stop offset=".127" stop-color="#bfef1c"/><stop offset=".141" stop-color="#4bd33b"/><stop offset=".148" stop-color="#3fd047"/><stop offset=".162" stop-color="#32cd5d"/><stop offset=".183" stop-color="#24cd96"/><stop offset=".19" stop-color="#0ccdce"/><stop offset=".197" stop-color="#0ce"/><stop offset=".218" stop-color="#00c7fe"/><stop offset=".246" stop-color="#009fff"/><stop offset=".254" stop-color="#0092ff"/><stop offset=".268" stop-color="#005eff"/><stop offset=".282" stop-color="#0236ff"/><stop offset=".324" stop-color="#0d08ff"/><stop offset=".338" stop-color="#1200ff"/><stop offset=".38" stop-color="#2c00ff"/><stop offset=".415" stop-color="#5300ff"/><stop offset=".486" stop-color="#de00ff"/><stop offset=".5" stop-color="#f200ff"/><stop offset=".514" stop-color="#fc09ff"/><stop offset=".528" stop-color="#ff19ff"/><stop offset=".57" stop-color="#ff70ff"/><stop offset=".585" stop-color="#ff83ff"/><stop offset=".606" stop-color="#ff91ff"/><stop offset=".641" stop-color="#ff93ff"/><stop offset=".718" stop-color="#ff82ff"/><stop offset=".803" stop-color="#ffadff"/><stop offset=".859" stop-color="#ffbdff"/><stop offset=".93" stop-color="#ffc2ff"/><stop offset="1" stop-color="#ffb4ff"/></linearGradient><linearGradient id="g4a33" gradientUnits="userSpaceOnUse" x1="0" y1="149.50" x2="0" y2="292.37"><stop offset="0" stop-color="#ff3000"/><stop offset=".028" stop-color="#ff4200"/><stop offset=".063" stop-color="#ff7100"/><stop offset=".085" stop-color="#ffa400"/><stop offset=".106" stop-color="#fff100"/><stop offset=".113" stop-color="#f4f908"/><stop offset=".12" stop-color="#def615"/><stop offset=".134" stop-color="#6cdc2f"/><stop offset=".141" stop-color="#43d141"/><stop offset=".155" stop-color="#35ce58"/><stop offset=".176" stop-color="#27cd8d"/><stop offset=".183" stop-color="#0fcdc8"/><stop offset=".19" stop-color="#0ce"/><stop offset=".211" stop-color="#00c5ff"/><stop offset=".218" stop-color="#00b9ff"/><stop offset=".239" stop-color="#0093ff"/><stop offset=".261" stop-color="#0142ff"/><stop offset=".268" stop-color="#0234ff"/><stop offset=".31" stop-color="#0e06ff"/><stop offset=".359" stop-color="#2600ff"/><stop offset=".401" stop-color="#5300ff"/><stop offset=".486" stop-color="#ed00ff"/><stop offset=".5" stop-color="#fb05ff"/><stop offset=".514" stop-color="#fe14ff"/><stop offset=".563" stop-color="#f7f"/><stop offset=".585" stop-color="#ff92ff"/><stop offset=".606" stop-color="#ffa0ff"/><stop offset=".641" stop-color="#ffa4ff"/><stop offset=".725" stop-color="#ff98ff"/><stop offset=".81" stop-color="#fbf"/><stop offset=".88" stop-color="#ffc9ff"/><stop offset=".944" stop-color="#ffc7ff"/><stop offset="1" stop-color="#ffbaff"/></linearGradient><linearGradient id="g4a34" gradientUnits="userSpaceOnUse" x1="0" y1="149.50" x2="0" y2="292.37"><stop offset="0" stop-color="#ff4200"/><stop offset=".028" stop-color="#f50"/><stop offset=".056" stop-color="#ff7800"/><stop offset=".077" stop-color="#ffa600"/><stop offset=".099" stop-color="#ffed00"/><stop offset=".106" stop-color="#f7f906"/><stop offset=".113" stop-color="#e7f811"/><stop offset=".12" stop-color="#bcef1c"/><stop offset=".134" stop-color="#4ed439"/><stop offset=".141" stop-color="#3fd047"/><stop offset=".155" stop-color="#32cd5f"/><stop offset=".169" stop-color="#29cd85"/><stop offset=".183" stop-color="#00cced"/><stop offset=".204" stop-color="#00c2ff"/><stop offset=".218" stop-color="#00a6ff"/><stop offset=".225" stop-color="#0097ff"/><stop offset=".246" stop-color="#013fff"/><stop offset=".261" stop-color="#0529ff"/><stop offset=".296" stop-color="#0e04ff"/><stop offset=".338" stop-color="#20f"/><stop offset=".38" stop-color="#4c00ff"/><stop offset=".479" stop-color="#f200ff"/><stop offset=".507" stop-color="#ff19ff"/><stop offset=".542" stop-color="#f6f"/><stop offset=".563" stop-color="#ff89ff"/><stop offset=".585" stop-color="#ffa1ff"/><stop offset=".613" stop-color="#ffb2ff"/><stop offset=".648" stop-color="#ffb6ff"/><stop offset=".725" stop-color="#ffb0ff"/><stop offset=".824" stop-color="#ffcaff"/><stop offset=".88" stop-color="#ffd1ff"/><stop offset=".944" stop-color="#ffcdff"/><stop offset="1" stop-color="#ffc1ff"/></linearGradient><linearGradient id="g4a35" gradientUnits="userSpaceOnUse" x1="0" y1="149.50" x2="0" y2="292.37"><stop offset="0" stop-color="#ff5700"/><stop offset=".021" stop-color="#ff6300"/><stop offset=".049" stop-color="#ff8100"/><stop offset=".063" stop-color="#ff9b00"/><stop offset=".099" stop-color="#fafa04"/><stop offset=".106" stop-color="#ecf90e"/><stop offset=".113" stop-color="#cdf319"/><stop offset=".127" stop-color="#69db30"/><stop offset=".134" stop-color="#43d141"/><stop offset=".148" stop-color="#35ce58"/><stop offset=".162" stop-color="#2bcd7e"/><stop offset=".169" stop-color="#1fcda1"/><stop offset=".176" stop-color="#02cde6"/><stop offset=".197" stop-color="#00c2ff"/><stop offset=".218" stop-color="#008cff"/><stop offset=".232" stop-color="#0141ff"/><stop offset=".239" stop-color="#0331ff"/><stop offset=".282" stop-color="#0f02ff"/><stop offset=".324" stop-color="#2400ff"/><stop offset=".366" stop-color="#4d00ff"/><stop offset=".451" stop-color="#da00ff"/><stop offset=".479" stop-color="#fb05ff"/><stop offset=".5" stop-color="#ff21ff"/><stop offset=".528" stop-color="#ff61ff"/><stop offset=".556" stop-color="#ff91ff"/><stop offset=".585" stop-color="#ffb0ff"/><stop offset=".613" stop-color="#ffc1ff"/><stop offset=".873" stop-color="#ffd9ff"/><stop offset=".937" stop-color="#ffd5ff"/><stop offset="1" stop-color="#ffc7ff"/></linearGradient><linearGradient id="g4a36" gradientUnits="userSpaceOnUse" x1="0" y1="149.50" x2="0" y2="292.37"><stop offset="0" stop-color="#ff6d00"/><stop offset=".021" stop-color="#ff7800"/><stop offset=".042" stop-color="#ff8f00"/><stop offset=".056" stop-color="#ffa700"/><stop offset=".085" stop-color="#ffef00"/><stop offset=".092" stop-color="#f9f904"/><stop offset=".099" stop-color="#edf90e"/><stop offset=".106" stop-color="#d5f517"/><stop offset=".127" stop-color="#4ad33c"/><stop offset=".148" stop-color="#31cd61"/><stop offset=".162" stop-color="#27cd8e"/><stop offset=".169" stop-color="#08cdd7"/><stop offset=".176" stop-color="#00cbf1"/><stop offset=".19" stop-color="#00c3ff"/><stop offset=".204" stop-color="#00a0ff"/><stop offset=".211" stop-color="#0085ff"/><stop offset=".218" stop-color="#0056ff"/><stop offset=".225" stop-color="#0138ff"/><stop offset=".232" stop-color="#042bff"/><stop offset=".268" stop-color="#1001ff"/><stop offset=".31" stop-color="#2600ff"/><stop offset=".352" stop-color="#4f00ff"/><stop offset=".437" stop-color="#d800ff"/><stop offset=".465" stop-color="#fa03ff"/><stop offset=".486" stop-color="#ff1bff"/><stop offset=".521" stop-color="#ff6aff"/><stop offset=".549" stop-color="#f9f"/><stop offset=".585" stop-color="#ffbfff"/><stop offset=".62" stop-color="#ffd3ff"/><stop offset=".69" stop-color="#ffdcff"/><stop offset=".866" stop-color="#ffdeff"/><stop offset=".944" stop-color="#ffdaff"/><stop offset="1" stop-color="#ffceff"/></linearGradient><linearGradient id="g4a37" gradientUnits="userSpaceOnUse" x1="0" y1="149.50" x2="0" y2="292.37"><stop offset="0" stop-color="#ff8400"/><stop offset=".035" stop-color="#ff9f00"/><stop offset=".056" stop-color="#ffc400"/><stop offset=".077" stop-color="#fef500"/><stop offset=".092" stop-color="#ebf90f"/><stop offset=".099" stop-color="#d5f417"/><stop offset=".113" stop-color="#83e129"/><stop offset=".12" stop-color="#52d538"/><stop offset=".127" stop-color="#41d145"/><stop offset=".141" stop-color="#33cd5c"/><stop offset=".155" stop-color="#2acd84"/><stop offset=".162" stop-color="#11cdc2"/><stop offset=".169" stop-color="#00ccf0"/><stop offset=".183" stop-color="#00c4ff"/><stop offset=".197" stop-color="#009fff"/><stop offset=".204" stop-color="#007eff"/><stop offset=".211" stop-color="#004dff"/><stop offset=".218" stop-color="#0232ff"/><stop offset=".254" stop-color="#1001ff"/><stop offset=".296" stop-color="#2700ff"/><stop offset=".338" stop-color="#5000ff"/><stop offset=".415" stop-color="#cd00ff"/><stop offset=".444" stop-color="#f200ff"/><stop offset=".472" stop-color="#fe17ff"/><stop offset=".514" stop-color="#ff74ff"/><stop offset=".542" stop-color="#ffa2ff"/><stop offset=".577" stop-color="#ffc8ff"/><stop offset=".606" stop-color="#ffdaff"/><stop offset=".704" stop-color="#ffe7ff"/><stop offset=".908" stop-color="#ffe1ff"/><stop offset="1" stop-color="#ffd5ff"/></linearGradient><linearGradient id="g4a38" gradientUnits="userSpaceOnUse" x1="0" y1="149.50" x2="0" y2="292.37"><stop offset="0" stop-color="#ff9f00"/><stop offset=".035" stop-color="#fb0"/><stop offset=".07" stop-color="#fdf801"/><stop offset=".085" stop-color="#eaf810"/><stop offset=".092" stop-color="#d4f417"/><stop offset=".106" stop-color="#88e227"/><stop offset=".113" stop-color="#59d736"/><stop offset=".12" stop-color="#42d143"/><stop offset=".134" stop-color="#34ce58"/><stop offset=".148" stop-color="#2bcd80"/><stop offset=".155" stop-color="#19cdb1"/><stop offset=".162" stop-color="#0ce"/><stop offset=".169" stop-color="#00caf7"/><stop offset=".176" stop-color="#00c5fe"/><stop offset=".19" stop-color="#009eff"/><stop offset=".197" stop-color="#07f"/><stop offset=".204" stop-color="#04f"/><stop offset=".211" stop-color="#032eff"/><stop offset=".239" stop-color="#0f02ff"/><stop offset=".275" stop-color="#20f"/><stop offset=".324" stop-color="#5200ff"/><stop offset=".401" stop-color="#ce00ff"/><stop offset=".43" stop-color="#f200ff"/><stop offset=".458" stop-color="#fe15ff"/><stop offset=".507" stop-color="#ff7fff"/><stop offset=".535" stop-color="#ffabff"/><stop offset=".563" stop-color="#ffcaff"/><stop offset=".592" stop-color="#ffdeff"/><stop offset=".704" stop-color="#fef"/><stop offset="1" stop-color="#ffdbff"/></linearGradient><linearGradient id="g4a39" gradientUnits="userSpaceOnUse" x1="0" y1="149.50" x2="0" y2="292.37"><stop offset="0" stop-color="#fb0"/><stop offset=".021" stop-color="#ffc800"/><stop offset=".063" stop-color="#fafa04"/><stop offset=".077" stop-color="#e7f811"/><stop offset=".085" stop-color="#d0f318"/><stop offset=".099" stop-color="#88e227"/><stop offset=".106" stop-color="#5dd834"/><stop offset=".113" stop-color="#43d141"/><stop offset=".127" stop-color="#36ce56"/><stop offset=".141" stop-color="#2bcd7c"/><stop offset=".148" stop-color="#1ecda3"/><stop offset=".155" stop-color="#01cdea"/><stop offset=".162" stop-color="#00caf6"/><stop offset=".169" stop-color="#00c6fe"/><stop offset=".183" stop-color="#009fff"/><stop offset=".19" stop-color="#0076ff"/><stop offset=".197" stop-color="#0141ff"/><stop offset=".204" stop-color="#042cff"/><stop offset=".225" stop-color="#0e06ff"/><stop offset=".261" stop-color="#20f"/><stop offset=".31" stop-color="#5300ff"/><stop offset=".387" stop-color="#d000ff"/><stop offset=".415" stop-color="#f300ff"/><stop offset=".444" stop-color="#fe16ff"/><stop offset=".493" stop-color="#ff7cff"/><stop offset=".528" stop-color="#ffb3ff"/><stop offset=".556" stop-color="#ffd2ff"/><stop offset=".585" stop-color="#ffe2ff"/><stop offset=".634" stop-color="#ffefff"/><stop offset=".704" stop-color="#fff4ff"/><stop offset="1" stop-color="#ffdfff"/></linearGradient><linearGradient id="g4a40" gradientUnits="userSpaceOnUse" x1="0" y1="149.50" x2="0" y2="292.37"><stop offset="0" stop-color="#ffd600"/><stop offset=".021" stop-color="#ffe100"/><stop offset=".042" stop-color="#fef601"/><stop offset=".063" stop-color="#ecf90e"/><stop offset=".07" stop-color="#e0f714"/><stop offset=".092" stop-color="#84e128"/><stop offset=".099" stop-color="#5ad735"/><stop offset=".106" stop-color="#43d141"/><stop offset=".12" stop-color="#36ce55"/><stop offset=".134" stop-color="#2ccd77"/><stop offset=".141" stop-color="#24cd94"/><stop offset=".148" stop-color="#05cde1"/><stop offset=".155" stop-color="#00cbf4"/><stop offset=".162" stop-color="#00c8fd"/><stop offset=".176" stop-color="#00a1ff"/><stop offset=".183" stop-color="#0078ff"/><stop offset=".19" stop-color="#0140ff"/><stop offset=".197" stop-color="#052aff"/><stop offset=".218" stop-color="#0f03ff"/><stop offset=".254" stop-color="#2800ff"/><stop offset=".296" stop-color="#5400ff"/><stop offset=".373" stop-color="#d200ff"/><stop offset=".401" stop-color="#f400ff"/><stop offset=".43" stop-color="#fe16ff"/><stop offset=".479" stop-color="#ff7aff"/><stop offset=".514" stop-color="#ffb2ff"/><stop offset=".549" stop-color="#ffd9ff"/><stop offset=".577" stop-color="#ffe7ff"/><stop offset=".634" stop-color="#fff5ff"/><stop offset=".704" stop-color="#fff8ff"/><stop offset=".852" stop-color="#fff3ff"/><stop offset="1" stop-color="#ffe3ff"/></linearGradient><linearGradient id="g4a41" gradientUnits="userSpaceOnUse" x1="0" y1="149.50" x2="0" y2="292.37"><stop offset="0" stop-color="#ffe600"/><stop offset=".028" stop-color="#fef801"/><stop offset=".056" stop-color="#e6f812"/><stop offset=".07" stop-color="#b9ee1d"/><stop offset=".092" stop-color="#55d637"/><stop offset=".099" stop-color="#42d142"/><stop offset=".113" stop-color="#37ce55"/><stop offset=".12" stop-color="#31cd61"/><stop offset=".134" stop-color="#27cd8d"/><stop offset=".141" stop-color="#09cdd5"/><stop offset=".148" stop-color="#00cbf2"/><stop offset=".155" stop-color="#00c9fc"/><stop offset=".169" stop-color="#00a3ff"/><stop offset=".176" stop-color="#007bff"/><stop offset=".183" stop-color="#0140ff"/><stop offset=".197" stop-color="#0918ff"/><stop offset=".211" stop-color="#1101ff"/><stop offset=".282" stop-color="#50f"/><stop offset=".352" stop-color="#c900ff"/><stop offset=".38" stop-color="#e0f"/><stop offset=".394" stop-color="#fa04ff"/><stop offset=".415" stop-color="#fe17ff"/><stop offset=".472" stop-color="#ff86ff"/><stop offset=".514" stop-color="#ffc3ff"/><stop offset=".535" stop-color="#ffd9ff"/><stop offset=".57" stop-color="#ffebff"/><stop offset=".641" stop-color="#fffaff"/><stop offset=".782" stop-color="#fffbff"/><stop offset="1" stop-color="#ffe6ff"/></linearGradient><linearGradient id="g4a42" gradientUnits="userSpaceOnUse" x1="0" y1="149.50" x2="0" y2="292.37"><stop offset="0" stop-color="#fff100"/><stop offset=".021" stop-color="#fbfa03"/><stop offset=".042" stop-color="#e9f811"/><stop offset=".049" stop-color="#dbf616"/><stop offset=".056" stop-color="#c3f01b"/><stop offset=".085" stop-color="#4dd43a"/><stop offset=".113" stop-color="#31cd61"/><stop offset=".127" stop-color="#28cd89"/><stop offset=".134" stop-color="#0ccdce"/><stop offset=".141" stop-color="#00cbf1"/><stop offset=".148" stop-color="#00c9fa"/><stop offset=".162" stop-color="#00a5ff"/><stop offset=".169" stop-color="#007eff"/><stop offset=".176" stop-color="#013fff"/><stop offset=".183" stop-color="#0526ff"/><stop offset=".197" stop-color="#0e05ff"/><stop offset=".268" stop-color="#5a00ff"/><stop offset=".338" stop-color="#cb00ff"/><stop offset=".366" stop-color="#f000ff"/><stop offset=".38" stop-color="#fb05ff"/><stop offset=".401" stop-color="#ff19ff"/><stop offset=".458" stop-color="#ff86ff"/><stop offset=".5" stop-color="#ffc3ff"/><stop offset=".521" stop-color="#ffdaff"/><stop offset=".563" stop-color="#fef"/><stop offset=".641" stop-color="#fffeff"/><stop offset=".775" stop-color="#fffeff"/><stop offset="1" stop-color="#ffe9ff"/></linearGradient><linearGradient id="g4a43" gradientUnits="userSpaceOnUse" x1="0" y1="149.50" x2="0" y2="292.37"><stop offset="0" stop-color="#fbf903"/><stop offset=".021" stop-color="#f0f90b"/><stop offset=".035" stop-color="#ddf615"/><stop offset=".056" stop-color="#94e524"/><stop offset=".07" stop-color="#58d736"/><stop offset=".077" stop-color="#45d23f"/><stop offset=".099" stop-color="#35ce57"/><stop offset=".12" stop-color="#29cd85"/><stop offset=".127" stop-color="#12cdbf"/><stop offset=".134" stop-color="#00ccef"/><stop offset=".148" stop-color="#00c0ff"/><stop offset=".155" stop-color="#00a8ff"/><stop offset=".162" stop-color="#0085ff"/><stop offset=".169" stop-color="#0141ff"/><stop offset=".176" stop-color="#0625ff"/><stop offset=".19" stop-color="#1102ff"/><stop offset=".239" stop-color="#5000ff"/><stop offset=".331" stop-color="#d800ff"/><stop offset=".366" stop-color="#fb05ff"/><stop offset=".387" stop-color="#ff1aff"/><stop offset=".437" stop-color="#ff7aff"/><stop offset=".479" stop-color="#fbf"/><stop offset=".507" stop-color="#ffdaff"/><stop offset=".549" stop-color="#ffefff"/><stop offset=".62" stop-color="#fffeff"/><stop offset=".789" stop-color="#fff"/><stop offset="1" stop-color="#ffecff"/></linearGradient><linearGradient id="g4a44" gradientUnits="userSpaceOnUse" x1="0" y1="149.50" x2="0" y2="292.37"><stop offset="0" stop-color="#eef90d"/><stop offset=".014" stop-color="#e5f812"/><stop offset=".021" stop-color="#d9f516"/><stop offset=".042" stop-color="#95e524"/><stop offset=".056" stop-color="#5cd735"/><stop offset=".063" stop-color="#47d23e"/><stop offset=".092" stop-color="#33cd5c"/><stop offset=".113" stop-color="#26cd8d"/><stop offset=".12" stop-color="#10cdc4"/><stop offset=".127" stop-color="#00ccef"/><stop offset=".141" stop-color="#00c0ff"/><stop offset=".148" stop-color="#00a9ff"/><stop offset=".155" stop-color="#0082ff"/><stop offset=".162" stop-color="#013fff"/><stop offset=".176" stop-color="#0d0aff"/><stop offset=".183" stop-color="#1500ff"/><stop offset=".254" stop-color="#8b00ff"/><stop offset=".317" stop-color="#dc00ff"/><stop offset=".352" stop-color="#fb06ff"/><stop offset=".373" stop-color="#ff1bff"/><stop offset=".43" stop-color="#ff87ff"/><stop offset=".472" stop-color="#ffc4ff"/><stop offset=".493" stop-color="#ffdaff"/><stop offset=".542" stop-color="#fff1ff"/><stop offset=".599" stop-color="#fff"/><stop offset=".817" stop-color="#fff"/><stop offset="1" stop-color="#fef"/></linearGradient><linearGradient id="g4a45" gradientUnits="userSpaceOnUse" x1="0" y1="149.50" x2="0" y2="292.37"><stop offset="0" stop-color="#d0f318"/><stop offset=".007" stop-color="#c8f11a"/><stop offset=".021" stop-color="#a5e921"/><stop offset=".049" stop-color="#47d23e"/><stop offset=".085" stop-color="#30cd66"/><stop offset=".099" stop-color="#29cd84"/><stop offset=".106" stop-color="#1bcdac"/><stop offset=".113" stop-color="#06cddf"/><stop offset=".12" stop-color="#00cbf3"/><stop offset=".127" stop-color="#00c9fb"/><stop offset=".141" stop-color="#00a5ff"/><stop offset=".148" stop-color="#07f"/><stop offset=".155" stop-color="#0237ff"/><stop offset=".169" stop-color="#0f05ff"/><stop offset=".176" stop-color="#1a00ff"/><stop offset=".211" stop-color="#7100ff"/><stop offset=".232" stop-color="#9500ff"/><stop offset=".303" stop-color="#e200ff"/><stop offset=".338" stop-color="#fc08ff"/><stop offset=".359" stop-color="#ff1dff"/><stop offset=".408" stop-color="#ff7cff"/><stop offset=".451" stop-color="#ffbcff"/><stop offset=".479" stop-color="#ffdbff"/><stop offset=".521" stop-color="#ffefff"/><stop offset=".592" stop-color="#fff"/><stop offset=".852" stop-color="#fff"/><stop offset="1" stop-color="#fff0ff"/></linearGradient><linearGradient id="g4a46" gradientUnits="userSpaceOnUse" x1="0" y1="149.50" x2="0" y2="292.37"><stop offset="0" stop-color="#9be723"/><stop offset=".014" stop-color="#83e129"/><stop offset=".035" stop-color="#46d23f"/><stop offset=".07" stop-color="#31cd63"/><stop offset=".085" stop-color="#2bcd7e"/><stop offset=".092" stop-color="#22cd98"/><stop offset=".099" stop-color="#0ccdce"/><stop offset=".106" stop-color="#00ccef"/><stop offset=".12" stop-color="#00c6fd"/><stop offset=".134" stop-color="#00a1ff"/><stop offset=".141" stop-color="#006eff"/><stop offset=".148" stop-color="#0332ff"/><stop offset=".162" stop-color="#1102ff"/><stop offset=".176" stop-color="#2f00ff"/><stop offset=".204" stop-color="#8a00ff"/><stop offset=".218" stop-color="#a500ff"/><stop offset=".246" stop-color="#c600ff"/><stop offset=".303" stop-color="#f300ff"/><stop offset=".338" stop-color="#fe17ff"/><stop offset=".401" stop-color="#ff8aff"/><stop offset=".451" stop-color="#ffcfff"/><stop offset=".507" stop-color="#fff0ff"/><stop offset=".577" stop-color="#fff"/><stop offset=".859" stop-color="#fff"/><stop offset="1" stop-color="#fff2ff"/></linearGradient><linearGradient id="g4a47" gradientUnits="userSpaceOnUse" x1="0" y1="149.50" x2="0" y2="292.37"><stop offset="0" stop-color="#62d933"/><stop offset=".021" stop-color="#44d140"/><stop offset=".049" stop-color="#35ce57"/><stop offset=".063" stop-color="#2fcd6b"/><stop offset=".077" stop-color="#28cd88"/><stop offset=".085" stop-color="#19cdaf"/><stop offset=".092" stop-color="#04cde2"/><stop offset=".099" stop-color="#00cbf2"/><stop offset=".113" stop-color="#00c5fe"/><stop offset=".127" stop-color="#00a0ff"/><stop offset=".134" stop-color="#0070ff"/><stop offset=".141" stop-color="#0234ff"/><stop offset=".155" stop-color="#0f03ff"/><stop offset=".169" stop-color="#2e00ff"/><stop offset=".197" stop-color="#9500ff"/><stop offset=".211" stop-color="#b500ff"/><stop offset=".239" stop-color="#d900ff"/><stop offset=".282" stop-color="#f300ff"/><stop offset=".296" stop-color="#fa03ff"/><stop offset=".324" stop-color="#ff1bff"/><stop offset=".38" stop-color="#ff81ff"/><stop offset=".437" stop-color="#ffd1ff"/><stop offset=".493" stop-color="#fff2ff"/><stop offset=".57" stop-color="#fff"/><stop offset=".866" stop-color="#fff"/><stop offset="1" stop-color="#fff4ff"/></linearGradient><linearGradient id="g4a48" gradientUnits="userSpaceOnUse" x1="0" y1="149.50" x2="0" y2="292.37"><stop offset="0" stop-color="#42d142"/><stop offset=".035" stop-color="#36ce56"/><stop offset=".056" stop-color="#2dcd72"/><stop offset=".07" stop-color="#24cd93"/><stop offset=".085" stop-color="#01cceb"/><stop offset=".106" stop-color="#00c4ff"/><stop offset=".12" stop-color="#00a2ff"/><stop offset=".127" stop-color="#007dff"/><stop offset=".134" stop-color="#013cff"/><stop offset=".148" stop-color="#0d09ff"/><stop offset=".155" stop-color="#1700ff"/><stop offset=".162" stop-color="#2500ff"/><stop offset=".176" stop-color="#5600ff"/><stop offset=".19" stop-color="#9200ff"/><stop offset=".204" stop-color="#b900ff"/><stop offset=".225" stop-color="#d0f"/><stop offset=".261" stop-color="#f500ff"/><stop offset=".289" stop-color="#fc0cff"/><stop offset=".31" stop-color="#ff20ff"/><stop offset=".366" stop-color="#ff85ff"/><stop offset=".423" stop-color="#ffd2ff"/><stop offset=".479" stop-color="#fff3ff"/><stop offset=".549" stop-color="#fff"/><stop offset=".88" stop-color="#fff"/><stop offset="1" stop-color="#fff6ff"/></linearGradient><linearGradient id="g4a49" gradientUnits="userSpaceOnUse" x1="0" y1="149.50" x2="0" y2="292.37"><stop offset="0" stop-color="#3dd04a"/><stop offset=".028" stop-color="#34cd59"/><stop offset=".056" stop-color="#2acd83"/><stop offset=".063" stop-color="#21cd9c"/><stop offset=".07" stop-color="#0ccdcf"/><stop offset=".077" stop-color="#0ce"/><stop offset=".099" stop-color="#00c4ff"/><stop offset=".113" stop-color="#00a4ff"/><stop offset=".12" stop-color="#08f"/><stop offset=".127" stop-color="#0049ff"/><stop offset=".134" stop-color="#052aff"/><stop offset=".148" stop-color="#10f"/><stop offset=".162" stop-color="#2e00ff"/><stop offset=".19" stop-color="#9c00ff"/><stop offset=".204" stop-color="#c500ff"/><stop offset=".218" stop-color="#e100ff"/><stop offset=".239" stop-color="#f500ff"/><stop offset=".289" stop-color="#ff1eff"/><stop offset=".359" stop-color="#ff91ff"/><stop offset=".415" stop-color="#ffd9ff"/><stop offset=".472" stop-color="#fff7ff"/><stop offset=".521" stop-color="#fff"/><stop offset=".887" stop-color="#fff"/><stop offset="1" stop-color="#fff7ff"/></linearGradient><linearGradient id="g4a50" gradientUnits="userSpaceOnUse" x1="0" y1="149.50" x2="0" y2="292.37"><stop offset="0" stop-color="#3acf50"/><stop offset=".021" stop-color="#33cd5b"/><stop offset=".049" stop-color="#29cd85"/><stop offset=".056" stop-color="#1fcda0"/><stop offset=".063" stop-color="#0acdd3"/><stop offset=".07" stop-color="#0ce"/><stop offset=".092" stop-color="#00c6ff"/><stop offset=".113" stop-color="#0095ff"/><stop offset=".12" stop-color="#005eff"/><stop offset=".127" stop-color="#0233ff"/><stop offset=".141" stop-color="#0d09ff"/><stop offset=".155" stop-color="#2000ff"/><stop offset=".162" stop-color="#30f"/><stop offset=".169" stop-color="#4900ff"/><stop offset=".19" stop-color="#a200ff"/><stop offset=".204" stop-color="#d000ff"/><stop offset=".225" stop-color="#f400ff"/><stop offset=".268" stop-color="#ff1cff"/><stop offset=".338" stop-color="#ff87ff"/><stop offset=".401" stop-color="#ffd6ff"/><stop offset=".465" stop-color="#fff8ff"/><stop offset=".5" stop-color="#fff"/><stop offset="1" stop-color="#fff9ff"/></linearGradient><linearGradient id="g4a51" gradientUnits="userSpaceOnUse" x1="0" y1="149.50" x2="0" y2="292.37"><stop offset="0" stop-color="#37ce55"/><stop offset=".014" stop-color="#33cd5b"/><stop offset=".042" stop-color="#2acd85"/><stop offset=".049" stop-color="#20cd9e"/><stop offset=".056" stop-color="#0ccdd0"/><stop offset=".063" stop-color="#00cced"/><stop offset=".085" stop-color="#00c7fe"/><stop offset=".106" stop-color="#009cff"/><stop offset=".113" stop-color="#0073ff"/><stop offset=".12" stop-color="#003eff"/><stop offset=".141" stop-color="#0f02ff"/><stop offset=".155" stop-color="#20f"/><stop offset=".169" stop-color="#4c00ff"/><stop offset=".197" stop-color="#c600ff"/><stop offset=".211" stop-color="#ec00ff"/><stop offset=".225" stop-color="#fb05ff"/><stop offset=".254" stop-color="#ff1dff"/><stop offset=".317" stop-color="#ff7dff"/><stop offset=".394" stop-color="#ffd8ff"/><stop offset=".465" stop-color="#fffaff"/><stop offset="1" stop-color="#fffbff"/></linearGradient><linearGradient id="g4a52" gradientUnits="userSpaceOnUse" x1="0" y1="149.50" x2="0" y2="292.37"><stop offset="0" stop-color="#34ce59"/><stop offset=".014" stop-color="#31cd63"/><stop offset=".035" stop-color="#2acd84"/><stop offset=".042" stop-color="#22cd9a"/><stop offset=".049" stop-color="#0ecdca"/><stop offset=".056" stop-color="#00cded"/><stop offset=".077" stop-color="#00c8fd"/><stop offset=".099" stop-color="#00a1ff"/><stop offset=".106" stop-color="#0087ff"/><stop offset=".113" stop-color="#0052ff"/><stop offset=".12" stop-color="#0332ff"/><stop offset=".141" stop-color="#10f"/><stop offset=".155" stop-color="#2500ff"/><stop offset=".169" stop-color="#4e00ff"/><stop offset=".197" stop-color="#ce00ff"/><stop offset=".211" stop-color="#f400ff"/><stop offset=".246" stop-color="#ff1fff"/><stop offset=".31" stop-color="#ff7fff"/><stop offset=".38" stop-color="#ffd0ff"/><stop offset=".401" stop-color="#ffe0ff"/><stop offset=".458" stop-color="#fff9ff"/><stop offset=".486" stop-color="#fff"/><stop offset="1" stop-color="#fffcff"/></linearGradient><linearGradient id="g4a53" gradientUnits="userSpaceOnUse" x1="0" y1="149.50" x2="0" y2="292.37"><stop offset="0" stop-color="#32cd5d"/><stop offset=".021" stop-color="#2dcd76"/><stop offset=".035" stop-color="#24cd96"/><stop offset=".049" stop-color="#01cdeb"/><stop offset=".077" stop-color="#00c2ff"/><stop offset=".099" stop-color="#0098ff"/><stop offset=".113" stop-color="#003cff"/><stop offset=".134" stop-color="#0d09ff"/><stop offset=".141" stop-color="#1300ff"/><stop offset=".155" stop-color="#2600ff"/><stop offset=".169" stop-color="#4c00ff"/><stop offset=".197" stop-color="#c300ff"/><stop offset=".211" stop-color="#ec00ff"/><stop offset=".225" stop-color="#fb07ff"/><stop offset=".246" stop-color="#ff1bff"/><stop offset=".303" stop-color="#ff78ff"/><stop offset=".373" stop-color="#ffcbff"/><stop offset=".394" stop-color="#fdf"/><stop offset=".458" stop-color="#fff8ff"/><stop offset=".486" stop-color="#fff"/><stop offset="1" stop-color="#fffeff"/></linearGradient><linearGradient id="g4a54" gradientUnits="userSpaceOnUse" x1="0" y1="149.50" x2="0" y2="292.37"><stop offset="0" stop-color="#30cd64"/><stop offset=".014" stop-color="#2dcd73"/><stop offset=".028" stop-color="#28cd8c"/><stop offset=".042" stop-color="#02cde7"/><stop offset=".07" stop-color="#00c7ff"/><stop offset=".092" stop-color="#00a0ff"/><stop offset=".099" stop-color="#008aff"/><stop offset=".106" stop-color="#005aff"/><stop offset=".113" stop-color="#0236ff"/><stop offset=".134" stop-color="#0d07ff"/><stop offset=".155" stop-color="#2400ff"/><stop offset=".176" stop-color="#5e00ff"/><stop offset=".204" stop-color="#c700ff"/><stop offset=".225" stop-color="#f500ff"/><stop offset=".254" stop-color="#ff1bff"/><stop offset=".303" stop-color="#ff73ff"/><stop offset=".366" stop-color="#ffc1ff"/><stop offset=".394" stop-color="#ffdcff"/><stop offset=".458" stop-color="#fff7ff"/><stop offset=".493" stop-color="#fff"/><stop offset="1" stop-color="#fff"/></linearGradient><linearGradient id="g4a55" gradientUnits="userSpaceOnUse" x1="0" y1="149.50" x2="0" y2="292.37"><stop offset="0" stop-color="#30cd66"/><stop offset=".014" stop-color="#2dcd75"/><stop offset=".028" stop-color="#26cd90"/><stop offset=".042" stop-color="#00cdec"/><stop offset=".07" stop-color="#00c6ff"/><stop offset=".092" stop-color="#009fff"/><stop offset=".099" stop-color="#0085ff"/><stop offset=".106" stop-color="#0056ff"/><stop offset=".113" stop-color="#0235ff"/><stop offset=".134" stop-color="#0d07ff"/><stop offset=".155" stop-color="#2400ff"/><stop offset=".169" stop-color="#4700ff"/><stop offset=".204" stop-color="#c200ff"/><stop offset=".225" stop-color="#f100ff"/><stop offset=".232" stop-color="#fa02ff"/><stop offset=".254" stop-color="#ff18ff"/><stop offset=".303" stop-color="#ff70ff"/><stop offset=".366" stop-color="#ffc1ff"/><stop offset=".394" stop-color="#ffdbff"/><stop offset=".458" stop-color="#fff6ff"/><stop offset=".493" stop-color="#fff"/><stop offset="1" stop-color="#fff"/></linearGradient><linearGradient id="g4a56" gradientUnits="userSpaceOnUse" x1="0" y1="149.50" x2="0" y2="292.37"><stop offset="0" stop-color="#30cd66"/><stop offset=".014" stop-color="#2dcd75"/><stop offset=".028" stop-color="#26cd90"/><stop offset=".042" stop-color="#00cdec"/><stop offset=".07" stop-color="#00c6ff"/><stop offset=".092" stop-color="#009fff"/><stop offset=".099" stop-color="#0085ff"/><stop offset=".106" stop-color="#0056ff"/><stop offset=".113" stop-color="#0235ff"/><stop offset=".134" stop-color="#0d07ff"/><stop offset=".155" stop-color="#2400ff"/><stop offset=".169" stop-color="#4700ff"/><stop offset=".204" stop-color="#c200ff"/><stop offset=".225" stop-color="#f100ff"/><stop offset=".232" stop-color="#fa02ff"/><stop offset=".254" stop-color="#ff18ff"/><stop offset=".303" stop-color="#ff70ff"/><stop offset=".366" stop-color="#ffc1ff"/><stop offset=".394" stop-color="#ffdbff"/><stop offset=".458" stop-color="#fff6ff"/><stop offset=".493" stop-color="#fff"/><stop offset="1" stop-color="#fff"/></linearGradient><linearGradient id="g4a57" gradientUnits="userSpaceOnUse" x1="0" y1="149.50" x2="0" y2="292.37"><stop offset="0" stop-color="#30cd66"/><stop offset=".014" stop-color="#2dcd75"/><stop offset=".028" stop-color="#26cd90"/><stop offset=".042" stop-color="#00cdec"/><stop offset=".07" stop-color="#00c6ff"/><stop offset=".092" stop-color="#009fff"/><stop offset=".099" stop-color="#0085ff"/><stop offset=".106" stop-color="#0056ff"/><stop offset=".113" stop-color="#0235ff"/><stop offset=".134" stop-color="#0d07ff"/><stop offset=".155" stop-color="#2400ff"/><stop offset=".169" stop-color="#4700ff"/><stop offset=".204" stop-color="#c200ff"/><stop offset=".225" stop-color="#f100ff"/><stop offset=".232" stop-color="#fa02ff"/><stop offset=".254" stop-color="#ff18ff"/><stop offset=".303" stop-color="#ff70ff"/><stop offset=".366" stop-color="#ffc1ff"/><stop offset=".394" stop-color="#ffdbff"/><stop offset=".458" stop-color="#fff6ff"/><stop offset=".493" stop-color="#fff"/><stop offset="1" stop-color="#fff"/></linearGradient><filter id="fb4a" x="-10%" y="-2%" width="120%" height="104%"><feGaussianBlur stdDeviation="2 0"/></filter><linearGradient id="g4b0" gradientUnits="userSpaceOnUse" x1="0" y1="292.37" x2="0" y2="466.44"><stop offset="0" stop-color="#fa01ff"/><stop offset=".197" stop-color="#fa00ff"/><stop offset=".306" stop-color="#f200ff"/><stop offset=".341" stop-color="#eb00ff"/><stop offset=".422" stop-color="#cd00ff"/><stop offset=".451" stop-color="#c700ff"/><stop offset=".468" stop-color="#d100ff"/><stop offset=".497" stop-color="#f200ff"/><stop offset=".509" stop-color="#fa00ff"/><stop offset=".555" stop-color="#ef00ff"/><stop offset=".595" stop-color="#f900ff"/><stop offset=".671" stop-color="#ff1bff"/><stop offset=".746" stop-color="#ff64ff"/><stop offset=".78" stop-color="#ff7cff"/><stop offset=".85" stop-color="#ff84ff"/><stop offset=".936" stop-color="#ff7cff"/><stop offset="1" stop-color="#ff92ff"/></linearGradient><linearGradient id="g4b1" gradientUnits="userSpaceOnUse" x1="0" y1="292.37" x2="0" y2="466.44"><stop offset="0" stop-color="#fa02ff"/><stop offset=".197" stop-color="#fa00ff"/><stop offset=".312" stop-color="#f200ff"/><stop offset=".445" stop-color="#c800ff"/><stop offset=".462" stop-color="#c0f"/><stop offset=".497" stop-color="#f200ff"/><stop offset=".509" stop-color="#fa00ff"/><stop offset=".561" stop-color="#f000ff"/><stop offset=".595" stop-color="#f900ff"/><stop offset=".665" stop-color="#ff18ff"/><stop offset=".746" stop-color="#ff64ff"/><stop offset=".78" stop-color="#ff7cff"/><stop offset=".85" stop-color="#ff85ff"/><stop offset=".936" stop-color="#ff7cff"/><stop offset="1" stop-color="#ff91ff"/></linearGradient><linearGradient id="g4b2" gradientUnits="userSpaceOnUse" x1="0" y1="292.37" x2="0" y2="466.44"><stop offset="0" stop-color="#fb05ff"/><stop offset=".324" stop-color="#f800ff"/><stop offset=".439" stop-color="#d100ff"/><stop offset=".457" stop-color="#d500ff"/><stop offset=".514" stop-color="#f700ff"/><stop offset=".584" stop-color="#fa01ff"/><stop offset=".659" stop-color="#ff19ff"/><stop offset=".74" stop-color="#ff68ff"/><stop offset=".78" stop-color="#ff81ff"/><stop offset=".844" stop-color="#ff89ff"/><stop offset=".948" stop-color="#ff7dff"/><stop offset="1" stop-color="#ff89ff"/></linearGradient><linearGradient id="g4b3" gradientUnits="userSpaceOnUse" x1="0" y1="292.37" x2="0" y2="466.44"><stop offset="0" stop-color="#fb07ff"/><stop offset=".335" stop-color="#fa01ff"/><stop offset=".405" stop-color="#e200ff"/><stop offset=".439" stop-color="#dc00ff"/><stop offset=".514" stop-color="#f900ff"/><stop offset=".578" stop-color="#fb06ff"/><stop offset=".647" stop-color="#ff18ff"/><stop offset=".734" stop-color="#ff6eff"/><stop offset=".78" stop-color="#ff87ff"/><stop offset=".832" stop-color="#ff8dff"/><stop offset=".954" stop-color="#ff7bff"/><stop offset="1" stop-color="#ff80ff"/></linearGradient><linearGradient id="g4b4" gradientUnits="userSpaceOnUse" x1="0" y1="292.37" x2="0" y2="466.44"><stop offset="0" stop-color="#fb05ff"/><stop offset=".202" stop-color="#fb07ff"/><stop offset=".335" stop-color="#fa00ff"/><stop offset=".434" stop-color="#e600ff"/><stop offset=".457" stop-color="#e800ff"/><stop offset=".503" stop-color="#fa03ff"/><stop offset=".595" stop-color="#fc0cff"/><stop offset=".642" stop-color="#ff18ff"/><stop offset=".723" stop-color="#ff6dff"/><stop offset=".746" stop-color="#ff7eff"/><stop offset=".775" stop-color="#ff8aff"/><stop offset=".838" stop-color="#ff8fff"/><stop offset="1" stop-color="#ff7cff"/></linearGradient><linearGradient id="g4b5" gradientUnits="userSpaceOnUse" x1="0" y1="292.37" x2="0" y2="466.44"><stop offset="0" stop-color="#fb05ff"/><stop offset=".191" stop-color="#fc08ff"/><stop offset=".335" stop-color="#fa01ff"/><stop offset=".439" stop-color="#ec00ff"/><stop offset=".48" stop-color="#f700ff"/><stop offset=".514" stop-color="#fd0dff"/><stop offset=".601" stop-color="#fd10ff"/><stop offset=".636" stop-color="#ff19ff"/><stop offset=".717" stop-color="#ff71ff"/><stop offset=".74" stop-color="#ff81ff"/><stop offset=".769" stop-color="#ff8cff"/><stop offset=".832" stop-color="#ff93ff"/><stop offset="1" stop-color="#ff86ff"/></linearGradient><linearGradient id="g4b6" gradientUnits="userSpaceOnUse" x1="0" y1="292.37" x2="0" y2="466.44"><stop offset="0" stop-color="#fc0bff"/><stop offset=".064" stop-color="#fb06ff"/><stop offset=".191" stop-color="#fc0aff"/><stop offset=".353" stop-color="#fa02ff"/><stop offset=".439" stop-color="#f300ff"/><stop offset=".474" stop-color="#f900ff"/><stop offset=".514" stop-color="#fc0bff"/><stop offset=".618" stop-color="#ff19ff"/><stop offset=".636" stop-color="#ff27ff"/><stop offset=".705" stop-color="#ff71ff"/><stop offset=".728" stop-color="#ff81ff"/><stop offset=".757" stop-color="#ff8dff"/><stop offset=".821" stop-color="#ff96ff"/><stop offset=".942" stop-color="#ff92ff"/><stop offset="1" stop-color="#ff96ff"/></linearGradient><linearGradient id="g4b7" gradientUnits="userSpaceOnUse" x1="0" y1="292.37" x2="0" y2="466.44"><stop offset="0" stop-color="#fe15ff"/><stop offset=".058" stop-color="#fb07ff"/><stop offset=".168" stop-color="#fd0dff"/><stop offset=".468" stop-color="#fa01ff"/><stop offset=".601" stop-color="#ff19ff"/><stop offset=".624" stop-color="#ff2cff"/><stop offset=".699" stop-color="#f7f"/><stop offset=".746" stop-color="#ff8eff"/><stop offset=".803" stop-color="#f9f"/><stop offset=".931" stop-color="#ff9cff"/><stop offset="1" stop-color="#ffa4ff"/></linearGradient><linearGradient id="g4b8" gradientUnits="userSpaceOnUse" x1="0" y1="292.37" x2="0" y2="466.44"><stop offset="0" stop-color="#f3f"/><stop offset=".035" stop-color="#fe14ff"/><stop offset=".064" stop-color="#fc0cff"/><stop offset=".162" stop-color="#fd0eff"/><stop offset=".474" stop-color="#fb06ff"/><stop offset=".59" stop-color="#ff19ff"/><stop offset=".682" stop-color="#ff74ff"/><stop offset=".734" stop-color="#ff8eff"/><stop offset=".792" stop-color="#ff9aff"/><stop offset=".925" stop-color="#ffa3ff"/><stop offset="1" stop-color="#ffaeff"/></linearGradient><linearGradient id="g4b9" gradientUnits="userSpaceOnUse" x1="0" y1="292.37" x2="0" y2="466.44"><stop offset="0" stop-color="#ff63ff"/><stop offset=".017" stop-color="#ff4eff"/><stop offset=".046" stop-color="#ff1aff"/><stop offset=".064" stop-color="#fe12ff"/><stop offset=".243" stop-color="#fc0aff"/><stop offset=".382" stop-color="#fd0fff"/><stop offset=".48" stop-color="#fc0cff"/><stop offset=".555" stop-color="#fe16ff"/><stop offset=".578" stop-color="#ff1eff"/><stop offset=".676" stop-color="#ff76ff"/><stop offset=".728" stop-color="#ff8fff"/><stop offset=".792" stop-color="#ff9cff"/><stop offset="1" stop-color="#ffb3ff"/></linearGradient><linearGradient id="g4b10" gradientUnits="userSpaceOnUse" x1="0" y1="292.37" x2="0" y2="466.44"><stop offset="0" stop-color="#ff87ff"/><stop offset=".012" stop-color="#ff7fff"/><stop offset=".023" stop-color="#ff6eff"/><stop offset=".052" stop-color="#ff2aff"/><stop offset=".064" stop-color="#ff21ff"/><stop offset=".081" stop-color="#ff1bff"/><stop offset=".237" stop-color="#fc0cff"/><stop offset=".329" stop-color="#fd11ff"/><stop offset=".462" stop-color="#fd10ff"/><stop offset=".526" stop-color="#fe16ff"/><stop offset=".555" stop-color="#ff1fff"/><stop offset=".595" stop-color="#ff39ff"/><stop offset=".676" stop-color="#ff78ff"/><stop offset=".728" stop-color="#ff90ff"/><stop offset=".792" stop-color="#ff9eff"/><stop offset="1" stop-color="#ffb7ff"/></linearGradient><linearGradient id="g4b11" gradientUnits="userSpaceOnUse" x1="0" y1="292.37" x2="0" y2="466.44"><stop offset="0" stop-color="#ff94ff"/><stop offset=".017" stop-color="#ff8dff"/><stop offset=".029" stop-color="#ff82ff"/><stop offset=".058" stop-color="#ff53ff"/><stop offset=".081" stop-color="#ff39ff"/><stop offset=".139" stop-color="#ff18ff"/><stop offset=".202" stop-color="#fd10ff"/><stop offset=".306" stop-color="#fe15ff"/><stop offset=".428" stop-color="#fe12ff"/><stop offset=".491" stop-color="#ff18ff"/><stop offset=".538" stop-color="#ff25ff"/><stop offset=".676" stop-color="#ff7bff"/><stop offset=".734" stop-color="#ff93ff"/><stop offset=".792" stop-color="#ffa0ff"/><stop offset="1" stop-color="#ffbaff"/></linearGradient><linearGradient id="g4b12" gradientUnits="userSpaceOnUse" x1="0" y1="292.37" x2="0" y2="466.44"><stop offset="0" stop-color="#ff9aff"/><stop offset=".035" stop-color="#ff87ff"/><stop offset=".081" stop-color="#f5f"/><stop offset=".11" stop-color="#ff3bff"/><stop offset=".168" stop-color="#ff17ff"/><stop offset=".208" stop-color="#fe14ff"/><stop offset=".283" stop-color="#ff21ff"/><stop offset=".405" stop-color="#fe12ff"/><stop offset=".48" stop-color="#ff1fff"/><stop offset=".555" stop-color="#ff3eff"/><stop offset=".676" stop-color="#ff7fff"/><stop offset=".734" stop-color="#ff95ff"/><stop offset=".798" stop-color="#ffa2ff"/><stop offset="1" stop-color="#ffbeff"/></linearGradient><linearGradient id="g4b13" gradientUnits="userSpaceOnUse" x1="0" y1="292.37" x2="0" y2="466.44"><stop offset="0" stop-color="#ff9fff"/><stop offset=".035" stop-color="#ff8dff"/><stop offset=".11" stop-color="#ff4fff"/><stop offset=".185" stop-color="#ff21ff"/><stop offset=".202" stop-color="#ff21ff"/><stop offset=".277" stop-color="#ff32ff"/><stop offset=".364" stop-color="#ff19ff"/><stop offset=".405" stop-color="#fe14ff"/><stop offset=".451" stop-color="#ff1cff"/><stop offset=".642" stop-color="#ff76ff"/><stop offset=".723" stop-color="#ff94ff"/><stop offset=".803" stop-color="#ffa6ff"/><stop offset="1" stop-color="#ffc1ff"/></linearGradient><linearGradient id="g4b14" gradientUnits="userSpaceOnUse" x1="0" y1="292.37" x2="0" y2="466.44"><stop offset="0" stop-color="#ffa5ff"/><stop offset=".035" stop-color="#ff93ff"/><stop offset=".098" stop-color="#ff67ff"/><stop offset=".133" stop-color="#ff57ff"/><stop offset=".191" stop-color="#ff48ff"/><stop offset=".277" stop-color="#ff42ff"/><stop offset=".37" stop-color="#ff1aff"/><stop offset=".405" stop-color="#fe16ff"/><stop offset=".434" stop-color="#ff1cff"/><stop offset=".578" stop-color="#ff67ff"/><stop offset=".694" stop-color="#ff90ff"/><stop offset=".803" stop-color="#ffa8ff"/><stop offset="1" stop-color="#ffc3ff"/></linearGradient><linearGradient id="g4b15" gradientUnits="userSpaceOnUse" x1="0" y1="292.37" x2="0" y2="466.44"><stop offset="0" stop-color="#ffadff"/><stop offset=".092" stop-color="#ff75ff"/><stop offset=".127" stop-color="#ff6fff"/><stop offset=".185" stop-color="#ff70ff"/><stop offset=".225" stop-color="#f6f"/><stop offset=".295" stop-color="#ff4cff"/><stop offset=".376" stop-color="#ff1eff"/><stop offset=".399" stop-color="#ff19ff"/><stop offset=".422" stop-color="#ff1eff"/><stop offset=".538" stop-color="#ff61ff"/><stop offset=".601" stop-color="#ff7cff"/><stop offset=".775" stop-color="#ffa6ff"/><stop offset="1" stop-color="#ffc6ff"/></linearGradient><linearGradient id="g4b16" gradientUnits="userSpaceOnUse" x1="0" y1="292.37" x2="0" y2="466.44"><stop offset="0" stop-color="#ffb7ff"/><stop offset=".098" stop-color="#ff86ff"/><stop offset=".185" stop-color="#ff87ff"/><stop offset=".225" stop-color="#ff7eff"/><stop offset=".295" stop-color="#ff5cff"/><stop offset=".37" stop-color="#ff2bff"/><stop offset=".399" stop-color="#ff24ff"/><stop offset=".422" stop-color="#ff2aff"/><stop offset=".503" stop-color="#ff5cff"/><stop offset=".59" stop-color="#ff81ff"/><stop offset=".815" stop-color="#ffb1ff"/><stop offset="1" stop-color="#ffc8ff"/></linearGradient><linearGradient id="g4b17" gradientUnits="userSpaceOnUse" x1="0" y1="292.37" x2="0" y2="466.44"><stop offset="0" stop-color="#ffc4ff"/><stop offset=".098" stop-color="#ff9cff"/><stop offset=".185" stop-color="#ff94ff"/><stop offset=".231" stop-color="#f8f"/><stop offset=".301" stop-color="#ff68ff"/><stop offset=".364" stop-color="#ff39ff"/><stop offset=".393" stop-color="#ff2dff"/><stop offset=".422" stop-color="#ff35ff"/><stop offset=".491" stop-color="#ff64ff"/><stop offset=".607" stop-color="#ff8cff"/><stop offset=".844" stop-color="#ffbaff"/><stop offset="1" stop-color="#ffcbff"/></linearGradient><linearGradient id="g4b18" gradientUnits="userSpaceOnUse" x1="0" y1="292.37" x2="0" y2="466.44"><stop offset="0" stop-color="#ffd2ff"/><stop offset=".092" stop-color="#ffb1ff"/><stop offset=".231" stop-color="#ff92ff"/><stop offset=".306" stop-color="#ff6fff"/><stop offset=".376" stop-color="#ff3eff"/><stop offset=".399" stop-color="#ff39ff"/><stop offset=".428" stop-color="#f4f"/><stop offset=".491" stop-color="#ff6cff"/><stop offset=".618" stop-color="#ff95ff"/><stop offset=".85" stop-color="#ffbfff"/><stop offset="1" stop-color="#ffd0ff"/></linearGradient><linearGradient id="g4b19" gradientUnits="userSpaceOnUse" x1="0" y1="292.37" x2="0" y2="466.44"><stop offset="0" stop-color="#fdf"/><stop offset=".225" stop-color="#ff9eff"/><stop offset=".301" stop-color="#ff7bff"/><stop offset=".37" stop-color="#ff4fff"/><stop offset=".399" stop-color="#ff46ff"/><stop offset=".422" stop-color="#ff4cff"/><stop offset=".509" stop-color="#f7f"/><stop offset=".63" stop-color="#ff9dff"/><stop offset=".838" stop-color="#ffc3ff"/><stop offset="1" stop-color="#ffd7ff"/></linearGradient><linearGradient id="g4b20" gradientUnits="userSpaceOnUse" x1="0" y1="292.37" x2="0" y2="466.44"><stop offset="0" stop-color="#ffe4ff"/><stop offset=".069" stop-color="#ffd7ff"/><stop offset=".214" stop-color="#ffacff"/><stop offset=".289" stop-color="#ff8bff"/><stop offset=".376" stop-color="#ff5aff"/><stop offset=".399" stop-color="#ff53ff"/><stop offset=".422" stop-color="#ff58ff"/><stop offset=".538" stop-color="#ff89ff"/><stop offset=".642" stop-color="#ffa6ff"/><stop offset=".838" stop-color="#ffc9ff"/><stop offset="1" stop-color="#ffdcff"/></linearGradient><linearGradient id="g4b21" gradientUnits="userSpaceOnUse" x1="0" y1="292.37" x2="0" y2="466.44"><stop offset="0" stop-color="#ffebff"/><stop offset=".098" stop-color="#ffdaff"/><stop offset=".179" stop-color="#ffc3ff"/><stop offset=".26" stop-color="#ffa4ff"/><stop offset=".37" stop-color="#ff6eff"/><stop offset=".399" stop-color="#ff67ff"/><stop offset=".428" stop-color="#ff6bff"/><stop offset=".555" stop-color="#ff97ff"/><stop offset=".665" stop-color="#ffb2ff"/><stop offset=".879" stop-color="#ffd5ff"/><stop offset="1" stop-color="#ffe0ff"/></linearGradient><linearGradient id="g4b22" gradientUnits="userSpaceOnUse" x1="0" y1="292.37" x2="0" y2="466.44"><stop offset="0" stop-color="#ffefff"/><stop offset=".15" stop-color="#ffd6ff"/><stop offset=".237" stop-color="#ffb8ff"/><stop offset=".364" stop-color="#ff83ff"/><stop offset=".405" stop-color="#ff7bff"/><stop offset=".439" stop-color="#ff80ff"/><stop offset=".59" stop-color="#ffa9ff"/><stop offset=".705" stop-color="#ffc1ff"/><stop offset=".861" stop-color="#ffd9ff"/><stop offset="1" stop-color="#ffe4ff"/></linearGradient><linearGradient id="g4b23" gradientUnits="userSpaceOnUse" x1="0" y1="292.37" x2="0" y2="466.44"><stop offset="0" stop-color="#fff3ff"/><stop offset=".168" stop-color="#ffdaff"/><stop offset=".353" stop-color="#ff98ff"/><stop offset=".41" stop-color="#ff8fff"/><stop offset=".462" stop-color="#ff94ff"/><stop offset=".636" stop-color="#fbf"/><stop offset=".775" stop-color="#ffd3ff"/><stop offset="1" stop-color="#ffe8ff"/></linearGradient><linearGradient id="g4b24" gradientUnits="userSpaceOnUse" x1="0" y1="292.37" x2="0" y2="466.44"><stop offset="0" stop-color="#fff6ff"/><stop offset=".191" stop-color="#ffdbff"/><stop offset=".347" stop-color="#faf"/><stop offset=".416" stop-color="#ffa0ff"/><stop offset=".486" stop-color="#ffa6ff"/><stop offset=".769" stop-color="#ffd9ff"/><stop offset="1" stop-color="#ffebff"/></linearGradient><linearGradient id="g4b25" gradientUnits="userSpaceOnUse" x1="0" y1="292.37" x2="0" y2="466.44"><stop offset="0" stop-color="#fffaff"/><stop offset=".208" stop-color="#ffdeff"/><stop offset=".347" stop-color="#ffb8ff"/><stop offset=".422" stop-color="#ffafff"/><stop offset=".503" stop-color="#ffb6ff"/><stop offset=".734" stop-color="#ffdaff"/><stop offset="1" stop-color="#ffefff"/></linearGradient><linearGradient id="g4b26" gradientUnits="userSpaceOnUse" x1="0" y1="292.37" x2="0" y2="466.44"><stop offset="0" stop-color="#fffdff"/><stop offset=".15" stop-color="#ffecff"/><stop offset=".358" stop-color="#ffc4ff"/><stop offset=".428" stop-color="#ffbdff"/><stop offset=".509" stop-color="#ffc2ff"/><stop offset=".699" stop-color="#ffdcff"/><stop offset="1" stop-color="#fff2ff"/></linearGradient><linearGradient id="g4b27" gradientUnits="userSpaceOnUse" x1="0" y1="292.37" x2="0" y2="466.44"><stop offset="0" stop-color="#fff"/><stop offset=".15" stop-color="#ffefff"/><stop offset=".37" stop-color="#fcf"/><stop offset=".434" stop-color="#ffc7ff"/><stop offset="1" stop-color="#fff5ff"/></linearGradient><linearGradient id="g4b28" gradientUnits="userSpaceOnUse" x1="0" y1="292.37" x2="0" y2="466.44"><stop offset="0" stop-color="#fff"/><stop offset=".145" stop-color="#fff0ff"/><stop offset=".37" stop-color="#ffcdff"/><stop offset=".439" stop-color="#ffc8ff"/><stop offset="1" stop-color="#fff5ff"/></linearGradient><filter id="fb4b" x="-10%" y="-2%" width="120%" height="104%"><feGaussianBlur stdDeviation="4 0"/></filter><clipPath id="fc4"><rect x="1668.20" y="149.50" width="208.5" height="316.94"/></clipPath></defs><g clip-path="url(#fc4)"><g filter="url(#fb4a)"><rect x="1656.7" y="149.50" width="4.6" height="143.67" fill="url(#g4a0)"/><rect x="1660.7" y="149.50" width="4.6" height="143.67" fill="url(#g4a1)"/><rect x="1664.7" y="149.50" width="4.6" height="143.67" fill="url(#g4a2)"/><rect x="1668.7" y="149.50" width="4.6" height="143.67" fill="url(#g4a3)"/><rect x="1672.7" y="149.50" width="4.6" height="143.67" fill="url(#g4a4)"/><rect x="1676.7" y="149.50" width="4.6" height="143.67" fill="url(#g4a5)"/><rect x="1680.7" y="149.50" width="4.6" height="143.67" fill="url(#g4a6)"/><rect x="1684.7" y="149.50" width="4.6" height="143.67" fill="url(#g4a7)"/><rect x="1688.7" y="149.50" width="4.6" height="143.67" fill="url(#g4a8)"/><rect x="1692.7" y="149.50" width="4.6" height="143.67" fill="url(#g4a9)"/><rect x="1696.7" y="149.50" width="4.6" height="143.67" fill="url(#g4a10)"/><rect x="1700.7" y="149.50" width="4.6" height="143.67" fill="url(#g4a11)"/><rect x="1704.7" y="149.50" width="4.6" height="143.67" fill="url(#g4a12)"/><rect x="1708.7" y="149.50" width="4.6" height="143.67" fill="url(#g4a13)"/><rect x="1712.7" y="149.50" width="4.6" height="143.67" fill="url(#g4a14)"/><rect x="1716.7" y="149.50" width="4.6" height="143.67" fill="url(#g4a15)"/><rect x="1720.7" y="149.50" width="4.6" height="143.67" fill="url(#g4a16)"/><rect x="1724.7" y="149.50" width="4.6" height="143.67" fill="url(#g4a17)"/><rect x="1728.7" y="149.50" width="4.6" height="143.67" fill="url(#g4a18)"/><rect x="1732.7" y="149.50" width="4.6" height="143.67" fill="url(#g4a19)"/><rect x="1736.7" y="149.50" width="4.6" height="143.67" fill="url(#g4a20)"/><rect x="1740.7" y="149.50" width="4.6" height="143.67" fill="url(#g4a21)"/><rect x="1744.7" y="149.50" width="4.6" height="143.67" fill="url(#g4a22)"/><rect x="1748.7" y="149.50" width="4.6" height="143.67" fill="url(#g4a23)"/><rect x="1752.7" y="149.50" width="4.6" height="143.67" fill="url(#g4a24)"/><rect x="1756.7" y="149.50" width="4.6" height="143.67" fill="url(#g4a25)"/><rect x="1760.7" y="149.50" width="4.6" height="143.67" fill="url(#g4a26)"/><rect x="1764.7" y="149.50" width="4.6" height="143.67" fill="url(#g4a27)"/><rect x="1768.7" y="149.50" width="4.6" height="143.67" fill="url(#g4a28)"/><rect x="1772.7" y="149.50" width="4.6" height="143.67" fill="url(#g4a29)"/><rect x="1776.7" y="149.50" width="4.6" height="143.67" fill="url(#g4a30)"/><rect x="1780.7" y="149.50" width="4.6" height="143.67" fill="url(#g4a31)"/><rect x="1784.7" y="149.50" width="4.6" height="143.67" fill="url(#g4a32)"/><rect x="1788.7" y="149.50" width="4.6" height="143.67" fill="url(#g4a33)"/><rect x="1792.7" y="149.50" width="4.6" height="143.67" fill="url(#g4a34)"/><rect x="1796.7" y="149.50" width="4.6" height="143.67" fill="url(#g4a35)"/><rect x="1800.7" y="149.50" width="4.6" height="143.67" fill="url(#g4a36)"/><rect x="1804.7" y="149.50" width="4.6" height="143.67" fill="url(#g4a37)"/><rect x="1808.7" y="149.50" width="4.6" height="143.67" fill="url(#g4a38)"/><rect x="1812.7" y="149.50" width="4.6" height="143.67" fill="url(#g4a39)"/><rect x="1816.7" y="149.50" width="4.6" height="143.67" fill="url(#g4a40)"/><rect x="1820.7" y="149.50" width="4.6" height="143.67" fill="url(#g4a41)"/><rect x="1824.7" y="149.50" width="4.6" height="143.67" fill="url(#g4a42)"/><rect x="1828.7" y="149.50" width="4.6" height="143.67" fill="url(#g4a43)"/><rect x="1832.7" y="149.50" width="4.6" height="143.67" fill="url(#g4a44)"/><rect x="1836.7" y="149.50" width="4.6" height="143.67" fill="url(#g4a45)"/><rect x="1840.7" y="149.50" width="4.6" height="143.67" fill="url(#g4a46)"/><rect x="1844.7" y="149.50" width="4.6" height="143.67" fill="url(#g4a47)"/><rect x="1848.7" y="149.50" width="4.6" height="143.67" fill="url(#g4a48)"/><rect x="1852.7" y="149.50" width="4.6" height="143.67" fill="url(#g4a49)"/><rect x="1856.7" y="149.50" width="4.6" height="143.67" fill="url(#g4a50)"/><rect x="1860.7" y="149.50" width="4.6" height="143.67" fill="url(#g4a51)"/><rect x="1864.7" y="149.50" width="4.6" height="143.67" fill="url(#g4a52)"/><rect x="1868.7" y="149.50" width="4.6" height="143.67" fill="url(#g4a53)"/><rect x="1872.7" y="149.50" width="4.6" height="143.67" fill="url(#g4a54)"/><rect x="1876.7" y="149.50" width="4.6" height="143.67" fill="url(#g4a55)"/><rect x="1880.7" y="149.50" width="4.6" height="143.67" fill="url(#g4a56)"/><rect x="1884.7" y="149.50" width="4.6" height="143.67" fill="url(#g4a57)"/></g><g filter="url(#fb4b)"><rect x="1656.7" y="292.37" width="8.6" height="174.07" fill="url(#g4b0)"/><rect x="1664.7" y="292.37" width="8.6" height="174.07" fill="url(#g4b1)"/><rect x="1672.7" y="292.37" width="8.6" height="174.07" fill="url(#g4b2)"/><rect x="1680.7" y="292.37" width="8.6" height="174.07" fill="url(#g4b3)"/><rect x="1688.7" y="292.37" width="8.6" height="174.07" fill="url(#g4b4)"/><rect x="1696.7" y="292.37" width="8.6" height="174.07" fill="url(#g4b5)"/><rect x="1704.7" y="292.37" width="8.6" height="174.07" fill="url(#g4b6)"/><rect x="1712.7" y="292.37" width="8.6" height="174.07" fill="url(#g4b7)"/><rect x="1720.7" y="292.37" width="8.6" height="174.07" fill="url(#g4b8)"/><rect x="1728.7" y="292.37" width="8.6" height="174.07" fill="url(#g4b9)"/><rect x="1736.7" y="292.37" width="8.6" height="174.07" fill="url(#g4b10)"/><rect x="1744.7" y="292.37" width="8.6" height="174.07" fill="url(#g4b11)"/><rect x="1752.7" y="292.37" width="8.6" height="174.07" fill="url(#g4b12)"/><rect x="1760.7" y="292.37" width="8.6" height="174.07" fill="url(#g4b13)"/><rect x="1768.7" y="292.37" width="8.6" height="174.07" fill="url(#g4b14)"/><rect x="1776.7" y="292.37" width="8.6" height="174.07" fill="url(#g4b15)"/><rect x="1784.7" y="292.37" width="8.6" height="174.07" fill="url(#g4b16)"/><rect x="1792.7" y="292.37" width="8.6" height="174.07" fill="url(#g4b17)"/><rect x="1800.7" y="292.37" width="8.6" height="174.07" fill="url(#g4b18)"/><rect x="1808.7" y="292.37" width="8.6" height="174.07" fill="url(#g4b19)"/><rect x="1816.7" y="292.37" width="8.6" height="174.07" fill="url(#g4b20)"/><rect x="1824.7" y="292.37" width="8.6" height="174.07" fill="url(#g4b21)"/><rect x="1832.7" y="292.37" width="8.6" height="174.07" fill="url(#g4b22)"/><rect x="1840.7" y="292.37" width="8.6" height="174.07" fill="url(#g4b23)"/><rect x="1848.7" y="292.37" width="8.6" height="174.07" fill="url(#g4b24)"/><rect x="1856.7" y="292.37" width="8.6" height="174.07" fill="url(#g4b25)"/><rect x="1864.7" y="292.37" width="8.6" height="174.07" fill="url(#g4b26)"/><rect x="1872.7" y="292.37" width="8.6" height="174.07" fill="url(#g4b27)"/><rect x="1880.7" y="292.37" width="8.6" height="174.07" fill="url(#g4b28)"/></g></g>
<clipPath id="cc4"><rect x="1564.7" y="149.5" width="312.0" height="527.4"/></clipPath>
<g clip-path="url(#cc4)">
<path class="th" d="M1725.2 149.5C1726.8 150.6 1726.1 150.9 1730.0 152.8C1733.9 154.7 1732.3 153.9 1737.0 155.3C1741.7 156.7 1739.6 156.1 1744.0 157.0C1748.4 157.9 1748.2 157.7 1750.3 158.0M1773.7 157.5C1776.1 156.7 1776.0 157.2 1781.0 155.0C1786.0 152.8 1786.1 152.3 1788.7 150.9M1682.6 149.5C1684.2 150.8 1683.9 151.1 1687.5 153.5C1691.1 155.9 1689.7 154.7 1693.5 156.7C1697.3 158.7 1695.4 157.8 1699.0 159.6C1702.6 161.4 1702.5 161.2 1704.3 162.0M1728.6 164.7C1733.4 164.9 1733.0 165.2 1743.0 165.4C1753.0 165.6 1747.6 165.8 1758.6 165.4C1769.6 165.0 1764.9 165.4 1776.0 164.2C1787.1 163.0 1783.8 163.6 1792.0 161.7C1800.2 159.8 1795.5 161.0 1800.5 158.5C1805.5 156.0 1803.8 157.2 1807.1 154.2C1810.4 151.2 1809.4 151.1 1810.5 149.5M1668.5 202.7C1669.7 202.4 1669.8 202.8 1672.0 201.7C1674.2 200.6 1673.3 201.4 1675.0 199.3C1676.7 197.2 1675.3 198.0 1677.0 195.5C1678.7 193.0 1676.0 194.8 1680.0 191.8C1684.0 188.8 1682.3 189.9 1689.0 186.6C1695.7 183.3 1692.3 184.9 1700.0 181.8C1707.7 178.7 1703.6 180.2 1712.0 177.4C1720.4 174.6 1716.9 175.6 1725.2 173.4C1733.5 171.2 1728.6 172.3 1737.0 170.9C1745.4 169.5 1740.6 170.3 1750.3 169.2C1760.0 168.1 1754.9 168.6 1766.0 167.5C1777.1 166.4 1774.0 167.0 1783.7 165.9C1793.4 164.8 1787.8 165.7 1795.0 164.2C1802.2 162.7 1801.9 162.3 1805.4 161.4M1828.0 152.2L1832.0 149.5M1668.5 207.7C1672.3 207.3 1672.2 207.5 1680.0 206.4C1687.8 205.3 1687.9 205.0 1691.8 204.3M1715.2 193.2C1718.1 191.1 1717.9 191.1 1724.0 187.0C1730.1 182.9 1726.6 184.3 1733.6 180.9C1740.6 177.5 1736.7 179.2 1745.0 176.7C1753.3 174.2 1747.3 175.4 1758.6 173.4C1769.9 171.4 1765.1 172.4 1779.0 170.7C1792.9 169.0 1789.1 170.0 1800.4 168.4C1811.7 166.8 1804.6 167.9 1813.0 166.0C1821.4 164.1 1817.2 165.6 1825.5 162.6C1833.8 159.6 1830.2 160.9 1838.0 157.0C1845.8 153.1 1845.3 152.9 1848.9 150.9M1668.5 211.9C1675.0 211.3 1674.7 211.6 1688.0 210.2C1701.3 208.8 1698.2 209.5 1708.5 207.7C1718.8 205.9 1712.3 207.0 1719.0 204.8C1725.7 202.6 1725.4 202.3 1728.6 201.0M1753.6 188.5C1757.1 186.8 1756.7 186.6 1764.0 183.5C1771.3 180.4 1766.1 182.0 1775.4 179.3C1784.7 176.6 1780.9 177.7 1792.0 175.5C1803.1 173.3 1799.1 174.4 1808.8 172.6C1818.5 170.8 1812.6 171.9 1821.0 170.2C1829.4 168.5 1829.6 168.5 1833.9 167.6M1856.4 159.2C1859.3 158.5 1859.1 158.6 1865.0 157.2C1870.9 155.8 1871.0 155.7 1874.0 155.0M1668.5 217.7C1676.3 217.3 1675.9 217.5 1692.0 216.4C1708.1 215.3 1704.2 215.9 1716.9 214.4C1729.6 212.9 1721.7 213.8 1730.0 211.8C1738.3 209.8 1732.6 211.8 1741.9 208.5C1751.2 205.2 1747.1 206.5 1758.0 201.8C1768.9 197.1 1769.0 196.8 1774.5 194.3M1797.0 182.1C1801.7 180.7 1801.5 180.4 1811.0 177.8C1820.5 175.2 1816.5 176.5 1825.5 174.3C1834.5 172.1 1829.6 173.3 1838.0 171.3C1846.4 169.3 1842.9 170.0 1850.6 168.4C1858.3 166.8 1854.3 167.6 1861.0 166.5C1867.7 165.4 1867.4 165.5 1870.6 165.0M1668.5 241.1C1671.7 239.3 1671.4 239.0 1678.0 235.7C1684.6 232.4 1681.7 233.5 1688.4 231.1C1695.1 228.7 1691.3 230.0 1698.0 228.6C1704.7 227.2 1702.2 227.9 1708.5 226.9C1714.8 225.9 1711.2 226.4 1717.0 225.6C1722.8 224.8 1723.0 224.8 1726.0 224.4M1751.0 219.0C1755.0 218.2 1754.9 218.4 1763.0 216.6C1771.1 214.8 1767.1 216.2 1775.4 213.5C1783.7 210.8 1779.7 212.4 1788.0 208.5C1796.3 204.6 1792.1 206.3 1800.4 201.8C1808.7 197.3 1804.6 199.4 1813.0 195.0C1821.4 190.6 1819.0 192.5 1825.5 188.5C1832.0 184.5 1828.0 186.6 1832.5 183.0C1837.0 179.4 1834.7 180.2 1838.9 177.6C1843.1 175.0 1840.6 176.4 1845.0 175.3C1849.4 174.2 1849.8 174.6 1852.2 174.3"/>
<path class="th" stroke-dasharray="5.8 5.6" d="M1864.0 193.8C1859.7 196.1 1859.4 196.1 1851.0 200.7C1842.6 205.3 1846.6 203.5 1838.9 207.7C1831.2 211.9 1835.3 209.6 1828.0 213.2C1820.7 216.8 1826.3 214.3 1817.0 218.6C1807.7 222.9 1811.1 221.5 1800.0 226.2C1788.9 230.9 1790.2 229.5 1783.7 232.8C1777.2 236.1 1781.5 233.9 1780.5 236.0C1779.5 238.1 1779.7 235.7 1780.7 239.0C1781.7 242.3 1781.5 241.4 1783.5 246.0C1785.5 250.6 1785.6 250.5 1786.6 252.7M1741.7 283.9C1740.1 284.9 1739.2 284.8 1737.0 287.0C1734.8 289.2 1734.9 288.1 1735.1 290.5C1735.3 292.9 1734.6 291.9 1737.5 294.3C1740.4 296.7 1735.2 295.0 1743.7 297.6C1752.2 300.2 1750.0 299.2 1763.0 302.0C1776.0 304.8 1775.2 303.1 1782.7 306.1C1790.2 309.1 1784.9 307.3 1785.5 311.0C1786.1 314.7 1785.6 313.8 1784.6 317.1C1783.6 320.4 1783.1 318.4 1782.5 321.0C1781.9 323.6 1781.7 321.9 1782.7 324.9C1783.7 327.9 1782.9 326.8 1785.5 330.0C1788.1 333.2 1784.3 331.0 1790.5 334.6C1796.7 338.2 1794.9 336.9 1804.0 340.8C1813.1 344.7 1810.1 342.9 1817.8 346.3C1825.5 349.7 1821.5 347.7 1827.0 351.0C1832.5 354.3 1831.1 352.8 1834.2 356.1C1837.3 359.4 1835.8 357.7 1836.2 361.0C1836.6 364.3 1837.5 362.2 1835.4 365.9C1833.3 369.6 1834.6 368.1 1830.0 372.0C1825.4 375.9 1830.4 373.3 1821.7 377.6C1813.0 381.9 1816.4 380.3 1804.0 384.8C1791.6 389.3 1791.1 389.1 1784.6 391.2M1730.0 409.6C1723.0 411.6 1722.7 411.9 1709.0 415.5C1695.3 419.1 1702.5 416.9 1689.0 420.5C1675.5 424.1 1675.3 424.4 1668.5 426.3M1668.5 453.7C1672.7 455.4 1672.2 455.1 1681.0 458.7C1689.8 462.3 1690.3 462.6 1694.9 464.6"/>
<path class="tk" stroke-width="3.8" stroke-dasharray="2.6 8.2" d="M1867.3 179.3C1865.5 180.0 1865.3 179.8 1862.0 181.3C1858.7 182.8 1860.6 181.7 1857.3 183.8C1854.0 185.9 1855.4 184.9 1852.0 187.5C1848.6 190.1 1850.5 189.1 1847.2 191.5C1843.9 193.9 1845.3 192.6 1842.0 194.7C1838.7 196.8 1842.4 194.8 1837.2 197.7C1832.0 200.6 1833.3 199.7 1826.3 203.5C1819.3 207.3 1823.3 205.3 1816.3 209.0C1809.3 212.7 1812.9 211.3 1805.4 214.7C1797.9 218.1 1799.5 216.9 1793.7 219.1C1787.9 221.3 1789.8 220.6 1787.9 221.4M1743.7 235.4C1742.0 237.1 1741.8 236.7 1738.5 240.5C1735.2 244.3 1736.4 243.3 1733.9 246.8C1731.4 250.3 1733.0 248.4 1731.0 251.0C1729.0 253.6 1730.5 252.1 1728.0 254.6C1725.5 257.1 1726.7 256.1 1723.5 258.5C1720.3 260.9 1723.3 259.1 1718.3 261.7C1713.3 264.3 1714.9 263.5 1708.5 266.3C1702.1 269.1 1705.5 267.6 1699.0 270.0C1692.5 272.4 1695.3 271.2 1689.0 273.4C1682.7 275.6 1685.8 274.6 1680.0 276.5C1674.2 278.4 1675.3 277.9 1671.5 279.2C1667.7 280.5 1669.5 279.9 1668.5 280.3"/>
<text class="c4" transform="translate(1761.3 158.8) rotate(10)" y="7.3">7</text>
<text class="c4" transform="translate(1716.0 162.6) rotate(0)" y="7.3">6</text>
<text class="c4" transform="translate(1818.0 156.0) rotate(-25)" y="7.3">5</text>
<text class="c4" transform="translate(1704.3 197.8) rotate(-15)" y="7.3">4</text>
<text class="c4" transform="translate(1742.8 193.6) rotate(-20)" y="7.3">3</text>
<text class="c4" transform="translate(1844.8 161.8) rotate(-22)" y="7.3">3</text>
<text class="c4" transform="translate(1786.2 188.4) rotate(-22)" y="7.3">2</text>
<text class="c4" transform="translate(1737.7 221.0) rotate(-10)" y="7.3">1</text>
<text class="c4" transform="translate(1864.8 173.6) rotate(-72)" y="7.3">1</text>
<text class="c4" transform="translate(1766.3 227.9) rotate(-12)" y="7.3">0.5</text>
<text class="c4" transform="translate(1764.2 270.2) rotate(-30)" y="7.3">0.25</text>
<text class="c4" transform="translate(1756.2 400.0) rotate(-16)" y="7.3">0.25</text>
</g>
<polygon points="1876.7,149.5 1865.6,202.9 1852.4,255.1 1851.1,260.2 1847.2,290.3 1843.6,322.3 1832.8,400.3 1823.5,473.0 1812.2,557.9 1802.1,624.4 1797.1,676.9 1876.7,676.9" fill="#696969" stroke="#000" stroke-width="1.1" stroke-linejoin="miter"/>
<path d="M1556.7 149.50H1564.7M1876.7 149.50h7.6M1556.7 202.24H1564.7M1876.7 202.24h7.6M1556.7 254.98H1564.7M1876.7 254.98h7.6M1556.7 307.72H1564.7M1876.7 307.72h7.6M1556.7 360.46H1564.7M1876.7 360.46h7.6M1556.7 413.20H1564.7M1876.7 413.20h7.6M1556.7 465.94H1564.7M1876.7 465.94h7.6M1556.7 518.68H1564.7M1876.7 518.68h7.6M1556.7 571.42H1564.7M1876.7 571.42h7.6M1556.7 624.16H1564.7M1876.7 624.16h7.6M1556.7 676.90H1564.7M1876.7 676.90h7.6M1564.70 676.9v8.6M1616.70 676.9v8.6M1668.70 676.9v8.6M1720.70 676.9v8.6M1772.70 676.9v8.6M1824.70 676.9v8.6M1876.70 676.9v8.6" stroke="#000" stroke-width="1.1" fill="none"/>
<text class="tl" x="1554.1" y="158.6" text-anchor="end">0</text>
<text class="tl" x="1885.3" y="157.9">0</text>
<text class="tl" x="1554.1" y="211.3" text-anchor="end">50</text>
<text class="tl" x="1885.3" y="210.6">50</text>
<text class="tl" x="1554.1" y="264.1" text-anchor="end">100</text>
<text class="tl" x="1885.3" y="263.4">100</text>
<text class="tl" x="1554.1" y="316.8" text-anchor="end">150</text>
<text class="tl" x="1885.3" y="316.1">150</text>
<text class="tl" x="1554.1" y="369.6" text-anchor="end">200</text>
<text class="tl" x="1885.3" y="368.9">200</text>
<text class="tl" x="1554.1" y="422.3" text-anchor="end">250</text>
<text class="tl" x="1885.3" y="421.6">250</text>
<text class="tl" x="1554.1" y="475.0" text-anchor="end">300</text>
<text class="tl" x="1885.3" y="474.3">300</text>
<text class="tl" x="1554.1" y="527.8" text-anchor="end">350</text>
<text class="tl" x="1885.3" y="527.1">350</text>
<text class="tl" x="1554.1" y="580.5" text-anchor="end">400</text>
<text class="tl" x="1885.3" y="579.8">400</text>
<text class="tl" x="1554.1" y="633.3" text-anchor="end">450</text>
<text class="tl" x="1885.3" y="632.6">450</text>
<text class="tl" x="1554.1" y="686.0" text-anchor="end">500</text>
<text class="tl" x="1885.3" y="685.3">500</text>
<text class="tl" x="1564.7" y="709.0" text-anchor="middle">60</text>
<text class="tl" x="1616.7" y="709.0" text-anchor="middle">50</text>
<text class="tl" x="1668.7" y="709.0" text-anchor="middle">40</text>
<text class="tl" x="1720.7" y="709.0" text-anchor="middle">30</text>
<text class="tl" x="1772.7" y="709.0" text-anchor="middle">20</text>
<text class="tl" x="1824.7" y="709.0" text-anchor="middle">10</text>
<text class="tl" x="1876.7" y="709.0" text-anchor="middle">0</text>
</g>
<g id="p6">
<rect x="1938.25" y="150.50" width="312.00" height="528.25" fill="#fff" stroke="#000" stroke-width="2.7" stroke-linejoin="round"/>
<defs><linearGradient id="g5a0" gradientUnits="userSpaceOnUse" x1="0" y1="150.50" x2="0" y2="240.71"><stop offset="0" stop-color="#2a79b8"/><stop offset=".056" stop-color="#287dbd"/><stop offset=".078" stop-color="#2483c4"/><stop offset=".111" stop-color="#1b91d2"/><stop offset=".156" stop-color="#01b5f2"/><stop offset=".167" stop-color="#02b9f2"/><stop offset=".211" stop-color="#09c7ec"/><stop offset=".3" stop-color="#36d5ca"/><stop offset=".389" stop-color="#58ddab"/><stop offset=".478" stop-color="#6ae294"/><stop offset=".556" stop-color="#83e678"/><stop offset=".644" stop-color="#9aea60"/><stop offset=".733" stop-color="#abed4f"/><stop offset="1" stop-color="#bff13e"/></linearGradient><linearGradient id="g5a1" gradientUnits="userSpaceOnUse" x1="0" y1="150.50" x2="0" y2="240.71"><stop offset="0" stop-color="#2a79b8"/><stop offset=".056" stop-color="#287dbd"/><stop offset=".078" stop-color="#2483c4"/><stop offset=".111" stop-color="#1b91d2"/><stop offset=".156" stop-color="#01b5f2"/><stop offset=".167" stop-color="#02b9f2"/><stop offset=".211" stop-color="#09c7ec"/><stop offset=".3" stop-color="#36d5ca"/><stop offset=".389" stop-color="#58ddab"/><stop offset=".478" stop-color="#6ae294"/><stop offset=".556" stop-color="#83e678"/><stop offset=".644" stop-color="#9aea60"/><stop offset=".733" stop-color="#abed4f"/><stop offset="1" stop-color="#bff13e"/></linearGradient><linearGradient id="g5a2" gradientUnits="userSpaceOnUse" x1="0" y1="150.50" x2="0" y2="240.71"><stop offset="0" stop-color="#2a79b8"/><stop offset=".056" stop-color="#287cbd"/><stop offset=".078" stop-color="#2483c4"/><stop offset=".122" stop-color="#1698d8"/><stop offset=".156" stop-color="#02b4f1"/><stop offset=".167" stop-color="#01b9f2"/><stop offset=".222" stop-color="#0dc9e9"/><stop offset=".3" stop-color="#35d5cb"/><stop offset=".389" stop-color="#57ddab"/><stop offset=".478" stop-color="#6ae294"/><stop offset=".556" stop-color="#83e678"/><stop offset=".644" stop-color="#9aea60"/><stop offset=".733" stop-color="#abed4f"/><stop offset="1" stop-color="#bff03f"/></linearGradient><linearGradient id="g5a3" gradientUnits="userSpaceOnUse" x1="0" y1="150.50" x2="0" y2="240.71"><stop offset="0" stop-color="#2b78b6"/><stop offset=".044" stop-color="#297aba"/><stop offset=".078" stop-color="#2681c2"/><stop offset=".122" stop-color="#1895d6"/><stop offset=".156" stop-color="#04b1ee"/><stop offset=".167" stop-color="#01b7f2"/><stop offset=".222" stop-color="#0ac8eb"/><stop offset=".3" stop-color="#33d4cd"/><stop offset=".4" stop-color="#5adea8"/><stop offset=".478" stop-color="#6ae294"/><stop offset=".544" stop-color="#80e67b"/><stop offset=".633" stop-color="#97ea63"/><stop offset=".744" stop-color="#aaed50"/><stop offset="1" stop-color="#bdf040"/></linearGradient><linearGradient id="g5a4" gradientUnits="userSpaceOnUse" x1="0" y1="150.50" x2="0" y2="240.71"><stop offset="0" stop-color="#2b77b5"/><stop offset=".078" stop-color="#277fc0"/><stop offset=".122" stop-color="#1993d4"/><stop offset=".167" stop-color="#00b6f3"/><stop offset=".233" stop-color="#0dc9e9"/><stop offset=".311" stop-color="#35d5cb"/><stop offset=".4" stop-color="#59dda9"/><stop offset=".478" stop-color="#6ae294"/><stop offset=".544" stop-color="#7fe67c"/><stop offset=".622" stop-color="#93e967"/><stop offset=".756" stop-color="#aaed50"/><stop offset="1" stop-color="#baf042"/></linearGradient><linearGradient id="g5a5" gradientUnits="userSpaceOnUse" x1="0" y1="150.50" x2="0" y2="240.71"><stop offset="0" stop-color="#2b76b4"/><stop offset=".078" stop-color="#277ebf"/><stop offset=".122" stop-color="#1a92d3"/><stop offset=".167" stop-color="#02b4f1"/><stop offset=".178" stop-color="#01b8f2"/><stop offset=".233" stop-color="#0ac8eb"/><stop offset=".311" stop-color="#32d4cd"/><stop offset=".4" stop-color="#58ddaa"/><stop offset=".478" stop-color="#69e295"/><stop offset=".544" stop-color="#7ee67d"/><stop offset=".622" stop-color="#92e968"/><stop offset=".778" stop-color="#aaed50"/><stop offset="1" stop-color="#b8ef44"/></linearGradient><linearGradient id="g5a6" gradientUnits="userSpaceOnUse" x1="0" y1="150.50" x2="0" y2="240.71"><stop offset="0" stop-color="#2b76b4"/><stop offset=".078" stop-color="#287dbe"/><stop offset=".122" stop-color="#1b91d2"/><stop offset=".167" stop-color="#04b1ef"/><stop offset=".178" stop-color="#01b7f2"/><stop offset=".244" stop-color="#0dc9e9"/><stop offset=".322" stop-color="#35d5ca"/><stop offset=".4" stop-color="#56ddac"/><stop offset=".489" stop-color="#6be293"/><stop offset=".544" stop-color="#7de57e"/><stop offset=".622" stop-color="#91e969"/><stop offset=".789" stop-color="#a9ed51"/><stop offset="1" stop-color="#b5ef46"/></linearGradient><linearGradient id="g5a7" gradientUnits="userSpaceOnUse" x1="0" y1="150.50" x2="0" y2="240.71"><stop offset="0" stop-color="#2b76b4"/><stop offset=".078" stop-color="#287dbe"/><stop offset=".133" stop-color="#1895d6"/><stop offset=".178" stop-color="#00b6f3"/><stop offset=".244" stop-color="#0bc8ea"/><stop offset=".322" stop-color="#33d4cc"/><stop offset=".411" stop-color="#58ddaa"/><stop offset=".489" stop-color="#69e295"/><stop offset=".556" stop-color="#7ee57d"/><stop offset=".633" stop-color="#91e969"/><stop offset=".711" stop-color="#9eeb5c"/><stop offset=".811" stop-color="#a9ed51"/><stop offset="1" stop-color="#b3ee49"/></linearGradient><linearGradient id="g5a8" gradientUnits="userSpaceOnUse" x1="0" y1="150.50" x2="0" y2="240.71"><stop offset="0" stop-color="#2b76b5"/><stop offset=".078" stop-color="#287dbe"/><stop offset=".133" stop-color="#1994d5"/><stop offset=".178" stop-color="#01b4f2"/><stop offset=".189" stop-color="#01b8f2"/><stop offset=".244" stop-color="#09c7eb"/><stop offset=".344" stop-color="#3ad6c6"/><stop offset=".422" stop-color="#59dda8"/><stop offset=".5" stop-color="#6ae294"/><stop offset=".567" stop-color="#7fe67d"/><stop offset=".633" stop-color="#8ee86c"/><stop offset=".711" stop-color="#9ceb5e"/><stop offset=".811" stop-color="#a7ec53"/><stop offset="1" stop-color="#b0ee4b"/></linearGradient><linearGradient id="g5a9" gradientUnits="userSpaceOnUse" x1="0" y1="150.50" x2="0" y2="240.71"><stop offset="0" stop-color="#2b77b6"/><stop offset=".078" stop-color="#287dbe"/><stop offset=".133" stop-color="#1a93d4"/><stop offset=".178" stop-color="#03b2ef"/><stop offset=".189" stop-color="#01b7f2"/><stop offset=".256" stop-color="#0cc8ea"/><stop offset=".333" stop-color="#33d4cd"/><stop offset=".422" stop-color="#57ddab"/><stop offset=".511" stop-color="#6ae294"/><stop offset=".578" stop-color="#7ee67d"/><stop offset=".644" stop-color="#8ee86c"/><stop offset=".8" stop-color="#a3ec57"/><stop offset="1" stop-color="#adee4d"/></linearGradient><linearGradient id="g5a10" gradientUnits="userSpaceOnUse" x1="0" y1="150.50" x2="0" y2="240.71"><stop offset="0" stop-color="#2a78b7"/><stop offset=".067" stop-color="#287cbd"/><stop offset=".089" stop-color="#2581c2"/><stop offset=".133" stop-color="#1a92d3"/><stop offset=".189" stop-color="#00b7f3"/><stop offset=".256" stop-color="#0ac8eb"/><stop offset=".344" stop-color="#35d5ca"/><stop offset=".433" stop-color="#58dda9"/><stop offset=".522" stop-color="#6be293"/><stop offset=".578" stop-color="#7be581"/><stop offset=".644" stop-color="#8ae770"/><stop offset=".789" stop-color="#9feb5b"/><stop offset="1" stop-color="#aaed50"/></linearGradient><linearGradient id="g5a11" gradientUnits="userSpaceOnUse" x1="0" y1="150.50" x2="0" y2="240.71"><stop offset="0" stop-color="#2a78b7"/><stop offset=".067" stop-color="#287cbd"/><stop offset=".089" stop-color="#2581c2"/><stop offset=".144" stop-color="#1797d7"/><stop offset=".189" stop-color="#00b6f3"/><stop offset=".2" stop-color="#01b9f2"/><stop offset=".256" stop-color="#09c7eb"/><stop offset=".356" stop-color="#38d5c8"/><stop offset=".444" stop-color="#59dda9"/><stop offset=".533" stop-color="#6ae294"/><stop offset=".622" stop-color="#81e679"/><stop offset=".7" stop-color="#90e96a"/><stop offset=".778" stop-color="#9aea60"/><stop offset="1" stop-color="#a6ec54"/></linearGradient><linearGradient id="g5a12" gradientUnits="userSpaceOnUse" x1="0" y1="150.50" x2="0" y2="240.71"><stop offset="0" stop-color="#2a78b7"/><stop offset=".089" stop-color="#2681c2"/><stop offset=".144" stop-color="#1896d6"/><stop offset=".189" stop-color="#01b5f2"/><stop offset=".2" stop-color="#01b8f2"/><stop offset=".256" stop-color="#09c7ec"/><stop offset=".356" stop-color="#36d5c9"/><stop offset=".444" stop-color="#57ddab"/><stop offset=".544" stop-color="#6ae294"/><stop offset=".633" stop-color="#7fe67c"/><stop offset=".711" stop-color="#8de86d"/><stop offset=".789" stop-color="#96ea64"/><stop offset="1" stop-color="#a0eb5a"/></linearGradient><linearGradient id="g5a13" gradientUnits="userSpaceOnUse" x1="0" y1="150.50" x2="0" y2="240.71"><stop offset="0" stop-color="#2b77b6"/><stop offset=".067" stop-color="#287cbd"/><stop offset=".089" stop-color="#2581c2"/><stop offset=".144" stop-color="#1797d8"/><stop offset=".189" stop-color="#00b6f3"/><stop offset=".256" stop-color="#0ac7eb"/><stop offset=".356" stop-color="#35d5ca"/><stop offset=".456" stop-color="#58ddaa"/><stop offset=".567" stop-color="#6be293"/><stop offset=".644" stop-color="#7de57e"/><stop offset=".8" stop-color="#92e968"/><stop offset="1" stop-color="#9bea5f"/></linearGradient><linearGradient id="g5a14" gradientUnits="userSpaceOnUse" x1="0" y1="150.50" x2="0" y2="240.71"><stop offset="0" stop-color="#2b77b6"/><stop offset=".078" stop-color="#277ebf"/><stop offset=".133" stop-color="#1994d5"/><stop offset=".178" stop-color="#02b3f0"/><stop offset=".189" stop-color="#01b8f2"/><stop offset=".256" stop-color="#0ac8eb"/><stop offset=".389" stop-color="#40d7c2"/><stop offset=".467" stop-color="#58ddaa"/><stop offset=".511" stop-color="#61e09f"/><stop offset=".578" stop-color="#6ae294"/><stop offset=".667" stop-color="#7ce57f"/><stop offset=".744" stop-color="#87e773"/><stop offset=".856" stop-color="#90e96a"/><stop offset="1" stop-color="#95e965"/></linearGradient><linearGradient id="g5a15" gradientUnits="userSpaceOnUse" x1="0" y1="150.50" x2="0" y2="240.71"><stop offset="0" stop-color="#2b77b6"/><stop offset=".078" stop-color="#267fc0"/><stop offset=".133" stop-color="#1797d7"/><stop offset=".178" stop-color="#01b5f2"/><stop offset=".189" stop-color="#01b8f2"/><stop offset=".256" stop-color="#0ac8eb"/><stop offset=".389" stop-color="#3ed6c3"/><stop offset=".467" stop-color="#55dcad"/><stop offset=".522" stop-color="#60e0a0"/><stop offset=".756" stop-color="#83e678"/><stop offset=".856" stop-color="#8ae870"/><stop offset="1" stop-color="#8ee86c"/></linearGradient><linearGradient id="g5a16" gradientUnits="userSpaceOnUse" x1="0" y1="150.50" x2="0" y2="240.71"><stop offset="0" stop-color="#2b77b6"/><stop offset=".078" stop-color="#2680c1"/><stop offset=".122" stop-color="#1b91d2"/><stop offset=".178" stop-color="#01b4f2"/><stop offset=".189" stop-color="#01b8f2"/><stop offset=".256" stop-color="#09c7eb"/><stop offset=".4" stop-color="#3ed6c3"/><stop offset=".489" stop-color="#57ddab"/><stop offset=".533" stop-color="#60dfa1"/><stop offset=".767" stop-color="#7fe67c"/><stop offset="1" stop-color="#87e773"/></linearGradient><linearGradient id="g5a17" gradientUnits="userSpaceOnUse" x1="0" y1="150.50" x2="0" y2="240.71"><stop offset="0" stop-color="#2b77b6"/><stop offset=".078" stop-color="#277fc0"/><stop offset=".133" stop-color="#1895d6"/><stop offset=".189" stop-color="#00b7f3"/><stop offset=".267" stop-color="#0ac8eb"/><stop offset=".411" stop-color="#3ed6c4"/><stop offset=".5" stop-color="#57ddac"/><stop offset=".544" stop-color="#5fdfa2"/><stop offset=".778" stop-color="#7ae581"/><stop offset="1" stop-color="#81e679"/></linearGradient><linearGradient id="g5a18" gradientUnits="userSpaceOnUse" x1="0" y1="150.50" x2="0" y2="240.71"><stop offset="0" stop-color="#2b77b5"/><stop offset=".078" stop-color="#287dbe"/><stop offset=".133" stop-color="#1a92d3"/><stop offset=".189" stop-color="#02b3f0"/><stop offset=".2" stop-color="#01b7f2"/><stop offset=".278" stop-color="#0ac8eb"/><stop offset=".422" stop-color="#3dd6c4"/><stop offset=".511" stop-color="#56dcad"/><stop offset=".556" stop-color="#5edfa3"/><stop offset=".789" stop-color="#76e486"/><stop offset="1" stop-color="#7ce580"/></linearGradient><linearGradient id="g5a19" gradientUnits="userSpaceOnUse" x1="0" y1="150.50" x2="0" y2="240.71"><stop offset="0" stop-color="#2b76b5"/><stop offset=".089" stop-color="#277fc0"/><stop offset=".144" stop-color="#1a93d4"/><stop offset=".2" stop-color="#01b4f1"/><stop offset=".211" stop-color="#01b8f2"/><stop offset=".289" stop-color="#0ac8eb"/><stop offset=".433" stop-color="#3cd6c5"/><stop offset=".567" stop-color="#5ddea5"/><stop offset=".8" stop-color="#72e38b"/><stop offset="1" stop-color="#76e486"/></linearGradient><linearGradient id="g5a20" gradientUnits="userSpaceOnUse" x1="0" y1="150.50" x2="0" y2="240.71"><stop offset="0" stop-color="#2b76b4"/><stop offset=".089" stop-color="#287dbe"/><stop offset=".156" stop-color="#1895d6"/><stop offset=".211" stop-color="#00b6f3"/><stop offset=".3" stop-color="#0ac8eb"/><stop offset=".444" stop-color="#3cd6c5"/><stop offset=".578" stop-color="#5bdea6"/><stop offset=".656" stop-color="#64e19b"/><stop offset=".811" stop-color="#6ee390"/><stop offset="1" stop-color="#72e38b"/></linearGradient><linearGradient id="g5a21" gradientUnits="userSpaceOnUse" x1="0" y1="150.50" x2="0" y2="240.71"><stop offset="0" stop-color="#2b76b4"/><stop offset=".089" stop-color="#287dbe"/><stop offset=".156" stop-color="#1994d5"/><stop offset=".211" stop-color="#02b3f0"/><stop offset=".222" stop-color="#01b7f2"/><stop offset=".311" stop-color="#0bc8ea"/><stop offset=".456" stop-color="#3bd6c6"/><stop offset=".589" stop-color="#5adea8"/><stop offset=".733" stop-color="#67e198"/><stop offset="1" stop-color="#6fe38f"/></linearGradient><linearGradient id="g5a22" gradientUnits="userSpaceOnUse" x1="0" y1="150.50" x2="0" y2="240.71"><stop offset="0" stop-color="#2b76b5"/><stop offset=".089" stop-color="#287dbe"/><stop offset=".156" stop-color="#1a93d4"/><stop offset=".222" stop-color="#00b6f3"/><stop offset=".322" stop-color="#0cc8ea"/><stop offset=".467" stop-color="#3ad6c7"/><stop offset=".611" stop-color="#5adea8"/><stop offset=".756" stop-color="#66e199"/><stop offset="1" stop-color="#6ce292"/></linearGradient><linearGradient id="g5a23" gradientUnits="userSpaceOnUse" x1="0" y1="150.50" x2="0" y2="240.71"><stop offset="0" stop-color="#2b77b5"/><stop offset=".089" stop-color="#287ebf"/><stop offset=".156" stop-color="#1a93d4"/><stop offset=".222" stop-color="#01b5f2"/><stop offset=".233" stop-color="#01b8f2"/><stop offset=".322" stop-color="#0ac7eb"/><stop offset=".478" stop-color="#39d5c7"/><stop offset=".622" stop-color="#59dda9"/><stop offset=".767" stop-color="#65e19a"/><stop offset="1" stop-color="#6ae294"/></linearGradient><linearGradient id="g5a24" gradientUnits="userSpaceOnUse" x1="0" y1="150.50" x2="0" y2="240.71"><stop offset="0" stop-color="#2b77b6"/><stop offset=".089" stop-color="#277ebf"/><stop offset=".156" stop-color="#1a92d3"/><stop offset=".233" stop-color="#00b7f3"/><stop offset=".333" stop-color="#0ac8eb"/><stop offset=".489" stop-color="#39d5c7"/><stop offset=".644" stop-color="#59dda9"/><stop offset=".778" stop-color="#64e09c"/><stop offset="1" stop-color="#69e296"/></linearGradient><linearGradient id="g5a25" gradientUnits="userSpaceOnUse" x1="0" y1="150.50" x2="0" y2="240.71"><stop offset="0" stop-color="#2b77b6"/><stop offset=".089" stop-color="#277ebf"/><stop offset=".167" stop-color="#1896d7"/><stop offset=".233" stop-color="#00b6f3"/><stop offset=".344" stop-color="#0cc9ea"/><stop offset=".5" stop-color="#39d5c8"/><stop offset=".656" stop-color="#58ddaa"/><stop offset=".789" stop-color="#63e09d"/><stop offset="1" stop-color="#67e197"/></linearGradient><linearGradient id="g5a26" gradientUnits="userSpaceOnUse" x1="0" y1="150.50" x2="0" y2="240.71"><stop offset="0" stop-color="#2b77b6"/><stop offset=".089" stop-color="#287ebf"/><stop offset=".167" stop-color="#1895d6"/><stop offset=".233" stop-color="#01b5f2"/><stop offset=".244" stop-color="#01b7f2"/><stop offset=".344" stop-color="#0ac8eb"/><stop offset=".511" stop-color="#39d5c8"/><stop offset=".667" stop-color="#57ddab"/><stop offset=".8" stop-color="#62e09e"/><stop offset="1" stop-color="#66e199"/></linearGradient><linearGradient id="g5a27" gradientUnits="userSpaceOnUse" x1="0" y1="150.50" x2="0" y2="240.71"><stop offset="0" stop-color="#2b77b6"/><stop offset=".089" stop-color="#287dbe"/><stop offset=".167" stop-color="#1994d5"/><stop offset=".244" stop-color="#01b7f3"/><stop offset=".356" stop-color="#0bc8ea"/><stop offset=".511" stop-color="#36d5ca"/><stop offset=".678" stop-color="#56dcac"/><stop offset=".811" stop-color="#61e0a0"/><stop offset="1" stop-color="#65e19a"/></linearGradient><linearGradient id="g5a28" gradientUnits="userSpaceOnUse" x1="0" y1="150.50" x2="0" y2="240.71"><stop offset="0" stop-color="#2b77b5"/><stop offset=".089" stop-color="#287dbe"/><stop offset=".167" stop-color="#1993d4"/><stop offset=".244" stop-color="#00b7f3"/><stop offset=".356" stop-color="#0ac8eb"/><stop offset=".522" stop-color="#37d5c9"/><stop offset=".689" stop-color="#55dcad"/><stop offset=".822" stop-color="#5fdfa1"/><stop offset="1" stop-color="#64e09c"/></linearGradient><linearGradient id="g5a29" gradientUnits="userSpaceOnUse" x1="0" y1="150.50" x2="0" y2="240.71"><stop offset="0" stop-color="#2b77b5"/><stop offset=".1" stop-color="#267fc0"/><stop offset=".167" stop-color="#1a93d4"/><stop offset=".244" stop-color="#00b6f3"/><stop offset=".356" stop-color="#0ac7eb"/><stop offset=".533" stop-color="#37d5c9"/><stop offset=".689" stop-color="#52dbb1"/><stop offset=".822" stop-color="#5ddfa4"/><stop offset="1" stop-color="#63e09d"/></linearGradient><linearGradient id="g5a30" gradientUnits="userSpaceOnUse" x1="0" y1="150.50" x2="0" y2="240.71"><stop offset="0" stop-color="#2b77b5"/><stop offset=".1" stop-color="#277fc0"/><stop offset=".167" stop-color="#1a92d3"/><stop offset=".244" stop-color="#01b5f2"/><stop offset=".256" stop-color="#01b7f2"/><stop offset=".367" stop-color="#0ac8eb"/><stop offset=".522" stop-color="#33d4cc"/><stop offset=".689" stop-color="#50dab4"/><stop offset=".822" stop-color="#5bdea6"/><stop offset="1" stop-color="#62e09e"/></linearGradient><linearGradient id="g5a31" gradientUnits="userSpaceOnUse" x1="0" y1="150.50" x2="0" y2="240.71"><stop offset="0" stop-color="#2b76b5"/><stop offset=".1" stop-color="#277fc0"/><stop offset=".178" stop-color="#1896d6"/><stop offset=".244" stop-color="#01b4f1"/><stop offset=".256" stop-color="#01b7f3"/><stop offset=".367" stop-color="#0ac8eb"/><stop offset=".533" stop-color="#33d4cc"/><stop offset=".689" stop-color="#4edab6"/><stop offset=".822" stop-color="#5adea7"/><stop offset="1" stop-color="#61e09f"/></linearGradient><linearGradient id="g5a32" gradientUnits="userSpaceOnUse" x1="0" y1="150.50" x2="0" y2="240.71"><stop offset="0" stop-color="#2b76b5"/><stop offset=".1" stop-color="#277ebf"/><stop offset=".178" stop-color="#1895d6"/><stop offset=".256" stop-color="#00b7f3"/><stop offset=".367" stop-color="#0ac7eb"/><stop offset=".533" stop-color="#32d4cd"/><stop offset=".711" stop-color="#4fdab4"/><stop offset=".822" stop-color="#5adea8"/><stop offset="1" stop-color="#60dfa0"/></linearGradient><linearGradient id="g5a33" gradientUnits="userSpaceOnUse" x1="0" y1="150.50" x2="0" y2="240.71"><stop offset="0" stop-color="#2b76b5"/><stop offset=".1" stop-color="#277ebf"/><stop offset=".178" stop-color="#1994d5"/><stop offset=".256" stop-color="#00b6f3"/><stop offset=".378" stop-color="#0bc8ea"/><stop offset=".544" stop-color="#33d4cc"/><stop offset=".722" stop-color="#50dab4"/><stop offset=".833" stop-color="#5adea8"/><stop offset="1" stop-color="#5fdfa1"/></linearGradient><linearGradient id="g5a34" gradientUnits="userSpaceOnUse" x1="0" y1="150.50" x2="0" y2="240.71"><stop offset="0" stop-color="#2b77b5"/><stop offset=".1" stop-color="#277ebf"/><stop offset=".178" stop-color="#1993d4"/><stop offset=".256" stop-color="#00b6f3"/><stop offset=".378" stop-color="#0ac8eb"/><stop offset=".544" stop-color="#32d4cd"/><stop offset=".722" stop-color="#4edab5"/><stop offset=".833" stop-color="#59dda9"/><stop offset="1" stop-color="#5fdfa2"/></linearGradient><linearGradient id="g5a35" gradientUnits="userSpaceOnUse" x1="0" y1="150.50" x2="0" y2="240.71"><stop offset="0" stop-color="#2b77b5"/><stop offset=".1" stop-color="#277ebf"/><stop offset=".178" stop-color="#1a93d4"/><stop offset=".256" stop-color="#01b5f2"/><stop offset=".267" stop-color="#01b7f2"/><stop offset=".378" stop-color="#0ac8eb"/><stop offset=".544" stop-color="#31d4ce"/><stop offset=".711" stop-color="#4bd9b9"/><stop offset=".844" stop-color="#58ddaa"/><stop offset="1" stop-color="#5edfa3"/></linearGradient><linearGradient id="g5a36" gradientUnits="userSpaceOnUse" x1="0" y1="150.50" x2="0" y2="240.71"><stop offset="0" stop-color="#2b77b6"/><stop offset=".1" stop-color="#277ebf"/><stop offset=".178" stop-color="#1a93d4"/><stop offset=".256" stop-color="#01b5f2"/><stop offset=".267" stop-color="#01b7f2"/><stop offset=".378" stop-color="#0ac8eb"/><stop offset=".544" stop-color="#30d3cf"/><stop offset=".7" stop-color="#48d8bb"/><stop offset=".856" stop-color="#57ddab"/><stop offset="1" stop-color="#5ddea4"/></linearGradient><linearGradient id="g5a37" gradientUnits="userSpaceOnUse" x1="0" y1="150.50" x2="0" y2="240.71"><stop offset="0" stop-color="#2b77b6"/><stop offset=".1" stop-color="#277ebf"/><stop offset=".178" stop-color="#1a93d4"/><stop offset=".256" stop-color="#01b5f2"/><stop offset=".267" stop-color="#01b7f2"/><stop offset=".378" stop-color="#0ac8eb"/><stop offset=".544" stop-color="#30d3cf"/><stop offset=".7" stop-color="#48d8bc"/><stop offset=".856" stop-color="#57ddab"/><stop offset="1" stop-color="#5ddea4"/></linearGradient><linearGradient id="g5a38" gradientUnits="userSpaceOnUse" x1="0" y1="150.50" x2="0" y2="240.71"><stop offset="0" stop-color="#2b77b6"/><stop offset=".1" stop-color="#277ebf"/><stop offset=".178" stop-color="#1a93d4"/><stop offset=".256" stop-color="#01b5f2"/><stop offset=".267" stop-color="#01b7f2"/><stop offset=".378" stop-color="#0ac8eb"/><stop offset=".544" stop-color="#30d3cf"/><stop offset=".7" stop-color="#48d8bc"/><stop offset=".856" stop-color="#57ddab"/><stop offset="1" stop-color="#5ddea4"/></linearGradient><filter id="fb5a" x="-10%" y="-2%" width="120%" height="104%"><feGaussianBlur stdDeviation="3 0"/></filter><linearGradient id="g5b0" gradientUnits="userSpaceOnUse" x1="0" y1="240.71" x2="0" y2="678.75"><stop offset="0" stop-color="#bff13e"/><stop offset=".05" stop-color="#caf236"/><stop offset=".158" stop-color="#d2f430"/><stop offset=".22" stop-color="#d4f42f"/><stop offset=".309" stop-color="#cef333"/><stop offset=".362" stop-color="#c8f237"/><stop offset=".519" stop-color="#9eeb5c"/><stop offset=".638" stop-color="#88e772"/><stop offset=".874" stop-color="#70e38d"/><stop offset="1" stop-color="#6ae294"/></linearGradient><linearGradient id="g5b1" gradientUnits="userSpaceOnUse" x1="0" y1="240.71" x2="0" y2="678.75"><stop offset="0" stop-color="#bff03f"/><stop offset=".05" stop-color="#c9f236"/><stop offset=".156" stop-color="#d2f430"/><stop offset=".22" stop-color="#d3f430"/><stop offset=".309" stop-color="#cef333"/><stop offset=".362" stop-color="#c7f238"/><stop offset=".519" stop-color="#9deb5d"/><stop offset=".634" stop-color="#88e772"/><stop offset=".874" stop-color="#70e38d"/><stop offset="1" stop-color="#6ae294"/></linearGradient><linearGradient id="g5b2" gradientUnits="userSpaceOnUse" x1="0" y1="240.71" x2="0" y2="678.75"><stop offset="0" stop-color="#bbf042"/><stop offset=".062" stop-color="#c7f238"/><stop offset=".14" stop-color="#cdf334"/><stop offset=".215" stop-color="#cef333"/><stop offset=".302" stop-color="#caf236"/><stop offset=".384" stop-color="#bcf041"/><stop offset=".455" stop-color="#abed4f"/><stop offset=".515" stop-color="#9aea60"/><stop offset=".616" stop-color="#88e772"/><stop offset=".874" stop-color="#6ee38f"/><stop offset="1" stop-color="#69e295"/></linearGradient><linearGradient id="g5b3" gradientUnits="userSpaceOnUse" x1="0" y1="240.71" x2="0" y2="678.75"><stop offset="0" stop-color="#b7ef45"/><stop offset=".057" stop-color="#c1f13d"/><stop offset=".13" stop-color="#c7f238"/><stop offset=".277" stop-color="#c5f239"/><stop offset=".343" stop-color="#bef03f"/><stop offset=".412" stop-color="#b1ee4a"/><stop offset=".513" stop-color="#96e964"/><stop offset=".6" stop-color="#86e774"/><stop offset=".872" stop-color="#6de390"/><stop offset="1" stop-color="#69e295"/></linearGradient><linearGradient id="g5b4" gradientUnits="userSpaceOnUse" x1="0" y1="240.71" x2="0" y2="678.75"><stop offset="0" stop-color="#b3ee49"/><stop offset=".13" stop-color="#c0f13d"/><stop offset=".27" stop-color="#bef03f"/><stop offset=".412" stop-color="#aced4f"/><stop offset=".506" stop-color="#93e967"/><stop offset=".588" stop-color="#85e776"/><stop offset=".872" stop-color="#6ce292"/><stop offset="1" stop-color="#69e295"/></linearGradient><linearGradient id="g5b5" gradientUnits="userSpaceOnUse" x1="0" y1="240.71" x2="0" y2="678.75"><stop offset="0" stop-color="#aeee4c"/><stop offset=".128" stop-color="#b9f043"/><stop offset=".261" stop-color="#b7ef45"/><stop offset=".389" stop-color="#a9ed51"/><stop offset=".513" stop-color="#8de86d"/><stop offset=".597" stop-color="#81e67a"/><stop offset=".872" stop-color="#6ae293"/><stop offset="1" stop-color="#69e296"/></linearGradient><linearGradient id="g5b6" gradientUnits="userSpaceOnUse" x1="0" y1="240.71" x2="0" y2="678.75"><stop offset="0" stop-color="#a9ed51"/><stop offset=".14" stop-color="#b2ee49"/><stop offset=".293" stop-color="#aded4e"/><stop offset=".387" stop-color="#a1eb59"/><stop offset=".522" stop-color="#87e773"/><stop offset=".604" stop-color="#7ee57e"/><stop offset=".856" stop-color="#6ae294"/><stop offset="1" stop-color="#68e296"/></linearGradient><linearGradient id="g5b7" gradientUnits="userSpaceOnUse" x1="0" y1="240.71" x2="0" y2="678.75"><stop offset="0" stop-color="#a0eb5a"/><stop offset=".114" stop-color="#aaed50"/><stop offset=".233" stop-color="#a9ed51"/><stop offset=".375" stop-color="#99ea61"/><stop offset=".506" stop-color="#85e775"/><stop offset=".62" stop-color="#79e582"/><stop offset=".84" stop-color="#6ae294"/><stop offset="1" stop-color="#68e296"/></linearGradient><linearGradient id="g5b8" gradientUnits="userSpaceOnUse" x1="0" y1="240.71" x2="0" y2="678.75"><stop offset="0" stop-color="#97ea63"/><stop offset=".119" stop-color="#a1eb59"/><stop offset=".222" stop-color="#a0eb5a"/><stop offset=".657" stop-color="#74e488"/><stop offset=".826" stop-color="#6ae294"/><stop offset="1" stop-color="#68e197"/></linearGradient><linearGradient id="g5b9" gradientUnits="userSpaceOnUse" x1="0" y1="240.71" x2="0" y2="678.75"><stop offset="0" stop-color="#8ce86e"/><stop offset=".119" stop-color="#96ea64"/><stop offset=".217" stop-color="#96ea64"/><stop offset=".675" stop-color="#71e38c"/><stop offset=".81" stop-color="#6ae294"/><stop offset="1" stop-color="#67e197"/></linearGradient><linearGradient id="g5b10" gradientUnits="userSpaceOnUse" x1="0" y1="240.71" x2="0" y2="678.75"><stop offset="0" stop-color="#81e679"/><stop offset=".114" stop-color="#8ce86e"/><stop offset=".211" stop-color="#8de86d"/><stop offset=".7" stop-color="#6ee390"/><stop offset="1" stop-color="#67e198"/></linearGradient><linearGradient id="g5b11" gradientUnits="userSpaceOnUse" x1="0" y1="240.71" x2="0" y2="678.75"><stop offset="0" stop-color="#78e484"/><stop offset=".105" stop-color="#83e677"/><stop offset=".208" stop-color="#85e775"/><stop offset=".728" stop-color="#6be293"/><stop offset="1" stop-color="#67e198"/></linearGradient><linearGradient id="g5b12" gradientUnits="userSpaceOnUse" x1="0" y1="240.71" x2="0" y2="678.75"><stop offset="0" stop-color="#71e38c"/><stop offset=".105" stop-color="#7ce57f"/><stop offset=".211" stop-color="#7fe67d"/><stop offset=".686" stop-color="#6be293"/><stop offset="1" stop-color="#66e199"/></linearGradient><linearGradient id="g5b13" gradientUnits="userSpaceOnUse" x1="0" y1="240.71" x2="0" y2="678.75"><stop offset="0" stop-color="#6ce292"/><stop offset=".11" stop-color="#76e486"/><stop offset=".215" stop-color="#79e583"/><stop offset=".636" stop-color="#6ae294"/><stop offset="1" stop-color="#66e199"/></linearGradient><linearGradient id="g5b14" gradientUnits="userSpaceOnUse" x1="0" y1="240.71" x2="0" y2="678.75"><stop offset="0" stop-color="#69e295"/><stop offset=".222" stop-color="#74e489"/><stop offset=".419" stop-color="#6ce292"/><stop offset="1" stop-color="#65e19a"/></linearGradient><linearGradient id="g5b15" gradientUnits="userSpaceOnUse" x1="0" y1="240.71" x2="0" y2="678.75"><stop offset="0" stop-color="#67e198"/><stop offset=".229" stop-color="#6fe38e"/><stop offset=".405" stop-color="#69e295"/><stop offset="1" stop-color="#65e19a"/></linearGradient><linearGradient id="g5b16" gradientUnits="userSpaceOnUse" x1="0" y1="240.71" x2="0" y2="678.75"><stop offset="0" stop-color="#65e19a"/><stop offset=".233" stop-color="#6be293"/><stop offset=".412" stop-color="#67e197"/><stop offset="1" stop-color="#65e19b"/></linearGradient><linearGradient id="g5b17" gradientUnits="userSpaceOnUse" x1="0" y1="240.71" x2="0" y2="678.75"><stop offset="0" stop-color="#63e09d"/><stop offset=".236" stop-color="#69e295"/><stop offset="1" stop-color="#64e19b"/></linearGradient><linearGradient id="g5b18" gradientUnits="userSpaceOnUse" x1="0" y1="240.71" x2="0" y2="678.75"><stop offset="0" stop-color="#61e09f"/><stop offset=".233" stop-color="#68e197"/><stop offset="1" stop-color="#64e19b"/></linearGradient><linearGradient id="g5b19" gradientUnits="userSpaceOnUse" x1="0" y1="240.71" x2="0" y2="678.75"><stop offset="0" stop-color="#60dfa0"/><stop offset=".231" stop-color="#67e198"/><stop offset="1" stop-color="#64e09c"/></linearGradient><linearGradient id="g5b20" gradientUnits="userSpaceOnUse" x1="0" y1="240.71" x2="0" y2="678.75"><stop offset="0" stop-color="#5fdfa2"/><stop offset=".227" stop-color="#66e199"/><stop offset="1" stop-color="#64e09c"/></linearGradient><linearGradient id="g5b21" gradientUnits="userSpaceOnUse" x1="0" y1="240.71" x2="0" y2="678.75"><stop offset="0" stop-color="#5ddfa4"/><stop offset=".082" stop-color="#63e09d"/><stop offset=".222" stop-color="#65e19a"/><stop offset="1" stop-color="#64e09c"/></linearGradient><linearGradient id="g5b22" gradientUnits="userSpaceOnUse" x1="0" y1="240.71" x2="0" y2="678.75"><stop offset="0" stop-color="#5ddea4"/><stop offset=".08" stop-color="#62e09e"/><stop offset=".22" stop-color="#65e19a"/><stop offset="1" stop-color="#64e09c"/></linearGradient><linearGradient id="g5b23" gradientUnits="userSpaceOnUse" x1="0" y1="240.71" x2="0" y2="678.75"><stop offset="0" stop-color="#5ddea4"/><stop offset=".08" stop-color="#62e09e"/><stop offset=".22" stop-color="#65e19a"/><stop offset="1" stop-color="#64e09c"/></linearGradient><filter id="fb5b" x="-10%" y="-2%" width="120%" height="104%"><feGaussianBlur stdDeviation="5 0"/></filter><clipPath id="fc5"><rect x="2041.75" y="150.50" width="208.5" height="528.25"/></clipPath></defs><g clip-path="url(#fc5)"><g filter="url(#fb5a)"><rect x="2030.2" y="150.50" width="6.6" height="91.01" fill="url(#g5a0)"/><rect x="2036.2" y="150.50" width="6.6" height="91.01" fill="url(#g5a1)"/><rect x="2042.2" y="150.50" width="6.6" height="91.01" fill="url(#g5a2)"/><rect x="2048.2" y="150.50" width="6.6" height="91.01" fill="url(#g5a3)"/><rect x="2054.2" y="150.50" width="6.6" height="91.01" fill="url(#g5a4)"/><rect x="2060.2" y="150.50" width="6.6" height="91.01" fill="url(#g5a5)"/><rect x="2066.2" y="150.50" width="6.6" height="91.01" fill="url(#g5a6)"/><rect x="2072.2" y="150.50" width="6.6" height="91.01" fill="url(#g5a7)"/><rect x="2078.2" y="150.50" width="6.6" height="91.01" fill="url(#g5a8)"/><rect x="2084.2" y="150.50" width="6.6" height="91.01" fill="url(#g5a9)"/><rect x="2090.2" y="150.50" width="6.6" height="91.01" fill="url(#g5a10)"/><rect x="2096.2" y="150.50" width="6.6" height="91.01" fill="url(#g5a11)"/><rect x="2102.2" y="150.50" width="6.6" height="91.01" fill="url(#g5a12)"/><rect x="2108.2" y="150.50" width="6.6" height="91.01" fill="url(#g5a13)"/><rect x="2114.2" y="150.50" width="6.6" height="91.01" fill="url(#g5a14)"/><rect x="2120.2" y="150.50" width="6.6" height="91.01" fill="url(#g5a15)"/><rect x="2126.2" y="150.50" width="6.6" height="91.01" fill="url(#g5a16)"/><rect x="2132.2" y="150.50" width="6.6" height="91.01" fill="url(#g5a17)"/><rect x="2138.2" y="150.50" width="6.6" height="91.01" fill="url(#g5a18)"/><rect x="2144.2" y="150.50" width="6.6" height="91.01" fill="url(#g5a19)"/><rect x="2150.2" y="150.50" width="6.6" height="91.01" fill="url(#g5a20)"/><rect x="2156.2" y="150.50" width="6.6" height="91.01" fill="url(#g5a21)"/><rect x="2162.2" y="150.50" width="6.6" height="91.01" fill="url(#g5a22)"/><rect x="2168.2" y="150.50" width="6.6" height="91.01" fill="url(#g5a23)"/><rect x="2174.2" y="150.50" width="6.6" height="91.01" fill="url(#g5a24)"/><rect x="2180.2" y="150.50" width="6.6" height="91.01" fill="url(#g5a25)"/><rect x="2186.2" y="150.50" width="6.6" height="91.01" fill="url(#g5a26)"/><rect x="2192.2" y="150.50" width="6.6" height="91.01" fill="url(#g5a27)"/><rect x="2198.2" y="150.50" width="6.6" height="91.01" fill="url(#g5a28)"/><rect x="2204.2" y="150.50" width="6.6" height="91.01" fill="url(#g5a29)"/><rect x="2210.2" y="150.50" width="6.6" height="91.01" fill="url(#g5a30)"/><rect x="2216.2" y="150.50" width="6.6" height="91.01" fill="url(#g5a31)"/><rect x="2222.2" y="150.50" width="6.6" height="91.01" fill="url(#g5a32)"/><rect x="2228.2" y="150.50" width="6.6" height="91.01" fill="url(#g5a33)"/><rect x="2234.2" y="150.50" width="6.6" height="91.01" fill="url(#g5a34)"/><rect x="2240.2" y="150.50" width="6.6" height="91.01" fill="url(#g5a35)"/><rect x="2246.2" y="150.50" width="6.6" height="91.01" fill="url(#g5a36)"/><rect x="2252.2" y="150.50" width="6.6" height="91.01" fill="url(#g5a37)"/><rect x="2258.2" y="150.50" width="4.6" height="91.01" fill="url(#g5a38)"/></g><g filter="url(#fb5b)"><rect x="2030.2" y="240.71" width="10.6" height="438.04" fill="url(#g5b0)"/><rect x="2040.2" y="240.71" width="10.6" height="438.04" fill="url(#g5b1)"/><rect x="2050.2" y="240.71" width="10.6" height="438.04" fill="url(#g5b2)"/><rect x="2060.2" y="240.71" width="10.6" height="438.04" fill="url(#g5b3)"/><rect x="2070.2" y="240.71" width="10.6" height="438.04" fill="url(#g5b4)"/><rect x="2080.2" y="240.71" width="10.6" height="438.04" fill="url(#g5b5)"/><rect x="2090.2" y="240.71" width="10.6" height="438.04" fill="url(#g5b6)"/><rect x="2100.2" y="240.71" width="10.6" height="438.04" fill="url(#g5b7)"/><rect x="2110.2" y="240.71" width="10.6" height="438.04" fill="url(#g5b8)"/><rect x="2120.2" y="240.71" width="10.6" height="438.04" fill="url(#g5b9)"/><rect x="2130.2" y="240.71" width="10.6" height="438.04" fill="url(#g5b10)"/><rect x="2140.2" y="240.71" width="10.6" height="438.04" fill="url(#g5b11)"/><rect x="2150.2" y="240.71" width="10.6" height="438.04" fill="url(#g5b12)"/><rect x="2160.2" y="240.71" width="10.6" height="438.04" fill="url(#g5b13)"/><rect x="2170.2" y="240.71" width="10.6" height="438.04" fill="url(#g5b14)"/><rect x="2180.2" y="240.71" width="10.6" height="438.04" fill="url(#g5b15)"/><rect x="2190.2" y="240.71" width="10.6" height="438.04" fill="url(#g5b16)"/><rect x="2200.2" y="240.71" width="10.6" height="438.04" fill="url(#g5b17)"/><rect x="2210.2" y="240.71" width="10.6" height="438.04" fill="url(#g5b18)"/><rect x="2220.2" y="240.71" width="10.6" height="438.04" fill="url(#g5b19)"/><rect x="2230.2" y="240.71" width="10.6" height="438.04" fill="url(#g5b20)"/><rect x="2240.2" y="240.71" width="10.6" height="438.04" fill="url(#g5b21)"/><rect x="2250.2" y="240.71" width="10.6" height="438.04" fill="url(#g5b22)"/><rect x="2260.2" y="240.71" width="2.6" height="438.04" fill="url(#g5b23)"/></g></g>
<clipPath id="cc5"><rect x="1938.2" y="150.5" width="312.0" height="528.2"/></clipPath>
<g clip-path="url(#cc5)">
<path class="th" d="M2042.6 161.8C2053.4 162.2 2053.0 162.2 2075.0 163.0C2097.0 163.8 2097.3 163.8 2108.5 164.2M2153.0 165.0C2168.7 165.4 2168.9 165.4 2200.0 166.2C2231.1 167.0 2230.8 167.1 2246.2 167.5M2043.6 215.7C2049.1 217.1 2049.0 216.8 2060.0 220.0C2071.0 223.2 2071.1 223.5 2076.7 225.2M2098.0 253.6C2099.5 258.1 2100.1 257.5 2102.5 267.0C2104.9 276.5 2104.2 277.0 2105.1 282.0M2105.9 330.6L2105.9 332.6M2100.4 362.5C2099.1 368.0 2099.6 368.0 2096.5 379.0C2093.4 390.0 2092.8 390.1 2091.0 395.6M2072.0 428.7C2067.3 432.5 2067.8 432.9 2058.0 440.0C2048.2 447.1 2047.7 446.7 2042.6 450.0"/>
<path class="tk" d="M2042.6 185.9C2047.4 186.1 2047.2 185.9 2057.0 186.4C2066.8 186.9 2059.3 186.2 2072.0 187.3C2084.7 188.4 2079.2 187.9 2095.0 189.8C2110.8 191.7 2105.6 190.8 2119.3 193.0C2133.0 195.2 2124.9 193.9 2136.0 196.4C2147.1 198.9 2143.8 198.3 2152.5 200.6C2161.2 202.9 2155.7 201.5 2162.0 203.4C2168.3 205.3 2168.3 205.3 2171.4 206.3M2202.2 214.8C2204.1 215.8 2204.1 215.9 2208.0 217.8C2211.9 219.7 2209.0 219.2 2214.0 220.5C2219.0 221.8 2216.7 221.0 2223.0 221.8C2229.3 222.6 2229.7 222.5 2233.0 222.8"/>
<text class="c5" transform="translate(2131.0 162.8) rotate(1)" y="9.1">10</text>
<text class="c5" font-style="italic" transform="translate(2185.9 209.0) rotate(0)" y="9.1">0</text>
<text class="c5" transform="translate(2105.0 307.6) rotate(-90)" y="9.1">-5</text>
</g>
<polygon points="2250.2,150.5 2239.2,204.0 2225.9,256.3 2224.7,261.4 2220.8,291.5 2217.2,323.5 2206.3,401.7 2197.1,474.5 2185.8,559.5 2175.7,626.1 2170.7,678.8 2250.2,678.8" fill="#696969" stroke="#000" stroke-width="1.1" stroke-linejoin="miter"/>
<path d="M1930.2 150.50H1938.2M2250.2 150.50h7.6M1930.2 203.32H1938.2M2250.2 203.32h7.6M1930.2 256.15H1938.2M2250.2 256.15h7.6M1930.2 308.98H1938.2M2250.2 308.98h7.6M1930.2 361.80H1938.2M2250.2 361.80h7.6M1930.2 414.62H1938.2M2250.2 414.62h7.6M1930.2 467.45H1938.2M2250.2 467.45h7.6M1930.2 520.27H1938.2M2250.2 520.27h7.6M1930.2 573.10H1938.2M2250.2 573.10h7.6M1930.2 625.92H1938.2M2250.2 625.92h7.6M1930.2 678.75H1938.2M2250.2 678.75h7.6M1938.25 678.8v8.6M1990.25 678.8v8.6M2042.25 678.8v8.6M2094.25 678.8v8.6M2146.25 678.8v8.6M2198.25 678.8v8.6M2250.25 678.8v8.6" stroke="#000" stroke-width="1.1" fill="none"/>
<text class="tl" x="2259.8" y="159.0">0</text>
<text class="tl" x="2259.8" y="211.8">50</text>
<text class="tl" x="2259.8" y="264.6">100</text>
<text class="tl" x="2259.8" y="317.5">150</text>
<text class="tl" x="2259.8" y="370.3">200</text>
<text class="tl" x="2259.8" y="423.1">250</text>
<text class="tl" x="2259.8" y="475.9">300</text>
<text class="tl" x="2259.8" y="528.8">350</text>
<text class="tl" x="2259.8" y="581.6">400</text>
<text class="tl" x="2259.8" y="634.4">450</text>
<text class="tl" x="2259.8" y="687.2">500</text>
<text class="tl" x="1938.2" y="710.2" text-anchor="middle">60</text>
<text class="tl" x="1990.2" y="710.2" text-anchor="middle">50</text>
<text class="tl" x="2042.2" y="710.2" text-anchor="middle">40</text>
<text class="tl" x="2094.2" y="710.2" text-anchor="middle">30</text>
<text class="tl" x="2146.2" y="710.2" text-anchor="middle">20</text>
<text class="tl" x="2198.2" y="710.2" text-anchor="middle">10</text>
<text class="tl" x="2250.2" y="710.2" text-anchor="middle">0</text>
</g>
</svg>
</body></html>
